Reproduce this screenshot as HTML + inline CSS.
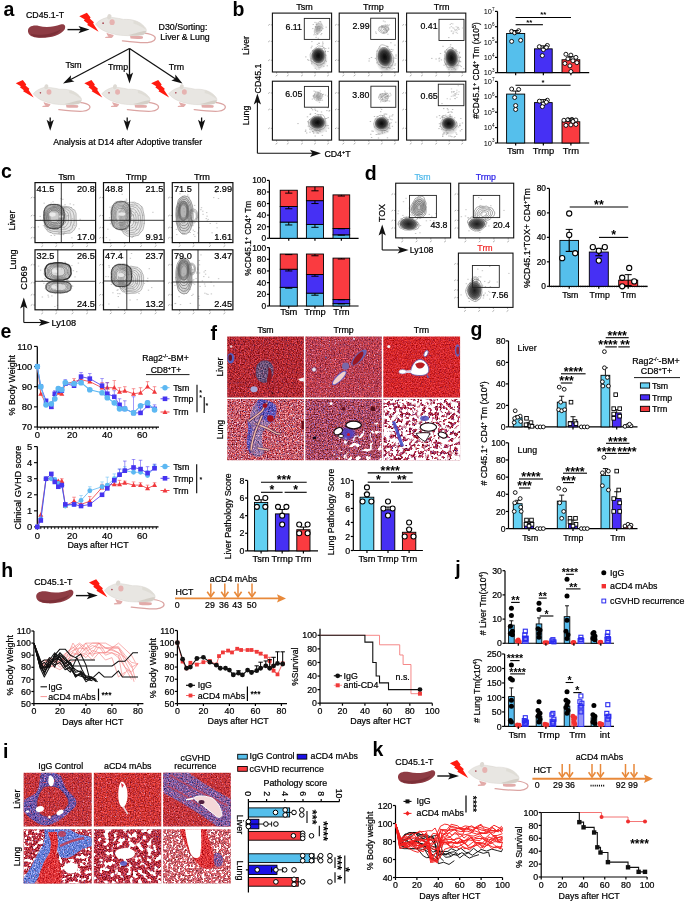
<!DOCTYPE html>
<html><head><meta charset="utf-8"><style>
html,body{margin:0;padding:0;background:#fff;overflow:hidden;}
svg{display:block;will-change:transform;}
text{font-family:"Liberation Sans", sans-serif;}
</style></head><body>
<svg width="685" height="903" viewBox="0 0 685 903" font-family='"Liberation Sans", sans-serif' fill="#000">
<defs>
<g id="mouse">
  <path d="M48.5 9 C53 9.5 57 10 59.2 12.5 C61 15 58 18 52 18.4 C44 18.8 34 17.5 26.9 16.6" fill="none" stroke="#DBA4A2" stroke-width="1.25" stroke-linecap="round"/>
  <path d="M34.5 11.2 C38 11.6 43 11.4 47 12 C48 13 47.5 14.3 46.5 14.6 C42 15 38 14.8 35 14.3 Z" fill="#E2ABA9"/>
  <path d="M11 8.5 C13 9.5 16 10.2 18.2 10.8 C18 12 17 13.2 16 13.8 L10 13.9 C9.2 13.4 9.6 12.6 10.8 12.5 L13 12.3 C12 11.2 11.2 10 11 8.5Z" fill="#E2ABA9"/>
  <path d="M0 0 C2 -2.6 6 -5.2 11 -6.6 C15 -7.6 21 -6.2 28 -4.8 C36 -5.2 43 -3.2 47 0.6 C49.8 3 51.2 5 50.8 6.8 C50.2 9.2 48.4 10.6 46.6 10.7 C40 11.6 33 11.6 28 11.3 C24 11.1 21 10.6 19 10 C15 9.1 12 8.1 10 7.3 C6 5.6 3 3.4 0 0Z" fill="#E8E6E2" stroke="#D6D2CC" stroke-width="0.5"/>
  <path d="M33 10.8 C40 9.5 46 6.5 50.8 6.8 C50.2 9.2 48.4 10.6 46.6 10.7 C41 11.5 36 11.5 33 10.8 Z" fill="#D4CFC7"/>
  <path d="M38 -3.8 C44 -2.6 48 1 50.5 5.5 C47 3 43 0.5 38 -0.8Z" fill="#DCD8D1" opacity="0.7"/>
  <ellipse cx="13.8" cy="-7.4" rx="2.1" ry="2.7" fill="#DEDAD4" transform="rotate(15 13.8 -7.4)"/>
  <ellipse cx="16.6" cy="-2" rx="2.6" ry="2.9" fill="#E6B3B1"/>
  <circle cx="7.6" cy="-1" r="0.85" fill="#A84652"/>
</g>
<g id="bolt">
  <path d="M-19.3 -15.5 L-11.7 -19 L-8 -14.2 L-8.8 -13.1 L-4.7 -9.4 L-5.4 -8.1 L0 0 L-11.4 -6.7 L-10.6 -7.9 L-14.8 -11.1 L-13.8 -12.1 Z" fill="#FF1A0F"/>
</g>
<g id="spleen">
  <path d="M0 6.2 C-0.4 1.5 5 -0.6 11 0.8 C17.5 2.4 26 1.8 32.5 -0.6 C36.5 -2 38.2 0.8 36.6 4.2 C33 10 21 13.2 11 12.5 C4 12 0.4 10 0 6.2 Z" fill="#8E3C44"/>
  <path d="M3 8.5 C10 10.5 22 10.2 33 4 C30 9.5 20 12.6 11 12.2 C6 11.8 3.5 10.6 3 8.5 Z" fill="#7C3038"/>
</g>
<g id="rarrow">
  <path d="M0 0 L-11 -3.6 L-8.6 0 L-11 3.6 Z" fill="#111"/>
</g>

<radialGradient id="gb">
 <stop offset="0" stop-color="#0a0a0a"/>
 <stop offset="0.35" stop-color="#1c1c1c"/>
 <stop offset="0.6" stop-color="#3a3a3a"/>
 <stop offset="0.8" stop-color="#777"/>
 <stop offset="0.93" stop-color="#bbb" stop-opacity="0.7"/>
 <stop offset="1" stop-color="#ddd" stop-opacity="0"/>
</radialGradient>
<radialGradient id="gbl">
 <stop offset="0" stop-color="#777"/>
 <stop offset="0.5" stop-color="#999"/>
 <stop offset="0.85" stop-color="#bbb" stop-opacity="0.6"/>
 <stop offset="1" stop-color="#ddd" stop-opacity="0"/>
</radialGradient>
<radialGradient id="gb2">
 <stop offset="0" stop-color="#1a1a1a"/>
 <stop offset="0.3" stop-color="#333"/>
 <stop offset="0.6" stop-color="#555"/>
 <stop offset="0.85" stop-color="#888"/>
 <stop offset="1" stop-color="#bbb" stop-opacity="0.3"/>
</radialGradient>
<filter id="tLivA" x="0" y="0" width="1" height="1" color-interpolation-filters="sRGB"><feTurbulence type="fractalNoise" baseFrequency="0.79" numOctaves="2" seed="3" result="n"/><feColorMatrix in="n" values="0.9 0 0 0 0.26 0.5 0 0.2 0 -0.18 0.5 0 0.45 0 -0.27 0 0 0 0 1" result="b"/><feColorMatrix in="n" values="0 0 0 0 0.28 0 0 0 0 0.1 0 0 0 0 0.3 0 4 0 0 -2.52" result="l0"/><feMerge><feMergeNode in="b"/><feMergeNode in="l0"/></feMerge><feGaussianBlur stdDeviation="0.3"/></filter>
<filter id="tLivB" x="0" y="0" width="1" height="1" color-interpolation-filters="sRGB"><feTurbulence type="fractalNoise" baseFrequency="0.79" numOctaves="2" seed="5" result="n"/><feColorMatrix in="n" values="0.9 0 0 0 0.28 0.55 0 0.25 0 -0.15 0.5 0 0.6 0 -0.23 0 0 0 0 1" result="b"/><feColorMatrix in="n" values="0 0 0 0 0.3 0 0 0 0 0.12 0 0 0 0 0.35 0 4 0 0 -2.56" result="l0"/><feColorMatrix in="n" values="0 0 0 0 0.95 0 0 0 0 0.85 0 0 0 0 0.9 0 0 4 0 -2.72" result="l1"/><feMerge><feMergeNode in="b"/><feMergeNode in="l0"/><feMergeNode in="l1"/></feMerge><feGaussianBlur stdDeviation="0.3"/></filter>
<filter id="tLivC" x="0" y="0" width="1" height="1" color-interpolation-filters="sRGB"><feTurbulence type="fractalNoise" baseFrequency="0.79" numOctaves="2" seed="7" result="n"/><feColorMatrix in="n" values="0.6 0 0 0 0.53 0.45 0 0.1 0 -0.12 0.4 0 0.35 0 -0.2 0 0 0 0 1" result="b"/><feColorMatrix in="n" values="0 0 0 0 0.45 0 0 0 0 0.1 0 0 0 0 0.25 0 4 0 0 -2.64" result="l0"/><feMerge><feMergeNode in="b"/><feMergeNode in="l0"/></feMerge><feGaussianBlur stdDeviation="0.3"/></filter>
<filter id="tGrey" x="0" y="0" width="1" height="1" color-interpolation-filters="sRGB"><feTurbulence type="fractalNoise" baseFrequency="0.79" numOctaves="2" seed="41" result="n"/><feColorMatrix in="n" values="0.9 0 0 0 -0.03 0.7 0 0.2 0 -0.12 0.7 0 0.4 0 -0.07 0 0 0 0 1" result="b"/><feColorMatrix in="n" values="0 0 0 0 0.3 0 0 0 0 0.15 0 0 0 0 0.3 0 4 0 0 -2.48" result="l0"/><feColorMatrix in="n" values="0 0 0 0 0.75 0 0 0 0 0.3 0 0 0 0 0.4 0 0 4 0 -2.56" result="l1"/><feMerge><feMergeNode in="b"/><feMergeNode in="l0"/><feMergeNode in="l1"/></feMerge><feGaussianBlur stdDeviation="0.3"/></filter>
<filter id="tBlueF" x="0" y="0" width="1" height="1" color-interpolation-filters="sRGB"><feTurbulence type="fractalNoise" baseFrequency="0.79" numOctaves="2" seed="43" result="n"/><feColorMatrix in="n" values="0.9 0 0.3 0 -0.24 0.6 0 0.3 0 -0.11 0.6 0 0.3 0 0.29 0 0 0 0 1" result="b"/><feColorMatrix in="n" values="0 0 0 0 0.7 0 0 0 0 0.2 0 0 0 0 0.35 0 4 0 0 -2.4" result="l0"/><feColorMatrix in="n" values="0 0 0 0 0.75 0 0 0 0 0.75 0 0 0 0 0.95 0 0 4 0 -2.56" result="l1"/><feColorMatrix in="n" values="0 0 0 0 0.12 0 0 0 0 0.1 0 0 0 0 0.4 0 0 0 4 -2.48" result="l2"/><feMerge><feMergeNode in="b"/><feMergeNode in="l0"/><feMergeNode in="l1"/><feMergeNode in="l2"/></feMerge><feGaussianBlur stdDeviation="0.3"/></filter>
<filter id="tGreyL" x="0" y="0" width="1" height="1" color-interpolation-filters="sRGB"><feTurbulence type="fractalNoise" baseFrequency="0.79" numOctaves="2" seed="45" result="n"/><feColorMatrix in="n" values="1.2 0 0 0 0 0.9 0 0.3 0 -0.12 0.8 0 0.5 0 0.01 0 0 0 0 1" result="b"/><feColorMatrix in="n" values="0 0 0 0 0.35 0 0 0 0 0.3 0 0 0 0 0.75 0 4 0 0 -2.4" result="l0"/><feColorMatrix in="n" values="0 0 0 0 0.8 0 0 0 0 0.3 0 0 0 0 0.4 0 0 4 0 -2.48" result="l1"/><feMerge><feMergeNode in="b"/><feMergeNode in="l0"/><feMergeNode in="l1"/></feMerge><feGaussianBlur stdDeviation="0.3"/></filter>
<filter id="tLungA" x="0" y="0" width="1" height="1" color-interpolation-filters="sRGB"><feTurbulence type="fractalNoise" baseFrequency="0.77" numOctaves="2" seed="9" result="n"/><feColorMatrix in="n" values="1.4 0 -0.3 0 0.21 1.2 0 0.3 0 -0.39 1 0 0.7 0 -0.43 0 0 0 0 1" result="b"/><feColorMatrix in="n" values="0 0 0 0 0.97 0 0 0 0 0.93 0 0 0 0 0.96 0 0 5 0 -3" result="l0"/><feColorMatrix in="n" values="0 0 0 0 0.45 0 0 0 0 0.42 0 0 0 0 0.8 0 0 0 5 -3.3" result="l1"/><feColorMatrix in="n" values="0 0 0 0 0.78 0 0 0 0 0.14 0 0 0 0 0.2 0 5 0 0 -2.9" result="l2"/><feMerge><feMergeNode in="b"/><feMergeNode in="l0"/><feMergeNode in="l1"/><feMergeNode in="l2"/></feMerge><feGaussianBlur stdDeviation="0.3"/></filter>
<filter id="tLungB" x="0" y="0" width="1" height="1" color-interpolation-filters="sRGB"><feTurbulence type="fractalNoise" baseFrequency="0.77" numOctaves="2" seed="11" result="n"/><feColorMatrix in="n" values="1.2 0 0 0 0.08 0.8 0 0.4 0 -0.3 0.8 0 1 0 -0.5 0 0 0 0 1" result="b"/><feColorMatrix in="n" values="0 0 0 0 0.45 0 0 0 0 0.4 0 0 0 0 0.8 0 0 4 0 -2.48" result="l0"/><feColorMatrix in="n" values="0 0 0 0 0.3 0 0 0 0 0.05 0 0 0 0 0.15 0 4 0 0 -2.56" result="l1"/><feMerge><feMergeNode in="b"/><feMergeNode in="l0"/><feMergeNode in="l1"/></feMerge><feGaussianBlur stdDeviation="0.3"/></filter>
<filter id="hLungB" x="0" y="0" width="1" height="1" color-interpolation-filters="sRGB"><feTurbulence type="fractalNoise" baseFrequency="0.23" numOctaves="2" seed="12" result="n"/><feColorMatrix in="n" values="0 0 0 0 1 0 0 0 0 1 0 0 0 0 1 9 0 0 0 -5.22"/></filter>
<filter id="tLungC" x="0" y="0" width="1" height="1" color-interpolation-filters="sRGB"><feTurbulence type="fractalNoise" baseFrequency="0.77" numOctaves="2" seed="13" result="n"/><feColorMatrix in="n" values="1.2 0 0 0 0.06 1 0 0.3 0 -0.47 1 0 0.8 0 -0.6 0 0 0 0 1" result="b"/><feColorMatrix in="n" values="0 0 0 0 0.3 0 0 0 0 0.2 0 0 0 0 0.6 0 5 0 0 -3.1" result="l0"/><feMerge><feMergeNode in="b"/><feMergeNode in="l0"/></feMerge></filter>
<filter id="hLungC" x="0" y="0" width="1" height="1" color-interpolation-filters="sRGB"><feTurbulence type="fractalNoise" baseFrequency="0.31" numOctaves="2" seed="14" result="n"/><feColorMatrix in="n" values="0 0 0 0 1 0 0 0 0 1 0 0 0 0 1 10 0 0 0 -4.4"/></filter>
<filter id="hLungC2" x="0" y="0" width="1" height="1" color-interpolation-filters="sRGB"><feTurbulence type="fractalNoise" baseFrequency="0.13" numOctaves="2" seed="15" result="n"/><feColorMatrix in="n" values="0 0 0 0 1 0 0 0 0 1 0 0 0 0 1 8 0 0 0 -4.8"/></filter>
<filter id="blur1" x="-50%" y="-50%" width="200%" height="200%"><feGaussianBlur stdDeviation="1"/></filter>
<filter id="blur05" x="-50%" y="-50%" width="200%" height="200%"><feGaussianBlur stdDeviation="0.5"/></filter>
<clipPath id="lbHoleClip"><path d="M333 460 L336 436 L350 432 L362 428 L384 420 L384 462Z"/></clipPath>
<clipPath id="hc1"><rect x="227.2" y="336.4" width="76.7" height="61"/></clipPath>
<clipPath id="hc2"><path d="M257 366 C258 362 263 360 267.5 361 C272 362.5 274 367.5 273 373 C272 378.5 269 382.5 264 382.5 C259 382 256 378.5 256 373 C256 370 256.3 368 257 366Z"/></clipPath>
<clipPath id="hc3"><rect x="305.4" y="336.4" width="76.4" height="61"/></clipPath>
<clipPath id="hc4"><rect x="383.3" y="336.4" width="76.8" height="61"/></clipPath>
<clipPath id="hc5"><rect x="227.2" y="399.1" width="76.7" height="61.1"/></clipPath>
<clipPath id="hc6"><path d="M258 400 C263 399 269 401 273 404 C276 408 276 414 273 419 C270 424 266 428 263 432 C261 437 262 444 264 450 C265 456 259 458 254 456 C249 452 248 445 250 438 C251 431 249 425 250 418 C251 410 254 403 258 400Z"/></clipPath>
<clipPath id="hc7"><path d="M258 400 C264 398.5 271 401 275.5 405 C278 410 276 417 272 422 C268 424 262 420 260 414 C258 410 256 404 258 400Z M247 420 C249 425 248 432 247 438 C246 444 248 452 252 456 C249 450 250 440 252 432 C252 426 250 422 247 420Z"/></clipPath>
<clipPath id="hc8"><rect x="305.4" y="399.1" width="76.4" height="61.1"/></clipPath>
<clipPath id="hc9"><rect x="383.3" y="399.1" width="76.8" height="61.1"/></clipPath>
<filter id="tIliv" x="0" y="0" width="1" height="1" color-interpolation-filters="sRGB"><feTurbulence type="fractalNoise" baseFrequency="0.79" numOctaves="2" seed="21" result="n"/><feColorMatrix in="n" values="0.8 0 0 0 0.37 0.5 0 0.2 0 -0.14 0.45 0 0.5 0 -0.24 0 0 0 0 1" result="b"/><feColorMatrix in="n" values="0 0 0 0 0.35 0 0 0 0 0.12 0 0 0 0 0.35 0 4 0 0 -2.64" result="l0"/><feColorMatrix in="n" values="0 0 0 0 0.95 0 0 0 0 0.85 0 0 0 0 0.9 0 0 4 0 -2.8" result="l1"/><feMerge><feMergeNode in="b"/><feMergeNode in="l0"/><feMergeNode in="l1"/></feMerge><feGaussianBlur stdDeviation="0.35"/></filter>
<filter id="tIliv2" x="0" y="0" width="1" height="1" color-interpolation-filters="sRGB"><feTurbulence type="fractalNoise" baseFrequency="0.79" numOctaves="2" seed="23" result="n"/><feColorMatrix in="n" values="0.8 0 0 0 0.41 0.5 0 0.2 0 -0.14 0.45 0 0.5 0 -0.26 0 0 0 0 1" result="b"/><feColorMatrix in="n" values="0 0 0 0 0.35 0 0 0 0 0.12 0 0 0 0 0.35 0 4 0 0 -2.64" result="l0"/><feColorMatrix in="n" values="0 0 0 0 0.95 0 0 0 0 0.85 0 0 0 0 0.9 0 0 4 0 -2.8" result="l1"/><feMerge><feMergeNode in="b"/><feMergeNode in="l0"/><feMergeNode in="l1"/></feMerge><feGaussianBlur stdDeviation="0.35"/></filter>
<filter id="tIblue" x="0" y="0" width="1" height="1" color-interpolation-filters="sRGB"><feTurbulence type="fractalNoise" baseFrequency="0.79" numOctaves="2" seed="25" result="n"/><feColorMatrix in="n" values="0.9 0 0.3 0 -0.22 0.6 0 0.3 0 -0.07 0.6 0 0.3 0 0.29 0 0 0 0 1" result="b"/><feColorMatrix in="n" values="0 0 0 0 0.78 0 0 0 0 0.22 0 0 0 0 0.3 0 4 0 0 -2.32" result="l0"/><feColorMatrix in="n" values="0 0 0 0 0.85 0 0 0 0 0.88 0 0 0 0 0.97 0 0 4 0 -2.56" result="l1"/><feColorMatrix in="n" values="0 0 0 0 0.2 0 0 0 0 0.2 0 0 0 0 0.5 0 0 0 4 -2.56" result="l2"/><feMerge><feMergeNode in="b"/><feMergeNode in="l0"/><feMergeNode in="l1"/><feMergeNode in="l2"/></feMerge><feGaussianBlur stdDeviation="0.35"/></filter>
<filter id="tIblueL" x="0" y="0" width="1" height="1" color-interpolation-filters="sRGB"><feTurbulence type="fractalNoise" baseFrequency="0.79" numOctaves="2" seed="26" result="n"/><feColorMatrix in="n" values="0.8 0 0.3 0 -0.15 0.6 0 0.3 0 0.05 0.6 0 0.3 0 0.4 0 0 0 0 1" result="b"/><feColorMatrix in="n" values="0 0 0 0 0.75 0 0 0 0 0.2 0 0 0 0 0.3 0 4 0 0 -2.56" result="l0"/><feColorMatrix in="n" values="0 0 0 0 0.9 0 0 0 0 0.92 0 0 0 0 0.98 0 0 4 0 -2.48" result="l1"/><feMerge><feMergeNode in="b"/><feMergeNode in="l0"/><feMergeNode in="l1"/></feMerge><feGaussianBlur stdDeviation="0.3"/></filter>
<filter id="tIpur" x="0" y="0" width="1" height="1" color-interpolation-filters="sRGB"><feTurbulence type="fractalNoise" baseFrequency="0.79" numOctaves="2" seed="35" result="n"/><feColorMatrix in="n" values="1.2 0 0.3 0 -0.25 0.7 0 0.3 0 -0.14 0.7 0 0.3 0 0.12 0 0 0 0 1" result="b"/><feColorMatrix in="n" values="0 0 0 0 0.8 0 0 0 0 0.25 0 0 0 0 0.3 0 4 0 0 -2.24" result="l0"/><feColorMatrix in="n" values="0 0 0 0 0.35 0 0 0 0 0.4 0 0 0 0 0.8 0 0 4 0 -2.4" result="l1"/><feColorMatrix in="n" values="0 0 0 0 0.9 0 0 0 0 0.85 0 0 0 0 0.92 0 0 0 4 -2.64" result="l2"/><feMerge><feMergeNode in="b"/><feMergeNode in="l0"/><feMergeNode in="l1"/><feMergeNode in="l2"/></feMerge><feGaussianBlur stdDeviation="0.35"/></filter>
<filter id="tIpur2" x="0" y="0" width="1" height="1" color-interpolation-filters="sRGB"><feTurbulence type="fractalNoise" baseFrequency="0.79" numOctaves="2" seed="37" result="n"/><feColorMatrix in="n" values="1.2 0 0.3 0 -0.33 0.7 0 0.3 0 -0.16 0.7 0 0.3 0 0.16 0 0 0 0 1" result="b"/><feColorMatrix in="n" values="0 0 0 0 0.78 0 0 0 0 0.22 0 0 0 0 0.3 0 4 0 0 -2.32" result="l0"/><feColorMatrix in="n" values="0 0 0 0 0.3 0 0 0 0 0.35 0 0 0 0 0.78 0 0 4 0 -2.4" result="l1"/><feColorMatrix in="n" values="0 0 0 0 0.85 0 0 0 0 0.85 0 0 0 0 0.95 0 0 0 4 -2.72" result="l2"/><feMerge><feMergeNode in="b"/><feMergeNode in="l0"/><feMergeNode in="l1"/><feMergeNode in="l2"/></feMerge><feGaussianBlur stdDeviation="0.35"/></filter>
<filter id="tIred" x="0" y="0" width="1" height="1" color-interpolation-filters="sRGB"><feTurbulence type="fractalNoise" baseFrequency="0.79" numOctaves="2" seed="33" result="n"/><feColorMatrix in="n" values="0.7 0 0 0 0.51 0.7 0 0.2 0 -0.25 0.6 0 0.3 0 -0.23 0 0 0 0 1" result="b"/><feColorMatrix in="n" values="0 0 0 0 0.97 0 0 0 0 0.7 0 0 0 0 0.7 0 0 4 0 -2.64" result="l0"/><feMerge><feMergeNode in="b"/><feMergeNode in="l0"/></feMerge><feGaussianBlur stdDeviation="0.3"/></filter>
<filter id="tIlung" x="0" y="0" width="1" height="1" color-interpolation-filters="sRGB"><feTurbulence type="fractalNoise" baseFrequency="0.77" numOctaves="2" seed="27" result="n"/><feColorMatrix in="n" values="1.2 0 0 0 0.12 0.8 0 0.3 0 -0.35 0.8 0 0.6 0 -0.44 0 0 0 0 1" result="b"/><feColorMatrix in="n" values="0 0 0 0 0.4 0 0 0 0 0.08 0 0 0 0 0.18 0 4 0 0 -2.56" result="l0"/><feColorMatrix in="n" values="0 0 0 0 0.35 0 0 0 0 0.3 0 0 0 0 0.7 0 0 4 0 -2.64" result="l1"/><feMerge><feMergeNode in="b"/><feMergeNode in="l0"/><feMergeNode in="l1"/></feMerge><feGaussianBlur stdDeviation="0.3"/></filter>
<filter id="hIlung1" x="0" y="0" width="1" height="1" color-interpolation-filters="sRGB"><feTurbulence type="fractalNoise" baseFrequency="0.27" numOctaves="2" seed="28" result="n"/><feColorMatrix in="n" values="0 0 0 0 1 0 0 0 0 1 0 0 0 0 1 10 0 0 0 -5.3"/></filter>
<filter id="hIlung2" x="0" y="0" width="1" height="1" color-interpolation-filters="sRGB"><feTurbulence type="fractalNoise" baseFrequency="0.21" numOctaves="2" seed="29" result="n"/><feColorMatrix in="n" values="0 0 0 0 1 0 0 0 0 1 0 0 0 0 1 10 0 0 0 -5.3"/></filter>
<filter id="tIlung3" x="0" y="0" width="1" height="1" color-interpolation-filters="sRGB"><feTurbulence type="fractalNoise" baseFrequency="0.77" numOctaves="2" seed="31" result="n"/><feColorMatrix in="n" values="1.2 0 0 0 0.2 0.8 0 0.3 0 -0.17 0.8 0 0.6 0 -0.28 0 0 0 0 1" result="b"/><feColorMatrix in="n" values="0 0 0 0 0.6 0 0 0 0 0.12 0 0 0 0 0.2 0 4 0 0 -2.4" result="l0"/><feMerge><feMergeNode in="b"/><feMergeNode in="l0"/></feMerge><feGaussianBlur stdDeviation="0.2"/></filter>
<filter id="hIlung3" x="0" y="0" width="1" height="1" color-interpolation-filters="sRGB"><feTurbulence type="fractalNoise" baseFrequency="0.42" numOctaves="2" seed="32" result="n"/><feColorMatrix in="n" values="0 0 0 0 1 0 0 0 0 1 0 0 0 0 1 10 0 0 0 -5.4"/></filter>
<clipPath id="iBand"><path d="M163 772 L186 772 C200 782 215 792 231 800 L231 826 L220 826 C205 816 185 802 163 792Z"/></clipPath>
<clipPath id="iHole4"><path d="M23 829 L46 829 C44 840 40 850 34 860 L23 870Z M60 840 L92 838 L92 884 L62 884 C60 870 62 860 60 850Z"/></clipPath>
<clipPath id="hc10"><rect x="23.6" y="772.7" width="68.1" height="53.8"/></clipPath>
<clipPath id="hc11"><path d="M41 773 C47 772 57 772 61 776 C63 783 65 789 71 794 C77 798 78 804 74 808 C69 813 64 817 58 821 C52 825 45 827 39 824 C32 820 27 816 23.5 811 L23.5 801 C27 797 33 796 36 793 C40 788 39 780 41 773Z M44 787 C50 785 58 786 62 791 C67 796 71 801 67 807 C63 812 56 815 49 817 C43 817 38 814 37 807 C36 800 39 792 44 787Z" clip-rule="evenodd"/></clipPath>
<clipPath id="hc12"><rect x="93.8" y="772.7" width="67.5" height="53.8"/></clipPath>
<clipPath id="hc13"><rect x="163.1" y="772.7" width="67.7" height="53.8"/></clipPath>
<clipPath id="hc14"><path d="M163 772 L188 772 C200 781 214 790 231 799 L231 827 L218 827 C203 816 184 803 163 793Z"/></clipPath>
<clipPath id="hc15"><rect x="23.6" y="829.3" width="68.1" height="54.1"/></clipPath>
<clipPath id="hc16"><path d="M44 829 L57 829 L58 836 L56 845 L50 855 L44 866 L38 878 L34 884 L23 884 L23 879 L31 867 L37 855 L43 845 L45 836Z"/></clipPath>
<clipPath id="hc17"><path d="M56 829 L70 829 C74 833 80 835 88 836 L92 838 L92 846 C86 847 80 850 74 855 C70 858 64 859 60 857 L57 850 L58 840Z"/></clipPath>
<clipPath id="hc18"><path d="M48 832 L57 832 L58 845 L56 855 L60 864 L62 876 L60 884 L37 884 L40 872 L44 862 L50 852 L51 843Z"/></clipPath>
<clipPath id="hc19"><rect x="93.8" y="829.3" width="67.5" height="54.1"/></clipPath>
<clipPath id="hc20"><rect x="163.1" y="829.3" width="67.7" height="54.1"/></clipPath>
<clipPath id="hc21"><path d="M180 829 C182 840 188 850 196 862 C200 868 210 872 214 866 C216 858 212 850 210 842 C208 836 206 832 207 829Z"/></clipPath>
<clipPath id="hc22"><path d="M215 853 C219 852 223 855 223 860 C223 865 220 868 216 866 C213 863 213 857 215 853Z"/></clipPath></defs>
<text x="3.4" y="16.2" font-size="19.5" font-weight="bold">a</text>
<text x="45" y="18.4" font-size="8.8" text-anchor="middle" stroke="#000" stroke-width="0.22">CD45.1-T</text>
<use href="#spleen" transform="translate(28 25.2)"/>
<line x1="67.5" y1="29.6" x2="83.5" y2="29.6" stroke="#111" stroke-width="1.4"/>
<use href="#rarrow" transform="translate(89.5 29.6)"/>
<use href="#bolt" transform="translate(98.6 31.7)"/>
<use href="#mouse" transform="translate(95.5 24.2)"/>
<text x="183" y="30.2" font-size="8.8" text-anchor="middle" stroke="#000" stroke-width="0.22">D30/Sorting:</text>
<text x="185" y="40.3" font-size="8.8" text-anchor="middle" stroke="#000" stroke-width="0.22">Liver &amp; Lung</text>
<line x1="129.5" y1="48.5" x2="68.31" y2="80.71" stroke="#111" stroke-width="1.3"/>
<use href="#rarrow" transform="translate(63 83.5) rotate(152.24) scale(1)"/>
<line x1="129.5" y1="48.5" x2="129.5" y2="77.5" stroke="#111" stroke-width="1.3"/>
<use href="#rarrow" transform="translate(129.5 83.5) rotate(90) scale(1)"/>
<line x1="129.5" y1="48.5" x2="177.49" y2="80.19" stroke="#111" stroke-width="1.3"/>
<use href="#rarrow" transform="translate(182.5 83.5) rotate(33.44) scale(1)"/>
<text x="73.6" y="68" font-size="8.8" text-anchor="middle" stroke="#000" stroke-width="0.22">Tsm</text>
<text x="118" y="69.8" font-size="8.8" text-anchor="middle" stroke="#000" stroke-width="0.22">Trmp</text>
<text x="176.4" y="69.8" font-size="8.8" text-anchor="middle" stroke="#000" stroke-width="0.22">Trm</text>
<use href="#bolt" transform="translate(33.7 97.6) scale(0.93)"/>
<use href="#mouse" transform="translate(33.2 93.8) scale(0.95)"/>
<use href="#bolt" transform="translate(102.3 97.6) scale(0.93)"/>
<use href="#mouse" transform="translate(101.8 93.8) scale(0.95)"/>
<use href="#bolt" transform="translate(169.1 97.6) scale(0.93)"/>
<use href="#mouse" transform="translate(168.6 93.8) scale(0.95)"/>
<line x1="50.2" y1="117.5" x2="50.2" y2="124.8" stroke="#111" stroke-width="1.3"/>
<use href="#rarrow" transform="translate(50.2 130.8) rotate(90) scale(1)"/>
<line x1="127.2" y1="117.5" x2="127.2" y2="124.8" stroke="#111" stroke-width="1.3"/>
<use href="#rarrow" transform="translate(127.2 130.8) rotate(90) scale(1)"/>
<line x1="201.6" y1="117.5" x2="201.6" y2="124.8" stroke="#111" stroke-width="1.3"/>
<use href="#rarrow" transform="translate(201.6 130.8) rotate(90) scale(1)"/>
<text x="127.7" y="144.6" font-size="8.75" text-anchor="middle" stroke="#000" stroke-width="0.22">Analysis at D14 after Adoptive transfer</text>
<text x="232.6" y="15.9" font-size="19.5" font-weight="bold">b</text>
<text x="304.5" y="10" font-size="9" text-anchor="middle" stroke="#000" stroke-width="0.22">Tsm</text>
<text x="373.4" y="10" font-size="9" text-anchor="middle" stroke="#000" stroke-width="0.22">Trmp</text>
<text x="441.6" y="10" font-size="9" text-anchor="middle" stroke="#000" stroke-width="0.22">Trm</text>
<line x1="268.2" y1="25.48" x2="269.8" y2="24.28" stroke="#777" stroke-width="0.6"/>
<line x1="270.8" y1="24.88" x2="272.4" y2="24.88" stroke="#777" stroke-width="0.6"/>
<line x1="268.2" y1="41.97" x2="269.8" y2="40.77" stroke="#777" stroke-width="0.6"/>
<line x1="270.8" y1="41.37" x2="272.4" y2="41.37" stroke="#777" stroke-width="0.6"/>
<line x1="268.2" y1="60.82" x2="269.8" y2="59.62" stroke="#777" stroke-width="0.6"/>
<line x1="270.8" y1="60.22" x2="272.4" y2="60.22" stroke="#777" stroke-width="0.6"/>
<line x1="275.64" y1="76.2" x2="277.44" y2="74.8" stroke="#777" stroke-width="0.6"/>
<line x1="276.54" y1="72" x2="276.54" y2="73.6" stroke="#777" stroke-width="0.6"/>
<line x1="286.89" y1="76.2" x2="288.69" y2="74.8" stroke="#777" stroke-width="0.6"/>
<line x1="287.79" y1="72" x2="287.79" y2="73.6" stroke="#777" stroke-width="0.6"/>
<line x1="301.1" y1="76.2" x2="302.9" y2="74.8" stroke="#777" stroke-width="0.6"/>
<line x1="302" y1="72" x2="302" y2="73.6" stroke="#777" stroke-width="0.6"/>
<line x1="314.12" y1="76.2" x2="315.92" y2="74.8" stroke="#777" stroke-width="0.6"/>
<line x1="315.02" y1="72" x2="315.02" y2="73.6" stroke="#777" stroke-width="0.6"/>
<line x1="327.15" y1="76.2" x2="328.95" y2="74.8" stroke="#777" stroke-width="0.6"/>
<line x1="328.05" y1="72" x2="328.05" y2="73.6" stroke="#777" stroke-width="0.6"/>
<path d="M323.5 47.9h.6M314.6 60.3h.6M312.7 57.2h.6M319.3 51.9h.6M311.1 59.1h.6M323.8 53.2h.6M316.5 69.2h.6M315.2 54.1h.6M322.7 43.7h.6M315.0 68.2h.6M325.0 51.4h.6M315.8 58.3h.6M311.4 61.6h.6M307.4 59.7h.6M317.4 57.3h.6M317.3 50.8h.6M322.0 48.4h.6M324.7 57.8h.6M321.1 53.8h.6M320.9 66.1h.6M320.3 50.5h.6M322.5 60.7h.6M305.5 56.9h.6M323.7 63.3h.6M316.4 49.2h.6M321.0 49.7h.6M325.6 55.6h.6M313.2 53.7h.6M313.8 53.8h.6M314.2 55.0h.6M319.6 61.9h.6M312.2 51.0h.6M315.9 58.1h.6M318.8 43.4h.6M327.7 51.5h.6M328.3 48.2h.6M313.0 55.9h.6M317.1 52.3h.6M322.3 45.1h.6M324.1 52.0h.6M325.2 54.8h.6M310.6 60.8h.6M318.9 54.9h.6M313.5 52.4h.6M311.0 47.8h.6M318.7 69.0h.6M321.2 61.0h.6M319.7 51.7h.6M319.3 54.7h.6M323.5 66.3h.6M325.2 60.3h.6M324.0 53.1h.6M317.8 56.2h.6M313.3 50.5h.6M313.4 54.5h.6M319.4 58.0h.6M321.7 56.6h.6M321.0 61.1h.6M322.4 42.1h.6M324.0 58.8h.6M321.7 60.9h.6M319.7 67.6h.6M316.3 61.3h.6M316.7 57.7h.6M319.9 64.0h.6M317.1 44.4h.6M321.2 55.6h.6M311.6 41.6h.6M326.0 61.4h.6M321.1 52.4h.6M318.3 67.1h.6M315.1 59.2h.6M312.7 59.0h.6M312.4 54.2h.6M316.4 63.8h.6M320.5 53.2h.6M317.5 57.3h.6M318.0 51.4h.6M322.6 59.3h.6M315.6 62.3h.6M313.2 50.4h.6M317.1 50.9h.6M311.4 62.9h.6M321.9 57.7h.6M316.2 62.2h.6M314.8 52.5h.6M323.4 51.3h.6M313.5 61.3h.6M316.6 50.7h.6M317.4 55.9h.6M314.3 59.5h.6M322.0 64.9h.6M311.3 58.4h.6M318.7 43.2h.6M313.5 57.9h.6M308.5 60.3h.6M325.4 48.6h.6M316.8 55.5h.6M315.8 37.3h.6M311.5 63.8h.6M316.8 62.1h.6M318.2 57.2h.6M321.3 50.0h.6M320.6 59.7h.6M311.7 46.2h.6M327.0 65.8h.6M316.5 59.4h.6M317.4 65.3h.6" fill="none" stroke="#888" stroke-width="0.7" stroke-linecap="round" opacity="0.8"/>
<ellipse cx="318.8" cy="58.7" rx="9.38" ry="11.05" fill="url(#gbl)" opacity="0.55" transform="rotate(0 318.8 58.7)"/>
<ellipse cx="318.3" cy="55.7" rx="7.5" ry="8.5" fill="url(#gb)" opacity="1" transform="rotate(0 318.3 55.7)"/>
<path d="M325.5 55.7 L325.5 57.2 L325.4 58.7 L325.2 60.3 L324.5 61.8 L323.7 63.2 L322.3 63.7 L321.1 64.7 L319.8 65.3 L318.3 65.0 L316.9 64.9 L315.8 63.9 L314.5 63.5 L313.4 62.6 L312.1 61.7 L311.1 60.5 L310.8 58.9 L310.3 57.4 L310.2 55.7 L310.2 54.0 L311.0 52.6 L312.1 51.5 L312.7 50.2 L313.9 49.6 L314.7 48.4 L315.8 47.8 L317.0 47.1 L318.3 45.8 L319.8 46.1 L321.2 46.3 L322.9 46.5 L324.0 47.8 L324.5 49.6 L325.4 50.9 L325.4 52.7 L325.5 54.2Z" fill="none" stroke="#444" stroke-width="0.45" opacity="0.7" stroke-linejoin="round"/>
<path d="M323.7 55.7 L324.0 56.9 L323.8 58.0 L323.7 59.3 L323.2 60.5 L322.3 61.3 L321.5 62.1 L320.4 62.6 L319.4 62.8 L318.3 62.7 L317.3 62.6 L316.2 62.3 L315.4 61.5 L314.3 61.3 L313.6 60.3 L312.8 59.4 L312.0 58.4 L311.9 57.0 L312.0 55.7 L312.2 54.4 L312.6 53.3 L313.5 52.5 L313.9 51.4 L314.9 51.0 L315.4 49.9 L316.3 49.1 L317.3 48.9 L318.3 48.0 L319.5 48.1 L320.7 48.1 L321.6 49.0 L322.5 49.9 L323.1 51.0 L323.8 52.0 L323.7 53.4 L324.0 54.5Z" fill="none" stroke="#444" stroke-width="0.45" opacity="0.7" stroke-linejoin="round"/>
<path d="M322.5 55.7 L322.4 56.6 L322.2 57.3 L322.0 58.2 L321.7 59.1 L321.3 59.9 L320.6 60.3 L319.9 60.9 L319.1 61.1 L318.3 61.1 L317.6 60.6 L316.8 60.6 L316.2 60.0 L315.5 59.6 L314.8 59.1 L314.1 58.5 L313.9 57.6 L313.5 56.7 L313.6 55.7 L313.9 54.8 L314.3 54.0 L314.8 53.3 L315.3 52.8 L315.8 52.2 L316.2 51.6 L316.8 50.9 L317.6 50.8 L318.3 50.5 L319.2 49.9 L320.0 50.2 L320.8 50.7 L321.4 51.4 L321.9 52.2 L322.3 53.0 L322.3 54.0 L322.3 54.9Z" fill="none" stroke="#444" stroke-width="0.45" opacity="0.7" stroke-linejoin="round"/>
<path d="M320.7 55.7 L320.8 56.2 L320.6 56.7 L320.6 57.3 L320.5 57.8 L320.1 58.2 L319.8 58.6 L319.3 58.9 L318.8 59.0 L318.3 59.0 L317.8 58.7 L317.4 58.6 L317.0 58.3 L316.5 58.2 L316.2 57.8 L315.8 57.4 L315.5 56.9 L315.4 56.3 L315.3 55.7 L315.6 55.1 L315.8 54.6 L316.0 54.2 L316.4 53.8 L316.8 53.5 L317.1 53.2 L317.4 52.9 L317.8 52.6 L318.3 52.2 L318.8 52.1 L319.4 52.3 L319.8 52.6 L320.2 53.1 L320.4 53.6 L320.6 54.1 L320.8 54.6 L320.9 55.2Z" fill="none" stroke="#444" stroke-width="0.45" opacity="0.7" stroke-linejoin="round"/>
<rect x="304.3" y="18.4" width="25.4" height="21" fill="none" stroke="#222" stroke-width="0.9"/>
<path d="M315.1 26.6h.6M316.2 27.1h.6M320.2 21.5h.6M317.0 26.5h.6M315.3 27.9h.6M318.0 38.3h.6M318.9 28.4h.6M320.6 24.2h.6M316.2 30.6h.6M316.5 24.5h.6M316.3 23.0h.6M321.4 33.5h.6M325.9 27.2h.6M317.3 27.6h.6M319.6 28.5h.6M320.4 27.2h.6M313.7 34.8h.6M316.5 33.0h.6M317.0 29.0h.6M313.0 24.5h.6M319.2 30.8h.6M317.3 29.0h.6M312.5 28.6h.6M316.0 24.3h.6M319.0 26.6h.6M315.4 26.8h.6M316.8 27.2h.6M318.2 26.6h.6M320.7 34.7h.6M321.0 27.0h.6M316.1 29.9h.6M317.4 33.9h.6M318.7 30.2h.6M316.3 29.1h.6M314.7 22.4h.6M318.6 23.9h.6M316.2 31.9h.6M322.7 28.6h.6M316.7 31.5h.6M320.9 30.5h.6" fill="none" stroke="#999" stroke-width="0.7" stroke-linecap="round" opacity="0.8"/>
<path d="M322.1 29.7 L321.5 30.7 L320.7 31.4 L320.1 32.1 L319.6 32.9 L318.9 33.4 L318.3 33.9 L317.6 34.3 L316.9 34.8 L316.1 35.0 L315.4 34.8 L315.0 34.2 L314.5 33.6 L314.4 32.6 L314.3 31.5 L314.4 30.4 L314.7 29.3 L315.1 28.3 L315.5 27.3 L315.9 26.4 L316.3 25.4 L316.8 24.5 L317.3 23.4 L318.0 22.8 L318.7 22.2 L319.5 21.7 L320.2 22.0 L320.7 22.2 L321.2 22.8 L321.5 23.4 L322.0 23.9 L322.2 24.6 L322.6 25.4 L322.9 26.3 L322.7 27.4 L322.3 28.6Z" fill="none" stroke="#888" stroke-width="0.5" opacity="0.9" stroke-linejoin="round"/>
<path d="M321.3 29.4 L320.9 30.2 L320.3 30.9 L319.9 31.5 L319.3 31.9 L318.8 32.4 L318.3 32.6 L317.8 33.2 L317.2 33.5 L316.7 33.4 L316.1 33.5 L315.6 33.1 L315.4 32.5 L315.2 31.7 L315.3 30.8 L315.3 30.0 L315.6 29.1 L315.8 28.3 L316.1 27.5 L316.3 26.7 L316.7 25.9 L317.1 25.2 L317.6 24.5 L318.1 23.8 L318.7 23.4 L319.3 23.3 L319.8 23.5 L320.2 23.7 L320.7 23.9 L320.9 24.4 L321.4 24.7 L321.5 25.4 L321.8 25.9 L321.7 26.8 L321.9 27.6 L321.6 28.5Z" fill="none" stroke="#888" stroke-width="0.5" opacity="0.9" stroke-linejoin="round"/>
<path d="M320.5 29.1 L320.2 29.7 L319.8 30.2 L319.5 30.6 L319.1 30.9 L318.7 31.1 L318.4 31.5 L318.0 31.9 L317.6 32.0 L317.2 32.0 L316.7 32.1 L316.4 31.8 L316.2 31.4 L316.2 30.7 L316.1 30.2 L316.3 29.5 L316.4 28.9 L316.6 28.3 L316.8 27.8 L316.9 27.2 L317.2 26.7 L317.5 26.1 L317.8 25.5 L318.2 25.2 L318.6 25.0 L319.1 24.6 L319.4 24.8 L319.8 24.9 L320.0 25.3 L320.3 25.5 L320.5 25.9 L320.7 26.2 L320.7 26.7 L321.0 27.2 L320.8 27.9 L320.7 28.5Z" fill="none" stroke="#888" stroke-width="0.5" opacity="0.9" stroke-linejoin="round"/>
<path d="M319.7 28.8 L319.5 29.2 L319.3 29.5 L319.1 29.7 L318.9 29.9 L318.7 30.1 L318.4 30.3 L318.2 30.4 L317.9 30.7 L317.7 30.6 L317.5 30.5 L317.3 30.4 L317.1 30.2 L317.0 29.9 L317.1 29.4 L317.1 29.1 L317.3 28.7 L317.3 28.4 L317.4 28.0 L317.5 27.7 L317.7 27.3 L317.9 27.0 L318.1 26.6 L318.3 26.4 L318.6 26.2 L318.8 26.2 L319.1 26.1 L319.3 26.3 L319.4 26.5 L319.6 26.6 L319.8 26.8 L319.8 27.1 L319.9 27.3 L319.9 27.7 L319.9 28.1 L319.8 28.5Z" fill="none" stroke="#888" stroke-width="0.5" opacity="0.9" stroke-linejoin="round"/>
<ellipse cx="318.5" cy="28.4" rx="3.2" ry="5" fill="url(#gbl)" opacity="0.6" transform="rotate(20 318.5 28.4)"/>
<rect x="272.4" y="13.1" width="59.2" height="58.9" fill="none" stroke="#111" stroke-width="1.1"/>
<text x="302" y="29.8" font-size="8.8" text-anchor="end" stroke="#000" stroke-width="0.22">6.11</text>
<line x1="335" y1="25.48" x2="336.6" y2="24.28" stroke="#777" stroke-width="0.6"/>
<line x1="337.6" y1="24.88" x2="339.2" y2="24.88" stroke="#777" stroke-width="0.6"/>
<line x1="335" y1="41.97" x2="336.6" y2="40.77" stroke="#777" stroke-width="0.6"/>
<line x1="337.6" y1="41.37" x2="339.2" y2="41.37" stroke="#777" stroke-width="0.6"/>
<line x1="335" y1="60.82" x2="336.6" y2="59.62" stroke="#777" stroke-width="0.6"/>
<line x1="337.6" y1="60.22" x2="339.2" y2="60.22" stroke="#777" stroke-width="0.6"/>
<line x1="342.44" y1="76.2" x2="344.24" y2="74.8" stroke="#777" stroke-width="0.6"/>
<line x1="343.34" y1="72" x2="343.34" y2="73.6" stroke="#777" stroke-width="0.6"/>
<line x1="353.69" y1="76.2" x2="355.49" y2="74.8" stroke="#777" stroke-width="0.6"/>
<line x1="354.59" y1="72" x2="354.59" y2="73.6" stroke="#777" stroke-width="0.6"/>
<line x1="367.9" y1="76.2" x2="369.7" y2="74.8" stroke="#777" stroke-width="0.6"/>
<line x1="368.8" y1="72" x2="368.8" y2="73.6" stroke="#777" stroke-width="0.6"/>
<line x1="380.92" y1="76.2" x2="382.72" y2="74.8" stroke="#777" stroke-width="0.6"/>
<line x1="381.82" y1="72" x2="381.82" y2="73.6" stroke="#777" stroke-width="0.6"/>
<line x1="393.95" y1="76.2" x2="395.75" y2="74.8" stroke="#777" stroke-width="0.6"/>
<line x1="394.85" y1="72" x2="394.85" y2="73.6" stroke="#777" stroke-width="0.6"/>
<path d="M391.8 69.1h.6M385.1 53.6h.6M378.7 59.2h.6M379.1 48.9h.6M385.8 59.9h.6M387.7 52.6h.6M384.7 58.5h.6M376.4 62.8h.6M385.8 58.0h.6M391.5 60.4h.6M389.7 56.4h.6M385.9 66.2h.6M388.5 59.9h.6M378.7 62.1h.6M385.1 64.0h.6M385.9 66.6h.6M384.4 60.4h.6M388.4 51.4h.6M382.5 55.5h.6M395.6 58.3h.6M388.3 63.3h.6M383.2 48.1h.6M390.0 56.1h.6M388.6 49.9h.6M382.3 67.8h.6M392.6 49.9h.6M377.4 58.7h.6M388.7 60.1h.6M386.4 52.1h.6M387.9 66.8h.6M382.3 49.0h.6M380.5 64.3h.6M375.2 58.4h.6M379.2 58.1h.6M383.4 59.1h.6M393.0 61.9h.6M392.0 58.0h.6M382.1 61.7h.6M369.1 58.7h.6M385.6 50.4h.6M387.3 55.1h.6M371.2 57.5h.6M379.3 55.4h.6M383.9 67.8h.6M385.3 58.8h.6M386.8 46.3h.6M391.5 51.5h.6M387.1 51.1h.6M379.3 56.2h.6M395.1 63.9h.6M381.4 57.0h.6M378.4 58.8h.6M381.5 64.1h.6M377.2 56.7h.6M380.1 54.0h.6M388.6 59.9h.6M387.9 67.3h.6M391.0 49.4h.6M387.7 46.7h.6M383.6 56.4h.6M385.6 59.1h.6M384.8 53.7h.6M390.6 65.2h.6M383.5 61.2h.6M388.3 66.2h.6M386.9 63.9h.6M383.3 51.5h.6M382.0 66.1h.6M390.1 60.0h.6M381.6 61.2h.6M393.8 68.5h.6M380.9 58.7h.6M376.7 51.1h.6M385.7 59.2h.6M390.0 67.9h.6M389.3 68.2h.6M381.7 51.1h.6M386.7 50.9h.6M386.0 69.0h.6M379.0 64.6h.6M381.3 67.9h.6M389.0 61.1h.6M395.7 56.1h.6M384.5 51.7h.6M384.7 59.9h.6M385.8 57.7h.6M390.6 42.8h.6M381.6 57.2h.6M394.7 45.1h.6M382.8 51.0h.6M381.0 63.5h.6M387.0 69.1h.6M381.4 60.9h.6M391.2 65.3h.6M382.9 66.9h.6M385.5 58.2h.6M386.2 64.9h.6M394.3 58.0h.6M382.7 63.1h.6M379.9 47.1h.6M389.3 56.3h.6M390.9 51.8h.6M368.8 61.0h.6M387.6 61.2h.6M387.9 56.4h.6M385.1 49.5h.6M387.6 53.4h.6M382.2 63.9h.6M389.7 51.9h.6M395.7 54.9h.6M389.3 65.7h.6M385.9 60.2h.6M394.6 65.2h.6" fill="none" stroke="#888" stroke-width="0.7" stroke-linecap="round" opacity="0.8"/>
<ellipse cx="385.2" cy="60" rx="10" ry="13.65" fill="url(#gbl)" opacity="0.55" transform="rotate(-10 385.2 60)"/>
<ellipse cx="384.7" cy="57" rx="8" ry="10.5" fill="url(#gb)" opacity="1" transform="rotate(-10 384.7 57)"/>
<path d="M392.8 55.6 L393.5 57.5 L393.6 59.6 L393.4 61.6 L392.8 63.4 L392.3 65.5 L390.9 66.5 L389.6 67.5 L388.0 67.5 L386.6 67.9 L385.2 67.4 L383.8 67.6 L382.3 67.1 L381.0 66.3 L379.6 65.4 L378.3 64.1 L377.6 62.2 L376.8 60.4 L376.3 58.5 L376.6 56.5 L376.4 54.6 L376.8 52.8 L377.2 51.0 L378.0 49.5 L378.9 48.1 L379.6 46.1 L380.9 45.0 L382.6 44.8 L384.2 45.2 L385.7 45.8 L387.2 46.5 L388.2 48.2 L389.5 49.2 L390.2 50.9 L390.8 52.5 L391.9 53.9Z" fill="none" stroke="#444" stroke-width="0.45" opacity="0.7" stroke-linejoin="round"/>
<path d="M390.8 55.9 L391.6 57.4 L391.9 59.1 L391.7 60.7 L391.4 62.3 L390.6 63.6 L389.7 64.7 L388.6 65.4 L387.2 65.0 L386.2 65.3 L385.1 65.3 L384.0 65.0 L382.9 64.9 L381.9 64.1 L380.6 63.7 L379.8 62.5 L379.2 61.0 L378.4 59.7 L378.4 58.1 L378.4 56.6 L378.4 55.2 L378.8 53.9 L379.1 52.5 L379.2 50.9 L379.9 49.7 L381.0 49.0 L381.8 47.6 L383.1 47.8 L384.3 47.6 L385.5 47.7 L386.6 48.8 L387.5 50.1 L388.3 51.2 L388.9 52.3 L389.5 53.5 L390.5 54.5Z" fill="none" stroke="#444" stroke-width="0.45" opacity="0.7" stroke-linejoin="round"/>
<path d="M389.0 56.2 L389.5 57.3 L389.8 58.5 L389.7 59.6 L389.6 60.9 L388.8 61.6 L388.4 62.6 L387.5 63.0 L386.6 63.1 L385.8 63.2 L385.0 63.0 L384.2 63.0 L383.4 62.8 L382.6 62.3 L381.8 61.7 L381.1 61.0 L380.6 60.0 L380.4 58.9 L380.0 57.8 L380.1 56.7 L380.1 55.7 L380.2 54.6 L380.7 53.8 L381.0 52.9 L381.4 52.0 L381.9 51.0 L382.6 50.5 L383.5 50.2 L384.4 50.2 L385.3 50.3 L386.0 51.2 L386.7 52.0 L387.4 52.6 L387.8 53.6 L388.2 54.5 L388.7 55.3Z" fill="none" stroke="#444" stroke-width="0.45" opacity="0.7" stroke-linejoin="round"/>
<path d="M387.4 56.5 L387.6 57.2 L387.8 57.9 L387.7 58.6 L387.7 59.4 L387.3 59.9 L386.9 60.4 L386.4 60.7 L385.9 60.8 L385.3 60.7 L384.9 60.7 L384.4 60.5 L383.9 60.4 L383.4 60.2 L382.9 60.0 L382.4 59.5 L382.2 58.8 L382.1 58.1 L381.9 57.5 L381.9 56.8 L382.0 56.2 L381.9 55.5 L382.2 55.0 L382.3 54.3 L382.6 53.8 L382.9 53.2 L383.4 52.8 L384.0 52.9 L384.5 52.9 L385.1 52.9 L385.6 53.4 L385.9 53.9 L386.3 54.3 L386.6 54.8 L386.9 55.4 L387.2 55.9Z" fill="none" stroke="#444" stroke-width="0.45" opacity="0.7" stroke-linejoin="round"/>
<rect x="370.7" y="18.2" width="24.8" height="21.2" fill="none" stroke="#222" stroke-width="0.9"/>
<path d="M387.9 25.7h.6M384.8 21.8h.6M383.8 32.6h.6M389.1 24.9h.6M382.5 27.5h.6M376.0 33.4h.6M386.2 29.9h.6M387.2 27.3h.6M384.8 30.8h.6M386.4 26.8h.6M380.3 30.2h.6M385.3 25.0h.6M387.5 30.2h.6M385.4 28.6h.6M385.8 32.6h.6M383.1 32.8h.6M384.9 29.6h.6M388.7 29.0h.6M385.4 26.7h.6M384.1 28.8h.6M382.5 26.3h.6M386.9 31.6h.6M381.5 26.4h.6M386.6 31.8h.6M381.1 27.2h.6M387.6 34.2h.6M387.1 24.8h.6M388.1 28.2h.6M383.3 29.5h.6M381.3 26.0h.6M375.4 32.0h.6M384.9 27.0h.6M384.2 28.2h.6M382.6 26.2h.6M383.2 21.0h.6M379.1 27.3h.6M388.3 29.8h.6M386.5 30.5h.6M383.5 29.3h.6M384.1 27.0h.6" fill="none" stroke="#999" stroke-width="0.7" stroke-linecap="round" opacity="0.8"/>
<path d="M388.2 27.6 L388.4 28.3 L388.3 29.0 L388.2 29.7 L388.0 30.4 L387.5 31.0 L387.1 31.7 L386.8 32.5 L385.9 32.9 L385.1 33.3 L384.2 33.7 L383.3 33.5 L382.4 33.4 L381.8 33.0 L381.1 32.7 L380.7 32.2 L380.0 31.9 L379.4 31.5 L379.0 31.0 L378.5 30.4 L378.3 29.7 L378.5 28.9 L378.5 28.0 L379.1 27.3 L379.9 26.8 L380.8 26.4 L381.4 25.9 L382.3 25.8 L383.1 25.5 L383.9 25.3 L384.7 25.3 L385.6 25.3 L386.3 25.6 L387.2 25.8 L387.6 26.3 L388.2 26.8Z" fill="none" stroke="#777" stroke-width="0.5" opacity="0.9" stroke-linejoin="round"/>
<path d="M387.1 28.0 L386.9 28.6 L386.9 29.1 L386.8 29.6 L386.9 30.1 L386.5 30.6 L386.3 31.1 L385.8 31.5 L385.3 32.0 L384.7 32.2 L384.0 32.3 L383.4 32.4 L382.8 32.2 L382.2 32.1 L381.8 31.7 L381.4 31.5 L381.0 31.2 L380.5 30.9 L380.2 30.5 L380.1 30.0 L379.7 29.6 L379.7 29.0 L379.9 28.4 L380.4 27.9 L380.9 27.4 L381.5 27.2 L382.0 26.8 L382.7 26.7 L383.2 26.7 L383.8 26.6 L384.4 26.4 L385.1 26.4 L385.5 26.7 L386.2 26.8 L386.5 27.2 L386.7 27.6Z" fill="none" stroke="#777" stroke-width="0.5" opacity="0.9" stroke-linejoin="round"/>
<path d="M385.6 28.6 L385.8 28.8 L385.8 29.2 L385.6 29.5 L385.6 29.8 L385.3 30.1 L385.3 30.4 L385.0 30.7 L384.7 31.0 L384.3 31.2 L383.9 31.2 L383.4 31.3 L383.1 31.1 L382.8 30.9 L382.5 30.8 L382.3 30.6 L382.1 30.4 L381.8 30.3 L381.5 30.0 L381.4 29.8 L381.4 29.4 L381.2 29.1 L381.4 28.8 L381.6 28.4 L381.9 28.1 L382.3 28.0 L382.7 27.8 L383.0 27.7 L383.4 27.6 L383.7 27.6 L384.1 27.5 L384.5 27.5 L384.9 27.6 L385.1 27.8 L385.4 28.0 L385.6 28.2Z" fill="none" stroke="#777" stroke-width="0.5" opacity="0.9" stroke-linejoin="round"/>
<rect x="339.2" y="13.1" width="59.2" height="58.9" fill="none" stroke="#111" stroke-width="1.1"/>
<text x="369.6" y="28.6" font-size="8.8" text-anchor="end" stroke="#000" stroke-width="0.22">2.99</text>
<line x1="402.4" y1="25.48" x2="404" y2="24.28" stroke="#777" stroke-width="0.6"/>
<line x1="405" y1="24.88" x2="406.6" y2="24.88" stroke="#777" stroke-width="0.6"/>
<line x1="402.4" y1="41.97" x2="404" y2="40.77" stroke="#777" stroke-width="0.6"/>
<line x1="405" y1="41.37" x2="406.6" y2="41.37" stroke="#777" stroke-width="0.6"/>
<line x1="402.4" y1="60.82" x2="404" y2="59.62" stroke="#777" stroke-width="0.6"/>
<line x1="405" y1="60.22" x2="406.6" y2="60.22" stroke="#777" stroke-width="0.6"/>
<line x1="409.84" y1="76.2" x2="411.64" y2="74.8" stroke="#777" stroke-width="0.6"/>
<line x1="410.74" y1="72" x2="410.74" y2="73.6" stroke="#777" stroke-width="0.6"/>
<line x1="421.09" y1="76.2" x2="422.89" y2="74.8" stroke="#777" stroke-width="0.6"/>
<line x1="421.99" y1="72" x2="421.99" y2="73.6" stroke="#777" stroke-width="0.6"/>
<line x1="435.3" y1="76.2" x2="437.1" y2="74.8" stroke="#777" stroke-width="0.6"/>
<line x1="436.2" y1="72" x2="436.2" y2="73.6" stroke="#777" stroke-width="0.6"/>
<line x1="448.32" y1="76.2" x2="450.12" y2="74.8" stroke="#777" stroke-width="0.6"/>
<line x1="449.22" y1="72" x2="449.22" y2="73.6" stroke="#777" stroke-width="0.6"/>
<line x1="461.35" y1="76.2" x2="463.15" y2="74.8" stroke="#777" stroke-width="0.6"/>
<line x1="462.25" y1="72" x2="462.25" y2="73.6" stroke="#777" stroke-width="0.6"/>
<path d="M453.7 61.0h.6M456.1 50.2h.6M449.2 54.7h.6M445.6 54.1h.6M448.7 58.0h.6M446.5 63.0h.6M448.5 37.6h.6M458.0 57.3h.6M447.4 61.9h.6M452.8 60.4h.6M446.8 61.3h.6M444.5 58.6h.6M451.6 61.5h.6M450.1 63.4h.6M431.5 58.4h.6M449.9 56.1h.6M459.2 52.3h.6M450.3 44.8h.6M452.3 47.7h.6M454.7 59.0h.6M451.7 48.9h.6M444.9 62.1h.6M439.0 61.0h.6M441.1 59.9h.6M456.4 55.4h.6M440.2 53.5h.6M450.5 52.0h.6M452.4 66.1h.6M450.5 56.0h.6M455.1 57.0h.6M455.5 56.8h.6M459.8 57.1h.6M444.9 59.8h.6M447.2 52.4h.6M450.1 64.4h.6M438.7 58.8h.6M449.9 58.1h.6M455.3 49.8h.6M454.5 57.5h.6M451.4 57.6h.6M449.0 55.4h.6M456.8 65.3h.6M454.0 55.8h.6M443.8 65.2h.6M456.6 61.3h.6M455.4 69.2h.6M463.4 68.7h.6M460.3 61.8h.6M455.7 60.7h.6M452.7 56.2h.6M454.9 69.8h.6M450.3 61.4h.6M454.6 59.7h.6M456.4 61.5h.6M444.7 52.4h.6M455.3 64.1h.6M457.4 61.5h.6M452.4 48.6h.6M459.0 53.2h.6M457.1 51.7h.6M447.6 60.9h.6M449.0 54.8h.6M456.3 64.6h.6M453.5 57.4h.6M446.8 56.4h.6M448.4 59.6h.6M455.6 58.6h.6M447.0 55.5h.6M458.5 61.0h.6M452.7 61.8h.6M454.7 60.9h.6M457.9 65.6h.6M435.8 59.0h.6M452.2 67.5h.6M451.5 69.4h.6M444.5 51.2h.6M450.4 54.8h.6M445.5 64.0h.6M453.0 60.1h.6M449.3 61.8h.6M450.8 54.9h.6M454.3 62.6h.6M451.9 64.9h.6M445.4 59.0h.6M448.6 69.3h.6M460.1 57.4h.6M445.5 63.4h.6M449.9 58.9h.6M445.7 64.2h.6M452.5 62.8h.6M453.2 53.7h.6M439.2 58.1h.6M448.0 56.3h.6M456.8 59.3h.6M459.8 61.3h.6M455.3 63.6h.6M455.9 51.2h.6M457.5 60.8h.6M446.1 64.3h.6M453.4 69.0h.6M455.5 62.6h.6M459.7 65.4h.6M454.0 68.5h.6M446.7 64.9h.6M451.6 53.0h.6M453.5 62.5h.6M460.9 66.6h.6M442.7 46.3h.6M451.1 58.5h.6M446.4 49.8h.6M450.4 51.9h.6" fill="none" stroke="#888" stroke-width="0.7" stroke-linecap="round" opacity="0.8"/>
<ellipse cx="452" cy="61" rx="8.5" ry="13" fill="url(#gbl)" opacity="0.55" transform="rotate(-5 452 61)"/>
<ellipse cx="451.5" cy="58" rx="6.8" ry="10" fill="url(#gb)" opacity="1" transform="rotate(-5 451.5 58)"/>
<path d="M459.2 57.3 L459.3 59.4 L459.4 61.5 L458.4 63.1 L457.8 64.7 L456.7 65.6 L455.4 66.1 L454.5 66.9 L453.3 67.0 L452.3 67.6 L451.2 67.6 L450.0 67.7 L448.7 67.7 L447.3 67.3 L446.5 65.7 L445.5 64.2 L444.7 62.5 L444.2 60.6 L444.3 58.6 L444.5 56.8 L444.4 54.9 L445.3 53.5 L445.3 51.4 L446.2 50.2 L447.1 49.0 L448.2 48.1 L449.3 47.4 L450.5 46.9 L451.8 47.8 L453.0 48.2 L454.1 49.0 L455.0 50.2 L456.0 51.1 L456.8 52.5 L457.7 53.8 L458.6 55.4Z" fill="none" stroke="#444" stroke-width="0.45" opacity="0.7" stroke-linejoin="round"/>
<path d="M457.7 57.5 L457.7 59.1 L457.5 60.7 L457.2 62.1 L456.4 63.2 L455.5 63.9 L454.8 64.7 L453.9 65.1 L453.0 65.1 L452.2 65.6 L451.3 65.8 L450.3 66.1 L449.3 65.8 L448.4 65.0 L447.3 64.4 L446.9 62.8 L446.3 61.5 L445.9 60.0 L446.1 58.5 L446.0 57.0 L446.4 55.7 L446.4 54.3 L446.7 52.9 L447.3 51.8 L447.9 50.5 L448.9 50.1 L449.7 49.4 L450.8 49.5 L451.7 49.8 L452.6 50.4 L453.5 50.9 L454.4 51.6 L455.0 52.6 L455.8 53.5 L456.3 54.8 L457.2 55.9Z" fill="none" stroke="#444" stroke-width="0.45" opacity="0.7" stroke-linejoin="round"/>
<path d="M456.0 57.6 L456.2 58.8 L456.0 60.0 L455.5 60.9 L455.0 61.7 L454.5 62.4 L453.7 62.6 L453.2 63.0 L452.6 63.1 L452.0 63.3 L451.3 63.4 L450.6 63.8 L450.0 63.4 L449.3 63.0 L448.6 62.4 L447.9 61.7 L447.8 60.5 L447.5 59.4 L447.5 58.4 L447.4 57.3 L447.6 56.3 L447.7 55.3 L448.2 54.5 L448.5 53.5 L449.0 52.8 L449.5 52.0 L450.2 51.7 L451.0 52.0 L451.7 52.2 L452.3 52.6 L452.9 53.1 L453.5 53.5 L454.1 54.1 L454.5 54.8 L455.0 55.7 L455.6 56.5Z" fill="none" stroke="#444" stroke-width="0.45" opacity="0.7" stroke-linejoin="round"/>
<path d="M454.2 57.8 L454.3 58.5 L454.3 59.2 L454.0 59.9 L453.7 60.3 L453.3 60.7 L452.9 61.0 L452.5 61.0 L452.2 61.3 L451.8 61.4 L451.4 61.6 L451.0 61.6 L450.5 61.4 L450.1 61.1 L449.8 60.7 L449.4 60.2 L449.2 59.5 L449.1 58.9 L449.1 58.2 L449.1 57.6 L449.2 57.0 L449.3 56.4 L449.5 55.9 L449.7 55.3 L450.0 54.9 L450.3 54.5 L450.8 54.4 L451.2 54.1 L451.6 54.3 L452.0 54.7 L452.4 55.0 L452.7 55.3 L453.1 55.6 L453.3 56.1 L453.8 56.5 L454.1 57.1Z" fill="none" stroke="#444" stroke-width="0.45" opacity="0.7" stroke-linejoin="round"/>
<rect x="439" y="19.3" width="25" height="21.2" fill="none" stroke="#222" stroke-width="0.9"/>
<path d="M452.5 27.8h.6M458.1 29.2h.6M455.0 30.6h.6M451.6 31.0h.6M457.3 28.2h.6M462.3 28.0h.6M454.5 29.6h.6M457.1 33.3h.6M450.0 24.5h.6M458.1 27.6h.6M453.6 28.2h.6M459.0 29.2h.6M452.5 23.9h.6M451.1 26.6h.6M451.1 23.5h.6M456.7 30.7h.6M452.8 33.7h.6M455.9 26.8h.6M456.1 29.5h.6M452.8 33.1h.6M451.0 31.1h.6M453.5 31.9h.6M455.9 32.4h.6M449.5 27.9h.6M457.4 27.2h.6" fill="none" stroke="#aaa" stroke-width="0.7" stroke-linecap="round" opacity="0.8"/>
<rect x="406.6" y="13.1" width="59.2" height="58.9" fill="none" stroke="#111" stroke-width="1.1"/>
<text x="437.6" y="28.9" font-size="8.8" text-anchor="end" stroke="#000" stroke-width="0.22">0.41</text>
<line x1="268.2" y1="93.58" x2="269.8" y2="92.38" stroke="#777" stroke-width="0.6"/>
<line x1="270.8" y1="92.98" x2="272.4" y2="92.98" stroke="#777" stroke-width="0.6"/>
<line x1="268.2" y1="110.07" x2="269.8" y2="108.87" stroke="#777" stroke-width="0.6"/>
<line x1="270.8" y1="109.47" x2="272.4" y2="109.47" stroke="#777" stroke-width="0.6"/>
<line x1="268.2" y1="128.92" x2="269.8" y2="127.72" stroke="#777" stroke-width="0.6"/>
<line x1="270.8" y1="128.32" x2="272.4" y2="128.32" stroke="#777" stroke-width="0.6"/>
<line x1="275.64" y1="144.3" x2="277.44" y2="142.9" stroke="#777" stroke-width="0.6"/>
<line x1="276.54" y1="140.1" x2="276.54" y2="141.7" stroke="#777" stroke-width="0.6"/>
<line x1="286.89" y1="144.3" x2="288.69" y2="142.9" stroke="#777" stroke-width="0.6"/>
<line x1="287.79" y1="140.1" x2="287.79" y2="141.7" stroke="#777" stroke-width="0.6"/>
<line x1="301.1" y1="144.3" x2="302.9" y2="142.9" stroke="#777" stroke-width="0.6"/>
<line x1="302" y1="140.1" x2="302" y2="141.7" stroke="#777" stroke-width="0.6"/>
<line x1="314.12" y1="144.3" x2="315.92" y2="142.9" stroke="#777" stroke-width="0.6"/>
<line x1="315.02" y1="140.1" x2="315.02" y2="141.7" stroke="#777" stroke-width="0.6"/>
<line x1="327.15" y1="144.3" x2="328.95" y2="142.9" stroke="#777" stroke-width="0.6"/>
<line x1="328.05" y1="140.1" x2="328.05" y2="141.7" stroke="#777" stroke-width="0.6"/>
<path d="M318.0 133.3h.6M312.4 131.4h.6M316.1 122.7h.6M327.9 125.6h.6M317.3 129.6h.6M323.7 124.3h.6M320.7 117.7h.6M315.5 121.4h.6M310.2 113.9h.6M308.6 122.8h.6M316.6 122.3h.6M317.9 115.2h.6M317.1 126.2h.6M321.6 118.6h.6M315.3 110.4h.6M314.7 109.1h.6M309.7 132.2h.6M305.4 130.1h.6M319.3 122.3h.6M320.0 128.2h.6M323.2 122.9h.6M314.2 120.3h.6M312.1 124.2h.6M313.2 132.0h.6M307.2 116.8h.6M312.3 109.8h.6M328.0 107.6h.6M315.9 120.8h.6M326.6 110.6h.6M323.4 119.4h.6M316.6 119.8h.6M321.0 116.5h.6M317.1 127.0h.6M327.6 107.7h.6M325.9 131.1h.6M314.8 126.6h.6M314.9 136.0h.6M318.7 123.0h.6M316.2 123.1h.6M316.5 118.3h.6M328.8 111.1h.6M297.7 123.6h.6M316.7 127.1h.6M316.4 123.5h.6M319.3 131.3h.6M315.0 121.9h.6M328.2 128.2h.6M321.8 120.4h.6M311.0 126.6h.6M312.9 117.1h.6M310.4 121.0h.6M323.6 121.5h.6M309.5 129.2h.6M317.9 130.4h.6M324.1 123.3h.6M316.7 124.2h.6M311.3 129.2h.6M325.0 125.7h.6M316.2 122.7h.6M313.2 118.9h.6M315.3 118.6h.6M315.1 113.5h.6M319.4 124.8h.6M311.2 108.4h.6M317.5 132.2h.6M313.5 121.1h.6M314.4 129.1h.6M312.5 131.4h.6M315.8 131.0h.6M317.7 122.9h.6M309.4 119.7h.6M316.1 129.1h.6M318.8 119.6h.6M319.8 131.4h.6M316.7 121.4h.6M315.3 130.2h.6M320.5 118.0h.6M319.6 121.1h.6M313.4 133.2h.6M322.0 119.4h.6M317.9 128.0h.6M314.0 123.7h.6M321.2 112.0h.6M319.3 129.7h.6M320.3 115.1h.6M319.3 118.5h.6M320.6 128.7h.6M318.7 119.1h.6M314.2 130.5h.6M312.6 128.0h.6M320.3 122.5h.6M329.3 110.4h.6M305.2 131.4h.6M321.0 122.3h.6M317.2 111.2h.6M314.0 117.3h.6M316.3 130.7h.6M317.8 127.1h.6M313.7 121.5h.6M318.1 122.5h.6M324.5 118.4h.6M327.9 117.6h.6M323.3 119.1h.6M326.6 125.5h.6M319.7 129.7h.6M314.0 117.2h.6M306.4 133.0h.6M313.7 120.4h.6M308.0 126.2h.6M315.3 128.2h.6M307.6 121.7h.6M322.1 135.4h.6M326.3 118.5h.6M317.8 123.7h.6M309.9 114.4h.6M321.7 126.2h.6M316.7 133.0h.6" fill="none" stroke="#888" stroke-width="0.7" stroke-linecap="round" opacity="0.8"/>
<ellipse cx="318" cy="125.5" rx="10.62" ry="9.1" fill="url(#gbl)" opacity="0.55" transform="rotate(0 318 125.5)"/>
<ellipse cx="317.5" cy="122.5" rx="8.5" ry="7" fill="url(#gb)" opacity="1" transform="rotate(0 317.5 122.5)"/>
<path d="M325.7 122.5 L325.7 123.7 L325.5 125.0 L325.3 126.3 L324.5 127.5 L323.6 128.7 L322.0 129.1 L320.7 129.9 L319.1 130.4 L317.5 130.2 L315.9 130.1 L314.6 129.2 L313.1 128.9 L311.9 128.1 L310.5 127.5 L309.4 126.5 L309.0 125.1 L308.4 123.9 L308.4 122.5 L308.3 121.1 L309.2 119.9 L310.5 119.1 L311.2 118.0 L312.5 117.5 L313.4 116.5 L314.7 116.0 L316.0 115.4 L317.5 114.4 L319.2 114.6 L320.8 114.8 L322.7 114.9 L324.0 116.0 L324.6 117.5 L325.5 118.6 L325.5 120.0 L325.7 121.3Z" fill="none" stroke="#444" stroke-width="0.45" opacity="0.7" stroke-linejoin="round"/>
<path d="M323.7 122.5 L324.0 123.5 L323.7 124.4 L323.6 125.5 L323.1 126.5 L322.1 127.1 L321.1 127.8 L319.9 128.1 L318.7 128.3 L317.5 128.2 L316.3 128.2 L315.1 128.0 L314.2 127.3 L313.0 127.1 L312.1 126.3 L311.3 125.5 L310.4 124.7 L310.2 123.6 L310.3 122.5 L310.6 121.5 L311.0 120.5 L312.1 119.8 L312.5 118.9 L313.6 118.6 L314.3 117.7 L315.2 117.1 L316.3 116.9 L317.5 116.2 L318.8 116.2 L320.2 116.3 L321.2 117.0 L322.2 117.7 L323.0 118.6 L323.8 119.4 L323.6 120.6 L324.0 121.5Z" fill="none" stroke="#444" stroke-width="0.45" opacity="0.7" stroke-linejoin="round"/>
<path d="M322.2 122.5 L322.2 123.2 L321.9 123.9 L321.7 124.6 L321.4 125.3 L320.9 126.0 L320.1 126.3 L319.3 126.8 L318.4 126.9 L317.5 126.9 L316.7 126.5 L315.8 126.6 L315.1 126.0 L314.3 125.7 L313.5 125.3 L312.8 124.8 L312.5 124.0 L312.1 123.3 L312.2 122.5 L312.6 121.8 L313.0 121.1 L313.5 120.6 L314.1 120.1 L314.7 119.7 L315.2 119.1 L315.8 118.6 L316.7 118.4 L317.5 118.2 L318.5 117.7 L319.4 118.0 L320.3 118.4 L321.0 119.0 L321.6 119.6 L322.0 120.3 L322.0 121.1 L322.0 121.8Z" fill="none" stroke="#444" stroke-width="0.45" opacity="0.7" stroke-linejoin="round"/>
<path d="M320.2 122.5 L320.4 122.9 L320.1 123.3 L320.1 123.8 L320.0 124.2 L319.5 124.5 L319.2 124.9 L318.6 125.2 L318.1 125.2 L317.5 125.2 L317.0 125.0 L316.5 124.9 L316.0 124.7 L315.5 124.6 L315.1 124.2 L314.7 123.9 L314.3 123.5 L314.2 123.0 L314.1 122.5 L314.4 122.0 L314.7 121.6 L314.9 121.3 L315.4 121.0 L315.7 120.7 L316.1 120.4 L316.5 120.2 L317.0 120.0 L317.5 119.6 L318.1 119.6 L318.7 119.7 L319.2 120.0 L319.7 120.3 L319.9 120.8 L320.1 121.2 L320.3 121.6 L320.4 122.1Z" fill="none" stroke="#444" stroke-width="0.45" opacity="0.7" stroke-linejoin="round"/>
<rect x="304.4" y="86.4" width="24.1" height="20.8" fill="none" stroke="#222" stroke-width="0.9"/>
<path d="M313.8 97.8h.6M320.4 94.2h.6M313.5 96.0h.6M318.9 100.7h.6M313.8 91.1h.6M319.6 98.2h.6M322.1 100.2h.6M317.1 95.2h.6M325.2 95.1h.6M315.1 91.7h.6M317.7 96.9h.6M316.4 96.1h.6M318.3 99.1h.6M320.7 97.1h.6M312.1 99.1h.6M313.2 95.6h.6M313.0 96.3h.6M315.1 97.2h.6M327.4 96.1h.6M320.0 91.0h.6M316.6 98.9h.6M317.2 97.8h.6M317.8 92.3h.6M319.1 93.1h.6M323.1 94.3h.6M319.5 96.3h.6M320.3 93.9h.6M320.4 95.8h.6M321.2 98.8h.6M317.9 93.2h.6M319.8 98.2h.6M322.4 94.8h.6M319.1 98.3h.6M318.3 97.1h.6M318.0 93.9h.6M314.4 94.7h.6M319.2 102.3h.6M320.4 100.5h.6M319.8 99.1h.6M318.0 99.4h.6" fill="none" stroke="#999" stroke-width="0.7" stroke-linecap="round" opacity="0.8"/>
<path d="M322.8 96.3 L322.5 97.1 L321.9 97.6 L321.4 98.2 L321.2 98.8 L320.6 99.3 L320.1 99.7 L319.4 100.1 L318.8 100.5 L317.9 100.8 L317.1 100.9 L316.3 100.6 L315.5 100.3 L314.9 99.7 L314.3 99.1 L314.0 98.4 L313.9 97.7 L313.9 97.0 L313.9 96.3 L314.0 95.6 L314.1 95.0 L314.3 94.3 L314.4 93.6 L315.0 93.0 L315.6 92.5 L316.3 92.0 L317.1 92.0 L317.9 92.1 L318.7 92.3 L319.4 92.6 L320.1 92.8 L320.7 93.2 L321.5 93.5 L322.2 94.0 L322.5 94.8 L322.5 95.6Z" fill="none" stroke="#888" stroke-width="0.5" opacity="0.9" stroke-linejoin="round"/>
<path d="M321.7 96.3 L321.5 96.9 L321.2 97.4 L320.9 97.9 L320.4 98.3 L320.0 98.6 L319.6 98.9 L319.2 99.4 L318.6 99.7 L317.9 99.7 L317.3 99.9 L316.6 99.8 L316.0 99.5 L315.5 99.0 L315.2 98.5 L314.9 98.0 L314.9 97.3 L314.7 96.8 L314.8 96.3 L314.7 95.8 L314.7 95.2 L315.0 94.7 L315.2 94.1 L315.5 93.6 L316.1 93.2 L316.7 93.1 L317.3 93.0 L317.9 93.0 L318.6 93.1 L319.1 93.4 L319.7 93.4 L320.2 93.8 L320.8 94.1 L321.1 94.6 L321.6 95.1 L321.6 95.7Z" fill="none" stroke="#888" stroke-width="0.5" opacity="0.9" stroke-linejoin="round"/>
<path d="M320.6 96.3 L320.5 96.7 L320.3 97.1 L320.0 97.4 L319.7 97.7 L319.4 97.9 L319.1 98.2 L318.8 98.5 L318.4 98.7 L317.9 98.7 L317.5 98.9 L317.0 98.8 L316.5 98.7 L316.2 98.2 L315.9 97.9 L315.9 97.4 L315.7 97.1 L315.7 96.7 L315.7 96.3 L315.6 95.9 L315.8 95.6 L315.8 95.1 L315.9 94.7 L316.3 94.4 L316.6 94.2 L317.0 93.9 L317.5 93.9 L317.9 93.9 L318.4 94.1 L318.8 94.1 L319.2 94.3 L319.6 94.5 L319.9 94.8 L320.3 95.0 L320.4 95.5 L320.6 95.9Z" fill="none" stroke="#888" stroke-width="0.5" opacity="0.9" stroke-linejoin="round"/>
<path d="M319.5 96.3 L319.5 96.5 L319.4 96.8 L319.2 97.0 L319.0 97.1 L318.9 97.3 L318.7 97.5 L318.4 97.6 L318.2 97.8 L317.9 97.8 L317.7 97.8 L317.4 97.8 L317.1 97.7 L316.8 97.5 L316.8 97.2 L316.6 97.0 L316.6 96.7 L316.6 96.5 L316.5 96.3 L316.5 96.1 L316.5 95.8 L316.6 95.6 L316.7 95.3 L316.9 95.1 L317.1 95.0 L317.4 94.9 L317.7 94.8 L317.9 94.9 L318.2 94.9 L318.5 95.0 L318.7 95.0 L318.9 95.2 L319.2 95.3 L319.3 95.5 L319.5 95.8 L319.5 96.0Z" fill="none" stroke="#888" stroke-width="0.5" opacity="0.9" stroke-linejoin="round"/>
<ellipse cx="317.95" cy="96.3" rx="3.2" ry="3.5" fill="url(#gbl)" opacity="0.6" transform="rotate(0 317.95 96.3)"/>
<rect x="272.4" y="81.2" width="59.2" height="58.9" fill="none" stroke="#111" stroke-width="1.1"/>
<text x="302.3" y="97.2" font-size="8.8" text-anchor="end" stroke="#000" stroke-width="0.22">6.05</text>
<line x1="335" y1="93.58" x2="336.6" y2="92.38" stroke="#777" stroke-width="0.6"/>
<line x1="337.6" y1="92.98" x2="339.2" y2="92.98" stroke="#777" stroke-width="0.6"/>
<line x1="335" y1="110.07" x2="336.6" y2="108.87" stroke="#777" stroke-width="0.6"/>
<line x1="337.6" y1="109.47" x2="339.2" y2="109.47" stroke="#777" stroke-width="0.6"/>
<line x1="335" y1="128.92" x2="336.6" y2="127.72" stroke="#777" stroke-width="0.6"/>
<line x1="337.6" y1="128.32" x2="339.2" y2="128.32" stroke="#777" stroke-width="0.6"/>
<line x1="342.44" y1="144.3" x2="344.24" y2="142.9" stroke="#777" stroke-width="0.6"/>
<line x1="343.34" y1="140.1" x2="343.34" y2="141.7" stroke="#777" stroke-width="0.6"/>
<line x1="353.69" y1="144.3" x2="355.49" y2="142.9" stroke="#777" stroke-width="0.6"/>
<line x1="354.59" y1="140.1" x2="354.59" y2="141.7" stroke="#777" stroke-width="0.6"/>
<line x1="367.9" y1="144.3" x2="369.7" y2="142.9" stroke="#777" stroke-width="0.6"/>
<line x1="368.8" y1="140.1" x2="368.8" y2="141.7" stroke="#777" stroke-width="0.6"/>
<line x1="380.92" y1="144.3" x2="382.72" y2="142.9" stroke="#777" stroke-width="0.6"/>
<line x1="381.82" y1="140.1" x2="381.82" y2="141.7" stroke="#777" stroke-width="0.6"/>
<line x1="393.95" y1="144.3" x2="395.75" y2="142.9" stroke="#777" stroke-width="0.6"/>
<line x1="394.85" y1="140.1" x2="394.85" y2="141.7" stroke="#777" stroke-width="0.6"/>
<path d="M381.8 128.7h.6M379.1 127.9h.6M386.7 128.3h.6M390.2 119.2h.6M382.0 120.5h.6M377.3 124.1h.6M382.8 128.3h.6M386.3 114.2h.6M382.7 121.0h.6M378.8 134.5h.6M380.4 111.7h.6M383.3 123.4h.6M375.1 119.0h.6M378.2 125.2h.6M379.3 125.9h.6M391.7 119.8h.6M377.2 123.7h.6M387.6 120.5h.6M389.5 116.2h.6M375.9 125.0h.6M376.9 121.1h.6M384.1 130.5h.6M382.2 123.5h.6M389.0 128.2h.6M380.3 133.9h.6M376.6 126.6h.6M385.2 125.3h.6M378.4 127.9h.6M378.6 121.2h.6M376.0 134.5h.6M378.6 133.5h.6M383.7 123.6h.6M385.3 127.3h.6M382.3 115.8h.6M382.0 131.7h.6M384.3 132.4h.6M389.8 128.3h.6M392.5 114.8h.6M380.3 107.7h.6M386.1 126.1h.6M390.9 122.8h.6M370.5 134.3h.6M374.2 116.5h.6M380.6 129.8h.6M378.8 126.7h.6M371.3 137.5h.6M381.2 126.2h.6M384.8 126.6h.6M382.7 118.9h.6M381.0 128.5h.6M387.3 124.6h.6M382.1 127.8h.6M384.7 126.8h.6M380.2 121.8h.6M387.8 127.5h.6M386.5 131.4h.6M382.4 118.3h.6M387.9 124.8h.6M381.9 132.6h.6M387.2 127.1h.6M384.8 118.2h.6M385.7 126.5h.6M381.8 130.2h.6M382.7 127.2h.6M388.0 121.5h.6M387.2 125.0h.6M388.1 119.5h.6M383.9 114.2h.6M379.2 125.5h.6M391.7 116.0h.6M377.4 134.2h.6M384.0 115.8h.6M384.3 117.5h.6M376.9 116.6h.6M383.7 124.7h.6M395.4 122.2h.6M380.8 123.6h.6M383.9 123.2h.6M389.6 123.4h.6M384.7 127.0h.6M376.9 118.6h.6M381.3 109.4h.6M381.7 126.0h.6M382.4 124.9h.6M383.5 123.0h.6M385.1 114.0h.6M386.6 119.3h.6M384.3 122.2h.6M379.3 119.9h.6M389.0 117.8h.6M375.0 126.9h.6M383.0 125.7h.6M376.3 120.9h.6M386.6 118.2h.6M385.0 130.5h.6M382.3 116.9h.6M392.1 126.3h.6M382.7 122.8h.6M376.4 123.6h.6M382.7 119.5h.6M382.2 133.4h.6M384.0 124.7h.6M387.4 131.8h.6M386.6 119.9h.6M371.7 131.0h.6M381.9 122.8h.6M384.3 122.3h.6M378.2 138.0h.6M372.9 131.3h.6M387.2 137.8h.6M383.0 129.0h.6M376.6 125.6h.6M370.1 121.5h.6M381.5 124.7h.6" fill="none" stroke="#888" stroke-width="0.7" stroke-linecap="round" opacity="0.8"/>
<ellipse cx="382.1" cy="126.4" rx="9.38" ry="8.84" fill="url(#gbl)" opacity="0.55" transform="rotate(0 382.1 126.4)"/>
<ellipse cx="381.6" cy="123.4" rx="7.5" ry="6.8" fill="url(#gb)" opacity="1" transform="rotate(0 381.6 123.4)"/>
<path d="M389.3 123.4 L389.6 124.7 L389.4 126.0 L388.9 127.3 L388.0 128.4 L387.2 129.6 L385.8 130.2 L384.4 130.6 L382.9 130.5 L381.6 130.6 L380.3 130.1 L379.0 130.1 L377.8 129.6 L376.7 128.9 L375.5 128.2 L374.5 127.2 L374.2 125.9 L373.7 124.7 L373.6 123.4 L374.2 122.2 L374.4 120.9 L375.0 119.8 L375.6 118.7 L376.6 117.9 L377.7 117.1 L378.7 115.9 L380.1 115.3 L381.6 115.4 L383.0 115.8 L384.3 116.4 L385.6 117.0 L386.3 118.2 L387.3 119.0 L387.7 120.1 L388.0 121.2 L388.7 122.2Z" fill="none" stroke="#444" stroke-width="0.45" opacity="0.7" stroke-linejoin="round"/>
<path d="M387.4 123.4 L387.9 124.4 L387.9 125.5 L387.4 126.5 L386.9 127.5 L386.0 128.3 L385.0 128.8 L383.9 129.2 L382.6 128.8 L381.6 128.8 L380.6 128.8 L379.6 128.4 L378.6 128.2 L377.8 127.6 L376.7 127.2 L376.1 126.3 L375.9 125.4 L375.4 124.4 L375.6 123.4 L375.8 122.5 L376.1 121.5 L376.7 120.7 L377.1 119.9 L377.6 118.9 L378.4 118.2 L379.4 117.9 L380.4 117.1 L381.6 117.4 L382.7 117.4 L383.9 117.6 L384.7 118.4 L385.3 119.3 L385.8 120.1 L386.3 120.9 L386.6 121.7 L387.3 122.5Z" fill="none" stroke="#444" stroke-width="0.45" opacity="0.7" stroke-linejoin="round"/>
<path d="M385.7 123.4 L386.0 124.1 L386.1 124.9 L385.8 125.6 L385.5 126.5 L384.7 126.8 L384.1 127.4 L383.2 127.5 L382.4 127.5 L381.6 127.5 L380.9 127.2 L380.1 127.2 L379.4 126.9 L378.8 126.5 L378.2 126.1 L377.6 125.6 L377.3 124.8 L377.3 124.1 L377.1 123.4 L377.4 122.7 L377.6 122.0 L377.8 121.4 L378.4 120.9 L378.9 120.4 L379.4 119.8 L380.0 119.2 L380.8 119.0 L381.6 118.9 L382.4 119.0 L383.2 119.2 L383.8 119.9 L384.3 120.4 L384.8 120.9 L385.0 121.6 L385.2 122.2 L385.6 122.7Z" fill="none" stroke="#444" stroke-width="0.45" opacity="0.7" stroke-linejoin="round"/>
<path d="M384.2 123.4 L384.2 123.8 L384.3 124.3 L384.1 124.8 L384.0 125.3 L383.5 125.5 L383.1 125.8 L382.6 126.0 L382.1 126.0 L381.6 125.8 L381.1 125.8 L380.7 125.6 L380.3 125.5 L379.9 125.3 L379.4 125.1 L379.1 124.7 L379.0 124.3 L379.0 123.8 L378.9 123.4 L379.1 123.0 L379.2 122.6 L379.3 122.2 L379.6 121.9 L379.8 121.4 L380.2 121.2 L380.6 120.8 L381.1 120.6 L381.6 120.7 L382.1 120.7 L382.6 120.8 L383.0 121.2 L383.3 121.6 L383.5 121.9 L383.7 122.2 L383.9 122.6 L384.0 123.0Z" fill="none" stroke="#444" stroke-width="0.45" opacity="0.7" stroke-linejoin="round"/>
<rect x="370.9" y="86.2" width="24.9" height="21.1" fill="none" stroke="#222" stroke-width="0.9"/>
<path d="M386.7 100.2h.6M382.1 93.7h.6M385.5 101.5h.6M385.6 92.9h.6M382.1 96.2h.6M387.2 96.3h.6M383.4 95.7h.6M384.9 94.2h.6M384.4 97.1h.6M389.3 96.2h.6M387.3 93.3h.6M387.0 96.8h.6M382.9 96.3h.6M387.1 95.4h.6M387.5 100.8h.6M389.2 101.1h.6M380.7 97.4h.6M382.4 99.1h.6M384.7 97.0h.6M385.8 94.6h.6M384.7 94.2h.6M390.6 95.0h.6M384.5 91.2h.6M380.1 93.9h.6M386.8 98.6h.6M385.3 94.5h.6M389.9 93.3h.6M381.9 97.8h.6M381.5 97.1h.6M387.3 96.2h.6M385.7 96.5h.6M380.9 96.3h.6M379.6 94.7h.6M385.1 100.3h.6M380.4 94.8h.6M385.1 97.9h.6M380.4 101.8h.6M382.0 99.6h.6M383.9 97.6h.6" fill="none" stroke="#999" stroke-width="0.7" stroke-linecap="round" opacity="0.8"/>
<path d="M388.4 95.6 L388.6 96.2 L388.5 96.9 L388.5 97.6 L388.3 98.3 L387.8 99.0 L387.4 99.6 L387.0 100.5 L386.2 100.9 L385.3 101.2 L384.4 101.7 L383.5 101.5 L382.7 101.4 L382.0 100.9 L381.4 100.6 L380.9 100.1 L380.3 99.9 L379.7 99.5 L379.3 98.9 L378.7 98.3 L378.5 97.6 L378.8 96.8 L378.8 96.0 L379.4 95.3 L380.2 94.8 L381.0 94.4 L381.7 93.8 L382.6 93.7 L383.3 93.5 L384.2 93.3 L385.0 93.3 L385.9 93.2 L386.6 93.5 L387.4 93.7 L387.9 94.3 L388.5 94.8Z" fill="none" stroke="#777" stroke-width="0.5" opacity="0.9" stroke-linejoin="round"/>
<path d="M387.3 96.0 L387.2 96.5 L387.1 97.0 L387.1 97.5 L387.1 98.1 L386.8 98.5 L386.5 99.1 L386.0 99.5 L385.5 99.9 L384.9 100.2 L384.3 100.3 L383.6 100.3 L383.0 100.2 L382.5 100.0 L382.1 99.7 L381.6 99.5 L381.2 99.2 L380.8 98.9 L380.5 98.5 L380.3 98.0 L379.9 97.5 L379.9 96.9 L380.1 96.3 L380.6 95.8 L381.1 95.4 L381.8 95.1 L382.3 94.8 L382.9 94.7 L383.5 94.6 L384.1 94.6 L384.7 94.3 L385.3 94.3 L385.8 94.6 L386.4 94.7 L386.8 95.1 L387.0 95.6Z" fill="none" stroke="#777" stroke-width="0.5" opacity="0.9" stroke-linejoin="round"/>
<path d="M385.9 96.5 L386.0 96.8 L386.0 97.1 L385.8 97.4 L385.8 97.7 L385.6 98.0 L385.5 98.4 L385.2 98.6 L384.9 98.9 L384.5 99.1 L384.1 99.1 L383.7 99.2 L383.4 99.0 L383.1 98.8 L382.8 98.7 L382.6 98.5 L382.3 98.4 L382.1 98.2 L381.8 98.0 L381.7 97.7 L381.6 97.4 L381.4 97.0 L381.7 96.7 L381.8 96.4 L382.1 96.1 L382.6 95.9 L382.9 95.8 L383.3 95.7 L383.6 95.6 L384.0 95.5 L384.3 95.5 L384.7 95.5 L385.1 95.5 L385.4 95.7 L385.6 95.9 L385.9 96.2Z" fill="none" stroke="#777" stroke-width="0.5" opacity="0.9" stroke-linejoin="round"/>
<rect x="339.2" y="81.2" width="59.2" height="58.9" fill="none" stroke="#111" stroke-width="1.1"/>
<text x="369.4" y="97.5" font-size="8.8" text-anchor="end" stroke="#000" stroke-width="0.22">3.80</text>
<line x1="402.4" y1="93.58" x2="404" y2="92.38" stroke="#777" stroke-width="0.6"/>
<line x1="405" y1="92.98" x2="406.6" y2="92.98" stroke="#777" stroke-width="0.6"/>
<line x1="402.4" y1="110.07" x2="404" y2="108.87" stroke="#777" stroke-width="0.6"/>
<line x1="405" y1="109.47" x2="406.6" y2="109.47" stroke="#777" stroke-width="0.6"/>
<line x1="402.4" y1="128.92" x2="404" y2="127.72" stroke="#777" stroke-width="0.6"/>
<line x1="405" y1="128.32" x2="406.6" y2="128.32" stroke="#777" stroke-width="0.6"/>
<line x1="409.84" y1="144.3" x2="411.64" y2="142.9" stroke="#777" stroke-width="0.6"/>
<line x1="410.74" y1="140.1" x2="410.74" y2="141.7" stroke="#777" stroke-width="0.6"/>
<line x1="421.09" y1="144.3" x2="422.89" y2="142.9" stroke="#777" stroke-width="0.6"/>
<line x1="421.99" y1="140.1" x2="421.99" y2="141.7" stroke="#777" stroke-width="0.6"/>
<line x1="435.3" y1="144.3" x2="437.1" y2="142.9" stroke="#777" stroke-width="0.6"/>
<line x1="436.2" y1="140.1" x2="436.2" y2="141.7" stroke="#777" stroke-width="0.6"/>
<line x1="448.32" y1="144.3" x2="450.12" y2="142.9" stroke="#777" stroke-width="0.6"/>
<line x1="449.22" y1="140.1" x2="449.22" y2="141.7" stroke="#777" stroke-width="0.6"/>
<line x1="461.35" y1="144.3" x2="463.15" y2="142.9" stroke="#777" stroke-width="0.6"/>
<line x1="462.25" y1="140.1" x2="462.25" y2="141.7" stroke="#777" stroke-width="0.6"/>
<path d="M442.1 117.6h.6M452.3 109.5h.6M447.8 109.8h.6M454.7 127.0h.6M456.1 122.1h.6M450.8 123.6h.6M444.5 126.6h.6M441.7 123.1h.6M452.4 126.0h.6M448.9 121.5h.6M449.5 121.9h.6M446.5 123.1h.6M459.7 125.8h.6M449.6 130.3h.6M459.7 124.0h.6M440.6 123.0h.6M443.4 108.6h.6M452.2 121.9h.6M446.5 128.8h.6M449.8 127.6h.6M446.2 134.6h.6M456.9 125.8h.6M446.1 130.7h.6M451.2 118.3h.6M446.1 132.9h.6M448.1 123.3h.6M449.8 125.4h.6M448.6 112.1h.6M458.2 127.0h.6M443.8 132.5h.6M450.3 125.7h.6M451.6 136.7h.6M460.5 118.5h.6M445.7 131.0h.6M439.2 123.7h.6M455.7 132.9h.6M451.8 112.3h.6M461.5 129.5h.6M452.8 129.1h.6M439.2 115.6h.6M444.0 123.9h.6M447.2 129.6h.6M451.4 127.5h.6M441.7 103.6h.6M449.5 127.5h.6M455.4 124.9h.6M445.2 128.5h.6M440.1 118.3h.6M443.1 127.6h.6M460.1 130.9h.6M454.9 127.3h.6M450.1 122.5h.6M447.1 108.6h.6M442.0 116.6h.6M453.2 130.2h.6M454.9 136.5h.6M446.9 133.0h.6M459.4 125.5h.6M454.6 124.4h.6M439.7 126.4h.6M444.1 126.4h.6M446.1 127.8h.6M456.1 123.1h.6M443.6 125.6h.6M452.3 128.6h.6M450.8 111.8h.6M442.4 135.0h.6M449.9 115.0h.6M443.8 115.5h.6M443.0 133.9h.6M447.4 133.5h.6M449.6 115.0h.6M444.3 118.1h.6M455.5 126.2h.6M448.6 136.0h.6M438.7 128.6h.6M442.7 115.6h.6M444.0 133.8h.6M447.8 112.5h.6M442.4 136.5h.6M454.3 117.8h.6M462.2 123.0h.6M441.9 124.6h.6M453.9 137.1h.6M454.4 122.5h.6M445.4 115.2h.6M448.2 121.3h.6M450.0 116.5h.6M445.7 119.3h.6M441.8 117.1h.6M442.9 117.1h.6M451.8 126.3h.6M441.2 129.3h.6M450.2 136.1h.6M447.5 124.1h.6M444.7 126.5h.6M451.4 126.9h.6M447.2 129.6h.6M449.1 127.4h.6M443.3 127.1h.6M443.0 119.6h.6M454.2 125.6h.6M447.6 132.7h.6M456.4 134.3h.6M447.6 127.0h.6M446.7 123.6h.6M443.8 123.8h.6M436.5 117.0h.6M451.0 119.0h.6M451.6 116.3h.6M446.5 128.4h.6M442.8 120.5h.6" fill="none" stroke="#888" stroke-width="0.7" stroke-linecap="round" opacity="0.8"/>
<ellipse cx="449.1" cy="126.6" rx="9.38" ry="8.84" fill="url(#gbl)" opacity="0.55" transform="rotate(0 449.1 126.6)"/>
<ellipse cx="448.6" cy="123.6" rx="7.5" ry="6.8" fill="url(#gb)" opacity="1" transform="rotate(0 448.6 123.6)"/>
<path d="M457.1 123.6 L457.0 125.0 L456.9 126.4 L455.7 127.4 L454.9 128.5 L453.5 129.1 L452.1 129.3 L451.0 129.8 L449.8 129.8 L448.6 130.2 L447.4 130.1 L446.1 130.1 L444.6 130.0 L443.1 129.7 L442.3 128.5 L441.4 127.5 L440.7 126.3 L440.3 125.0 L440.7 123.6 L441.1 122.4 L441.1 121.1 L442.2 120.1 L442.4 118.8 L443.6 118.0 L444.7 117.2 L445.9 116.7 L447.2 116.3 L448.6 116.0 L449.9 116.7 L451.2 117.0 L452.3 117.7 L453.2 118.5 L454.2 119.2 L454.9 120.2 L455.8 121.2 L456.6 122.3Z" fill="none" stroke="#444" stroke-width="0.45" opacity="0.7" stroke-linejoin="round"/>
<path d="M455.4 123.6 L455.3 124.7 L454.9 125.8 L454.4 126.7 L453.5 127.4 L452.4 127.9 L451.5 128.4 L450.5 128.5 L449.5 128.5 L448.6 128.8 L447.6 128.9 L446.5 129.0 L445.4 128.8 L444.5 128.2 L443.3 127.7 L443.1 126.6 L442.5 125.7 L442.2 124.6 L442.6 123.6 L442.7 122.6 L443.2 121.8 L443.3 120.8 L443.8 119.9 L444.6 119.1 L445.3 118.3 L446.4 118.1 L447.5 117.7 L448.6 117.8 L449.7 118.0 L450.6 118.5 L451.5 118.9 L452.4 119.4 L453.0 120.2 L453.8 120.8 L454.2 121.7 L455.1 122.5Z" fill="none" stroke="#444" stroke-width="0.45" opacity="0.7" stroke-linejoin="round"/>
<path d="M453.5 123.6 L453.7 124.4 L453.4 125.2 L452.7 125.8 L452.1 126.3 L451.5 126.8 L450.6 126.8 L450.0 127.1 L449.3 127.1 L448.6 127.2 L447.9 127.3 L447.1 127.5 L446.4 127.2 L445.6 126.9 L445.0 126.4 L444.3 125.9 L444.3 125.0 L444.1 124.3 L444.1 123.6 L444.2 122.9 L444.4 122.2 L444.7 121.5 L445.3 121.0 L445.7 120.4 L446.3 119.9 L447.0 119.4 L447.8 119.2 L448.6 119.5 L449.3 119.7 L450.0 120.0 L450.6 120.4 L451.2 120.7 L451.8 121.1 L452.2 121.6 L452.7 122.2 L453.2 122.8Z" fill="none" stroke="#444" stroke-width="0.45" opacity="0.7" stroke-linejoin="round"/>
<path d="M451.6 123.6 L451.6 124.1 L451.6 124.6 L451.2 125.0 L450.8 125.3 L450.3 125.5 L449.9 125.7 L449.4 125.7 L449.0 125.9 L448.6 125.9 L448.1 126.0 L447.7 126.0 L447.2 125.8 L446.8 125.6 L446.4 125.3 L446.0 125.0 L446.0 124.5 L445.9 124.0 L445.9 123.6 L446.0 123.2 L446.1 122.8 L446.4 122.4 L446.6 122.0 L446.9 121.7 L447.2 121.4 L447.6 121.1 L448.1 121.1 L448.6 121.0 L449.1 121.1 L449.5 121.4 L449.8 121.6 L450.2 121.8 L450.5 122.1 L450.8 122.4 L451.3 122.7 L451.6 123.1Z" fill="none" stroke="#444" stroke-width="0.45" opacity="0.7" stroke-linejoin="round"/>
<rect x="438.3" y="84.2" width="25.6" height="21.5" fill="none" stroke="#222" stroke-width="0.9"/>
<path d="M455.3 93.6h.6M451.1 96.3h.6M454.9 94.6h.6M454.6 98.5h.6M456.6 97.4h.6M453.4 92.1h.6M451.4 92.7h.6M447.0 98.7h.6M454.5 93.8h.6M456.5 92.3h.6M454.8 96.0h.6M450.0 99.1h.6M454.5 95.5h.6M451.4 91.5h.6M458.7 91.8h.6M453.1 95.0h.6M458.0 85.7h.6M458.1 94.4h.6M456.6 90.2h.6M455.0 98.7h.6M453.9 91.5h.6M453.0 91.8h.6M456.3 94.1h.6M452.8 96.1h.6M451.2 88.9h.6" fill="none" stroke="#aaa" stroke-width="0.7" stroke-linecap="round" opacity="0.8"/>
<rect x="406.6" y="81.2" width="59.2" height="58.9" fill="none" stroke="#111" stroke-width="1.1"/>
<text x="437.7" y="99.1" font-size="8.8" text-anchor="end" stroke="#000" stroke-width="0.22">0.65</text>
<line x1="257.4" y1="153.3" x2="257.4" y2="100" stroke="#111" stroke-width="1.1"/>
<use href="#rarrow" transform="translate(257.4 93.5) rotate(-90)"/>
<line x1="257.4" y1="153.3" x2="314" y2="153.3" stroke="#111" stroke-width="1.1"/>
<use href="#rarrow" transform="translate(321 153.3)"/>
<text x="337.5" y="156.6" font-size="8.8" text-anchor="middle" stroke="#000" stroke-width="0.22">CD4<tspan font-size="5.5" dy="-3">+</tspan><tspan dy="3">T</tspan></text>
<text x="260.5" y="78.5" font-size="8.8" text-anchor="middle" transform="rotate(-90 260.5 78.5)" stroke="#000" stroke-width="0.22">CD45.1</text>
<text x="248.5" y="45.5" font-size="8.8" text-anchor="middle" transform="rotate(-90 248.5 45.5)" stroke="#000" stroke-width="0.22">Liver</text>
<text x="248.5" y="115.5" font-size="8.8" text-anchor="middle" transform="rotate(-90 248.5 115.5)" stroke="#000" stroke-width="0.22">Lung</text>
<line x1="497.5" y1="11.4" x2="497.5" y2="72.7" stroke="#000" stroke-width="1.2"/>
<line x1="495" y1="11.4" x2="497.5" y2="11.4" stroke="#000" stroke-width="1.2"/>
<text x="494.5" y="14" font-size="7.4" text-anchor="end">10<tspan font-size="4.6" dy="-3.2">7</tspan></text>
<line x1="495" y1="26.73" x2="497.5" y2="26.73" stroke="#000" stroke-width="1.2"/>
<text x="494.5" y="29.33" font-size="7.4" text-anchor="end">10<tspan font-size="4.6" dy="-3.2">6</tspan></text>
<line x1="495" y1="42.05" x2="497.5" y2="42.05" stroke="#000" stroke-width="1.2"/>
<text x="494.5" y="44.65" font-size="7.4" text-anchor="end">10<tspan font-size="4.6" dy="-3.2">5</tspan></text>
<line x1="495" y1="57.38" x2="497.5" y2="57.38" stroke="#000" stroke-width="1.2"/>
<text x="494.5" y="59.98" font-size="7.4" text-anchor="end">10<tspan font-size="4.6" dy="-3.2">4</tspan></text>
<line x1="495" y1="72.7" x2="497.5" y2="72.7" stroke="#000" stroke-width="1.2"/>
<text x="494.5" y="75.3" font-size="7.4" text-anchor="end">10<tspan font-size="4.6" dy="-3.2">3</tspan></text>
<line x1="497.5" y1="72.7" x2="589.2" y2="72.7" stroke="#000" stroke-width="1.2"/>
<rect x="506.6" y="33.52" width="18.1" height="39.18" fill="#55BFEC" stroke="#000" stroke-width="0.9"/>
<line x1="515.65" y1="72.7" x2="515.65" y2="75.2" stroke="#000" stroke-width="1.2"/>
<circle cx="511.65" cy="31.34" r="2" fill="#fff" stroke="#000" stroke-width="0.9"/>
<circle cx="518.65" cy="30.7" r="2" fill="#fff" stroke="#000" stroke-width="0.9"/>
<circle cx="514.65" cy="32.82" r="2" fill="#fff" stroke="#000" stroke-width="0.9"/>
<circle cx="511.65" cy="41.42" r="2" fill="#fff" stroke="#000" stroke-width="0.9"/>
<circle cx="520.65" cy="40.3" r="2" fill="#fff" stroke="#000" stroke-width="0.9"/>
<line x1="515.65" y1="33.52" x2="515.65" y2="30.52" stroke="#000" stroke-width="0.9"/>
<line x1="512.45" y1="30.52" x2="518.85" y2="30.52" stroke="#000" stroke-width="0.9"/>
<rect x="534.5" y="48.85" width="17.7" height="23.85" fill="#4630F4" stroke="#000" stroke-width="0.9"/>
<line x1="543.35" y1="72.7" x2="543.35" y2="75.2" stroke="#000" stroke-width="1.2"/>
<circle cx="539.35" cy="46.66" r="2" fill="#fff" stroke="#000" stroke-width="0.9"/>
<circle cx="547.35" cy="45.45" r="2" fill="#fff" stroke="#000" stroke-width="0.9"/>
<circle cx="543.35" cy="49.63" r="2" fill="#fff" stroke="#000" stroke-width="0.9"/>
<circle cx="542.35" cy="55.63" r="2" fill="#fff" stroke="#000" stroke-width="0.9"/>
<circle cx="546.35" cy="47.36" r="2" fill="#fff" stroke="#000" stroke-width="0.9"/>
<line x1="543.35" y1="48.85" x2="543.35" y2="45.85" stroke="#000" stroke-width="0.9"/>
<line x1="540.15" y1="45.85" x2="546.55" y2="45.85" stroke="#000" stroke-width="0.9"/>
<rect x="562" y="59.75" width="17.8" height="12.95" fill="#FA3B40" stroke="#000" stroke-width="0.9"/>
<line x1="570.9" y1="72.7" x2="570.9" y2="75.2" stroke="#000" stroke-width="1.2"/>
<circle cx="565.9" cy="54.25" r="2" fill="#fff" stroke="#000" stroke-width="0.9"/>
<circle cx="570.9" cy="55.14" r="2" fill="#fff" stroke="#000" stroke-width="0.9"/>
<circle cx="575.9" cy="57.38" r="2" fill="#fff" stroke="#000" stroke-width="0.9"/>
<circle cx="567.9" cy="58.86" r="2" fill="#fff" stroke="#000" stroke-width="0.9"/>
<circle cx="572.9" cy="60.77" r="2" fill="#fff" stroke="#000" stroke-width="0.9"/>
<circle cx="569.9" cy="65.85" r="2" fill="#fff" stroke="#000" stroke-width="0.9"/>
<circle cx="576.9" cy="62.69" r="2" fill="#fff" stroke="#000" stroke-width="0.9"/>
<circle cx="564.9" cy="63.47" r="2" fill="#fff" stroke="#000" stroke-width="0.9"/>
<circle cx="570.9" cy="71.49" r="2" fill="#fff" stroke="#000" stroke-width="0.9"/>
<line x1="570.9" y1="59.75" x2="570.9" y2="56.75" stroke="#000" stroke-width="0.9"/>
<line x1="567.7" y1="56.75" x2="574.1" y2="56.75" stroke="#000" stroke-width="0.9"/>
<line x1="515.6" y1="17.5" x2="571" y2="17.5" stroke="#000" stroke-width="1.1"/>
<text x="543.3" y="17.44" font-size="7.8" text-anchor="middle" font-weight="bold">**</text>
<line x1="515.6" y1="24.7" x2="542.9" y2="24.7" stroke="#000" stroke-width="1.1"/>
<text x="529.25" y="24.63" font-size="7.8" text-anchor="middle" font-weight="bold">**</text>
<line x1="497.5" y1="81.4" x2="497.5" y2="143" stroke="#000" stroke-width="1.2"/>
<line x1="495" y1="81.4" x2="497.5" y2="81.4" stroke="#000" stroke-width="1.2"/>
<text x="494.5" y="84" font-size="7.4" text-anchor="end">10<tspan font-size="4.6" dy="-3.2">7</tspan></text>
<line x1="495" y1="96.8" x2="497.5" y2="96.8" stroke="#000" stroke-width="1.2"/>
<text x="494.5" y="99.4" font-size="7.4" text-anchor="end">10<tspan font-size="4.6" dy="-3.2">6</tspan></text>
<line x1="495" y1="112.2" x2="497.5" y2="112.2" stroke="#000" stroke-width="1.2"/>
<text x="494.5" y="114.8" font-size="7.4" text-anchor="end">10<tspan font-size="4.6" dy="-3.2">5</tspan></text>
<line x1="495" y1="127.6" x2="497.5" y2="127.6" stroke="#000" stroke-width="1.2"/>
<text x="494.5" y="130.2" font-size="7.4" text-anchor="end">10<tspan font-size="4.6" dy="-3.2">4</tspan></text>
<line x1="495" y1="143" x2="497.5" y2="143" stroke="#000" stroke-width="1.2"/>
<text x="494.5" y="145.6" font-size="7.4" text-anchor="end">10<tspan font-size="4.6" dy="-3.2">3</tspan></text>
<line x1="497.5" y1="143" x2="589.2" y2="143" stroke="#000" stroke-width="1.2"/>
<rect x="506.6" y="94.09" width="18.1" height="48.91" fill="#55BFEC" stroke="#000" stroke-width="0.9"/>
<line x1="515.65" y1="143" x2="515.65" y2="145.5" stroke="#000" stroke-width="1.2"/>
<circle cx="511.65" cy="89.02" r="2" fill="#fff" stroke="#000" stroke-width="0.9"/>
<circle cx="518.65" cy="89.45" r="2" fill="#fff" stroke="#000" stroke-width="0.9"/>
<circle cx="514.65" cy="97.5" r="2" fill="#fff" stroke="#000" stroke-width="0.9"/>
<circle cx="515.65" cy="105.56" r="2" fill="#fff" stroke="#000" stroke-width="0.9"/>
<circle cx="515.65" cy="109.49" r="2" fill="#fff" stroke="#000" stroke-width="0.9"/>
<line x1="515.65" y1="94.09" x2="515.65" y2="91.09" stroke="#000" stroke-width="0.9"/>
<line x1="512.45" y1="91.09" x2="518.85" y2="91.09" stroke="#000" stroke-width="0.9"/>
<rect x="534.5" y="102.6" width="17.7" height="40.4" fill="#4630F4" stroke="#000" stroke-width="0.9"/>
<line x1="543.35" y1="143" x2="543.35" y2="145.5" stroke="#000" stroke-width="1.2"/>
<circle cx="539.35" cy="101.17" r="2" fill="#fff" stroke="#000" stroke-width="0.9"/>
<circle cx="547.35" cy="100.22" r="2" fill="#fff" stroke="#000" stroke-width="0.9"/>
<circle cx="543.35" cy="103.82" r="2" fill="#fff" stroke="#000" stroke-width="0.9"/>
<circle cx="542.35" cy="106.63" r="2" fill="#fff" stroke="#000" stroke-width="0.9"/>
<circle cx="546.35" cy="102.14" r="2" fill="#fff" stroke="#000" stroke-width="0.9"/>
<line x1="543.35" y1="102.6" x2="543.35" y2="99.6" stroke="#000" stroke-width="0.9"/>
<line x1="540.15" y1="99.6" x2="546.55" y2="99.6" stroke="#000" stroke-width="0.9"/>
<rect x="562" y="121.74" width="17.8" height="21.26" fill="#FA3B40" stroke="#000" stroke-width="0.9"/>
<line x1="570.9" y1="143" x2="570.9" y2="145.5" stroke="#000" stroke-width="1.2"/>
<circle cx="563.9" cy="120.25" r="2" fill="#fff" stroke="#000" stroke-width="0.9"/>
<circle cx="567.9" cy="119.61" r="2" fill="#fff" stroke="#000" stroke-width="0.9"/>
<circle cx="571.9" cy="119.42" r="2" fill="#fff" stroke="#000" stroke-width="0.9"/>
<circle cx="575.9" cy="120.03" r="2" fill="#fff" stroke="#000" stroke-width="0.9"/>
<circle cx="565.9" cy="125.35" r="2" fill="#fff" stroke="#000" stroke-width="0.9"/>
<circle cx="570.9" cy="124.89" r="2" fill="#fff" stroke="#000" stroke-width="0.9"/>
<circle cx="575.9" cy="124.46" r="2" fill="#fff" stroke="#000" stroke-width="0.9"/>
<circle cx="572.9" cy="121.47" r="2" fill="#fff" stroke="#000" stroke-width="0.9"/>
<line x1="570.9" y1="121.74" x2="570.9" y2="118.74" stroke="#000" stroke-width="0.9"/>
<line x1="567.7" y1="118.74" x2="574.1" y2="118.74" stroke="#000" stroke-width="0.9"/>
<line x1="515.5" y1="85.3" x2="570.6" y2="85.3" stroke="#000" stroke-width="1.1"/>
<text x="543.05" y="85.23" font-size="7.8" text-anchor="middle" font-weight="bold">*</text>
<text x="515.6" y="154" font-size="9.4" text-anchor="middle" stroke="#000" stroke-width="0.22">Tsm</text>
<text x="543.4" y="154" font-size="9.4" text-anchor="middle" stroke="#000" stroke-width="0.22">Trmp</text>
<text x="570.9" y="154" font-size="9.4" text-anchor="middle" stroke="#000" stroke-width="0.22">Trm</text>
<text x="479.3" y="70.5" font-size="8.3" text-anchor="middle" transform="rotate(-90 479.3 70.5)" stroke="#000" stroke-width="0.22">#CD45.1<tspan font-size="5.5" dy="-3">+</tspan><tspan dy="3"> CD4</tspan><tspan font-size="5.5" dy="-3">+</tspan><tspan dy="3"> Tm (x10</tspan><tspan font-size="5.5" dy="-3">5</tspan><tspan dy="3">)</tspan></text>
<text x="1" y="177.6" font-size="19.5" font-weight="bold">c</text>
<text x="66.6" y="179.6" font-size="9.2" text-anchor="middle" stroke="#000" stroke-width="0.22">Tsm</text>
<text x="136.3" y="179.6" font-size="9.2" text-anchor="middle" stroke="#000" stroke-width="0.22">Trmp</text>
<text x="201.9" y="179.6" font-size="9.2" text-anchor="middle" stroke="#000" stroke-width="0.22">Trm</text>
<line x1="30.8" y1="198.2" x2="32.4" y2="197" stroke="#777" stroke-width="0.6"/>
<line x1="33.4" y1="197.6" x2="35" y2="197.6" stroke="#777" stroke-width="0.6"/>
<line x1="30.8" y1="216.2" x2="32.4" y2="215" stroke="#777" stroke-width="0.6"/>
<line x1="33.4" y1="215.6" x2="35" y2="215.6" stroke="#777" stroke-width="0.6"/>
<line x1="30.8" y1="228.2" x2="32.4" y2="227" stroke="#777" stroke-width="0.6"/>
<line x1="33.4" y1="227.6" x2="35" y2="227.6" stroke="#777" stroke-width="0.6"/>
<line x1="30.8" y1="238.4" x2="32.4" y2="237.2" stroke="#777" stroke-width="0.6"/>
<line x1="33.4" y1="237.8" x2="35" y2="237.8" stroke="#777" stroke-width="0.6"/>
<line x1="41.37" y1="246.8" x2="43.17" y2="245.4" stroke="#777" stroke-width="0.6"/>
<line x1="42.27" y1="242.6" x2="42.27" y2="244.2" stroke="#777" stroke-width="0.6"/>
<line x1="55.31" y1="246.8" x2="57.11" y2="245.4" stroke="#777" stroke-width="0.6"/>
<line x1="56.21" y1="242.6" x2="56.21" y2="244.2" stroke="#777" stroke-width="0.6"/>
<line x1="71.67" y1="246.8" x2="73.47" y2="245.4" stroke="#777" stroke-width="0.6"/>
<line x1="72.57" y1="242.6" x2="72.57" y2="244.2" stroke="#777" stroke-width="0.6"/>
<line x1="86.22" y1="246.8" x2="88.02" y2="245.4" stroke="#777" stroke-width="0.6"/>
<line x1="87.12" y1="242.6" x2="87.12" y2="244.2" stroke="#777" stroke-width="0.6"/>
<path d="M71.6 237.8h.6M56.9 211.2h.6M43.0 220.8h.6M43.9 203.2h.6M58.5 222.0h.6M62.7 209.4h.6M56.2 219.6h.6M38.1 226.9h.6M58.6 218.7h.6M70.9 222.8h.6M67.1 216.0h.6M58.8 232.7h.6M64.5 221.9h.6M43.2 225.7h.6M57.1 229.0h.6M58.7 233.5h.6M55.5 222.8h.6M64.2 207.4h.6M51.3 214.4h.6M79.9 219.3h.6M64.0 227.8h.6M52.8 201.8h.6M67.7 215.5h.6M64.8 204.7h.6M50.9 235.5h.6M73.3 204.8h.6M40.2 219.9h.6M64.9 222.3h.6M59.8 208.5h.6M63.2 233.8h.6M50.9 203.2h.6M47.0 229.5h.6M44.3 218.8h.6M53.2 220.6h.6M74.2 225.4h.6M72.2 218.7h.6M50.4 224.9h.6M58.1 205.6h.6M61.7 213.7h.6M44.4 214.2h.6M54.3 235.4h.6M57.4 220.1h.6M60.8 198.7h.6M71.0 207.5h.6M61.4 206.9h.6M44.4 215.6h.6M78.9 228.8h.6M48.9 217.0h.6M42.3 220.0h.6M49.3 229.1h.6M39.9 216.4h.6M46.0 211.8h.6M64.7 221.9h.6M63.2 234.7h.6M69.9 203.9h.6M62.6 199.3h.6M53.8 216.0h.6M58.2 220.6h.6M56.5 211.3h.6M69.1 231.1h.6M53.6 224.2h.6M64.1 232.8h.6M60.9 228.7h.6M53.0 207.6h.6M50.2 232.6h.6" fill="none" stroke="#999" stroke-width="0.7" stroke-linecap="round" opacity="0.8"/>
<path d="M76.5 220.0 L76.4 224.1 L76.0 226.4 L75.3 228.3 L74.4 229.8 L73.2 231.1 L71.7 232.2 L70.0 233.0 L67.8 233.5 L65.1 233.9 L60.5 234.0 L55.9 233.9 L53.2 233.5 L51.0 233.0 L49.3 232.2 L47.8 231.1 L46.6 229.8 L45.7 228.3 L45.0 226.4 L44.6 224.1 L44.5 220.0 L44.6 215.9 L45.0 213.6 L45.7 211.7 L46.6 210.2 L47.8 208.9 L49.3 207.8 L51.0 207.0 L53.2 206.5 L55.9 206.1 L60.5 206.0 L65.1 206.1 L67.8 206.5 L70.0 207.0 L71.7 207.8 L73.2 208.9 L74.4 210.2 L75.3 211.7 L76.0 213.6 L76.4 215.9Z" fill="#bbb" opacity="0.35"/>
<path d="M76.1 220.0 L76.7 224.1 L76.2 226.5 L75.1 228.1 L74.4 229.8 L73.2 231.1 L71.8 232.3 L70.1 233.2 L67.6 233.2 L65.0 233.5 L60.5 234.3 L55.9 233.8 L53.1 233.8 L51.3 232.6 L49.3 232.1 L47.6 231.3 L46.8 229.7 L45.3 228.5 L44.7 226.6 L45.1 224.0 L45.0 220.0 L44.6 215.9 L44.6 213.4 L45.8 211.8 L46.8 210.3 L47.9 208.9 L49.6 208.2 L51.2 207.3 L53.2 206.5 L55.9 206.1 L60.5 206.2 L65.1 206.3 L67.7 206.7 L69.9 207.1 L71.6 208.0 L72.8 209.2 L74.7 210.0 L75.4 211.7 L76.1 213.5 L76.1 216.0Z" fill="none" stroke="#777" stroke-width="0.5" stroke-linejoin="round"/>
<path d="M74.2 219.5 L74.1 223.2 L73.0 225.0 L72.5 226.6 L72.3 228.3 L71.1 229.4 L69.8 230.3 L68.0 230.8 L66.3 231.5 L63.9 231.8 L59.8 231.9 L55.8 231.5 L53.4 231.4 L51.5 230.9 L49.8 230.4 L48.3 229.6 L47.2 228.4 L46.7 226.8 L46.2 225.1 L46.0 223.0 L46.1 219.5 L46.2 216.0 L46.2 213.9 L46.9 212.3 L47.6 210.9 L48.3 209.5 L49.9 208.8 L51.4 208.1 L53.4 207.8 L55.8 207.7 L59.8 207.3 L63.8 207.6 L66.2 207.6 L68.3 207.8 L69.8 208.7 L70.7 209.9 L72.3 210.7 L73.0 212.1 L73.6 213.8 L74.1 215.9Z" fill="none" stroke="#777" stroke-width="0.5" stroke-linejoin="round"/>
<path d="M71.0 219.0 L71.2 222.1 L70.7 223.9 L70.4 225.4 L69.7 226.6 L68.5 227.3 L67.3 228.0 L66.4 229.1 L64.5 229.2 L62.5 229.4 L59.1 230.0 L55.5 229.6 L53.4 229.5 L51.9 228.9 L50.5 228.4 L49.6 227.3 L48.4 226.6 L47.6 225.5 L47.3 223.9 L46.8 222.2 L46.8 219.0 L47.3 216.0 L47.1 214.1 L47.7 212.7 L48.6 211.7 L49.7 210.8 L50.3 209.6 L51.9 209.2 L53.4 208.6 L55.4 208.2 L59.1 208.3 L62.7 208.2 L64.6 208.8 L66.4 209.0 L67.6 209.8 L69.0 210.4 L69.9 211.4 L70.0 212.9 L70.6 214.3 L70.9 216.0Z" fill="none" stroke="#777" stroke-width="0.5" stroke-linejoin="round"/>
<path d="M68.4 218.6 L68.3 221.1 L68.2 222.6 L67.6 223.7 L67.0 224.7 L66.4 225.6 L65.7 226.5 L64.5 227.0 L63.1 227.4 L61.3 227.3 L58.3 227.5 L55.4 227.3 L53.8 227.1 L52.4 226.7 L51.3 226.2 L50.0 225.9 L49.3 225.0 L48.7 224.0 L48.3 222.7 L48.4 221.1 L48.2 218.6 L48.1 215.9 L48.3 214.4 L48.7 213.2 L49.2 212.1 L50.4 211.6 L51.1 210.7 L52.2 210.2 L53.7 209.9 L55.4 209.8 L58.3 209.6 L61.2 209.9 L63.1 209.7 L64.5 210.1 L65.5 210.8 L66.4 211.5 L67.4 212.1 L67.9 213.2 L68.5 214.4 L68.7 215.9Z" fill="none" stroke="#777" stroke-width="0.5" stroke-linejoin="round"/>
<path d="M66.0 218.1 L66.0 220.2 L65.8 221.5 L65.5 222.5 L64.9 223.3 L64.4 224.0 L63.3 224.2 L62.5 224.8 L61.5 225.3 L60.1 225.4 L57.6 225.5 L55.3 225.1 L53.8 225.1 L52.8 224.7 L51.8 224.4 L51.0 223.9 L50.6 223.0 L50.0 222.3 L49.7 221.4 L49.2 220.2 L49.2 218.1 L49.5 216.0 L49.4 214.7 L50.1 213.9 L50.3 212.9 L51.2 212.4 L52.0 211.9 L52.6 211.2 L53.9 211.2 L55.2 211.0 L57.6 210.6 L60.1 210.7 L61.4 211.1 L62.7 211.2 L63.5 211.7 L64.3 212.2 L64.7 213.1 L65.5 213.7 L65.8 214.7 L66.1 215.9Z" fill="none" stroke="#777" stroke-width="0.5" stroke-linejoin="round"/>
<path d="M63.4 217.6 L63.4 219.3 L63.1 220.2 L62.7 220.9 L62.3 221.4 L62.0 222.1 L61.4 222.5 L60.7 222.9 L59.8 223.0 L58.8 223.2 L56.9 223.1 L55.0 223.3 L53.9 223.1 L53.1 222.8 L52.4 222.5 L51.8 222.1 L51.4 221.5 L51.0 220.9 L50.6 220.2 L50.6 219.2 L50.4 217.6 L50.5 216.0 L50.6 215.0 L51.0 214.3 L51.5 213.8 L51.7 213.1 L52.3 212.6 L53.1 212.4 L54.0 212.3 L55.1 212.1 L56.9 212.0 L58.7 212.1 L59.9 212.0 L60.7 212.4 L61.3 212.8 L62.0 213.1 L62.4 213.7 L63.0 214.2 L63.2 215.0 L63.3 216.0Z" fill="none" stroke="#777" stroke-width="0.5" stroke-linejoin="round"/>
<path d="M64.5 216.5 L64.4 219.7 L64.1 221.7 L63.6 223.5 L63.0 224.9 L62.1 226.2 L61.1 227.2 L59.8 228.0 L58.4 228.5 L56.7 228.9 L54.0 229.0 L51.3 228.9 L49.6 228.5 L48.2 228.0 L46.9 227.2 L45.9 226.2 L45.0 224.9 L44.4 223.5 L43.9 221.7 L43.6 219.7 L43.5 216.5 L43.6 213.3 L43.9 211.3 L44.4 209.5 L45.0 208.1 L45.9 206.8 L46.9 205.8 L48.2 205.0 L49.6 204.5 L51.3 204.1 L54.0 204.0 L56.7 204.1 L58.4 204.5 L59.8 205.0 L61.1 205.8 L62.1 206.8 L63.0 208.1 L63.6 209.5 L64.1 211.3 L64.4 213.3Z" fill="#aaa" opacity="0.45"/>
<path d="M64.3 216.5 L63.8 219.5 L63.8 221.6 L63.2 223.2 L62.8 224.7 L61.8 225.7 L60.9 226.9 L59.5 227.4 L58.3 228.3 L56.5 228.3 L54.0 228.3 L51.5 228.3 L49.8 228.1 L48.5 227.3 L47.2 226.7 L46.4 225.6 L45.5 224.5 L44.9 223.1 L44.4 221.5 L44.1 219.5 L43.8 216.5 L44.0 213.5 L44.1 211.4 L44.6 209.7 L45.2 208.3 L46.1 207.1 L47.2 206.2 L48.3 205.4 L49.7 204.8 L51.4 204.6 L54.0 204.7 L56.6 204.6 L58.2 204.9 L59.5 205.6 L60.7 206.4 L61.7 207.3 L62.7 208.3 L63.4 209.7 L63.8 211.4 L64.0 213.5Z" fill="none" stroke="#333" stroke-width="1" stroke-linejoin="round"/>
<path d="M64.8 216.5 L64.7 219.7 L63.8 221.6 L63.4 223.3 L63.2 225.1 L62.2 226.3 L61.2 227.3 L59.8 227.8 L58.4 228.6 L56.7 229.0 L54.0 229.1 L51.4 228.6 L49.6 228.5 L48.2 227.9 L46.8 227.3 L45.6 226.5 L44.8 225.2 L44.3 223.5 L43.9 221.7 L43.7 219.6 L43.8 216.5 L43.9 213.4 L43.9 211.3 L44.5 209.6 L45.1 208.1 L45.7 206.6 L46.9 205.8 L48.1 205.0 L49.7 204.6 L51.4 204.5 L54.0 204.1 L56.6 204.4 L58.4 204.4 L60.0 204.7 L61.2 205.7 L62.0 207.0 L63.2 207.9 L63.8 209.4 L64.3 211.2 L64.7 213.3Z" fill="none" stroke="#4a4a4a" stroke-width="0.45" stroke-linejoin="round"/>
<path d="M63.3 216.5 L63.4 219.4 L63.0 221.2 L62.7 222.8 L62.1 224.1 L61.1 225.0 L60.2 225.8 L59.4 227.0 L57.9 227.2 L56.4 227.5 L54.0 228.1 L51.6 227.6 L50.0 227.6 L48.7 226.8 L47.6 226.2 L46.8 225.0 L45.9 224.2 L45.1 222.9 L44.9 221.2 L44.5 219.4 L44.5 216.5 L44.9 213.7 L44.8 211.7 L45.3 210.2 L46.0 209.0 L46.9 208.0 L47.5 206.7 L48.7 206.2 L50.0 205.5 L51.6 205.1 L54.0 205.1 L56.5 205.1 L57.9 205.7 L59.4 206.0 L60.4 206.9 L61.5 207.6 L62.3 208.7 L62.5 210.4 L62.9 211.9 L63.2 213.7Z" fill="none" stroke="#4a4a4a" stroke-width="0.45" stroke-linejoin="round"/>
<path d="M62.3 216.5 L62.1 219.0 L62.0 220.7 L61.6 222.0 L61.0 223.1 L60.5 224.2 L59.8 225.3 L58.8 225.8 L57.6 226.3 L56.1 226.2 L54.0 226.5 L51.9 226.3 L50.5 225.9 L49.4 225.5 L48.4 224.9 L47.3 224.4 L46.7 223.4 L46.1 222.2 L45.8 220.8 L45.8 219.0 L45.7 216.5 L45.6 214.0 L45.8 212.3 L46.1 210.8 L46.7 209.6 L47.7 209.0 L48.3 207.9 L49.3 207.2 L50.5 206.9 L51.9 206.8 L54.0 206.5 L56.1 206.8 L57.6 206.6 L58.8 207.1 L59.7 207.9 L60.4 208.9 L61.4 209.6 L61.7 210.9 L62.3 212.2 L62.5 213.9Z" fill="none" stroke="#4a4a4a" stroke-width="0.45" stroke-linejoin="round"/>
<path d="M61.4 216.5 L61.4 218.7 L61.2 220.2 L60.9 221.5 L60.4 222.5 L59.8 223.4 L58.8 223.8 L58.1 224.5 L57.2 225.2 L55.9 225.2 L54.0 225.5 L52.2 225.0 L50.9 224.9 L50.0 224.4 L49.0 224.0 L48.3 223.3 L47.9 222.2 L47.4 221.3 L47.0 220.1 L46.5 218.8 L46.5 216.5 L46.9 214.3 L46.8 212.8 L47.4 211.7 L47.7 210.6 L48.4 209.9 L49.2 209.2 L49.8 208.3 L51.0 208.2 L52.2 208.0 L54.0 207.5 L55.9 207.6 L57.0 208.2 L58.2 208.2 L59.0 209.0 L59.7 209.7 L60.2 210.7 L60.9 211.5 L61.2 212.8 L61.5 214.2Z" fill="none" stroke="#4a4a4a" stroke-width="0.45" stroke-linejoin="round"/>
<path d="M60.4 216.5 L60.4 218.4 L60.1 219.6 L59.7 220.6 L59.2 221.4 L58.9 222.4 L58.2 222.9 L57.6 223.5 L56.6 223.7 L55.6 224.1 L54.0 223.9 L52.4 224.1 L51.3 223.8 L50.5 223.3 L49.7 222.9 L49.1 222.4 L48.7 221.5 L48.2 220.7 L47.8 219.7 L47.8 218.4 L47.6 216.5 L47.7 214.6 L47.8 213.3 L48.3 212.4 L48.7 211.6 L49.0 210.6 L49.7 210.0 L50.5 209.6 L51.4 209.4 L52.4 209.2 L54.0 208.9 L55.6 209.2 L56.7 209.1 L57.5 209.6 L58.2 210.2 L58.9 210.6 L59.3 211.5 L59.9 212.2 L60.2 213.3 L60.2 214.6Z" fill="none" stroke="#4a4a4a" stroke-width="0.45" stroke-linejoin="round"/>
<path d="M59.2 216.5 L59.1 218.0 L59.1 219.1 L58.7 219.9 L58.5 220.7 L58.0 221.3 L57.4 221.7 L56.9 222.2 L56.1 222.4 L55.3 222.7 L54.0 222.6 L52.7 222.5 L51.8 222.5 L51.0 222.4 L50.5 221.7 L50.0 221.3 L49.5 220.7 L49.1 220.1 L48.9 219.1 L48.8 218.1 L48.6 216.5 L48.9 215.0 L48.8 213.8 L49.2 213.1 L49.6 212.4 L50.0 211.8 L50.5 211.2 L51.0 210.7 L51.8 210.6 L52.7 210.3 L54.0 210.2 L55.3 210.4 L56.2 210.5 L56.8 210.9 L57.4 211.3 L58.0 211.8 L58.5 212.2 L58.8 213.0 L59.0 213.9 L59.2 214.9Z" fill="none" stroke="#4a4a4a" stroke-width="0.45" stroke-linejoin="round"/>
<ellipse cx="52.5" cy="214.5" rx="3.2" ry="2.2" fill="#eee" opacity="0.9"/><ellipse cx="61" cy="216.5" rx="2" ry="1.3" fill="#eee" opacity="0.8"/>
<line x1="61.3" y1="182.6" x2="61.3" y2="242.6" stroke="#222" stroke-width="0.9"/>
<line x1="35" y1="220.4" x2="95.6" y2="220.4" stroke="#222" stroke-width="0.9"/>
<rect x="35" y="182.6" width="60.6" height="60" fill="none" stroke="#111" stroke-width="1.2"/>
<text x="36.6" y="191.5" font-size="9.2" stroke="#000" stroke-width="0.22">41.5</text>
<text x="94.8" y="191.5" font-size="9.2" text-anchor="end" stroke="#000" stroke-width="0.22">20.8</text>
<text x="94.8" y="239.6" font-size="9.2" text-anchor="end" stroke="#000" stroke-width="0.22">17.0</text>
<line x1="99.3" y1="198.2" x2="100.9" y2="197" stroke="#777" stroke-width="0.6"/>
<line x1="101.9" y1="197.6" x2="103.5" y2="197.6" stroke="#777" stroke-width="0.6"/>
<line x1="99.3" y1="216.2" x2="100.9" y2="215" stroke="#777" stroke-width="0.6"/>
<line x1="101.9" y1="215.6" x2="103.5" y2="215.6" stroke="#777" stroke-width="0.6"/>
<line x1="99.3" y1="228.2" x2="100.9" y2="227" stroke="#777" stroke-width="0.6"/>
<line x1="101.9" y1="227.6" x2="103.5" y2="227.6" stroke="#777" stroke-width="0.6"/>
<line x1="99.3" y1="238.4" x2="100.9" y2="237.2" stroke="#777" stroke-width="0.6"/>
<line x1="101.9" y1="237.8" x2="103.5" y2="237.8" stroke="#777" stroke-width="0.6"/>
<line x1="109.87" y1="246.8" x2="111.67" y2="245.4" stroke="#777" stroke-width="0.6"/>
<line x1="110.77" y1="242.6" x2="110.77" y2="244.2" stroke="#777" stroke-width="0.6"/>
<line x1="123.81" y1="246.8" x2="125.61" y2="245.4" stroke="#777" stroke-width="0.6"/>
<line x1="124.71" y1="242.6" x2="124.71" y2="244.2" stroke="#777" stroke-width="0.6"/>
<line x1="140.17" y1="246.8" x2="141.97" y2="245.4" stroke="#777" stroke-width="0.6"/>
<line x1="141.07" y1="242.6" x2="141.07" y2="244.2" stroke="#777" stroke-width="0.6"/>
<line x1="154.72" y1="246.8" x2="156.52" y2="245.4" stroke="#777" stroke-width="0.6"/>
<line x1="155.62" y1="242.6" x2="155.62" y2="244.2" stroke="#777" stroke-width="0.6"/>
<path d="M152.6 212.3h.6M129.2 222.1h.6M134.5 203.5h.6M119.5 211.3h.6M111.6 210.2h.6M118.4 216.9h.6M113.6 225.4h.6M138.8 215.6h.6M115.6 223.5h.6M127.3 220.9h.6M114.2 222.6h.6M106.1 237.6h.6M109.3 217.8h.6M124.7 222.9h.6M121.5 226.1h.6M121.0 213.5h.6M141.3 207.0h.6M121.9 194.3h.6M126.2 199.2h.6M131.4 218.6h.6M125.0 201.3h.6M110.2 223.8h.6M109.4 240.0h.6M135.3 212.4h.6M122.2 206.6h.6M126.4 230.8h.6M122.2 213.4h.6M132.4 215.1h.6M133.3 214.8h.6M142.6 215.3h.6M110.0 219.9h.6M115.2 207.3h.6M121.4 227.9h.6M121.1 217.0h.6M132.8 202.9h.6M131.0 216.0h.6M124.4 216.1h.6M119.0 212.4h.6M136.0 229.3h.6M130.0 213.2h.6M107.6 229.2h.6M135.7 222.6h.6M133.0 236.1h.6M150.4 235.1h.6M143.7 223.4h.6M133.6 221.5h.6M127.2 213.8h.6M131.9 237.1h.6M121.8 222.6h.6M131.4 219.9h.6M135.2 222.8h.6M109.7 207.2h.6M132.7 227.4h.6M137.4 222.8h.6M126.5 200.7h.6M140.9 208.7h.6M136.7 206.0h.6M116.0 221.8h.6M118.9 211.4h.6M135.0 228.1h.6M128.9 215.9h.6" fill="none" stroke="#999" stroke-width="0.7" stroke-linecap="round" opacity="0.8"/>
<path d="M144.5 219.5 L144.4 223.1 L144.0 225.9 L143.4 228.3 L142.5 230.4 L141.4 232.2 L140.0 233.7 L138.5 234.9 L136.7 235.8 L134.7 236.3 L132.0 236.5 L129.3 236.3 L127.3 235.8 L125.5 234.9 L124.0 233.7 L122.6 232.2 L121.5 230.4 L120.6 228.3 L120.0 225.9 L119.6 223.1 L119.5 219.5 L119.6 215.9 L120.0 213.1 L120.6 210.7 L121.5 208.6 L122.6 206.8 L124.0 205.3 L125.5 204.1 L127.3 203.2 L129.3 202.7 L132.0 202.5 L134.7 202.7 L136.7 203.2 L138.5 204.1 L140.0 205.3 L141.4 206.8 L142.5 208.6 L143.4 210.7 L144.0 213.1 L144.4 215.9Z" fill="#bbb" opacity="0.3"/>
<path d="M144.3 219.5 L144.4 223.1 L143.9 225.8 L143.4 228.4 L142.6 230.5 L141.1 231.9 L139.8 233.3 L138.6 235.3 L136.6 235.6 L134.6 236.1 L132.0 237.0 L129.3 236.3 L127.2 236.1 L125.5 234.9 L123.9 233.9 L122.8 232.0 L121.4 230.5 L120.4 228.5 L120.0 225.9 L119.4 223.2 L119.4 219.5 L120.0 216.0 L119.8 213.0 L120.6 210.6 L121.6 208.7 L122.9 207.1 L123.8 204.9 L125.5 204.1 L127.2 203.0 L129.3 202.3 L132.0 202.3 L134.7 202.2 L136.7 203.3 L138.6 203.8 L140.0 205.3 L141.6 206.4 L142.7 208.3 L143.1 210.9 L143.7 213.3 L144.2 215.9Z" fill="none" stroke="#777" stroke-width="0.5" stroke-linejoin="round"/>
<path d="M142.2 219.5 L142.0 222.6 L141.9 225.1 L141.2 227.1 L140.4 228.9 L139.6 230.6 L138.6 232.4 L137.2 233.3 L135.6 234.1 L133.7 234.1 L131.4 234.5 L129.1 234.1 L127.3 233.6 L125.8 232.8 L124.5 231.8 L122.9 231.0 L122.0 229.3 L121.2 227.4 L120.7 225.2 L120.7 222.6 L120.5 219.5 L120.4 216.3 L120.7 213.8 L121.2 211.6 L122.0 209.7 L123.4 208.6 L124.3 206.9 L125.6 205.8 L127.3 205.1 L129.1 205.0 L131.4 204.6 L133.7 205.1 L135.6 204.8 L137.2 205.6 L138.5 206.9 L139.5 208.4 L140.8 209.7 L141.4 211.7 L142.2 213.7 L142.5 216.2Z" fill="none" stroke="#777" stroke-width="0.5" stroke-linejoin="round"/>
<path d="M140.4 219.5 L140.3 222.3 L140.1 224.4 L139.7 226.4 L138.9 227.9 L138.1 229.4 L136.7 230.0 L135.7 231.2 L134.5 232.2 L132.8 232.4 L130.8 232.7 L128.8 232.0 L127.2 231.9 L126.0 231.1 L124.7 230.4 L123.7 229.2 L123.1 227.6 L122.3 226.1 L121.8 224.3 L121.2 222.3 L121.1 219.5 L121.6 216.8 L121.5 214.6 L122.4 213.0 L122.8 211.1 L123.8 210.0 L124.9 209.0 L125.8 207.5 L127.3 207.3 L128.8 206.9 L130.8 206.2 L132.9 206.4 L134.3 207.3 L135.9 207.4 L136.9 208.6 L138.0 209.7 L138.6 211.3 L139.7 212.6 L140.0 214.6 L140.5 216.7Z" fill="none" stroke="#777" stroke-width="0.5" stroke-linejoin="round"/>
<path d="M138.3 219.5 L138.3 221.9 L137.9 223.6 L137.4 225.1 L136.7 226.3 L136.3 227.7 L135.3 228.6 L134.4 229.5 L133.2 229.9 L131.9 230.4 L130.2 230.2 L128.5 230.5 L127.2 230.1 L126.1 229.3 L125.1 228.6 L124.1 227.7 L123.6 226.4 L122.9 225.2 L122.4 223.7 L122.4 221.8 L122.1 219.5 L122.2 217.2 L122.4 215.3 L123.0 213.9 L123.7 212.7 L124.1 211.2 L125.0 210.2 L126.1 209.7 L127.3 209.3 L128.5 208.9 L130.2 208.5 L131.9 208.9 L133.3 208.8 L134.4 209.6 L135.2 210.5 L136.2 211.3 L136.8 212.6 L137.7 213.7 L138.1 215.3 L138.1 217.2Z" fill="none" stroke="#777" stroke-width="0.5" stroke-linejoin="round"/>
<path d="M136.0 219.5 L135.9 221.3 L135.9 222.9 L135.4 224.0 L135.1 225.2 L134.4 226.1 L133.7 226.7 L133.0 227.5 L132.0 227.7 L131.0 228.2 L129.6 228.1 L128.2 228.0 L127.2 227.9 L126.2 227.7 L125.5 226.7 L124.8 226.0 L124.1 225.2 L123.5 224.2 L123.3 222.8 L123.2 221.4 L122.9 219.5 L123.3 217.7 L123.2 216.1 L123.8 215.0 L124.3 213.9 L124.8 213.0 L125.5 212.2 L126.2 211.3 L127.2 211.2 L128.2 210.7 L129.6 210.6 L131.0 210.8 L132.0 211.0 L132.9 211.7 L133.7 212.3 L134.4 213.0 L135.1 213.8 L135.5 214.9 L135.8 216.2 L136.1 217.6Z" fill="none" stroke="#777" stroke-width="0.5" stroke-linejoin="round"/>
<path d="M133.9 219.5 L134.1 221.0 L133.7 222.0 L133.6 223.1 L133.1 223.8 L132.7 224.5 L132.3 225.4 L131.5 225.6 L130.9 226.1 L130.1 226.2 L129.0 226.3 L127.9 226.2 L127.2 225.9 L126.4 225.8 L125.9 225.1 L125.3 224.5 L124.9 223.7 L124.5 223.0 L124.2 222.0 L123.9 221.0 L124.0 219.5 L124.2 218.1 L124.3 217.0 L124.3 215.9 L124.9 215.2 L125.2 214.4 L125.8 213.8 L126.4 213.3 L127.1 213.0 L127.9 212.7 L129.0 212.7 L130.1 212.7 L130.9 212.8 L131.6 213.3 L132.1 213.9 L132.6 214.5 L133.3 215.0 L133.5 216.0 L133.7 217.0 L134.1 218.0Z" fill="none" stroke="#777" stroke-width="0.5" stroke-linejoin="round"/>
<path d="M131.0 215.5 L130.9 219.0 L130.6 221.4 L130.2 223.4 L129.5 225.1 L128.7 226.6 L127.6 227.8 L126.4 228.8 L125.1 229.5 L123.4 229.9 L121.0 230.0 L118.6 229.9 L116.9 229.5 L115.6 228.8 L114.4 227.8 L113.3 226.6 L112.5 225.1 L111.8 223.4 L111.4 221.4 L111.1 219.0 L111.0 215.5 L111.1 212.0 L111.4 209.6 L111.8 207.6 L112.5 205.9 L113.3 204.4 L114.4 203.2 L115.6 202.2 L116.9 201.5 L118.6 201.1 L121.0 201.0 L123.4 201.1 L125.1 201.5 L126.4 202.2 L127.6 203.2 L128.7 204.4 L129.5 205.9 L130.2 207.6 L130.6 209.6 L130.9 212.0Z" fill="#aaa" opacity="0.5"/>
<path d="M130.8 215.5 L130.4 218.8 L130.3 221.2 L129.8 223.1 L129.3 224.9 L128.3 226.1 L127.4 227.3 L126.2 228.3 L124.9 228.8 L123.3 229.5 L121.0 229.6 L118.7 229.4 L117.2 228.7 L115.7 228.5 L114.6 227.3 L113.6 226.2 L112.8 224.8 L112.2 223.1 L111.6 221.2 L111.6 218.8 L111.5 215.5 L111.3 212.1 L111.9 209.9 L112.3 208.0 L112.9 206.3 L113.5 204.7 L114.7 203.7 L115.9 203.0 L117.1 202.2 L118.7 201.9 L121.0 201.8 L123.3 201.5 L124.9 202.0 L126.2 202.9 L127.3 203.8 L128.5 204.6 L129.2 206.2 L129.8 207.9 L130.3 209.8 L130.7 212.1Z" fill="none" stroke="#555" stroke-width="0.9" stroke-linejoin="round"/>
<path d="M130.8 215.5 L130.7 218.9 L130.6 221.3 L130.0 223.2 L129.3 224.9 L128.6 226.5 L127.8 228.1 L126.5 229.0 L125.1 229.7 L123.4 229.6 L121.0 230.0 L118.6 229.7 L117.0 229.2 L115.7 228.5 L114.5 227.6 L113.1 226.9 L112.3 225.3 L111.7 223.5 L111.2 221.5 L111.3 218.9 L111.1 215.5 L111.0 212.0 L111.2 209.5 L111.7 207.4 L112.3 205.6 L113.5 204.7 L114.3 203.1 L115.5 202.1 L116.9 201.5 L118.6 201.4 L121.0 201.0 L123.3 201.5 L125.2 201.2 L126.6 201.9 L127.7 203.1 L128.6 204.5 L129.7 205.6 L130.2 207.6 L130.8 209.5 L131.1 211.9Z" fill="none" stroke="#555" stroke-width="0.45" stroke-linejoin="round"/>
<path d="M130.1 215.5 L130.0 218.7 L129.8 220.9 L129.5 222.8 L128.8 224.3 L128.1 225.7 L126.8 226.3 L125.9 227.4 L124.7 228.4 L123.2 228.5 L121.0 228.9 L118.9 228.1 L117.4 228.0 L116.2 227.3 L115.0 226.6 L114.1 225.5 L113.6 223.9 L112.9 222.5 L112.5 220.7 L111.9 218.7 L111.9 215.5 L112.3 212.4 L112.2 210.1 L112.9 208.5 L113.3 206.8 L114.3 205.7 L115.2 204.7 L116.0 203.3 L117.4 203.2 L118.9 202.8 L121.0 202.1 L123.2 202.3 L124.6 203.1 L126.0 203.2 L127.0 204.4 L128.0 205.4 L128.5 207.0 L129.5 208.2 L129.8 210.2 L130.2 212.3Z" fill="none" stroke="#555" stroke-width="0.45" stroke-linejoin="round"/>
<path d="M129.1 215.5 L129.1 218.3 L128.7 220.2 L128.2 221.7 L127.6 223.0 L127.2 224.5 L126.3 225.3 L125.4 226.3 L124.2 226.6 L123.0 227.2 L121.0 226.9 L119.0 227.2 L117.7 226.8 L116.7 226.1 L115.7 225.4 L114.8 224.5 L114.3 223.1 L113.7 221.8 L113.2 220.3 L113.2 218.2 L112.9 215.5 L113.0 212.7 L113.1 210.7 L113.8 209.2 L114.4 208.0 L114.8 206.5 L115.6 205.5 L116.7 204.9 L117.8 204.6 L119.1 204.2 L121.0 203.8 L122.9 204.2 L124.3 204.0 L125.4 204.8 L126.2 205.8 L127.2 206.5 L127.7 207.9 L128.5 209.0 L128.9 210.7 L128.9 212.7Z" fill="none" stroke="#555" stroke-width="0.45" stroke-linejoin="round"/>
<path d="M127.9 215.5 L127.8 217.9 L127.8 219.7 L127.2 220.9 L127.0 222.3 L126.3 223.2 L125.5 223.9 L124.8 224.8 L123.8 225.0 L122.7 225.5 L121.0 225.4 L119.4 225.3 L118.2 225.2 L117.1 225.0 L116.5 223.9 L115.7 223.1 L115.0 222.3 L114.4 221.2 L114.2 219.6 L114.1 217.9 L113.8 215.5 L114.3 213.1 L114.1 211.3 L114.7 210.0 L115.2 208.9 L115.8 207.9 L116.4 207.0 L117.1 206.0 L118.2 205.9 L119.3 205.4 L121.0 205.3 L122.7 205.5 L123.8 205.7 L124.7 206.5 L125.5 207.1 L126.3 207.9 L127.0 208.7 L127.4 210.0 L127.7 211.4 L128.0 213.1Z" fill="none" stroke="#555" stroke-width="0.45" stroke-linejoin="round"/>
<path d="M126.9 215.5 L127.1 217.6 L126.6 218.9 L126.6 220.3 L126.0 221.1 L125.5 222.1 L125.1 223.1 L124.2 223.3 L123.5 223.9 L122.4 224.1 L121.0 224.2 L119.6 224.1 L118.6 223.7 L117.7 223.6 L117.1 222.7 L116.5 222.1 L116.0 221.1 L115.6 220.2 L115.3 219.0 L114.9 217.6 L115.0 215.5 L115.2 213.5 L115.3 212.0 L115.3 210.6 L116.0 209.9 L116.4 208.8 L117.0 208.2 L117.7 207.5 L118.6 207.2 L119.5 206.8 L121.0 206.8 L122.5 206.8 L123.5 206.9 L124.3 207.5 L124.9 208.3 L125.5 209.0 L126.2 209.6 L126.5 210.8 L126.7 212.0 L127.1 213.4Z" fill="none" stroke="#555" stroke-width="0.45" stroke-linejoin="round"/>
<path d="M126.0 215.5 L125.9 217.2 L125.7 218.4 L125.7 219.5 L125.1 220.2 L124.8 221.1 L124.4 221.8 L123.7 222.0 L123.0 222.5 L122.2 222.7 L121.0 222.6 L119.8 222.6 L118.9 222.6 L118.3 222.1 L117.6 221.7 L117.2 220.9 L116.8 220.2 L116.5 219.4 L116.2 218.4 L115.9 217.3 L116.0 215.5 L116.0 213.7 L116.2 212.6 L116.4 211.5 L116.9 210.8 L117.2 210.0 L117.6 209.3 L118.2 208.8 L119.0 208.6 L119.8 208.5 L121.0 208.4 L122.2 208.4 L123.0 208.6 L123.8 208.7 L124.3 209.5 L124.9 209.8 L125.3 210.6 L125.5 211.7 L125.8 212.6 L126.0 213.8Z" fill="none" stroke="#555" stroke-width="0.45" stroke-linejoin="round"/>
<ellipse cx="122" cy="214" rx="3.5" ry="1.8" fill="#eee" opacity="0.9"/>
<line x1="129.5" y1="182.6" x2="129.5" y2="242.6" stroke="#222" stroke-width="0.9"/>
<line x1="103.5" y1="220.3" x2="164.1" y2="220.3" stroke="#222" stroke-width="0.9"/>
<rect x="103.5" y="182.6" width="60.6" height="60" fill="none" stroke="#111" stroke-width="1.2"/>
<text x="105.1" y="191.5" font-size="9.2" stroke="#000" stroke-width="0.22">48.8</text>
<text x="163.3" y="191.5" font-size="9.2" text-anchor="end" stroke="#000" stroke-width="0.22">21.5</text>
<text x="163.3" y="239.6" font-size="9.2" text-anchor="end" stroke="#000" stroke-width="0.22">9.91</text>
<line x1="168.1" y1="198.2" x2="169.7" y2="197" stroke="#777" stroke-width="0.6"/>
<line x1="170.7" y1="197.6" x2="172.3" y2="197.6" stroke="#777" stroke-width="0.6"/>
<line x1="168.1" y1="216.2" x2="169.7" y2="215" stroke="#777" stroke-width="0.6"/>
<line x1="170.7" y1="215.6" x2="172.3" y2="215.6" stroke="#777" stroke-width="0.6"/>
<line x1="168.1" y1="228.2" x2="169.7" y2="227" stroke="#777" stroke-width="0.6"/>
<line x1="170.7" y1="227.6" x2="172.3" y2="227.6" stroke="#777" stroke-width="0.6"/>
<line x1="168.1" y1="238.4" x2="169.7" y2="237.2" stroke="#777" stroke-width="0.6"/>
<line x1="170.7" y1="237.8" x2="172.3" y2="237.8" stroke="#777" stroke-width="0.6"/>
<line x1="178.67" y1="246.8" x2="180.47" y2="245.4" stroke="#777" stroke-width="0.6"/>
<line x1="179.57" y1="242.6" x2="179.57" y2="244.2" stroke="#777" stroke-width="0.6"/>
<line x1="192.61" y1="246.8" x2="194.41" y2="245.4" stroke="#777" stroke-width="0.6"/>
<line x1="193.51" y1="242.6" x2="193.51" y2="244.2" stroke="#777" stroke-width="0.6"/>
<line x1="208.97" y1="246.8" x2="210.77" y2="245.4" stroke="#777" stroke-width="0.6"/>
<line x1="209.87" y1="242.6" x2="209.87" y2="244.2" stroke="#777" stroke-width="0.6"/>
<line x1="223.52" y1="246.8" x2="225.32" y2="245.4" stroke="#777" stroke-width="0.6"/>
<line x1="224.42" y1="242.6" x2="224.42" y2="244.2" stroke="#777" stroke-width="0.6"/>
<path d="M194.6 236.4h.6M182.3 233.3h.6M190.4 218.3h.6M216.3 223.3h.6M193.0 230.2h.6M207.0 221.0h.6M200.6 209.7h.6M189.1 216.1h.6M177.5 203.3h.6M191.4 217.6h.6M194.3 205.4h.6M192.5 224.3h.6M202.5 211.2h.6M188.7 197.2h.6M187.5 195.0h.6M176.5 234.6h.6M197.4 217.7h.6M199.0 227.7h.6M206.0 218.6h.6M186.4 214.1h.6M181.7 220.9h.6M184.1 234.2h.6M182.1 196.3h.6M216.3 192.5h.6M190.1 215.1h.6M213.4 197.6h.6M206.4 212.6h.6M191.6 213.3h.6M201.2 207.7h.6M192.6 225.6h.6M215.6 192.5h.6M211.8 232.8h.6M187.7 225.1h.6M196.0 218.8h.6M190.8 219.0h.6M191.4 210.9h.6M218.2 198.5h.6M191.7 225.9h.6M191.0 219.6h.6M197.5 233.0h.6M188.1 216.9h.6M216.8 227.8h.6M202.8 214.3h.6M179.4 225.0h.6M183.5 208.7h.6M177.9 215.3h.6M206.8 216.2h.6M176.1 229.4h.6M194.3 231.5h.6M207.9 219.4h.6M191.8 220.9h.6M179.9 229.4h.6M210.0 223.5h.6M190.7 218.3h.6M184.1 211.8h.6M188.7 211.3h.6M188.3 202.5h.6M197.7 222.0h.6M179.7 193.8h.6M193.4 234.6h.6M184.7 215.6h.6M186.7 229.2h.6M182.5 233.2h.6M189.9 232.5h.6" fill="none" stroke="#999" stroke-width="0.7" stroke-linecap="round" opacity="0.8"/>
<path d="M198.0 216.0 L198.0 217.3 L197.9 218.4 L197.6 219.5 L197.2 220.4 L196.7 221.2 L196.0 221.6 L195.4 222.3 L194.8 222.9 L193.9 223.0 L193.0 223.2 L192.1 222.8 L191.3 222.7 L190.6 222.2 L189.9 221.8 L189.3 221.1 L189.0 220.2 L188.6 219.4 L188.3 218.4 L187.9 217.3 L187.9 216.0 L188.2 214.7 L188.1 213.6 L188.6 212.7 L188.8 211.7 L189.4 211.0 L190.0 210.4 L190.5 209.6 L191.3 209.4 L192.1 209.2 L193.0 208.8 L193.9 208.9 L194.7 209.4 L195.5 209.5 L196.1 210.2 L196.7 210.8 L197.1 211.8 L197.6 212.5 L197.8 213.6 L198.1 214.7Z" fill="none" stroke="#888" stroke-width="0.5" stroke-linejoin="round"/>
<path d="M197.5 216.0 L197.4 217.2 L197.2 218.1 L196.9 219.0 L196.5 219.7 L196.2 220.5 L195.7 221.1 L195.2 221.6 L194.5 221.8 L193.8 222.2 L193.0 222.1 L192.2 222.2 L191.5 222.0 L190.9 221.5 L190.3 221.1 L189.8 220.5 L189.4 219.7 L189.0 219.0 L188.7 218.2 L188.7 217.1 L188.5 216.0 L188.6 214.8 L188.7 213.8 L189.1 213.0 L189.5 212.3 L189.7 211.4 L190.2 210.8 L190.9 210.5 L191.5 210.3 L192.2 210.0 L193.0 209.8 L193.8 210.0 L194.6 210.0 L195.2 210.4 L195.7 211.0 L196.2 211.5 L196.6 212.2 L197.1 212.9 L197.3 213.8 L197.4 214.9Z" fill="none" stroke="#888" stroke-width="0.5" stroke-linejoin="round"/>
<path d="M196.8 216.0 L196.7 217.0 L196.7 217.8 L196.3 218.5 L196.1 219.3 L195.8 219.9 L195.3 220.3 L194.9 220.8 L194.3 220.9 L193.7 221.2 L193.0 221.2 L192.3 221.1 L191.7 221.1 L191.1 220.9 L190.7 220.3 L190.3 219.8 L189.8 219.3 L189.5 218.7 L189.4 217.8 L189.3 217.0 L189.1 216.0 L189.3 215.0 L189.3 214.1 L189.6 213.4 L189.9 212.8 L190.3 212.2 L190.7 211.7 L191.1 211.1 L191.7 211.0 L192.3 210.7 L193.0 210.6 L193.7 210.8 L194.3 210.9 L194.8 211.3 L195.3 211.7 L195.7 212.2 L196.2 212.7 L196.4 213.4 L196.6 214.2 L196.8 215.0Z" fill="none" stroke="#888" stroke-width="0.5" stroke-linejoin="round"/>
<path d="M196.1 216.0 L196.3 216.9 L196.0 217.5 L195.9 218.2 L195.6 218.7 L195.3 219.2 L195.0 219.8 L194.5 220.0 L194.1 220.3 L193.6 220.4 L193.0 220.5 L192.4 220.4 L191.9 220.2 L191.4 220.1 L191.1 219.6 L190.7 219.2 L190.4 218.7 L190.2 218.2 L190.0 217.5 L189.8 216.8 L189.8 216.0 L189.9 215.2 L190.0 214.5 L190.0 213.8 L190.4 213.3 L190.6 212.7 L191.0 212.3 L191.4 211.9 L191.9 211.8 L192.4 211.5 L193.0 211.5 L193.6 211.5 L194.1 211.6 L194.6 211.9 L194.9 212.4 L195.3 212.8 L195.7 213.2 L195.9 213.8 L196.0 214.5 L196.2 215.1Z" fill="none" stroke="#888" stroke-width="0.5" stroke-linejoin="round"/>
<path d="M193.0 215.0 L192.9 218.8 L192.6 221.8 L192.2 224.6 L191.6 227.0 L190.8 229.1 L189.9 230.8 L188.8 232.2 L187.6 233.2 L186.2 233.8 L184.5 234.0 L182.8 233.8 L181.4 233.2 L180.2 232.2 L179.1 230.8 L178.2 229.1 L177.4 227.0 L176.8 224.6 L176.4 221.8 L176.1 218.8 L176.0 215.0 L176.1 211.2 L176.4 208.2 L176.8 205.4 L177.4 203.0 L178.2 200.9 L179.1 199.2 L180.2 197.8 L181.4 196.8 L182.8 196.2 L184.5 196.0 L186.2 196.2 L187.6 196.8 L188.8 197.8 L189.9 199.2 L190.8 200.9 L191.6 203.0 L192.2 205.4 L192.6 208.2 L192.9 211.2Z" fill="#aaa" opacity="0.45"/>
<path d="M193.1 215.0 L193.1 218.9 L192.6 221.8 L192.1 224.4 L191.4 226.6 L190.8 229.2 L189.8 230.8 L188.8 232.5 L187.5 233.1 L186.2 234.1 L184.5 233.7 L182.8 234.1 L181.4 233.4 L180.2 232.1 L179.1 230.8 L178.1 229.2 L177.6 226.7 L176.8 224.6 L176.2 222.0 L176.2 218.7 L175.8 215.0 L176.0 211.2 L176.2 208.0 L176.9 205.5 L177.6 203.3 L178.1 200.7 L179.0 198.9 L180.2 197.9 L181.5 197.3 L182.8 196.5 L184.5 195.8 L186.2 196.4 L187.6 196.3 L188.8 197.7 L189.8 199.5 L190.8 200.8 L191.5 203.1 L192.4 205.2 L192.8 208.0 L192.9 211.2Z" fill="none" stroke="#555" stroke-width="0.55" stroke-linejoin="round"/>
<path d="M191.7 214.5 L191.5 217.8 L191.5 220.6 L190.9 222.7 L190.5 225.1 L189.7 226.8 L188.8 228.1 L188.0 229.7 L186.9 230.1 L185.7 231.0 L184.3 230.8 L182.8 230.7 L181.6 230.5 L180.4 229.9 L179.7 228.1 L178.8 226.7 L178.0 225.1 L177.3 223.2 L177.1 220.6 L176.9 217.8 L176.6 214.5 L177.1 211.3 L176.9 208.4 L177.6 206.2 L178.2 204.2 L178.9 202.4 L179.6 200.8 L180.4 199.1 L181.6 198.8 L182.8 197.9 L184.3 197.7 L185.7 198.1 L187.0 198.5 L187.9 199.8 L188.8 201.0 L189.7 202.4 L190.5 203.9 L191.0 206.1 L191.3 208.6 L191.7 211.2Z" fill="none" stroke="#555" stroke-width="0.55" stroke-linejoin="round"/>
<path d="M190.4 214.0 L190.6 217.0 L190.1 219.1 L189.9 221.4 L189.3 222.9 L188.7 224.6 L188.2 226.4 L187.2 226.9 L186.4 228.0 L185.3 228.3 L184.0 228.4 L182.7 228.3 L181.7 227.6 L180.7 227.4 L180.1 225.8 L179.3 224.6 L178.8 222.9 L178.3 221.2 L177.9 219.2 L177.5 217.0 L177.6 214.0 L177.8 211.2 L177.9 208.9 L178.0 206.6 L178.8 205.2 L179.2 203.3 L180.0 202.1 L180.7 200.9 L181.7 200.4 L182.7 199.6 L184.0 199.6 L185.3 199.6 L186.4 199.9 L187.3 200.9 L188.0 202.3 L188.7 203.6 L189.5 204.7 L189.9 206.8 L190.1 208.9 L190.6 211.1Z" fill="none" stroke="#555" stroke-width="0.55" stroke-linejoin="round"/>
<path d="M189.2 213.6 L189.1 216.0 L188.9 217.8 L188.8 219.8 L188.2 221.0 L187.8 222.6 L187.3 223.9 L186.4 224.3 L185.7 225.2 L184.9 225.7 L183.8 225.4 L182.7 225.5 L181.8 225.3 L181.1 224.5 L180.3 223.8 L179.8 222.4 L179.3 221.1 L179.0 219.5 L178.6 217.9 L178.3 216.0 L178.3 213.6 L178.3 211.1 L178.6 209.2 L178.8 207.4 L179.4 206.1 L179.8 204.7 L180.3 203.3 L181.0 202.4 L181.8 202.0 L182.7 201.8 L183.8 201.6 L184.8 201.7 L185.7 202.1 L186.6 202.4 L187.1 203.6 L187.9 204.4 L188.4 205.7 L188.6 207.6 L188.9 209.2 L189.2 211.1Z" fill="none" stroke="#555" stroke-width="0.55" stroke-linejoin="round"/>
<path d="M188.0 213.1 L187.9 215.0 L187.8 216.7 L187.5 218.0 L187.3 219.4 L186.9 220.5 L186.4 221.4 L185.7 221.8 L185.1 222.5 L184.4 222.8 L183.5 222.8 L182.6 223.1 L181.9 222.8 L181.4 221.8 L180.7 221.5 L180.2 220.4 L179.9 219.3 L179.6 218.0 L179.3 216.7 L179.2 215.0 L179.1 213.1 L179.1 211.1 L179.4 209.6 L179.5 208.0 L179.8 206.7 L180.2 205.6 L180.7 204.8 L181.4 204.4 L182.0 203.9 L182.7 203.5 L183.5 202.9 L184.4 203.4 L185.1 203.7 L185.8 203.9 L186.3 205.0 L186.8 205.7 L187.2 206.9 L187.4 208.2 L187.8 209.5 L188.0 211.1Z" fill="none" stroke="#555" stroke-width="0.55" stroke-linejoin="round"/>
<path d="M186.7 212.6 L186.7 214.1 L186.6 215.4 L186.4 216.4 L186.1 217.4 L185.8 218.3 L185.4 218.8 L185.0 219.5 L184.5 219.9 L184.0 220.3 L183.3 220.0 L182.6 220.0 L182.1 219.7 L181.6 219.6 L181.1 219.0 L180.9 218.1 L180.4 217.5 L180.1 216.5 L180.0 215.4 L179.9 214.1 L180.0 212.6 L180.0 211.1 L180.0 209.9 L180.3 208.9 L180.5 207.9 L180.8 207.1 L181.2 206.5 L181.6 205.7 L182.1 205.4 L182.6 204.9 L183.3 205.0 L184.0 205.0 L184.5 205.3 L185.0 205.7 L185.4 206.3 L185.8 207.1 L186.2 207.7 L186.5 208.7 L186.6 209.8 L186.7 211.1Z" fill="none" stroke="#555" stroke-width="0.55" stroke-linejoin="round"/>
<path d="M188.5 211.0 L188.4 212.9 L188.3 214.4 L188.0 215.9 L187.6 217.2 L187.1 218.3 L186.6 219.2 L185.9 220.0 L185.2 220.6 L184.4 220.9 L183.5 221.0 L182.6 220.9 L181.8 220.6 L181.1 220.0 L180.4 219.2 L179.9 218.3 L179.4 217.2 L179.0 215.9 L178.7 214.4 L178.6 212.9 L178.5 211.0 L178.6 209.1 L178.7 207.6 L179.0 206.1 L179.4 204.8 L179.9 203.7 L180.4 202.8 L181.1 202.0 L181.8 201.4 L182.6 201.1 L183.5 201.0 L184.4 201.1 L185.2 201.4 L185.9 202.0 L186.6 202.8 L187.1 203.7 L187.6 204.8 L188.0 206.1 L188.3 207.6 L188.4 209.1Z" fill="#888" opacity="0.45"/>
<path d="M188.4 211.0 L188.3 212.8 L188.3 214.5 L187.9 215.8 L187.6 217.2 L187.1 218.2 L186.5 219.0 L185.9 220.0 L185.2 220.3 L184.4 220.8 L183.5 220.7 L182.6 220.6 L181.8 220.5 L181.0 220.2 L180.5 219.1 L179.9 218.2 L179.3 217.2 L178.9 216.0 L178.7 214.5 L178.6 212.8 L178.4 211.0 L178.7 209.2 L178.6 207.5 L179.1 206.2 L179.5 205.0 L179.9 203.9 L180.5 202.8 L181.0 201.8 L181.8 201.6 L182.6 201.1 L183.5 200.9 L184.4 201.2 L185.2 201.4 L185.9 202.2 L186.5 203.0 L187.1 203.8 L187.7 204.8 L188.0 206.1 L188.2 207.6 L188.5 209.1Z" fill="none" stroke="#555" stroke-width="0.45" stroke-linejoin="round"/>
<path d="M187.9 211.0 L188.1 212.7 L187.7 214.0 L187.6 215.4 L187.1 216.4 L186.7 217.5 L186.4 218.6 L185.7 219.0 L185.1 219.7 L184.3 219.9 L183.5 220.0 L182.7 219.9 L182.0 219.4 L181.3 219.3 L180.8 218.2 L180.3 217.5 L179.9 216.4 L179.5 215.3 L179.2 214.1 L178.9 212.7 L179.0 211.0 L179.2 209.4 L179.3 208.0 L179.3 206.5 L179.9 205.6 L180.2 204.4 L180.7 203.6 L181.3 202.8 L182.0 202.5 L182.7 202.0 L183.5 202.0 L184.3 202.0 L185.1 202.2 L185.7 202.9 L186.2 203.7 L186.7 204.6 L187.3 205.3 L187.5 206.6 L187.7 208.0 L188.1 209.3Z" fill="none" stroke="#555" stroke-width="0.45" stroke-linejoin="round"/>
<path d="M187.5 211.0 L187.4 212.5 L187.2 213.7 L187.2 215.0 L186.7 215.8 L186.4 216.8 L186.0 217.8 L185.4 218.0 L184.9 218.7 L184.2 219.0 L183.5 218.8 L182.8 218.9 L182.1 218.7 L181.6 218.2 L181.0 217.7 L180.6 216.7 L180.3 215.9 L180.0 214.8 L179.7 213.8 L179.4 212.5 L179.5 211.0 L179.5 209.5 L179.7 208.3 L179.8 207.0 L180.3 206.2 L180.6 205.2 L181.0 204.3 L181.5 203.7 L182.1 203.4 L182.8 203.3 L183.5 203.1 L184.2 203.2 L184.9 203.5 L185.5 203.7 L185.9 204.5 L186.5 205.0 L186.9 206.0 L187.0 207.2 L187.3 208.3 L187.5 209.5Z" fill="none" stroke="#555" stroke-width="0.45" stroke-linejoin="round"/>
<path d="M187.0 211.0 L186.9 212.3 L186.9 213.4 L186.6 214.4 L186.4 215.4 L186.1 216.2 L185.7 216.8 L185.2 217.2 L184.7 217.7 L184.1 217.9 L183.5 217.9 L182.8 218.1 L182.3 217.9 L181.8 217.1 L181.3 216.9 L180.9 216.1 L180.6 215.3 L180.4 214.4 L180.1 213.4 L180.0 212.3 L180.0 211.0 L180.0 209.7 L180.2 208.6 L180.3 207.5 L180.5 206.6 L180.9 205.7 L181.3 205.2 L181.8 204.9 L182.3 204.5 L182.9 204.2 L183.5 203.8 L184.1 204.2 L184.7 204.4 L185.2 204.5 L185.6 205.3 L186.1 205.9 L186.4 206.7 L186.6 207.7 L186.9 208.6 L187.0 209.7Z" fill="none" stroke="#555" stroke-width="0.45" stroke-linejoin="round"/>
<line x1="198.7" y1="182.6" x2="198.7" y2="242.6" stroke="#222" stroke-width="0.9"/>
<line x1="172.3" y1="221.4" x2="232.9" y2="221.4" stroke="#222" stroke-width="0.9"/>
<rect x="172.3" y="182.6" width="60.6" height="60" fill="none" stroke="#111" stroke-width="1.2"/>
<text x="173.9" y="191.5" font-size="9.2" stroke="#000" stroke-width="0.22">71.5</text>
<text x="232.1" y="191.5" font-size="9.2" text-anchor="end" stroke="#000" stroke-width="0.22">2.99</text>
<text x="232.1" y="239.6" font-size="9.2" text-anchor="end" stroke="#000" stroke-width="0.22">1.61</text>
<line x1="30.8" y1="265.4" x2="32.4" y2="264.2" stroke="#777" stroke-width="0.6"/>
<line x1="33.4" y1="264.8" x2="35" y2="264.8" stroke="#777" stroke-width="0.6"/>
<line x1="30.8" y1="283.4" x2="32.4" y2="282.2" stroke="#777" stroke-width="0.6"/>
<line x1="33.4" y1="282.8" x2="35" y2="282.8" stroke="#777" stroke-width="0.6"/>
<line x1="30.8" y1="295.4" x2="32.4" y2="294.2" stroke="#777" stroke-width="0.6"/>
<line x1="33.4" y1="294.8" x2="35" y2="294.8" stroke="#777" stroke-width="0.6"/>
<line x1="30.8" y1="305.6" x2="32.4" y2="304.4" stroke="#777" stroke-width="0.6"/>
<line x1="33.4" y1="305" x2="35" y2="305" stroke="#777" stroke-width="0.6"/>
<line x1="41.37" y1="314" x2="43.17" y2="312.6" stroke="#777" stroke-width="0.6"/>
<line x1="42.27" y1="309.8" x2="42.27" y2="311.4" stroke="#777" stroke-width="0.6"/>
<line x1="55.31" y1="314" x2="57.11" y2="312.6" stroke="#777" stroke-width="0.6"/>
<line x1="56.21" y1="309.8" x2="56.21" y2="311.4" stroke="#777" stroke-width="0.6"/>
<line x1="71.67" y1="314" x2="73.47" y2="312.6" stroke="#777" stroke-width="0.6"/>
<line x1="72.57" y1="309.8" x2="72.57" y2="311.4" stroke="#777" stroke-width="0.6"/>
<line x1="86.22" y1="314" x2="88.02" y2="312.6" stroke="#777" stroke-width="0.6"/>
<line x1="87.12" y1="309.8" x2="87.12" y2="311.4" stroke="#777" stroke-width="0.6"/>
<path d="M54.9 286.9h.6M48.9 285.5h.6M65.5 286.2h.6M73.1 270.7h.6M55.2 272.8h.6M45.0 279.1h.6M57.1 286.3h.6M64.8 262.2h.6M56.9 273.8h.6M48.2 297.0h.6M51.7 257.9h.6M58.1 277.8h.6M40.3 270.2h.6M46.9 281.0h.6M49.3 282.2h.6M76.4 271.7h.6M44.7 278.3h.6M67.5 272.8h.6M71.6 265.6h.6M42.0 280.6h.6M44.0 273.9h.6M59.8 290.0h.6M55.8 278.0h.6M70.5 286.1h.6M51.6 295.9h.6M43.6 283.3h.6M62.3 281.2h.6M47.5 285.5h.6M47.9 274.2h.6M42.1 297.0h.6M47.8 295.2h.6M59.0 278.2h.6M62.4 284.6h.6M56.0 264.8h.6M55.2 292.0h.6M60.2 293.2h.6M72.3 286.2h.6M78.1 263.1h.6M64.2 282.4h.6M74.7 276.9h.6M38.3 266.1h.6M52.3 288.8h.6M48.3 283.5h.6M53.6 282.7h.6M61.4 283.3h.6M56.8 270.2h.6M53.0 286.6h.6M66.9 279.9h.6M55.5 285.4h.6M61.3 283.8h.6M51.4 275.2h.6M67.9 284.8h.6M65.0 291.5h.6M56.2 269.1h.6M68.0 280.2h.6M55.0 293.6h.6M66.6 284.2h.6M54.6 306.5h.6M61.3 269.0h.6M63.4 283.1h.6M54.8 289.5h.6M57.2 305.4h.6M56.8 284.3h.6M68.3 274.5h.6M66.6 280.6h.6" fill="none" stroke="#999" stroke-width="0.7" stroke-linecap="round" opacity="0.8"/>
<path d="M71.5 287.0 L71.4 288.5 L71.0 289.5 L70.4 290.3 L69.6 291.0 L68.6 291.6 L67.3 292.1 L65.7 292.5 L63.9 292.8 L61.8 292.9 L58.5 293.0 L55.2 292.9 L53.1 292.8 L51.3 292.5 L49.7 292.1 L48.4 291.6 L47.4 291.0 L46.6 290.3 L46.0 289.5 L45.6 288.5 L45.5 287.0 L45.6 285.5 L46.0 284.5 L46.6 283.7 L47.4 283.0 L48.4 282.4 L49.7 281.9 L51.3 281.5 L53.1 281.2 L55.2 281.1 L58.5 281.0 L61.8 281.1 L63.9 281.2 L65.7 281.5 L67.3 281.9 L68.6 282.4 L69.6 283.0 L70.4 283.7 L71.0 284.5 L71.4 285.5Z" fill="#aaa" opacity="0.45"/>
<path d="M71.0 287.0 L70.7 288.4 L70.6 289.4 L70.2 290.3 L69.0 290.8 L68.1 291.4 L66.9 291.9 L65.4 292.2 L63.8 292.6 L61.7 292.8 L58.5 292.8 L55.4 292.7 L53.2 292.6 L51.7 292.2 L50.1 291.9 L48.9 291.5 L48.0 290.8 L47.0 290.2 L46.5 289.4 L46.2 288.4 L46.2 287.0 L46.1 285.5 L46.7 284.6 L47.3 283.9 L47.7 283.1 L48.9 282.6 L50.0 282.1 L51.5 281.7 L53.2 281.4 L55.3 281.2 L58.5 281.3 L61.7 281.3 L63.7 281.5 L65.5 281.7 L66.8 282.1 L68.1 282.6 L69.1 283.2 L70.1 283.8 L70.5 284.6 L71.0 285.5Z" fill="none" stroke="#444" stroke-width="1" stroke-linejoin="round"/>
<path d="M71.3 287.0 L71.7 288.6 L70.7 289.5 L70.6 290.4 L69.3 290.9 L68.4 291.6 L67.5 292.3 L65.6 292.4 L64.0 292.8 L61.8 292.9 L58.5 293.0 L55.2 292.9 L53.2 292.7 L51.1 292.6 L49.9 292.0 L48.6 291.6 L47.7 290.9 L46.7 290.3 L46.0 289.5 L45.3 288.6 L45.6 287.0 L45.9 285.5 L46.2 284.5 L46.2 283.6 L47.7 283.1 L48.4 282.3 L49.8 281.9 L51.2 281.4 L53.1 281.3 L55.2 281.0 L58.5 281.0 L61.8 281.0 L64.1 281.1 L65.8 281.5 L67.1 282.0 L68.3 282.5 L69.9 282.8 L70.4 283.7 L70.8 284.5 L71.7 285.4Z" fill="none" stroke="#555" stroke-width="0.45" stroke-linejoin="round"/>
<path d="M70.2 287.0 L70.0 288.4 L69.5 289.2 L69.5 290.1 L68.2 290.5 L67.6 291.2 L66.6 291.7 L64.9 291.8 L63.4 292.2 L61.5 292.4 L58.5 292.3 L55.6 292.3 L53.5 292.3 L52.0 291.9 L50.5 291.7 L49.6 291.1 L48.7 290.6 L48.0 289.9 L47.2 289.3 L46.6 288.4 L46.7 287.0 L46.7 285.6 L47.3 284.8 L47.6 283.9 L48.7 283.4 L49.6 282.9 L50.5 282.3 L51.9 282.0 L53.6 281.8 L55.6 281.8 L58.5 281.7 L61.4 281.7 L63.3 281.9 L65.1 282.0 L66.3 282.5 L67.8 282.7 L68.7 283.3 L69.0 284.1 L69.7 284.8 L70.1 285.6Z" fill="none" stroke="#555" stroke-width="0.45" stroke-linejoin="round"/>
<path d="M68.9 287.0 L68.8 288.2 L68.6 289.0 L67.9 289.6 L67.6 290.3 L66.7 290.8 L65.6 291.1 L64.2 291.3 L62.9 291.6 L61.1 291.7 L58.5 291.7 L55.8 291.9 L54.0 291.8 L52.9 291.3 L51.3 291.2 L50.4 290.7 L49.7 290.2 L49.1 289.6 L48.4 289.0 L48.2 288.2 L48.0 287.0 L48.1 285.8 L48.7 285.0 L48.8 284.3 L49.4 283.7 L50.2 283.2 L51.4 282.9 L52.9 282.7 L54.3 282.5 L55.9 282.3 L58.5 282.1 L61.1 282.3 L62.8 282.4 L64.4 282.5 L65.4 282.9 L66.6 283.3 L67.4 283.8 L67.8 284.4 L68.6 285.0 L69.0 285.8Z" fill="none" stroke="#555" stroke-width="0.45" stroke-linejoin="round"/>
<path d="M67.6 287.0 L67.5 288.1 L67.5 288.8 L66.8 289.3 L66.3 289.8 L65.6 290.3 L64.5 290.5 L63.6 290.9 L62.3 291.1 L60.8 291.2 L58.5 291.1 L56.2 291.1 L54.8 290.9 L53.3 290.9 L52.3 290.6 L51.7 290.2 L50.5 289.9 L49.9 289.4 L49.7 288.8 L49.4 288.1 L49.6 287.0 L49.7 286.0 L49.7 285.2 L50.4 284.7 L50.9 284.2 L51.6 283.8 L52.5 283.5 L53.4 283.2 L54.7 283.0 L56.1 282.8 L58.5 282.8 L60.8 282.8 L62.3 283.0 L63.6 283.1 L64.6 283.4 L65.4 283.8 L66.5 284.1 L67.1 284.6 L67.4 285.2 L67.6 285.9Z" fill="none" stroke="#555" stroke-width="0.45" stroke-linejoin="round"/>
<path d="M66.3 287.0 L66.3 287.9 L66.1 288.5 L65.5 289.0 L65.0 289.4 L64.5 289.8 L63.7 290.0 L62.9 290.4 L61.8 290.5 L60.5 290.6 L58.5 290.6 L56.5 290.6 L55.3 290.4 L54.2 290.3 L53.3 290.0 L52.3 289.9 L52.0 289.4 L51.2 289.0 L51.2 288.5 L50.7 287.9 L50.8 287.0 L50.8 286.1 L50.8 285.5 L51.5 285.1 L52.0 284.6 L52.3 284.1 L53.2 283.9 L54.3 283.8 L55.1 283.4 L56.5 283.3 L58.5 283.5 L60.5 283.4 L61.7 283.6 L62.8 283.7 L63.8 283.9 L64.4 284.3 L65.2 284.5 L65.5 285.0 L65.9 285.5 L66.4 286.1Z" fill="none" stroke="#555" stroke-width="0.45" stroke-linejoin="round"/>
<path d="M71.5 271.5 L71.4 273.8 L71.0 275.3 L70.4 276.5 L69.5 277.6 L68.4 278.5 L67.1 279.2 L65.5 279.8 L63.7 280.2 L61.4 280.4 L58.0 280.5 L54.6 280.4 L52.3 280.2 L50.5 279.8 L48.9 279.2 L47.6 278.5 L46.5 277.6 L45.6 276.5 L45.0 275.3 L44.6 273.8 L44.5 271.5 L44.6 269.2 L45.0 267.7 L45.6 266.5 L46.5 265.4 L47.6 264.5 L48.9 263.8 L50.5 263.2 L52.3 262.8 L54.6 262.6 L58.0 262.5 L61.4 262.6 L63.7 262.8 L65.5 263.2 L67.1 263.8 L68.4 264.5 L69.5 265.4 L70.4 266.5 L71.0 267.7 L71.4 269.2Z" fill="#aaa" opacity="0.45"/>
<path d="M70.8 271.5 L71.1 273.7 L70.7 275.2 L69.7 276.2 L69.2 277.4 L68.1 278.2 L66.8 278.9 L65.1 279.3 L63.5 279.9 L61.3 280.0 L58.0 280.2 L54.7 280.1 L52.5 279.9 L50.7 279.5 L49.3 278.8 L47.9 278.2 L46.7 277.4 L45.9 276.4 L45.3 275.2 L45.4 273.7 L45.0 271.5 L45.0 269.3 L45.6 267.9 L46.3 266.8 L46.8 265.6 L47.9 264.8 L49.1 264.0 L50.9 263.6 L52.7 263.3 L54.7 262.9 L58.0 262.7 L61.3 262.9 L63.3 263.3 L65.2 263.6 L66.6 264.2 L68.0 264.8 L69.2 265.6 L69.9 266.7 L70.5 267.9 L70.7 269.3Z" fill="none" stroke="#222" stroke-width="1.2" stroke-linejoin="round"/>
<path d="M71.5 271.5 L71.3 273.8 L70.7 275.2 L70.7 276.6 L69.2 277.4 L68.4 278.5 L67.3 279.4 L65.3 279.6 L63.7 280.2 L61.4 280.5 L58.0 280.3 L54.6 280.4 L52.3 280.3 L50.5 279.7 L48.8 279.3 L47.8 278.3 L46.6 277.5 L45.9 276.4 L45.0 275.3 L44.3 273.8 L44.4 271.5 L44.4 269.2 L45.1 267.8 L45.4 266.4 L46.7 265.6 L47.7 264.6 L48.8 263.7 L50.4 263.1 L52.4 262.9 L54.7 262.8 L58.0 262.6 L61.4 262.7 L63.6 262.9 L65.7 263.1 L66.9 263.9 L68.7 264.4 L69.8 265.3 L70.1 266.6 L70.9 267.8 L71.4 269.2Z" fill="none" stroke="#444" stroke-width="0.45" stroke-linejoin="round"/>
<path d="M70.2 271.5 L70.0 273.5 L69.8 274.9 L69.0 275.9 L68.6 277.1 L67.6 277.9 L66.3 278.5 L64.6 278.8 L63.1 279.3 L61.0 279.4 L58.0 279.5 L54.8 279.7 L52.8 279.5 L51.4 278.7 L49.6 278.6 L48.5 277.8 L47.7 276.9 L47.0 276.0 L46.2 274.9 L46.0 273.5 L45.7 271.5 L45.8 269.4 L46.6 268.2 L46.7 266.9 L47.3 265.9 L48.3 265.1 L49.7 264.5 L51.4 264.3 L53.1 263.9 L55.0 263.7 L58.0 263.2 L61.0 263.6 L63.0 263.8 L64.9 263.9 L66.1 264.7 L67.4 265.2 L68.3 266.1 L68.9 267.1 L69.8 268.1 L70.3 269.4Z" fill="none" stroke="#444" stroke-width="0.45" stroke-linejoin="round"/>
<path d="M68.8 271.5 L68.7 273.3 L68.7 274.6 L67.9 275.5 L67.2 276.4 L66.4 277.1 L65.1 277.5 L64.0 278.1 L62.6 278.5 L60.8 278.8 L58.0 278.5 L55.3 278.6 L53.6 278.3 L51.9 278.2 L50.6 277.7 L49.9 276.9 L48.5 276.5 L47.8 275.6 L47.5 274.5 L47.2 273.3 L47.4 271.5 L47.6 269.7 L47.6 268.5 L48.3 267.6 L48.9 266.7 L49.8 266.0 L50.9 265.5 L52.0 264.9 L53.5 264.6 L55.2 264.2 L58.0 264.3 L60.8 264.3 L62.5 264.6 L64.1 264.8 L65.3 265.4 L66.2 266.0 L67.5 266.5 L68.2 267.4 L68.6 268.4 L68.8 269.7Z" fill="none" stroke="#444" stroke-width="0.45" stroke-linejoin="round"/>
<path d="M67.4 271.5 L67.5 273.1 L67.2 274.2 L66.5 274.9 L65.8 275.6 L65.3 276.3 L64.3 276.8 L63.4 277.4 L62.0 277.6 L60.4 277.8 L58.0 277.8 L55.6 277.8 L54.1 277.4 L52.8 277.3 L51.8 276.8 L50.5 276.5 L50.1 275.6 L49.2 275.1 L49.1 274.1 L48.5 273.1 L48.6 271.5 L48.7 269.9 L48.7 268.8 L49.6 268.1 L50.1 267.4 L50.5 266.5 L51.6 266.1 L52.9 265.9 L53.9 265.3 L55.5 265.1 L58.0 265.3 L60.4 265.3 L61.9 265.6 L63.2 265.8 L64.4 266.1 L65.2 266.7 L66.2 267.2 L66.4 268.1 L66.9 268.9 L67.5 269.9Z" fill="none" stroke="#444" stroke-width="0.45" stroke-linejoin="round"/>
<path d="M66.0 271.5 L66.1 272.9 L65.9 273.8 L65.6 274.6 L64.8 275.1 L64.2 275.6 L63.3 276.0 L62.4 276.4 L61.4 276.8 L60.0 276.7 L58.0 276.9 L56.0 276.8 L54.6 276.6 L53.5 276.4 L52.4 276.2 L51.7 275.7 L51.3 275.0 L50.7 274.5 L50.4 273.7 L49.8 272.9 L49.7 271.5 L49.8 270.1 L50.0 269.2 L50.5 268.4 L50.9 267.8 L51.6 267.2 L52.6 267.0 L53.4 266.4 L54.6 266.3 L55.9 266.1 L58.0 266.1 L60.0 266.2 L61.4 266.3 L62.5 266.6 L63.4 266.9 L64.1 267.4 L65.1 267.8 L65.6 268.4 L66.0 269.2 L66.1 270.1Z" fill="none" stroke="#444" stroke-width="0.45" stroke-linejoin="round"/>
<path d="M64.6 271.5 L64.8 272.7 L64.6 273.4 L64.4 274.1 L63.7 274.5 L63.1 274.9 L62.6 275.4 L61.8 275.7 L60.8 275.8 L59.7 276.0 L58.0 276.0 L56.3 276.0 L55.2 275.7 L54.3 275.6 L53.3 275.4 L52.8 275.0 L52.3 274.5 L51.7 274.1 L51.4 273.4 L51.5 272.6 L51.2 271.5 L51.2 270.4 L51.6 269.7 L51.7 269.0 L52.4 268.5 L52.8 268.1 L53.6 267.7 L54.3 267.4 L55.1 267.0 L56.3 267.1 L58.0 266.9 L59.7 267.1 L60.8 267.1 L61.8 267.3 L62.6 267.6 L63.1 268.1 L63.8 268.4 L64.2 269.0 L64.4 269.7 L64.5 270.4Z" fill="none" stroke="#444" stroke-width="0.45" stroke-linejoin="round"/>
<ellipse cx="55" cy="271" rx="3" ry="1.8" fill="#eee" opacity="0.9"/><ellipse cx="54" cy="287" rx="2.5" ry="1.4" fill="#eee" opacity="0.8"/>
<line x1="57.8" y1="249.8" x2="57.8" y2="309.8" stroke="#222" stroke-width="0.9"/>
<line x1="35" y1="281.3" x2="95.6" y2="281.3" stroke="#222" stroke-width="0.9"/>
<rect x="35" y="249.8" width="60.6" height="60" fill="none" stroke="#111" stroke-width="1.2"/>
<text x="36.6" y="258.7" font-size="9.2" stroke="#000" stroke-width="0.22">32.5</text>
<text x="94.8" y="258.7" font-size="9.2" text-anchor="end" stroke="#000" stroke-width="0.22">26.5</text>
<text x="94.8" y="306.8" font-size="9.2" text-anchor="end" stroke="#000" stroke-width="0.22">24.5</text>
<line x1="99.3" y1="265.4" x2="100.9" y2="264.2" stroke="#777" stroke-width="0.6"/>
<line x1="101.9" y1="264.8" x2="103.5" y2="264.8" stroke="#777" stroke-width="0.6"/>
<line x1="99.3" y1="283.4" x2="100.9" y2="282.2" stroke="#777" stroke-width="0.6"/>
<line x1="101.9" y1="282.8" x2="103.5" y2="282.8" stroke="#777" stroke-width="0.6"/>
<line x1="99.3" y1="295.4" x2="100.9" y2="294.2" stroke="#777" stroke-width="0.6"/>
<line x1="101.9" y1="294.8" x2="103.5" y2="294.8" stroke="#777" stroke-width="0.6"/>
<line x1="99.3" y1="305.6" x2="100.9" y2="304.4" stroke="#777" stroke-width="0.6"/>
<line x1="101.9" y1="305" x2="103.5" y2="305" stroke="#777" stroke-width="0.6"/>
<line x1="109.87" y1="314" x2="111.67" y2="312.6" stroke="#777" stroke-width="0.6"/>
<line x1="110.77" y1="309.8" x2="110.77" y2="311.4" stroke="#777" stroke-width="0.6"/>
<line x1="123.81" y1="314" x2="125.61" y2="312.6" stroke="#777" stroke-width="0.6"/>
<line x1="124.71" y1="309.8" x2="124.71" y2="311.4" stroke="#777" stroke-width="0.6"/>
<line x1="140.17" y1="314" x2="141.97" y2="312.6" stroke="#777" stroke-width="0.6"/>
<line x1="141.07" y1="309.8" x2="141.07" y2="311.4" stroke="#777" stroke-width="0.6"/>
<line x1="154.72" y1="314" x2="156.52" y2="312.6" stroke="#777" stroke-width="0.6"/>
<line x1="155.62" y1="309.8" x2="155.62" y2="311.4" stroke="#777" stroke-width="0.6"/>
<path d="M109.0 267.2h.6M131.2 253.5h.6M121.4 253.9h.6M136.4 283.4h.6M139.4 274.9h.6M127.9 277.6h.6M114.3 282.7h.6M108.1 276.7h.6M131.5 281.7h.6M118.2 307.3h.6M123.8 274.0h.6M125.1 274.7h.6M118.5 276.8h.6M147.5 281.3h.6M125.3 289.1h.6M147.4 278.3h.6M105.6 276.6h.6M111.8 251.9h.6M131.1 274.7h.6M118.5 286.5h.6M125.8 284.5h.6M118.0 296.5h.6M141.2 281.4h.6M117.7 289.8h.6M128.9 268.5h.6M117.6 293.6h.6M122.0 277.1h.6M125.7 280.6h.6M123.1 257.8h.6M144.1 283.4h.6M112.6 292.8h.6M126.9 281.2h.6M129.8 300.0h.6M149.0 268.7h.6M116.9 290.3h.6M138.7 293.5h.6M130.1 258.3h.6M151.4 287.6h.6M132.4 286.9h.6M108.6 304.0h.6M113.2 278.1h.6M120.1 287.9h.6M129.2 284.2h.6M125.1 284.2h.6M137.9 279.8h.6M115.8 285.9h.6M111.1 284.5h.6M148.2 290.2h.6M136.9 283.9h.6M126.5 275.6h.6M119.8 251.8h.6M108.7 265.6h.6M133.2 289.0h.6M136.9 299.7h.6M119.5 293.7h.6M146.6 280.9h.6M136.2 279.0h.6M113.3 282.3h.6M117.6 284.8h.6M139.5 276.8h.6M112.2 281.0h.6" fill="none" stroke="#999" stroke-width="0.7" stroke-linecap="round" opacity="0.8"/>
<path d="M143.5 280.0 L143.4 283.2 L143.0 285.5 L142.4 287.4 L141.6 289.0 L140.6 290.3 L139.3 291.5 L137.8 292.4 L136.1 293.0 L134.0 293.4 L131.0 293.5 L128.0 293.4 L125.9 293.0 L124.2 292.4 L122.7 291.5 L121.4 290.3 L120.4 289.0 L119.6 287.4 L119.0 285.5 L118.6 283.2 L118.5 280.0 L118.6 276.8 L119.0 274.5 L119.6 272.6 L120.4 271.0 L121.4 269.7 L122.7 268.5 L124.2 267.6 L125.9 267.0 L128.0 266.6 L131.0 266.5 L134.0 266.6 L136.1 267.0 L137.8 267.6 L139.3 268.5 L140.6 269.7 L141.6 271.0 L142.4 272.6 L143.0 274.5 L143.4 276.8Z" fill="#bbb" opacity="0.3"/>
<path d="M143.6 280.0 L143.3 283.2 L143.1 285.5 L142.2 287.2 L141.8 289.1 L140.8 290.5 L139.4 291.6 L137.7 292.1 L136.1 293.0 L134.0 293.2 L131.0 293.3 L127.9 293.7 L125.8 293.4 L124.4 292.0 L122.5 291.7 L121.4 290.4 L120.5 288.9 L119.7 287.3 L118.8 285.5 L118.7 283.2 L118.4 280.0 L118.5 276.7 L119.2 274.7 L119.4 272.5 L120.1 270.8 L121.2 269.4 L122.6 268.5 L124.4 268.0 L126.1 267.4 L128.1 266.9 L131.0 266.1 L134.0 266.8 L136.0 267.1 L138.0 267.4 L139.2 268.7 L140.6 269.6 L141.6 271.1 L142.1 272.8 L143.1 274.5 L143.6 276.7Z" fill="none" stroke="#777" stroke-width="0.5" stroke-linejoin="round"/>
<path d="M141.5 280.0 L141.5 282.9 L141.4 284.9 L140.6 286.5 L139.9 287.9 L139.0 289.1 L137.7 289.9 L136.5 290.9 L135.0 291.5 L133.2 292.0 L130.5 291.6 L127.9 291.6 L126.2 291.1 L124.4 291.1 L123.1 290.2 L122.3 288.8 L120.9 288.1 L120.2 286.7 L119.8 284.9 L119.5 282.9 L119.7 280.0 L119.9 277.2 L119.9 275.2 L120.7 273.7 L121.3 272.3 L122.2 271.0 L123.4 270.2 L124.5 269.2 L126.1 268.6 L127.8 268.0 L130.5 268.1 L133.2 268.1 L135.0 268.6 L136.6 269.0 L137.8 269.9 L138.8 271.0 L140.1 271.9 L140.9 273.3 L141.3 275.1 L141.6 277.1Z" fill="none" stroke="#777" stroke-width="0.5" stroke-linejoin="round"/>
<path d="M139.5 280.0 L139.5 282.5 L139.3 284.2 L138.5 285.5 L137.9 286.6 L137.3 287.8 L136.3 288.6 L135.3 289.6 L133.9 290.0 L132.3 290.2 L130.0 290.3 L127.7 290.3 L126.3 289.7 L124.9 289.4 L123.9 288.5 L122.6 288.1 L122.2 286.6 L121.2 285.7 L121.1 284.1 L120.5 282.5 L120.6 280.0 L120.7 277.6 L120.7 275.8 L121.6 274.6 L122.2 273.4 L122.6 271.9 L123.7 271.3 L125.0 270.8 L126.1 269.8 L127.7 269.6 L130.0 270.0 L132.3 269.9 L133.8 270.3 L135.2 270.7 L136.4 271.2 L137.2 272.3 L138.2 273.1 L138.5 274.6 L139.0 275.9 L139.6 277.5Z" fill="none" stroke="#777" stroke-width="0.5" stroke-linejoin="round"/>
<path d="M137.4 280.0 L137.6 282.1 L137.3 283.5 L137.0 284.8 L136.2 285.6 L135.6 286.5 L134.8 287.2 L133.8 287.8 L132.8 288.4 L131.4 288.4 L129.6 288.7 L127.7 288.4 L126.4 288.2 L125.2 287.9 L124.1 287.5 L123.4 286.7 L123.0 285.6 L122.3 284.6 L122.0 283.4 L121.5 282.1 L121.4 280.0 L121.5 277.9 L121.7 276.4 L122.1 275.2 L122.6 274.1 L123.3 273.3 L124.3 272.8 L125.1 271.9 L126.3 271.7 L127.6 271.3 L129.6 271.3 L131.5 271.5 L132.8 271.8 L133.9 272.1 L134.8 272.7 L135.5 273.5 L136.5 274.1 L137.0 275.2 L137.5 276.4 L137.6 277.9Z" fill="none" stroke="#777" stroke-width="0.5" stroke-linejoin="round"/>
<path d="M135.4 280.0 L135.6 281.7 L135.4 282.9 L135.2 283.9 L134.5 284.6 L134.0 285.3 L133.5 286.0 L132.7 286.5 L131.7 286.7 L130.7 287.0 L129.1 287.0 L127.5 287.1 L126.5 286.6 L125.6 286.3 L124.7 286.1 L124.1 285.3 L123.6 284.6 L123.0 283.9 L122.8 282.9 L122.8 281.6 L122.6 280.0 L122.6 278.3 L123.0 277.2 L123.1 276.1 L123.7 275.4 L124.1 274.7 L124.9 274.2 L125.6 273.7 L126.4 273.1 L127.5 273.1 L129.1 272.8 L130.6 273.1 L131.7 273.2 L132.7 273.4 L133.4 274.0 L133.9 274.7 L134.6 275.3 L135.1 276.1 L135.2 277.2 L135.4 278.4Z" fill="none" stroke="#777" stroke-width="0.5" stroke-linejoin="round"/>
<path d="M133.7 280.0 L133.4 281.3 L133.5 282.2 L133.1 282.9 L133.0 283.7 L132.3 284.0 L132.0 284.7 L131.4 285.0 L130.7 285.3 L129.8 285.5 L128.6 285.3 L127.4 285.3 L126.5 285.3 L125.9 284.9 L125.3 284.5 L124.8 284.1 L124.3 283.7 L123.9 283.0 L123.7 282.2 L123.7 281.3 L123.5 280.0 L123.6 278.7 L123.9 277.8 L124.0 277.1 L124.4 276.4 L124.9 276.0 L125.3 275.4 L125.9 275.1 L126.6 274.8 L127.4 274.5 L128.6 274.6 L129.8 274.7 L130.7 274.7 L131.4 274.9 L131.9 275.4 L132.5 275.8 L132.7 276.5 L133.1 277.1 L133.3 277.9 L133.7 278.7Z" fill="none" stroke="#777" stroke-width="0.5" stroke-linejoin="round"/>
<path d="M132.0 275.5 L131.9 278.4 L131.6 280.3 L131.1 281.9 L130.5 283.3 L129.6 284.4 L128.6 285.3 L127.3 286.1 L125.9 286.6 L124.2 286.9 L121.5 287.0 L118.8 286.9 L117.1 286.6 L115.7 286.1 L114.4 285.3 L113.4 284.4 L112.5 283.3 L111.9 281.9 L111.4 280.3 L111.1 278.4 L111.0 275.5 L111.1 272.6 L111.4 270.7 L111.9 269.1 L112.5 267.7 L113.4 266.6 L114.4 265.7 L115.7 264.9 L117.1 264.4 L118.8 264.1 L121.5 264.0 L124.2 264.1 L125.9 264.4 L127.3 264.9 L128.6 265.7 L129.6 266.6 L130.5 267.7 L131.1 269.1 L131.6 270.7 L131.9 272.6Z" fill="#aaa" opacity="0.45"/>
<path d="M131.6 275.5 L131.5 278.3 L131.3 280.2 L130.7 281.6 L130.1 282.9 L129.4 284.1 L128.3 284.9 L127.1 285.6 L125.7 286.1 L124.0 286.4 L121.5 286.4 L118.9 286.5 L117.2 286.3 L115.8 285.7 L114.7 285.0 L113.8 284.0 L112.9 282.9 L112.4 281.6 L111.7 280.2 L111.6 278.3 L111.5 275.5 L111.3 272.7 L111.8 270.9 L112.1 269.2 L112.8 268.0 L113.6 266.9 L114.7 266.0 L116.0 265.5 L117.2 264.8 L119.0 264.7 L121.5 264.5 L124.0 264.7 L125.6 265.1 L127.1 265.4 L128.2 266.2 L129.3 267.0 L130.2 267.9 L130.9 269.2 L131.2 270.9 L131.3 272.8Z" fill="none" stroke="#333" stroke-width="1" stroke-linejoin="round"/>
<path d="M132.0 275.5 L131.9 278.4 L131.9 280.4 L131.1 281.9 L130.5 283.3 L129.7 284.4 L128.4 285.1 L127.4 286.1 L125.9 286.7 L124.2 287.1 L121.5 286.7 L118.9 286.8 L117.2 286.3 L115.5 286.3 L114.3 285.4 L113.6 284.2 L112.3 283.5 L111.6 282.1 L111.3 280.4 L111.0 278.4 L111.2 275.5 L111.4 272.7 L111.4 270.7 L112.1 269.3 L112.7 267.9 L113.5 266.7 L114.6 265.9 L115.7 265.0 L117.1 264.5 L118.8 263.9 L121.5 264.0 L124.2 264.0 L125.9 264.4 L127.4 264.8 L128.6 265.7 L129.5 266.7 L130.7 267.5 L131.4 268.9 L131.8 270.6 L132.0 272.6Z" fill="none" stroke="#4a4a4a" stroke-width="0.45" stroke-linejoin="round"/>
<path d="M130.9 275.5 L131.0 278.1 L130.7 279.9 L130.0 281.1 L129.3 282.3 L128.8 283.4 L127.8 284.2 L126.9 285.2 L125.5 285.6 L123.9 285.8 L121.5 285.9 L119.1 285.9 L117.6 285.3 L116.3 285.0 L115.3 284.2 L114.0 283.7 L113.6 282.3 L112.7 281.4 L112.6 279.7 L112.0 278.1 L112.1 275.5 L112.2 272.9 L112.2 271.1 L113.1 269.9 L113.6 268.7 L114.0 267.3 L115.1 266.6 L116.4 266.2 L117.4 265.2 L119.0 265.0 L121.5 265.4 L123.9 265.3 L125.4 265.7 L126.7 266.1 L127.9 266.6 L128.7 267.7 L129.7 268.4 L129.9 269.9 L130.4 271.2 L131.0 272.8Z" fill="none" stroke="#4a4a4a" stroke-width="0.45" stroke-linejoin="round"/>
<path d="M129.8 275.5 L129.9 277.9 L129.7 279.4 L129.4 280.7 L128.5 281.6 L127.9 282.5 L127.0 283.2 L126.1 283.8 L125.1 284.5 L123.6 284.4 L121.5 284.7 L119.4 284.5 L118.0 284.3 L116.8 283.9 L115.7 283.5 L115.0 282.7 L114.5 281.5 L113.9 280.6 L113.6 279.3 L113.0 277.9 L112.9 275.5 L113.0 273.1 L113.2 271.6 L113.7 270.3 L114.1 269.1 L114.9 268.3 L115.9 267.8 L116.7 266.9 L118.0 266.6 L119.3 266.2 L121.5 266.3 L123.6 266.4 L125.0 266.7 L126.2 267.1 L127.1 267.7 L127.8 268.5 L128.8 269.2 L129.3 270.3 L129.8 271.5 L129.9 273.1Z" fill="none" stroke="#4a4a4a" stroke-width="0.45" stroke-linejoin="round"/>
<path d="M128.7 275.5 L128.9 277.6 L128.6 278.9 L128.4 280.1 L127.7 280.9 L127.1 281.6 L126.5 282.5 L125.6 283.0 L124.5 283.2 L123.4 283.6 L121.5 283.5 L119.6 283.6 L118.5 283.1 L117.5 282.8 L116.4 282.5 L115.9 281.7 L115.3 280.9 L114.6 280.1 L114.4 278.9 L114.4 277.5 L114.1 275.5 L114.1 273.4 L114.6 272.2 L114.7 271.0 L115.4 270.2 L115.9 269.3 L116.7 268.8 L117.5 268.2 L118.3 267.5 L119.7 267.6 L121.5 267.2 L123.4 267.6 L124.6 267.7 L125.7 267.9 L126.5 268.5 L127.1 269.4 L127.8 270.0 L128.3 271.0 L128.4 272.2 L128.6 273.5Z" fill="none" stroke="#4a4a4a" stroke-width="0.45" stroke-linejoin="round"/>
<path d="M128.0 275.5 L127.6 277.2 L127.7 278.4 L127.2 279.3 L127.0 280.3 L126.2 280.7 L125.8 281.5 L125.0 281.9 L124.2 282.3 L123.1 282.5 L121.5 282.3 L119.9 282.3 L118.8 282.2 L118.0 281.8 L117.3 281.3 L116.7 280.8 L116.0 280.3 L115.6 279.4 L115.3 278.4 L115.4 277.2 L115.0 275.5 L115.3 273.8 L115.5 272.7 L115.7 271.7 L116.1 270.9 L116.7 270.3 L117.2 269.6 L118.0 269.2 L118.8 268.8 L119.9 268.5 L121.5 268.5 L123.1 268.7 L124.2 268.7 L125.1 269.0 L125.7 269.6 L126.5 270.0 L126.7 271.0 L127.2 271.7 L127.5 272.7 L127.9 273.7Z" fill="none" stroke="#4a4a4a" stroke-width="0.45" stroke-linejoin="round"/>
<path d="M126.7 275.5 L126.7 277.0 L126.5 277.9 L126.3 278.7 L126.0 279.4 L125.6 280.0 L125.0 280.3 L124.4 280.8 L123.6 280.9 L122.8 281.1 L121.5 281.2 L120.2 281.1 L119.3 281.1 L118.6 280.7 L117.9 280.5 L117.3 280.1 L117.1 279.3 L116.6 278.8 L116.3 278.0 L116.2 277.0 L116.4 275.5 L116.3 274.0 L116.4 273.1 L116.7 272.3 L117.1 271.7 L117.5 271.1 L118.0 270.7 L118.5 270.1 L119.3 270.0 L120.2 269.8 L121.5 269.7 L122.9 269.6 L123.7 270.0 L124.3 270.4 L125.1 270.4 L125.6 271.0 L126.1 271.6 L126.3 272.3 L126.5 273.1 L126.6 274.1Z" fill="none" stroke="#4a4a4a" stroke-width="0.45" stroke-linejoin="round"/>
<ellipse cx="121" cy="275" rx="3" ry="2" fill="#eee" opacity="0.9"/>
<line x1="126.8" y1="249.8" x2="126.8" y2="309.8" stroke="#222" stroke-width="0.9"/>
<line x1="103.5" y1="281" x2="164.1" y2="281" stroke="#222" stroke-width="0.9"/>
<rect x="103.5" y="249.8" width="60.6" height="60" fill="none" stroke="#111" stroke-width="1.2"/>
<text x="105.1" y="258.7" font-size="9.2" stroke="#000" stroke-width="0.22">47.4</text>
<text x="163.3" y="258.7" font-size="9.2" text-anchor="end" stroke="#000" stroke-width="0.22">23.7</text>
<text x="163.3" y="306.8" font-size="9.2" text-anchor="end" stroke="#000" stroke-width="0.22">13.2</text>
<line x1="168.1" y1="265.4" x2="169.7" y2="264.2" stroke="#777" stroke-width="0.6"/>
<line x1="170.7" y1="264.8" x2="172.3" y2="264.8" stroke="#777" stroke-width="0.6"/>
<line x1="168.1" y1="283.4" x2="169.7" y2="282.2" stroke="#777" stroke-width="0.6"/>
<line x1="170.7" y1="282.8" x2="172.3" y2="282.8" stroke="#777" stroke-width="0.6"/>
<line x1="168.1" y1="295.4" x2="169.7" y2="294.2" stroke="#777" stroke-width="0.6"/>
<line x1="170.7" y1="294.8" x2="172.3" y2="294.8" stroke="#777" stroke-width="0.6"/>
<line x1="168.1" y1="305.6" x2="169.7" y2="304.4" stroke="#777" stroke-width="0.6"/>
<line x1="170.7" y1="305" x2="172.3" y2="305" stroke="#777" stroke-width="0.6"/>
<line x1="178.67" y1="314" x2="180.47" y2="312.6" stroke="#777" stroke-width="0.6"/>
<line x1="179.57" y1="309.8" x2="179.57" y2="311.4" stroke="#777" stroke-width="0.6"/>
<line x1="192.61" y1="314" x2="194.41" y2="312.6" stroke="#777" stroke-width="0.6"/>
<line x1="193.51" y1="309.8" x2="193.51" y2="311.4" stroke="#777" stroke-width="0.6"/>
<line x1="208.97" y1="314" x2="210.77" y2="312.6" stroke="#777" stroke-width="0.6"/>
<line x1="209.87" y1="309.8" x2="209.87" y2="311.4" stroke="#777" stroke-width="0.6"/>
<line x1="223.52" y1="314" x2="225.32" y2="312.6" stroke="#777" stroke-width="0.6"/>
<line x1="224.42" y1="309.8" x2="224.42" y2="311.4" stroke="#777" stroke-width="0.6"/>
<path d="M199.1 260.5h.6M183.8 282.9h.6M210.8 282.1h.6M178.8 296.7h.6M190.1 303.4h.6M191.6 269.7h.6M175.5 277.7h.6M198.5 296.3h.6M196.4 273.1h.6M199.2 264.8h.6M199.2 273.0h.6M211.1 293.9h.6M197.5 269.7h.6M199.8 286.4h.6M186.6 274.5h.6M208.4 277.2h.6M198.5 298.7h.6M175.3 303.4h.6M205.3 274.2h.6M181.7 267.4h.6M204.3 284.0h.6M184.9 275.9h.6M188.7 279.2h.6M203.8 272.0h.6M206.3 293.9h.6M190.1 289.3h.6M186.6 282.7h.6M199.1 305.3h.6M192.5 280.2h.6M193.5 279.8h.6M180.2 304.6h.6M185.7 275.0h.6M184.6 290.3h.6M205.0 286.2h.6M192.9 269.9h.6M202.1 280.9h.6M218.3 278.7h.6M181.0 259.9h.6M197.3 268.1h.6M174.7 285.4h.6M188.9 284.8h.6M192.9 272.6h.6M194.3 284.2h.6M204.6 293.2h.6M187.2 289.1h.6M192.8 294.3h.6M205.1 270.6h.6M191.6 295.5h.6M186.6 282.9h.6M185.8 289.1h.6M196.7 272.0h.6M175.9 255.2h.6M203.5 276.6h.6M184.7 275.6h.6M182.0 290.3h.6M200.7 254.9h.6M192.8 283.3h.6M189.2 283.3h.6M213.5 285.9h.6M207.7 294.4h.6M174.8 303.6h.6M195.8 278.6h.6M183.6 273.8h.6" fill="none" stroke="#999" stroke-width="0.7" stroke-linecap="round" opacity="0.8"/>
<path d="M195.5 269.0 L195.5 270.1 L195.4 271.1 L195.0 271.9 L194.7 272.6 L194.4 273.3 L193.9 273.9 L193.5 274.5 L192.9 274.8 L192.2 275.0 L191.5 275.0 L190.8 275.0 L190.2 274.6 L189.6 274.4 L189.1 273.8 L188.5 273.5 L188.3 272.6 L187.8 272.0 L187.8 271.0 L187.5 270.1 L187.5 269.0 L187.6 267.9 L187.6 266.9 L188.0 266.2 L188.3 265.4 L188.5 264.5 L189.0 264.0 L189.6 263.7 L190.1 263.1 L190.7 262.9 L191.5 263.1 L192.2 263.1 L192.8 263.4 L193.4 263.7 L194.0 264.0 L194.4 264.7 L194.8 265.3 L195.0 266.2 L195.2 267.0 L195.5 267.9Z" fill="none" stroke="#888" stroke-width="0.5" stroke-linejoin="round"/>
<path d="M195.0 269.0 L195.0 270.0 L194.9 270.8 L194.7 271.6 L194.3 272.2 L194.0 272.8 L193.6 273.3 L193.2 273.7 L192.7 274.1 L192.1 274.1 L191.5 274.3 L190.9 274.1 L190.3 274.0 L189.8 273.7 L189.3 273.4 L188.9 272.9 L188.7 272.2 L188.4 271.5 L188.2 270.8 L187.9 270.0 L187.9 269.0 L188.0 268.0 L188.1 267.1 L188.3 266.4 L188.5 265.7 L188.9 265.1 L189.4 264.7 L189.7 264.1 L190.3 264.0 L190.8 263.7 L191.5 263.7 L192.1 263.8 L192.7 264.0 L193.2 264.3 L193.6 264.7 L194.0 265.2 L194.5 265.7 L194.7 266.4 L195.0 267.1 L195.0 268.0Z" fill="none" stroke="#888" stroke-width="0.5" stroke-linejoin="round"/>
<path d="M194.5 269.0 L194.5 269.9 L194.4 270.6 L194.3 271.3 L194.0 271.8 L193.7 272.3 L193.4 272.8 L193.0 273.1 L192.5 273.3 L192.1 273.6 L191.5 273.5 L190.9 273.6 L190.5 273.3 L190.0 273.0 L189.6 272.9 L189.3 272.3 L189.0 271.8 L188.7 271.3 L188.6 270.6 L188.6 269.8 L188.5 269.0 L188.5 268.1 L188.7 267.5 L188.7 266.8 L189.0 266.3 L189.3 265.7 L189.7 265.3 L190.0 265.0 L190.4 264.5 L190.9 264.5 L191.5 264.3 L192.1 264.5 L192.6 264.6 L193.0 264.8 L193.4 265.2 L193.7 265.7 L194.0 266.2 L194.3 266.8 L194.3 267.5 L194.4 268.2Z" fill="none" stroke="#888" stroke-width="0.5" stroke-linejoin="round"/>
<path d="M194.1 269.0 L194.0 269.7 L194.0 270.3 L193.8 270.8 L193.7 271.4 L193.3 271.7 L193.1 272.2 L192.8 272.5 L192.4 272.7 L192.0 272.9 L191.5 272.8 L191.0 272.8 L190.6 272.7 L190.3 272.4 L189.9 272.1 L189.7 271.8 L189.3 271.4 L189.1 270.9 L189.0 270.3 L189.0 269.7 L188.9 269.0 L189.0 268.3 L189.1 267.7 L189.2 267.1 L189.4 266.6 L189.7 266.3 L189.9 265.8 L190.3 265.6 L190.6 265.3 L191.0 265.1 L191.5 265.1 L192.0 265.2 L192.4 265.3 L192.8 265.4 L193.1 265.8 L193.4 266.1 L193.6 266.7 L193.8 267.2 L193.9 267.7 L194.1 268.3Z" fill="none" stroke="#888" stroke-width="0.5" stroke-linejoin="round"/>
<path d="M192.0 276.0 L191.9 279.6 L191.7 282.5 L191.2 285.1 L190.7 287.3 L189.9 289.3 L189.0 291.0 L188.0 292.3 L186.9 293.2 L185.6 293.8 L184.0 294.0 L182.4 293.8 L181.1 293.2 L180.0 292.3 L179.0 291.0 L178.1 289.3 L177.3 287.3 L176.8 285.1 L176.3 282.5 L176.1 279.6 L176.0 276.0 L176.1 272.4 L176.3 269.5 L176.8 266.9 L177.3 264.7 L178.1 262.7 L179.0 261.0 L180.0 259.7 L181.1 258.8 L182.4 258.2 L184.0 258.0 L185.6 258.2 L186.9 258.8 L188.0 259.7 L189.0 261.0 L189.9 262.7 L190.7 264.7 L191.2 266.9 L191.7 269.5 L191.9 272.4Z" fill="#aaa" opacity="0.45"/>
<path d="M191.9 276.0 L192.0 279.6 L191.7 282.6 L191.4 285.2 L190.5 287.1 L189.8 289.1 L188.9 290.7 L188.0 292.0 L186.9 293.5 L185.6 293.4 L184.0 294.0 L182.4 293.5 L181.2 293.0 L180.0 292.2 L178.9 291.3 L178.0 289.4 L177.5 287.0 L176.9 284.9 L176.5 282.3 L175.9 279.7 L175.9 276.0 L175.9 272.3 L176.2 269.4 L176.7 266.8 L177.2 264.4 L178.0 262.4 L179.0 261.2 L179.9 259.4 L181.1 258.8 L182.4 257.9 L184.0 257.9 L185.6 258.3 L186.9 258.9 L188.0 259.8 L189.0 261.2 L189.8 263.0 L190.8 264.4 L191.4 266.8 L191.9 269.3 L192.0 272.4Z" fill="none" stroke="#555" stroke-width="0.55" stroke-linejoin="round"/>
<path d="M190.9 275.4 L191.0 278.6 L190.8 281.2 L190.5 283.6 L189.8 285.2 L189.1 286.9 L188.5 288.8 L187.6 289.9 L186.5 290.4 L185.4 291.2 L184.0 291.1 L182.6 291.3 L181.5 290.2 L180.5 289.5 L179.5 288.9 L178.8 287.0 L178.2 285.2 L177.5 283.5 L177.2 281.2 L177.2 278.5 L176.9 275.4 L177.0 272.2 L177.4 269.8 L177.6 267.4 L178.3 265.6 L178.8 263.8 L179.7 262.6 L180.5 261.3 L181.4 259.8 L182.6 259.8 L184.0 259.1 L185.4 259.8 L186.6 260.1 L187.6 260.8 L188.5 262.1 L189.1 264.0 L189.9 265.4 L190.4 267.4 L190.6 269.8 L190.8 272.3Z" fill="none" stroke="#555" stroke-width="0.55" stroke-linejoin="round"/>
<path d="M190.2 274.8 L189.8 277.4 L189.9 279.8 L189.4 281.5 L189.2 283.7 L188.4 284.6 L187.9 286.4 L187.1 287.3 L186.2 288.2 L185.2 288.7 L184.0 288.3 L182.8 288.2 L181.8 288.1 L181.0 287.0 L180.2 286.0 L179.6 284.8 L178.8 283.6 L178.4 281.8 L178.1 279.8 L178.1 277.5 L177.8 274.8 L178.0 272.1 L178.3 270.0 L178.5 267.9 L179.0 266.2 L179.6 264.9 L180.2 263.4 L181.0 262.5 L181.8 261.6 L182.8 260.9 L184.0 261.0 L185.2 261.3 L186.2 261.4 L187.2 262.1 L187.8 263.4 L188.6 264.4 L188.9 266.4 L189.4 268.1 L189.7 270.0 L190.2 272.0Z" fill="none" stroke="#555" stroke-width="0.55" stroke-linejoin="round"/>
<path d="M189.1 274.2 L189.1 276.5 L188.9 278.3 L188.6 280.0 L188.2 281.4 L187.8 282.8 L187.2 283.6 L186.6 284.7 L185.8 284.9 L185.0 285.5 L184.0 285.6 L183.0 285.4 L182.1 285.4 L181.5 284.5 L180.7 283.9 L180.1 283.0 L179.8 281.3 L179.3 280.1 L179.0 278.4 L178.9 276.5 L179.0 274.2 L178.9 271.9 L179.1 270.0 L179.4 268.5 L179.8 267.1 L180.3 265.8 L180.8 264.8 L181.4 263.6 L182.2 263.3 L183.0 262.9 L184.0 262.6 L185.0 262.5 L185.8 263.3 L186.5 264.1 L187.3 264.3 L187.9 265.5 L188.3 266.8 L188.6 268.4 L188.8 270.1 L189.0 272.0Z" fill="none" stroke="#555" stroke-width="0.55" stroke-linejoin="round"/>
<path d="M188.2 273.6 L188.2 275.5 L188.1 277.1 L187.7 278.3 L187.5 279.6 L187.1 280.6 L186.6 281.5 L186.0 281.9 L185.5 282.3 L184.8 282.8 L184.0 283.1 L183.2 282.7 L182.5 282.6 L181.9 282.0 L181.3 281.5 L180.8 280.7 L180.6 279.5 L180.1 278.5 L180.1 276.9 L179.8 275.5 L179.7 273.6 L180.0 271.8 L180.0 270.2 L180.2 268.9 L180.4 267.5 L181.0 266.8 L181.4 265.8 L181.9 264.9 L182.5 264.6 L183.2 264.4 L184.0 264.5 L184.9 264.1 L185.5 264.7 L186.2 264.9 L186.6 266.0 L187.1 266.5 L187.5 267.6 L187.9 268.8 L187.9 270.3 L188.1 271.7Z" fill="none" stroke="#555" stroke-width="0.55" stroke-linejoin="round"/>
<path d="M187.1 273.0 L187.2 274.4 L187.0 275.6 L186.8 276.6 L186.7 277.5 L186.4 278.3 L186.0 279.0 L185.6 279.5 L185.1 279.8 L184.6 280.0 L184.0 280.3 L183.4 280.0 L182.8 280.0 L182.4 279.6 L181.9 279.1 L181.6 278.5 L181.4 277.5 L181.2 276.6 L180.9 275.6 L180.8 274.4 L180.9 273.0 L180.8 271.6 L180.9 270.3 L181.0 269.3 L181.4 268.5 L181.7 267.7 L182.0 267.2 L182.3 266.3 L182.9 266.2 L183.4 265.8 L184.0 265.8 L184.6 265.8 L185.2 266.1 L185.6 266.4 L186.0 267.0 L186.3 267.7 L186.6 268.6 L186.9 269.4 L187.1 270.3 L187.1 271.6Z" fill="none" stroke="#555" stroke-width="0.55" stroke-linejoin="round"/>
<path d="M189.0 270.0 L188.9 272.1 L188.8 273.8 L188.5 275.2 L188.1 276.4 L187.6 277.5 L187.0 278.4 L186.3 279.1 L185.6 279.6 L184.7 279.9 L183.5 280.0 L182.3 279.9 L181.4 279.6 L180.7 279.1 L180.0 278.4 L179.4 277.5 L178.9 276.4 L178.5 275.2 L178.2 273.8 L178.1 272.1 L178.0 270.0 L178.1 267.9 L178.2 266.2 L178.5 264.8 L178.9 263.6 L179.4 262.5 L180.0 261.6 L180.7 260.9 L181.4 260.4 L182.3 260.1 L183.5 260.0 L184.7 260.1 L185.6 260.4 L186.3 260.9 L187.0 261.6 L187.6 262.5 L188.1 263.6 L188.5 264.8 L188.8 266.2 L188.9 267.9Z" fill="#888" opacity="0.45"/>
<path d="M188.9 270.0 L189.0 272.2 L188.8 273.8 L188.6 275.3 L188.0 276.3 L187.6 277.4 L187.1 278.5 L186.4 279.2 L185.5 279.5 L184.7 280.0 L183.5 279.9 L182.3 280.1 L181.5 279.4 L180.7 278.9 L179.9 278.6 L179.4 277.4 L179.0 276.3 L178.4 275.3 L178.2 273.8 L178.2 272.1 L178.0 270.0 L178.0 267.8 L178.3 266.3 L178.5 264.8 L179.0 263.7 L179.4 262.6 L180.1 261.8 L180.7 261.1 L181.4 260.1 L182.3 260.2 L183.5 259.7 L184.7 260.1 L185.6 260.3 L186.4 260.7 L187.1 261.5 L187.5 262.7 L188.1 263.5 L188.5 264.8 L188.7 266.3 L188.8 267.9Z" fill="none" stroke="#555" stroke-width="0.45" stroke-linejoin="round"/>
<path d="M188.6 270.0 L188.3 271.9 L188.3 273.4 L187.9 274.6 L187.8 275.9 L187.1 276.5 L186.8 277.7 L186.1 278.3 L185.4 278.8 L184.6 279.2 L183.5 278.9 L182.5 278.8 L181.6 278.7 L181.0 278.1 L180.4 277.4 L179.9 276.6 L179.3 275.9 L178.9 274.8 L178.7 273.4 L178.7 271.9 L178.4 270.0 L178.6 268.1 L178.8 266.7 L179.0 265.4 L179.4 264.2 L179.9 263.4 L180.3 262.4 L181.0 261.9 L181.6 261.3 L182.4 260.9 L183.5 260.9 L184.5 261.1 L185.4 261.2 L186.1 261.6 L186.7 262.5 L187.3 263.1 L187.5 264.4 L187.9 265.4 L188.2 266.7 L188.5 268.0Z" fill="none" stroke="#555" stroke-width="0.45" stroke-linejoin="round"/>
<path d="M187.9 270.0 L187.8 271.7 L187.7 273.0 L187.5 274.1 L187.2 275.1 L186.8 276.0 L186.3 276.6 L185.8 277.3 L185.1 277.4 L184.4 277.8 L183.5 277.9 L182.6 277.7 L181.8 277.8 L181.2 277.2 L180.6 276.8 L180.1 276.2 L179.9 275.1 L179.4 274.2 L179.2 273.1 L179.1 271.7 L179.2 270.0 L179.2 268.3 L179.2 267.0 L179.6 265.9 L179.9 264.9 L180.2 264.1 L180.7 263.4 L181.2 262.6 L181.9 262.4 L182.6 262.1 L183.5 261.9 L184.5 261.9 L185.1 262.4 L185.7 262.9 L186.4 263.1 L186.9 263.9 L187.3 264.8 L187.5 265.9 L187.7 267.0 L187.8 268.3Z" fill="none" stroke="#555" stroke-width="0.45" stroke-linejoin="round"/>
<path d="M187.4 270.0 L187.4 271.5 L187.3 272.7 L187.0 273.6 L186.8 274.6 L186.4 275.3 L186.0 275.9 L185.4 276.2 L184.9 276.5 L184.3 276.9 L183.5 277.1 L182.7 276.8 L182.1 276.7 L181.5 276.3 L181.0 276.0 L180.5 275.4 L180.3 274.5 L179.9 273.7 L179.9 272.6 L179.6 271.5 L179.6 270.0 L179.8 268.5 L179.8 267.3 L180.0 266.4 L180.2 265.4 L180.7 264.8 L181.0 264.1 L181.5 263.5 L182.0 263.2 L182.7 263.2 L183.5 263.2 L184.3 262.9 L184.9 263.3 L185.6 263.5 L185.9 264.3 L186.4 264.7 L186.8 265.4 L187.1 266.3 L187.1 267.4 L187.3 268.5Z" fill="none" stroke="#555" stroke-width="0.45" stroke-linejoin="round"/>
<line x1="198" y1="249.8" x2="198" y2="309.8" stroke="#222" stroke-width="0.9"/>
<line x1="172.3" y1="282" x2="232.9" y2="282" stroke="#222" stroke-width="0.9"/>
<rect x="172.3" y="249.8" width="60.6" height="60" fill="none" stroke="#111" stroke-width="1.2"/>
<text x="173.9" y="258.7" font-size="9.2" stroke="#000" stroke-width="0.22">79.0</text>
<text x="232.1" y="258.7" font-size="9.2" text-anchor="end" stroke="#000" stroke-width="0.22">3.47</text>
<text x="232.1" y="306.8" font-size="9.2" text-anchor="end" stroke="#000" stroke-width="0.22">2.45</text>
<line x1="23.8" y1="322.5" x2="23.8" y2="304" stroke="#111" stroke-width="1.1"/>
<use href="#rarrow" transform="translate(23.8 297.6) rotate(-90)"/>
<line x1="23.8" y1="322.5" x2="43" y2="322.5" stroke="#111" stroke-width="1.1"/>
<use href="#rarrow" transform="translate(50 322.5)"/>
<text x="51.5" y="325.8" font-size="9.2" stroke="#000" stroke-width="0.22">Ly108</text>
<text x="27" y="278" font-size="9.2" text-anchor="middle" transform="rotate(-90 27 278)" stroke="#000" stroke-width="0.22">CD69</text>
<text x="16.3" y="259.5" font-size="9.2" text-anchor="middle" transform="rotate(-90 16.3 259.5)" stroke="#000" stroke-width="0.22">Lung</text>
<text x="14.6" y="220.4" font-size="9.2" text-anchor="middle" transform="rotate(-90 14.6 220.4)" stroke="#000" stroke-width="0.22">Liver</text>
<line x1="269.4" y1="180.4" x2="269.4" y2="238.3" stroke="#000" stroke-width="1.2"/>
<line x1="266.9" y1="238.3" x2="269.4" y2="238.3" stroke="#000" stroke-width="1.2"/>
<text x="266.2" y="241.3" font-size="8.4" text-anchor="end" stroke="#000" stroke-width="0.22">0</text>
<line x1="266.9" y1="226.72" x2="269.4" y2="226.72" stroke="#000" stroke-width="1.2"/>
<text x="266.2" y="229.72" font-size="8.4" text-anchor="end" stroke="#000" stroke-width="0.22">20</text>
<line x1="266.9" y1="215.14" x2="269.4" y2="215.14" stroke="#000" stroke-width="1.2"/>
<text x="266.2" y="218.14" font-size="8.4" text-anchor="end" stroke="#000" stroke-width="0.22">40</text>
<line x1="266.9" y1="203.56" x2="269.4" y2="203.56" stroke="#000" stroke-width="1.2"/>
<text x="266.2" y="206.56" font-size="8.4" text-anchor="end" stroke="#000" stroke-width="0.22">60</text>
<line x1="266.9" y1="191.98" x2="269.4" y2="191.98" stroke="#000" stroke-width="1.2"/>
<text x="266.2" y="194.98" font-size="8.4" text-anchor="end" stroke="#000" stroke-width="0.22">80</text>
<line x1="266.9" y1="180.4" x2="269.4" y2="180.4" stroke="#000" stroke-width="1.2"/>
<text x="266.2" y="183.4" font-size="8.4" text-anchor="end" stroke="#000" stroke-width="0.22">100</text>
<line x1="269.4" y1="238.3" x2="358.6" y2="238.3" stroke="#000" stroke-width="1.2"/>
<rect x="280.2" y="222.09" width="17.1" height="16.21" fill="#55BFEC" stroke="#000" stroke-width="0.9"/>
<rect x="280.2" y="206.46" width="17.1" height="15.63" fill="#4630F4" stroke="#000" stroke-width="0.9"/>
<rect x="280.2" y="190.24" width="17.1" height="16.21" fill="#FA3B40" stroke="#000" stroke-width="0.9"/>
<line x1="288.75" y1="222.09" x2="288.75" y2="224.98" stroke="#000" stroke-width="1"/>
<line x1="285.15" y1="224.98" x2="292.35" y2="224.98" stroke="#000" stroke-width="1"/>
<line x1="288.75" y1="206.46" x2="288.75" y2="208.77" stroke="#000" stroke-width="1"/>
<line x1="285.15" y1="208.77" x2="292.35" y2="208.77" stroke="#000" stroke-width="1"/>
<line x1="288.75" y1="190.24" x2="288.75" y2="193.14" stroke="#000" stroke-width="1"/>
<line x1="285.15" y1="193.14" x2="292.35" y2="193.14" stroke="#000" stroke-width="1"/>
<line x1="288.75" y1="238.3" x2="288.75" y2="240.8" stroke="#000" stroke-width="1.2"/>
<rect x="306.4" y="224.4" width="17.1" height="13.9" fill="#55BFEC" stroke="#000" stroke-width="0.9"/>
<rect x="306.4" y="200.67" width="17.1" height="23.74" fill="#4630F4" stroke="#000" stroke-width="0.9"/>
<rect x="306.4" y="186.77" width="17.1" height="13.9" fill="#FA3B40" stroke="#000" stroke-width="0.9"/>
<line x1="314.95" y1="224.4" x2="314.95" y2="227.3" stroke="#000" stroke-width="1"/>
<line x1="311.35" y1="227.3" x2="318.55" y2="227.3" stroke="#000" stroke-width="1"/>
<line x1="314.95" y1="200.67" x2="314.95" y2="203.56" stroke="#000" stroke-width="1"/>
<line x1="311.35" y1="203.56" x2="318.55" y2="203.56" stroke="#000" stroke-width="1"/>
<line x1="314.95" y1="186.77" x2="314.95" y2="190.82" stroke="#000" stroke-width="1"/>
<line x1="311.35" y1="190.82" x2="318.55" y2="190.82" stroke="#000" stroke-width="1"/>
<line x1="314.95" y1="238.3" x2="314.95" y2="240.8" stroke="#000" stroke-width="1.2"/>
<rect x="333" y="234.83" width="16.7" height="3.47" fill="#55BFEC" stroke="#000" stroke-width="0.9"/>
<rect x="333" y="228.46" width="16.7" height="6.37" fill="#4630F4" stroke="#000" stroke-width="0.9"/>
<rect x="333" y="194.88" width="16.7" height="33.58" fill="#FA3B40" stroke="#000" stroke-width="0.9"/>
<line x1="341.35" y1="234.83" x2="341.35" y2="235.12" stroke="#000" stroke-width="1"/>
<line x1="337.75" y1="235.12" x2="344.95" y2="235.12" stroke="#000" stroke-width="1"/>
<line x1="341.35" y1="228.46" x2="341.35" y2="228.75" stroke="#000" stroke-width="1"/>
<line x1="337.75" y1="228.75" x2="344.95" y2="228.75" stroke="#000" stroke-width="1"/>
<line x1="341.35" y1="194.88" x2="341.35" y2="196.03" stroke="#000" stroke-width="1"/>
<line x1="337.75" y1="196.03" x2="344.95" y2="196.03" stroke="#000" stroke-width="1"/>
<line x1="341.35" y1="238.3" x2="341.35" y2="240.8" stroke="#000" stroke-width="1.2"/>
<line x1="269.4" y1="247.6" x2="269.4" y2="306" stroke="#000" stroke-width="1.2"/>
<line x1="266.9" y1="306" x2="269.4" y2="306" stroke="#000" stroke-width="1.2"/>
<text x="266.2" y="309" font-size="8.4" text-anchor="end" stroke="#000" stroke-width="0.22">0</text>
<line x1="266.9" y1="294.32" x2="269.4" y2="294.32" stroke="#000" stroke-width="1.2"/>
<text x="266.2" y="297.32" font-size="8.4" text-anchor="end" stroke="#000" stroke-width="0.22">20</text>
<line x1="266.9" y1="282.64" x2="269.4" y2="282.64" stroke="#000" stroke-width="1.2"/>
<text x="266.2" y="285.64" font-size="8.4" text-anchor="end" stroke="#000" stroke-width="0.22">40</text>
<line x1="266.9" y1="270.96" x2="269.4" y2="270.96" stroke="#000" stroke-width="1.2"/>
<text x="266.2" y="273.96" font-size="8.4" text-anchor="end" stroke="#000" stroke-width="0.22">60</text>
<line x1="266.9" y1="259.28" x2="269.4" y2="259.28" stroke="#000" stroke-width="1.2"/>
<text x="266.2" y="262.28" font-size="8.4" text-anchor="end" stroke="#000" stroke-width="0.22">80</text>
<line x1="266.9" y1="247.6" x2="269.4" y2="247.6" stroke="#000" stroke-width="1.2"/>
<text x="266.2" y="250.6" font-size="8.4" text-anchor="end" stroke="#000" stroke-width="0.22">100</text>
<line x1="269.4" y1="306" x2="358.6" y2="306" stroke="#000" stroke-width="1.2"/>
<rect x="280.2" y="287.31" width="17.1" height="18.69" fill="#55BFEC" stroke="#000" stroke-width="0.9"/>
<rect x="280.2" y="269.21" width="17.1" height="18.1" fill="#4630F4" stroke="#000" stroke-width="0.9"/>
<rect x="280.2" y="254.02" width="17.1" height="15.18" fill="#FA3B40" stroke="#000" stroke-width="0.9"/>
<line x1="288.75" y1="287.31" x2="288.75" y2="288.19" stroke="#000" stroke-width="1"/>
<line x1="285.15" y1="288.19" x2="292.35" y2="288.19" stroke="#000" stroke-width="1"/>
<line x1="288.75" y1="269.21" x2="288.75" y2="270.96" stroke="#000" stroke-width="1"/>
<line x1="285.15" y1="270.96" x2="292.35" y2="270.96" stroke="#000" stroke-width="1"/>
<line x1="288.75" y1="254.02" x2="288.75" y2="254.61" stroke="#000" stroke-width="1"/>
<line x1="285.15" y1="254.61" x2="292.35" y2="254.61" stroke="#000" stroke-width="1"/>
<line x1="288.75" y1="306" x2="288.75" y2="308.5" stroke="#000" stroke-width="1.2"/>
<rect x="306.4" y="293.15" width="17.1" height="12.85" fill="#55BFEC" stroke="#000" stroke-width="0.9"/>
<rect x="306.4" y="274.46" width="17.1" height="18.69" fill="#4630F4" stroke="#000" stroke-width="0.9"/>
<rect x="306.4" y="254.02" width="17.1" height="20.44" fill="#FA3B40" stroke="#000" stroke-width="0.9"/>
<line x1="314.95" y1="293.15" x2="314.95" y2="295.2" stroke="#000" stroke-width="1"/>
<line x1="311.35" y1="295.2" x2="318.55" y2="295.2" stroke="#000" stroke-width="1"/>
<line x1="314.95" y1="274.46" x2="314.95" y2="276.22" stroke="#000" stroke-width="1"/>
<line x1="311.35" y1="276.22" x2="318.55" y2="276.22" stroke="#000" stroke-width="1"/>
<line x1="314.95" y1="254.02" x2="314.95" y2="255.78" stroke="#000" stroke-width="1"/>
<line x1="311.35" y1="255.78" x2="318.55" y2="255.78" stroke="#000" stroke-width="1"/>
<line x1="314.95" y1="306" x2="314.95" y2="308.5" stroke="#000" stroke-width="1.2"/>
<rect x="333" y="303.66" width="16.7" height="2.34" fill="#55BFEC" stroke="#000" stroke-width="0.9"/>
<rect x="333" y="299.58" width="16.7" height="4.09" fill="#4630F4" stroke="#000" stroke-width="0.9"/>
<rect x="333" y="258.11" width="16.7" height="41.46" fill="#FA3B40" stroke="#000" stroke-width="0.9"/>
<line x1="341.35" y1="303.66" x2="341.35" y2="303.84" stroke="#000" stroke-width="1"/>
<line x1="337.75" y1="303.84" x2="344.95" y2="303.84" stroke="#000" stroke-width="1"/>
<line x1="341.35" y1="299.58" x2="341.35" y2="299.75" stroke="#000" stroke-width="1"/>
<line x1="337.75" y1="299.75" x2="344.95" y2="299.75" stroke="#000" stroke-width="1"/>
<line x1="341.35" y1="258.11" x2="341.35" y2="258.99" stroke="#000" stroke-width="1"/>
<line x1="337.75" y1="258.99" x2="344.95" y2="258.99" stroke="#000" stroke-width="1"/>
<line x1="341.35" y1="306" x2="341.35" y2="308.5" stroke="#000" stroke-width="1.2"/>
<text x="288.8" y="314.6" font-size="9.4" text-anchor="middle" stroke="#000" stroke-width="0.22">Tsm</text>
<text x="315" y="314.6" font-size="9.4" text-anchor="middle" stroke="#000" stroke-width="0.22">Trmp</text>
<text x="341.5" y="314.6" font-size="9.4" text-anchor="middle" stroke="#000" stroke-width="0.22">Trm</text>
<text x="251.2" y="238.2" font-size="8.3" text-anchor="middle" transform="rotate(-90 251.2 238.2)" stroke="#000" stroke-width="0.22">%CD45.1<tspan font-size="5.5" dy="-3">+</tspan><tspan dy="3"> CD4</tspan><tspan font-size="5.5" dy="-3">+</tspan><tspan dy="3"> Tm</tspan></text>
<text x="364.8" y="180.3" font-size="19.5" font-weight="bold">d</text>
<text x="422.5" y="179.6" font-size="8.8" text-anchor="middle" fill="#4FB8EA" stroke="#4FB8EA" stroke-width="0.22">Tsm</text>
<text x="485.8" y="179.6" font-size="8.8" text-anchor="middle" fill="#2A20E8" stroke="#2A20E8" stroke-width="0.22">Trmp</text>
<text x="485" y="251.2" font-size="8.8" text-anchor="middle" fill="#F02828" stroke="#F02828" stroke-width="0.22">Trm</text>
<line x1="391.5" y1="194.74" x2="393.1" y2="193.54" stroke="#777" stroke-width="0.6"/>
<line x1="394.1" y1="194.14" x2="395.7" y2="194.14" stroke="#777" stroke-width="0.6"/>
<line x1="391.5" y1="211.15" x2="393.1" y2="209.95" stroke="#777" stroke-width="0.6"/>
<line x1="394.1" y1="210.55" x2="395.7" y2="210.55" stroke="#777" stroke-width="0.6"/>
<line x1="391.5" y1="221" x2="393.1" y2="219.8" stroke="#777" stroke-width="0.6"/>
<line x1="394.1" y1="220.4" x2="395.7" y2="220.4" stroke="#777" stroke-width="0.6"/>
<line x1="391.5" y1="228.65" x2="393.1" y2="227.45" stroke="#777" stroke-width="0.6"/>
<line x1="394.1" y1="228.05" x2="395.7" y2="228.05" stroke="#777" stroke-width="0.6"/>
<line x1="401.39" y1="242.1" x2="403.19" y2="240.7" stroke="#777" stroke-width="0.6"/>
<line x1="402.29" y1="237.9" x2="402.29" y2="239.5" stroke="#777" stroke-width="0.6"/>
<line x1="415.66" y1="242.1" x2="417.46" y2="240.7" stroke="#777" stroke-width="0.6"/>
<line x1="416.56" y1="237.9" x2="416.56" y2="239.5" stroke="#777" stroke-width="0.6"/>
<line x1="429.94" y1="242.1" x2="431.74" y2="240.7" stroke="#777" stroke-width="0.6"/>
<line x1="430.84" y1="237.9" x2="430.84" y2="239.5" stroke="#777" stroke-width="0.6"/>
<line x1="444.21" y1="242.1" x2="446.01" y2="240.7" stroke="#777" stroke-width="0.6"/>
<line x1="445.11" y1="237.9" x2="445.11" y2="239.5" stroke="#777" stroke-width="0.6"/>
<ellipse cx="419" cy="207.5" rx="6.8" ry="8.92" fill="#888" opacity="0.5" transform="rotate(10 419 207.5)"/>
<path d="M426.1 208.7 L426.1 210.5 L426.0 212.5 L425.5 214.5 L424.2 215.7 L422.9 216.9 L421.5 217.6 L420.0 218.3 L418.6 217.6 L417.2 217.7 L416.0 217.1 L414.9 216.0 L413.7 215.5 L412.7 214.4 L411.8 213.1 L410.8 211.7 L411.1 209.7 L411.1 207.9 L410.9 206.1 L411.8 204.5 L412.7 203.0 L413.5 201.6 L414.4 200.2 L415.3 198.5 L416.7 197.9 L418.0 197.0 L419.5 196.1 L421.0 196.1 L422.6 196.2 L423.8 197.4 L424.6 199.2 L425.1 200.9 L425.8 202.2 L426.1 203.8 L425.8 205.6 L426.4 207.1Z" fill="none" stroke="#333" stroke-width="0.55" opacity="0.85" stroke-linejoin="round"/>
<path d="M425.4 208.6 L425.3 210.2 L424.8 211.7 L424.5 213.5 L423.6 214.8 L422.3 215.5 L421.2 216.4 L419.8 216.3 L418.6 216.0 L417.5 215.9 L416.5 215.4 L415.5 214.9 L414.4 214.3 L413.5 213.5 L412.6 212.4 L412.1 211.1 L411.8 209.5 L411.9 207.9 L412.5 206.3 L413.0 205.0 L413.5 203.6 L414.2 202.4 L415.0 201.2 L416.1 200.4 L417.0 199.4 L418.1 198.1 L419.4 197.8 L420.7 197.7 L421.8 198.6 L422.9 199.2 L423.9 200.1 L424.4 201.7 L424.8 203.0 L424.7 204.6 L425.0 205.8 L425.3 207.2Z" fill="none" stroke="#333" stroke-width="0.55" opacity="0.85" stroke-linejoin="round"/>
<path d="M424.1 208.4 L424.2 209.7 L423.9 211.0 L423.3 212.1 L422.6 213.2 L421.9 214.5 L420.7 214.5 L419.7 214.7 L418.7 214.7 L417.7 214.6 L416.8 214.3 L416.1 213.6 L415.3 213.0 L414.5 212.4 L414.0 211.3 L413.6 210.3 L413.2 209.1 L413.2 207.8 L413.7 206.6 L414.1 205.4 L414.6 204.4 L415.0 203.2 L415.7 202.3 L416.4 201.3 L417.3 200.5 L418.3 200.1 L419.3 199.4 L420.5 199.3 L421.4 200.0 L422.1 200.9 L422.9 201.7 L423.3 202.8 L423.5 204.0 L423.6 205.1 L423.8 206.2 L424.2 207.2Z" fill="none" stroke="#333" stroke-width="0.55" opacity="0.85" stroke-linejoin="round"/>
<path d="M422.9 208.2 L423.0 209.2 L422.7 210.2 L422.4 211.1 L422.0 212.2 L421.2 212.7 L420.3 213.0 L419.6 213.3 L418.8 213.3 L418.0 213.0 L417.3 212.8 L416.7 212.2 L416.1 211.8 L415.5 211.3 L415.1 210.5 L414.6 209.7 L414.5 208.7 L414.7 207.7 L414.9 206.8 L415.0 205.8 L415.4 204.9 L415.8 204.1 L416.4 203.4 L417.0 202.8 L417.7 202.3 L418.4 201.5 L419.2 201.5 L420.1 201.3 L420.8 201.7 L421.5 202.2 L422.0 203.0 L422.4 203.8 L422.7 204.7 L422.8 205.6 L422.8 206.5 L423.0 207.3Z" fill="none" stroke="#333" stroke-width="0.55" opacity="0.85" stroke-linejoin="round"/>
<path d="M422.0 208.0 L422.0 208.8 L421.7 209.4 L421.5 210.2 L421.2 210.9 L420.6 211.2 L420.0 211.5 L419.4 211.8 L418.8 211.6 L418.3 211.4 L417.8 211.3 L417.4 210.9 L417.0 210.6 L416.6 210.2 L416.2 209.7 L415.8 209.1 L415.8 208.4 L415.7 207.7 L416.0 207.0 L416.2 206.3 L416.4 205.7 L416.8 205.1 L417.2 204.6 L417.5 204.0 L418.1 203.7 L418.6 203.4 L419.2 203.2 L419.8 203.0 L420.3 203.3 L420.8 203.6 L421.1 204.3 L421.4 204.9 L421.6 205.5 L421.8 206.1 L421.7 206.7 L421.9 207.3Z" fill="none" stroke="#333" stroke-width="0.55" opacity="0.85" stroke-linejoin="round"/>
<path d="M420.8 207.8 L420.8 208.2 L420.7 208.7 L420.5 209.1 L420.3 209.6 L420.0 209.9 L419.6 210.0 L419.2 210.0 L418.9 210.0 L418.6 209.9 L418.3 209.7 L418.0 209.6 L417.7 209.4 L417.4 209.2 L417.2 208.9 L417.1 208.5 L417.0 208.1 L417.0 207.6 L417.1 207.2 L417.2 206.7 L417.4 206.4 L417.7 206.1 L417.9 205.7 L418.1 205.4 L418.4 205.2 L418.7 204.8 L419.1 204.9 L419.5 204.6 L419.9 204.8 L420.1 205.1 L420.4 205.4 L420.5 205.8 L420.6 206.3 L420.6 206.7 L420.7 207.0 L420.8 207.4Z" fill="none" stroke="#333" stroke-width="0.55" opacity="0.85" stroke-linejoin="round"/>
<path d="M417.0 222.6h.6M420.2 225.6h.6M417.5 211.9h.6M429.0 214.4h.6M411.3 220.2h.6M411.7 215.8h.6M426.1 220.8h.6M420.9 207.3h.6M417.3 218.5h.6M415.5 222.0h.6M415.8 219.5h.6M412.5 221.4h.6M413.9 220.7h.6M408.3 223.8h.6M419.7 232.8h.6M410.6 209.7h.6M397.8 213.7h.6M406.0 217.0h.6M408.3 225.3h.6M408.4 221.4h.6M398.3 224.2h.6M414.2 221.6h.6M410.0 217.9h.6M408.7 227.5h.6M412.4 222.0h.6M433.6 220.8h.6M403.2 201.7h.6M419.6 211.6h.6M400.9 218.5h.6M412.8 227.7h.6M410.5 214.8h.6M417.8 212.3h.6M398.2 211.0h.6M408.5 216.5h.6M411.5 220.4h.6M433.3 223.4h.6M413.0 213.2h.6M431.4 216.3h.6M407.9 220.9h.6M409.2 224.4h.6M409.0 222.5h.6M405.8 198.3h.6M415.3 233.5h.6M402.6 215.4h.6M418.8 215.7h.6M412.5 218.1h.6M417.1 218.9h.6M430.1 220.4h.6M409.1 208.2h.6M412.4 212.3h.6M417.4 224.6h.6M435.8 213.5h.6M412.7 228.6h.6" fill="none" stroke="#999" stroke-width="0.7" stroke-linecap="round" opacity="0.8"/>
<ellipse cx="408.5" cy="224" rx="9.5" ry="6.2" fill="url(#gb2)" opacity="1" transform="rotate(5 408.5 224)"/>
<path d="M418.9 224.9 L419.0 226.2 L418.6 227.4 L417.9 228.6 L416.2 229.2 L414.6 229.8 L412.6 229.7 L411.1 230.0 L409.6 230.2 L408.0 230.0 L406.3 230.1 L404.6 229.9 L403.1 229.3 L401.7 228.5 L399.9 227.9 L399.3 226.7 L398.8 225.5 L398.1 224.3 L398.2 223.1 L398.7 222.0 L399.3 220.9 L400.6 220.1 L401.5 219.2 L402.7 218.4 L403.7 217.3 L405.6 217.4 L407.3 217.2 L409.1 217.5 L410.7 217.9 L412.1 218.5 L413.5 219.1 L414.5 220.0 L415.7 220.7 L417.2 221.5 L417.7 222.6 L419.0 223.7Z" fill="none" stroke="#333" stroke-width="0.5" opacity="0.8" stroke-linejoin="round"/>
<path d="M417.5 224.8 L417.4 225.9 L416.9 226.9 L416.2 227.8 L414.8 228.3 L413.3 228.6 L412.0 228.8 L410.6 228.8 L409.3 228.9 L408.1 229.1 L406.8 228.8 L405.5 228.5 L404.0 228.4 L402.5 228.0 L401.6 227.1 L400.6 226.3 L400.5 225.2 L400.4 224.2 L400.2 223.3 L401.0 222.4 L401.3 221.6 L401.9 220.7 L402.7 220.1 L403.7 219.4 L404.9 218.9 L406.0 218.2 L407.5 218.2 L409.0 218.2 L410.4 218.8 L411.7 219.2 L412.8 219.8 L413.7 220.6 L414.5 221.3 L415.4 222.0 L416.1 222.8 L416.9 223.7Z" fill="none" stroke="#333" stroke-width="0.5" opacity="0.8" stroke-linejoin="round"/>
<path d="M415.5 224.6 L415.3 225.4 L415.3 226.3 L414.4 226.9 L413.5 227.4 L412.4 227.8 L411.3 227.9 L410.1 227.7 L409.1 227.8 L408.2 227.7 L407.2 227.7 L406.0 227.8 L405.0 227.5 L403.8 227.2 L402.9 226.5 L402.5 225.7 L401.8 225.0 L401.7 224.2 L402.1 223.4 L402.6 222.8 L402.9 222.1 L403.4 221.5 L403.9 220.9 L404.8 220.4 L405.5 219.8 L406.5 219.4 L407.8 219.6 L408.9 219.5 L410.0 219.9 L410.9 220.4 L411.8 220.7 L412.5 221.4 L413.3 221.8 L413.7 222.5 L414.8 223.0 L414.9 223.8Z" fill="none" stroke="#333" stroke-width="0.5" opacity="0.8" stroke-linejoin="round"/>
<path d="M413.3 224.4 L413.7 225.1 L413.3 225.6 L412.8 226.1 L412.1 226.5 L411.2 226.6 L410.4 226.7 L409.7 226.7 L409.0 226.9 L408.2 226.9 L407.5 226.7 L406.8 226.6 L406.0 226.5 L405.1 226.3 L404.7 225.7 L404.0 225.3 L403.9 224.7 L403.7 224.1 L404.0 223.6 L404.2 223.1 L404.2 222.6 L404.7 222.1 L405.0 221.6 L405.6 221.3 L406.3 221.0 L407.2 220.9 L407.9 220.7 L408.8 220.7 L409.6 221.1 L410.2 221.5 L410.8 221.8 L411.5 222.0 L412.0 222.4 L412.3 222.9 L412.8 223.3 L413.4 223.9Z" fill="none" stroke="#333" stroke-width="0.5" opacity="0.8" stroke-linejoin="round"/>
<path d="M411.6 224.3 L411.5 224.6 L411.5 225.0 L411.1 225.3 L410.7 225.5 L410.1 225.6 L409.7 225.7 L409.3 225.7 L408.8 225.7 L408.4 225.7 L407.9 225.7 L407.4 225.7 L406.9 225.5 L406.5 225.3 L406.1 225.1 L405.8 224.8 L405.7 224.4 L405.6 224.1 L405.7 223.8 L405.8 223.4 L406.0 223.2 L406.2 222.9 L406.5 222.6 L406.7 222.3 L407.2 222.2 L407.6 222.0 L408.2 222.0 L408.7 222.1 L409.1 222.2 L409.6 222.4 L409.9 222.6 L410.3 222.8 L410.5 223.1 L410.9 223.3 L411.3 223.6 L411.4 223.9Z" fill="none" stroke="#333" stroke-width="0.5" opacity="0.8" stroke-linejoin="round"/>
<rect x="409.5" y="195.4" width="26.9" height="22.2" fill="none" stroke="#222" stroke-width="0.9"/>
<rect x="395.7" y="183.2" width="54.9" height="54.7" fill="none" stroke="#111" stroke-width="1.1"/>
<text x="447.5" y="228.3" font-size="8.8" text-anchor="end" stroke="#000" stroke-width="0.22">43.8</text>
<line x1="454.6" y1="194.74" x2="456.2" y2="193.54" stroke="#777" stroke-width="0.6"/>
<line x1="457.2" y1="194.14" x2="458.8" y2="194.14" stroke="#777" stroke-width="0.6"/>
<line x1="454.6" y1="211.15" x2="456.2" y2="209.95" stroke="#777" stroke-width="0.6"/>
<line x1="457.2" y1="210.55" x2="458.8" y2="210.55" stroke="#777" stroke-width="0.6"/>
<line x1="454.6" y1="221" x2="456.2" y2="219.8" stroke="#777" stroke-width="0.6"/>
<line x1="457.2" y1="220.4" x2="458.8" y2="220.4" stroke="#777" stroke-width="0.6"/>
<line x1="454.6" y1="228.65" x2="456.2" y2="227.45" stroke="#777" stroke-width="0.6"/>
<line x1="457.2" y1="228.05" x2="458.8" y2="228.05" stroke="#777" stroke-width="0.6"/>
<line x1="464.49" y1="242.1" x2="466.29" y2="240.7" stroke="#777" stroke-width="0.6"/>
<line x1="465.39" y1="237.9" x2="465.39" y2="239.5" stroke="#777" stroke-width="0.6"/>
<line x1="478.76" y1="242.1" x2="480.56" y2="240.7" stroke="#777" stroke-width="0.6"/>
<line x1="479.66" y1="237.9" x2="479.66" y2="239.5" stroke="#777" stroke-width="0.6"/>
<line x1="493.04" y1="242.1" x2="494.84" y2="240.7" stroke="#777" stroke-width="0.6"/>
<line x1="493.94" y1="237.9" x2="493.94" y2="239.5" stroke="#777" stroke-width="0.6"/>
<line x1="507.31" y1="242.1" x2="509.11" y2="240.7" stroke="#777" stroke-width="0.6"/>
<line x1="508.21" y1="237.9" x2="508.21" y2="239.5" stroke="#777" stroke-width="0.6"/>
<path d="M494.8 213.0 L494.5 214.5 L493.9 215.9 L492.3 217.0 L491.3 218.1 L490.2 219.1 L488.8 219.9 L487.2 220.4 L485.9 221.4 L484.2 222.1 L482.3 222.4 L480.2 222.9 L478.3 222.2 L476.7 221.4 L475.0 220.5 L474.3 219.0 L474.1 217.5 L474.0 216.1 L473.8 214.8 L474.2 213.6 L474.0 212.2 L474.3 210.9 L475.2 209.7 L475.9 208.2 L477.3 207.1 L479.1 206.6 L480.9 206.0 L482.8 206.3 L484.6 206.4 L486.4 206.1 L487.9 207.0 L489.5 207.6 L491.4 207.9 L492.8 208.9 L493.4 210.3 L494.3 211.6Z" fill="none" stroke="#444" stroke-width="0.55" opacity="0.85" stroke-linejoin="round"/>
<path d="M492.5 213.2 L492.3 214.4 L491.5 215.5 L490.9 216.5 L489.8 217.3 L488.8 218.0 L487.6 218.6 L486.6 219.2 L485.4 219.8 L484.1 220.8 L482.5 221.1 L480.9 221.0 L479.4 220.5 L478.0 219.9 L477.0 219.0 L476.2 218.0 L476.0 216.8 L475.7 215.8 L475.7 214.7 L475.8 213.6 L475.7 212.6 L476.1 211.5 L476.6 210.4 L477.5 209.4 L478.5 208.5 L479.8 207.8 L481.4 207.7 L482.9 207.7 L484.4 207.6 L485.8 207.9 L487.3 208.0 L488.4 208.7 L490.0 209.0 L490.7 210.1 L491.9 210.8 L492.5 212.0Z" fill="none" stroke="#444" stroke-width="0.55" opacity="0.85" stroke-linejoin="round"/>
<path d="M490.6 213.4 L490.7 214.3 L490.1 215.2 L489.1 215.9 L488.5 216.6 L487.7 217.2 L486.7 217.5 L485.9 218.1 L485.0 218.7 L484.0 219.2 L482.7 219.4 L481.5 219.5 L480.2 219.3 L479.2 218.7 L478.1 218.2 L477.5 217.3 L477.4 216.3 L477.5 215.3 L477.3 214.5 L477.2 213.7 L477.5 212.9 L477.9 212.1 L478.3 211.3 L478.7 210.3 L479.6 209.7 L480.7 209.3 L481.8 208.9 L483.0 208.8 L484.2 208.8 L485.4 209.0 L486.4 209.4 L487.5 209.7 L488.6 210.1 L489.5 210.7 L490.2 211.5 L490.6 212.4Z" fill="none" stroke="#444" stroke-width="0.55" opacity="0.85" stroke-linejoin="round"/>
<path d="M488.7 213.5 L488.7 214.2 L488.2 214.9 L487.8 215.4 L487.0 215.8 L486.4 216.2 L485.9 216.6 L485.3 217.0 L484.6 217.4 L483.8 217.6 L483.0 217.8 L482.0 218.1 L481.2 217.7 L480.2 217.6 L479.6 217.0 L479.3 216.3 L478.9 215.7 L478.9 215.0 L479.2 214.4 L478.9 213.8 L479.2 213.2 L479.2 212.5 L479.5 211.9 L480.2 211.5 L480.8 211.0 L481.5 210.7 L482.3 210.3 L483.2 210.2 L484.0 210.4 L484.8 210.6 L485.6 210.7 L486.4 210.9 L487.1 211.2 L487.8 211.6 L488.4 212.2 L488.7 212.8Z" fill="none" stroke="#444" stroke-width="0.55" opacity="0.85" stroke-linejoin="round"/>
<path d="M486.8 213.7 L486.5 214.1 L486.3 214.5 L486.1 214.9 L485.7 215.2 L485.3 215.4 L484.9 215.6 L484.6 215.8 L484.2 216.1 L483.7 216.3 L483.2 216.4 L482.6 216.4 L482.1 216.3 L481.6 216.1 L481.2 215.7 L481.0 215.4 L480.8 215.0 L480.8 214.6 L480.7 214.2 L480.7 213.9 L480.8 213.5 L480.9 213.1 L481.2 212.8 L481.5 212.5 L481.8 212.2 L482.3 211.9 L482.8 211.8 L483.3 211.8 L483.8 211.8 L484.3 211.8 L484.7 212.0 L485.2 212.1 L485.7 212.3 L486.0 212.6 L486.5 212.9 L486.6 213.3Z" fill="none" stroke="#444" stroke-width="0.55" opacity="0.85" stroke-linejoin="round"/>
<path d="M468.0 218.1h.6M490.5 205.7h.6M486.1 214.9h.6M488.8 217.3h.6M478.4 223.3h.6M474.6 219.7h.6M477.9 230.9h.6M482.3 206.8h.6M482.5 221.5h.6M479.4 230.1h.6M488.4 207.8h.6M490.8 215.7h.6M474.9 215.0h.6M477.4 225.0h.6M467.8 217.6h.6M471.8 216.5h.6M473.8 222.8h.6M484.5 210.3h.6M479.7 205.4h.6M478.9 223.9h.6M482.2 212.1h.6M481.2 212.8h.6M482.4 217.4h.6M478.4 197.6h.6M471.0 224.3h.6M484.7 224.7h.6M480.6 226.7h.6M486.7 222.8h.6M488.5 225.9h.6M474.4 223.2h.6M487.1 217.6h.6M461.1 216.7h.6M481.0 199.3h.6M465.7 209.7h.6M493.2 225.2h.6M475.7 226.0h.6M481.6 206.9h.6M475.1 226.4h.6M474.6 215.9h.6M476.8 219.4h.6M478.5 229.4h.6M497.3 217.3h.6M465.2 216.0h.6M479.6 232.3h.6M485.0 219.9h.6M503.7 210.4h.6M468.7 230.8h.6M484.9 219.7h.6M468.0 222.4h.6M481.7 213.9h.6M480.0 207.5h.6M489.0 209.8h.6M487.7 211.7h.6M470.2 217.6h.6M471.4 224.9h.6M470.8 220.3h.6M485.4 226.4h.6M487.0 217.7h.6" fill="none" stroke="#999" stroke-width="0.7" stroke-linecap="round" opacity="0.8"/>
<ellipse cx="476.8" cy="224" rx="9" ry="6" fill="url(#gb2)" opacity="1" transform="rotate(0 476.8 224)"/>
<path d="M486.2 224.0 L485.9 225.1 L485.4 226.2 L484.7 227.1 L483.8 228.0 L482.6 228.7 L481.7 229.8 L480.2 230.3 L478.5 230.8 L476.8 230.9 L475.0 231.1 L473.4 230.4 L472.0 229.7 L470.7 229.0 L469.9 228.0 L469.3 227.0 L469.2 225.9 L468.8 225.0 L468.3 224.0 L467.8 222.9 L467.5 221.7 L467.9 220.5 L468.7 219.3 L470.1 218.5 L471.7 217.9 L473.5 217.7 L475.2 217.6 L476.8 217.8 L478.4 217.8 L479.9 218.1 L481.4 218.6 L482.7 219.2 L484.0 219.8 L485.0 220.8 L486.1 221.7 L486.3 222.8Z" fill="none" stroke="#333" stroke-width="0.5" opacity="0.8" stroke-linejoin="round"/>
<path d="M484.7 224.0 L484.4 224.9 L483.6 225.7 L482.9 226.4 L482.3 227.2 L481.8 228.1 L480.8 228.7 L479.6 229.2 L478.3 229.8 L476.8 229.8 L475.3 230.0 L474.0 229.2 L472.7 228.9 L471.7 228.2 L471.3 227.2 L470.8 226.4 L470.6 225.6 L470.1 224.8 L469.8 224.0 L469.5 223.1 L469.7 222.2 L469.8 221.2 L470.6 220.4 L471.3 219.5 L472.6 219.1 L474.1 218.9 L475.4 218.5 L476.8 218.9 L478.1 218.9 L479.4 219.1 L480.6 219.5 L481.9 219.8 L482.8 220.5 L483.9 221.2 L484.0 222.2 L484.7 223.0Z" fill="none" stroke="#333" stroke-width="0.5" opacity="0.8" stroke-linejoin="round"/>
<path d="M482.8 224.0 L482.5 224.7 L482.3 225.4 L481.8 226.0 L481.1 226.5 L480.5 227.0 L479.8 227.5 L479.0 228.2 L478.0 228.5 L476.8 228.5 L475.6 228.5 L474.6 228.1 L473.7 227.7 L472.9 227.2 L472.3 226.6 L471.9 225.9 L471.7 225.3 L471.4 224.7 L471.3 224.0 L470.9 223.3 L470.8 222.5 L471.4 221.9 L471.6 221.0 L472.4 220.4 L473.6 220.2 L474.6 219.8 L475.7 219.7 L476.8 220.0 L477.8 220.1 L478.8 220.2 L479.8 220.4 L480.6 220.9 L481.6 221.3 L482.3 221.8 L482.8 222.5 L483.0 223.3Z" fill="none" stroke="#333" stroke-width="0.5" opacity="0.8" stroke-linejoin="round"/>
<path d="M481.3 224.0 L481.0 224.5 L480.7 225.0 L480.3 225.4 L479.9 225.8 L479.5 226.2 L479.0 226.6 L478.4 226.9 L477.6 227.1 L476.8 227.3 L475.9 227.4 L475.2 227.0 L474.4 226.8 L473.9 226.3 L473.7 225.8 L473.5 225.3 L473.1 224.9 L472.8 224.5 L472.8 224.0 L472.6 223.5 L472.5 222.9 L472.7 222.4 L473.3 222.0 L473.8 221.5 L474.4 221.1 L475.2 221.0 L476.0 221.0 L476.8 221.1 L477.6 221.1 L478.3 221.2 L478.9 221.5 L479.7 221.7 L480.1 222.1 L480.7 222.5 L481.0 222.9 L481.4 223.4Z" fill="none" stroke="#333" stroke-width="0.5" opacity="0.8" stroke-linejoin="round"/>
<path d="M479.6 224.0 L479.3 224.3 L479.3 224.6 L479.0 224.9 L478.8 225.2 L478.5 225.4 L478.2 225.6 L477.7 225.7 L477.3 225.9 L476.8 226.0 L476.3 226.0 L475.8 225.8 L475.4 225.6 L475.1 225.4 L474.8 225.1 L474.7 224.8 L474.5 224.6 L474.4 224.3 L474.3 224.0 L474.2 223.7 L474.2 223.4 L474.3 223.0 L474.6 222.7 L474.9 222.5 L475.4 222.3 L475.8 222.2 L476.3 222.1 L476.8 222.1 L477.3 222.2 L477.7 222.4 L478.2 222.4 L478.5 222.6 L478.9 222.8 L479.2 223.1 L479.5 223.3 L479.5 223.7Z" fill="none" stroke="#333" stroke-width="0.5" opacity="0.8" stroke-linejoin="round"/>
<rect x="473.3" y="195.4" width="26.4" height="22.2" fill="none" stroke="#222" stroke-width="0.9"/>
<rect x="458.8" y="183.2" width="54.9" height="54.7" fill="none" stroke="#111" stroke-width="1.1"/>
<text x="510" y="228.3" font-size="8.8" text-anchor="end" stroke="#000" stroke-width="0.22">20.4</text>
<line x1="454.2" y1="264.56" x2="455.8" y2="263.36" stroke="#777" stroke-width="0.6"/>
<line x1="456.8" y1="263.96" x2="458.4" y2="263.96" stroke="#777" stroke-width="0.6"/>
<line x1="454.2" y1="280.85" x2="455.8" y2="279.65" stroke="#777" stroke-width="0.6"/>
<line x1="456.8" y1="280.25" x2="458.4" y2="280.25" stroke="#777" stroke-width="0.6"/>
<line x1="454.2" y1="290.62" x2="455.8" y2="289.42" stroke="#777" stroke-width="0.6"/>
<line x1="456.8" y1="290.02" x2="458.4" y2="290.02" stroke="#777" stroke-width="0.6"/>
<line x1="454.2" y1="298.23" x2="455.8" y2="297.03" stroke="#777" stroke-width="0.6"/>
<line x1="456.8" y1="297.63" x2="458.4" y2="297.63" stroke="#777" stroke-width="0.6"/>
<line x1="464.05" y1="311.6" x2="465.85" y2="310.2" stroke="#777" stroke-width="0.6"/>
<line x1="464.95" y1="307.4" x2="464.95" y2="309" stroke="#777" stroke-width="0.6"/>
<line x1="478.25" y1="311.6" x2="480.05" y2="310.2" stroke="#777" stroke-width="0.6"/>
<line x1="479.15" y1="307.4" x2="479.15" y2="309" stroke="#777" stroke-width="0.6"/>
<line x1="492.44" y1="311.6" x2="494.24" y2="310.2" stroke="#777" stroke-width="0.6"/>
<line x1="493.34" y1="307.4" x2="493.34" y2="309" stroke="#777" stroke-width="0.6"/>
<line x1="506.64" y1="311.6" x2="508.44" y2="310.2" stroke="#777" stroke-width="0.6"/>
<line x1="507.54" y1="307.4" x2="507.54" y2="309" stroke="#777" stroke-width="0.6"/>
<path d="M478.0 280.0 L478.0 280.6 L477.8 281.2 L477.6 281.8 L477.2 282.2 L477.0 282.8 L476.6 283.2 L476.1 283.5 L475.6 283.7 L475.0 283.7 L474.5 283.4 L474.0 283.1 L473.6 282.9 L473.2 282.4 L472.9 282.1 L472.6 281.6 L472.2 281.2 L472.1 280.6 L471.7 280.0 L471.8 279.3 L472.0 278.7 L472.1 278.0 L472.6 277.7 L473.1 277.3 L473.6 277.1 L474.1 277.0 L474.5 277.0 L475.0 277.0 L475.5 276.8 L475.9 277.0 L476.4 277.1 L476.9 277.4 L477.5 277.6 L477.8 278.1 L478.0 278.7 L478.2 279.4Z" fill="none" stroke="#555" stroke-width="0.55" opacity="0.85" stroke-linejoin="round"/>
<path d="M476.9 280.0 L476.8 280.4 L476.7 280.7 L476.5 281.0 L476.4 281.4 L476.3 281.7 L476.0 281.9 L475.7 282.2 L475.3 282.3 L475.0 282.3 L474.7 282.1 L474.4 281.9 L474.2 281.7 L473.9 281.5 L473.7 281.3 L473.5 281.0 L473.3 280.7 L473.2 280.4 L473.0 280.0 L473.0 279.6 L473.0 279.2 L473.2 278.8 L473.5 278.6 L473.8 278.3 L474.1 278.2 L474.4 278.0 L474.7 278.1 L475.0 278.1 L475.3 278.0 L475.6 278.1 L475.9 278.2 L476.2 278.3 L476.5 278.5 L476.6 278.9 L476.9 279.2 L476.8 279.6Z" fill="none" stroke="#555" stroke-width="0.55" opacity="0.85" stroke-linejoin="round"/>
<path d="M497.0 282.0h.6M482.1 270.7h.6M490.1 286.5h.6M477.7 299.5h.6M467.0 290.7h.6M466.1 283.7h.6M489.4 266.5h.6M468.3 298.5h.6M484.4 281.4h.6M485.0 293.1h.6M478.5 276.8h.6M483.1 298.0h.6M469.0 301.4h.6M483.4 295.9h.6M489.4 299.1h.6M470.0 290.3h.6M480.2 295.5h.6M508.6 273.4h.6M489.0 282.4h.6M478.4 296.0h.6M473.1 281.1h.6M481.3 286.2h.6M478.1 291.9h.6M479.1 289.0h.6M478.1 294.2h.6M488.0 282.8h.6M471.6 281.3h.6M483.1 295.5h.6M477.0 283.2h.6M473.8 282.1h.6M474.4 279.5h.6M480.5 290.0h.6M480.4 276.9h.6M494.3 295.4h.6M476.3 292.9h.6M485.1 286.6h.6M474.3 295.4h.6M489.5 292.4h.6M474.8 293.9h.6M475.3 301.1h.6M482.4 286.0h.6M473.4 287.6h.6M477.5 269.1h.6M487.1 295.1h.6M474.2 294.8h.6M469.5 283.0h.6M472.8 280.7h.6M469.0 286.7h.6M473.1 288.5h.6M474.8 289.5h.6M470.7 280.8h.6M460.8 294.9h.6M483.6 294.7h.6M467.7 279.3h.6M478.1 279.0h.6M489.4 281.1h.6M488.4 291.4h.6" fill="none" stroke="#999" stroke-width="0.7" stroke-linecap="round" opacity="0.8"/>
<ellipse cx="474.5" cy="290.5" rx="7.5" ry="10" fill="url(#gb2)" opacity="1" transform="rotate(0 474.5 290.5)"/>
<path d="M481.8 290.5 L482.0 292.3 L481.7 294.1 L481.2 295.8 L480.6 297.5 L479.8 299.1 L478.4 299.7 L477.3 301.0 L475.9 301.1 L474.5 301.5 L473.2 300.8 L471.9 300.3 L470.7 299.5 L469.5 298.6 L468.3 297.7 L467.2 296.3 L466.7 294.4 L465.9 292.6 L465.7 290.5 L466.3 288.5 L467.2 286.8 L467.9 285.2 L468.8 283.9 L470.0 283.1 L471.1 282.5 L472.1 281.3 L473.2 280.8 L474.5 279.6 L475.9 279.8 L477.4 279.5 L478.8 280.3 L480.3 281.0 L480.9 283.1 L481.9 284.6 L481.9 286.8 L481.9 288.7Z" fill="none" stroke="#333" stroke-width="0.5" opacity="0.8" stroke-linejoin="round"/>
<path d="M480.4 290.5 L480.4 291.9 L480.4 293.4 L480.1 294.9 L479.5 296.3 L478.7 297.4 L477.7 298.2 L476.8 299.1 L475.7 299.5 L474.5 299.2 L473.4 299.4 L472.4 298.3 L471.5 297.7 L470.5 297.0 L469.7 296.1 L468.9 294.9 L468.1 293.7 L467.7 292.2 L467.2 290.5 L467.7 288.9 L468.2 287.4 L469.1 286.2 L470.0 285.3 L470.8 284.4 L471.6 283.6 L472.6 283.3 L473.4 282.3 L474.5 282.0 L475.7 281.3 L476.9 281.6 L478.0 282.2 L479.0 283.2 L480.0 284.1 L480.4 285.8 L480.4 287.5 L480.9 289.0Z" fill="none" stroke="#333" stroke-width="0.5" opacity="0.8" stroke-linejoin="round"/>
<path d="M479.2 290.5 L479.1 291.6 L478.8 292.6 L478.6 293.8 L478.3 294.9 L477.9 296.0 L477.1 296.6 L476.3 297.2 L475.4 297.2 L474.5 297.5 L473.7 297.1 L472.8 296.7 L472.1 296.2 L471.2 295.8 L470.5 295.2 L470.1 294.0 L469.4 293.0 L469.3 291.8 L468.9 290.5 L469.0 289.2 L469.8 288.1 L470.2 287.1 L471.0 286.4 L471.6 285.8 L472.3 285.2 L473.0 284.7 L473.7 284.1 L474.5 283.8 L475.4 283.4 L476.3 283.5 L477.3 283.9 L478.0 284.8 L478.7 285.7 L479.0 286.9 L479.4 288.1 L479.3 289.3Z" fill="none" stroke="#333" stroke-width="0.5" opacity="0.8" stroke-linejoin="round"/>
<path d="M477.9 290.5 L478.0 291.3 L477.6 292.1 L477.5 292.9 L477.3 293.7 L476.9 294.4 L476.4 295.0 L475.8 295.3 L475.2 295.7 L474.5 295.6 L473.9 295.2 L473.3 295.1 L472.7 294.7 L472.1 294.4 L471.6 293.8 L471.2 293.1 L470.8 292.4 L470.5 291.5 L470.6 290.5 L470.7 289.6 L471.0 288.7 L471.5 288.1 L471.9 287.5 L472.4 287.1 L472.9 286.7 L473.4 286.3 L473.9 285.9 L474.5 285.6 L475.2 285.4 L475.8 285.5 L476.6 285.5 L477.1 286.2 L477.6 286.9 L477.9 287.8 L477.8 288.8 L477.9 289.7Z" fill="none" stroke="#333" stroke-width="0.5" opacity="0.8" stroke-linejoin="round"/>
<path d="M476.6 290.5 L476.5 291.0 L476.5 291.5 L476.4 292.0 L476.2 292.5 L476.0 292.9 L475.7 293.3 L475.3 293.5 L474.9 293.7 L474.5 293.7 L474.1 293.6 L473.8 293.2 L473.4 293.1 L473.1 292.7 L472.7 292.5 L472.4 292.2 L472.2 291.6 L472.1 291.1 L472.0 290.5 L472.1 289.9 L472.3 289.4 L472.6 289.0 L472.9 288.7 L473.2 288.3 L473.5 288.1 L473.8 287.9 L474.1 287.8 L474.5 287.5 L474.9 287.3 L475.3 287.4 L475.8 287.5 L476.1 287.9 L476.4 288.3 L476.5 288.9 L476.7 289.4 L476.7 290.0Z" fill="none" stroke="#333" stroke-width="0.5" opacity="0.8" stroke-linejoin="round"/>
<rect x="472.4" y="265.5" width="26.9" height="21.9" fill="none" stroke="#222" stroke-width="0.9"/>
<rect x="458.4" y="253.1" width="54.6" height="54.3" fill="none" stroke="#111" stroke-width="1.1"/>
<text x="508.5" y="297.8" font-size="8.8" text-anchor="end" stroke="#000" stroke-width="0.22">7.56</text>
<line x1="382.2" y1="250" x2="382.2" y2="231" stroke="#111" stroke-width="1.1"/>
<use href="#rarrow" transform="translate(382.2 224.6) rotate(-90)"/>
<line x1="382.2" y1="250" x2="402" y2="250" stroke="#111" stroke-width="1.1"/>
<use href="#rarrow" transform="translate(408.6 250)"/>
<text x="409.8" y="253.4" font-size="8.8" stroke="#000" stroke-width="0.22">Ly108</text>
<text x="385.3" y="213" font-size="8.8" text-anchor="middle" transform="rotate(-90 385.3 213)" stroke="#000" stroke-width="0.22">TOX</text>
<line x1="549.4" y1="188.4" x2="549.4" y2="286.3" stroke="#000" stroke-width="1.2"/>
<line x1="546.9" y1="286.3" x2="549.4" y2="286.3" stroke="#000" stroke-width="1.2"/>
<text x="546" y="289.3" font-size="8.4" text-anchor="end" stroke="#000" stroke-width="0.22">0</text>
<line x1="546.9" y1="261.82" x2="549.4" y2="261.82" stroke="#000" stroke-width="1.2"/>
<text x="546" y="264.82" font-size="8.4" text-anchor="end" stroke="#000" stroke-width="0.22">20</text>
<line x1="546.9" y1="237.35" x2="549.4" y2="237.35" stroke="#000" stroke-width="1.2"/>
<text x="546" y="240.35" font-size="8.4" text-anchor="end" stroke="#000" stroke-width="0.22">40</text>
<line x1="546.9" y1="212.88" x2="549.4" y2="212.88" stroke="#000" stroke-width="1.2"/>
<text x="546" y="215.88" font-size="8.4" text-anchor="end" stroke="#000" stroke-width="0.22">60</text>
<line x1="546.9" y1="188.4" x2="549.4" y2="188.4" stroke="#000" stroke-width="1.2"/>
<text x="546" y="191.4" font-size="8.4" text-anchor="end" stroke="#000" stroke-width="0.22">80</text>
<line x1="549.4" y1="286.3" x2="647.5" y2="286.3" stroke="#000" stroke-width="1.2"/>
<line x1="549.4" y1="286.5" x2="647.5" y2="286.5" stroke="#111" stroke-width="1.6" stroke-dasharray="0.7 1.1"/>
<rect x="559.9" y="240.41" width="18.6" height="45.89" fill="#55BFEC" stroke="#000" stroke-width="0.9"/>
<line x1="569.2" y1="240.41" x2="569.2" y2="229.4" stroke="#000" stroke-width="1"/>
<line x1="565.7" y1="229.4" x2="572.7" y2="229.4" stroke="#000" stroke-width="1"/>
<line x1="569.2" y1="240.41" x2="569.2" y2="251.42" stroke="#000" stroke-width="1.2"/>
<line x1="565.7" y1="251.42" x2="572.7" y2="251.42" stroke="#000" stroke-width="1.2"/>
<circle cx="562.2" cy="258.15" r="2.6" fill="#fff" stroke="#000" stroke-width="1.1"/>
<circle cx="569.2" cy="234.9" r="2.6" fill="#fff" stroke="#000" stroke-width="1.1"/>
<circle cx="575.2" cy="253.26" r="2.6" fill="#fff" stroke="#000" stroke-width="1.1"/>
<circle cx="569.2" cy="213.49" r="2.6" fill="#fff" stroke="#000" stroke-width="1.1"/>
<line x1="569.2" y1="286.3" x2="569.2" y2="288.8" stroke="#000" stroke-width="1.2"/>
<rect x="589.3" y="252.04" width="19" height="34.26" fill="#4630F4" stroke="#000" stroke-width="0.9"/>
<line x1="598.8" y1="252.04" x2="598.8" y2="248.36" stroke="#000" stroke-width="1"/>
<line x1="595.3" y1="248.36" x2="602.3" y2="248.36" stroke="#000" stroke-width="1"/>
<line x1="598.8" y1="252.04" x2="598.8" y2="255.71" stroke="#000" stroke-width="1.2"/>
<line x1="595.3" y1="255.71" x2="602.3" y2="255.71" stroke="#000" stroke-width="1.2"/>
<circle cx="592.8" cy="247.14" r="2.6" fill="#fff" stroke="#000" stroke-width="1.1"/>
<circle cx="598.8" cy="250.81" r="2.6" fill="#fff" stroke="#000" stroke-width="1.1"/>
<circle cx="604.8" cy="247.14" r="2.6" fill="#fff" stroke="#000" stroke-width="1.1"/>
<circle cx="598.8" cy="260.6" r="2.6" fill="#fff" stroke="#000" stroke-width="1.1"/>
<line x1="598.8" y1="286.3" x2="598.8" y2="288.8" stroke="#000" stroke-width="1.2"/>
<rect x="618.7" y="280.18" width="19" height="6.12" fill="#FA3B40" stroke="#000" stroke-width="0.9"/>
<line x1="628.2" y1="280.18" x2="628.2" y2="274.67" stroke="#000" stroke-width="1"/>
<line x1="624.7" y1="274.67" x2="631.7" y2="274.67" stroke="#000" stroke-width="1"/>
<line x1="628.2" y1="280.18" x2="628.2" y2="285.69" stroke="#000" stroke-width="1.2"/>
<line x1="624.7" y1="285.69" x2="631.7" y2="285.69" stroke="#000" stroke-width="1.2"/>
<circle cx="622.2" cy="277.73" r="2.6" fill="#fff" stroke="#000" stroke-width="1.1"/>
<circle cx="629.2" cy="267.94" r="2.6" fill="#fff" stroke="#000" stroke-width="1.1"/>
<circle cx="634.2" cy="281.41" r="2.6" fill="#fff" stroke="#000" stroke-width="1.1"/>
<circle cx="622.2" cy="286.3" r="2.6" fill="#fff" stroke="#000" stroke-width="1.1"/>
<line x1="628.2" y1="286.3" x2="628.2" y2="288.8" stroke="#000" stroke-width="1.2"/>
<line x1="569.7" y1="207" x2="628.2" y2="207" stroke="#000" stroke-width="1.1"/>
<text x="598.95" y="209.03" font-size="12.4" text-anchor="middle" font-weight="bold">**</text>
<line x1="599" y1="237.4" x2="628.2" y2="237.4" stroke="#000" stroke-width="1.1"/>
<text x="613.6" y="239.43" font-size="12.4" text-anchor="middle" font-weight="bold">*</text>
<text x="570.3" y="298.2" font-size="8.8" text-anchor="middle" stroke="#000" stroke-width="0.22">Tsm</text>
<text x="599.7" y="298.2" font-size="8.8" text-anchor="middle" stroke="#000" stroke-width="0.22">Trmp</text>
<text x="628.5" y="298.2" font-size="8.8" text-anchor="middle" stroke="#000" stroke-width="0.22">Trm</text>
<text x="529.8" y="238.1" font-size="8.8" text-anchor="middle" transform="rotate(-90 529.8 238.1)" stroke="#000" stroke-width="0.22">%CD45.1<tspan font-size="5.5" dy="-3">+</tspan><tspan dy="3">TOX+ CD4</tspan><tspan font-size="5.5" dy="-3">+</tspan><tspan dy="3">Tm</tspan></text>
<text x="0.6" y="337.9" font-size="19.5" font-weight="bold">e</text>
<line x1="37.3" y1="346.4" x2="37.3" y2="427" stroke="#000" stroke-width="1.25"/>
<line x1="34" y1="427" x2="37.3" y2="427" stroke="#000" stroke-width="1.1"/>
<text x="32.3" y="430.3" font-size="9.4" text-anchor="end" stroke="#000" stroke-width="0.22">70</text>
<line x1="34" y1="406.85" x2="37.3" y2="406.85" stroke="#000" stroke-width="1.1"/>
<text x="32.3" y="410.15" font-size="9.4" text-anchor="end" stroke="#000" stroke-width="0.22">80</text>
<line x1="34" y1="386.7" x2="37.3" y2="386.7" stroke="#000" stroke-width="1.1"/>
<text x="32.3" y="390" font-size="9.4" text-anchor="end" stroke="#000" stroke-width="0.22">90</text>
<line x1="34" y1="366.55" x2="37.3" y2="366.55" stroke="#000" stroke-width="1.1"/>
<text x="32.3" y="369.85" font-size="9.4" text-anchor="end" stroke="#000" stroke-width="0.22">100</text>
<line x1="34" y1="346.4" x2="37.3" y2="346.4" stroke="#000" stroke-width="1.1"/>
<text x="32.3" y="349.7" font-size="9.4" text-anchor="end" stroke="#000" stroke-width="0.22">110</text>
<line x1="37.3" y1="427" x2="159" y2="427" stroke="#000" stroke-width="1.25"/>
<line x1="37.3" y1="427" x2="37.3" y2="430" stroke="#000" stroke-width="0.9"/>
<line x1="40.8" y1="427" x2="40.8" y2="429.2" stroke="#000" stroke-width="0.9"/>
<line x1="44.3" y1="427" x2="44.3" y2="429.2" stroke="#000" stroke-width="0.9"/>
<line x1="47.8" y1="427" x2="47.8" y2="429.2" stroke="#000" stroke-width="0.9"/>
<line x1="51.3" y1="427" x2="51.3" y2="429.2" stroke="#000" stroke-width="0.9"/>
<line x1="54.8" y1="427" x2="54.8" y2="429.2" stroke="#000" stroke-width="0.9"/>
<line x1="58.3" y1="427" x2="58.3" y2="429.2" stroke="#000" stroke-width="0.9"/>
<line x1="61.8" y1="427" x2="61.8" y2="429.2" stroke="#000" stroke-width="0.9"/>
<line x1="65.3" y1="427" x2="65.3" y2="429.2" stroke="#000" stroke-width="0.9"/>
<line x1="68.8" y1="427" x2="68.8" y2="429.2" stroke="#000" stroke-width="0.9"/>
<line x1="72.3" y1="427" x2="72.3" y2="430" stroke="#000" stroke-width="0.9"/>
<line x1="75.8" y1="427" x2="75.8" y2="429.2" stroke="#000" stroke-width="0.9"/>
<line x1="79.3" y1="427" x2="79.3" y2="429.2" stroke="#000" stroke-width="0.9"/>
<line x1="82.8" y1="427" x2="82.8" y2="429.2" stroke="#000" stroke-width="0.9"/>
<line x1="86.3" y1="427" x2="86.3" y2="429.2" stroke="#000" stroke-width="0.9"/>
<line x1="89.8" y1="427" x2="89.8" y2="429.2" stroke="#000" stroke-width="0.9"/>
<line x1="93.3" y1="427" x2="93.3" y2="429.2" stroke="#000" stroke-width="0.9"/>
<line x1="96.8" y1="427" x2="96.8" y2="429.2" stroke="#000" stroke-width="0.9"/>
<line x1="100.3" y1="427" x2="100.3" y2="429.2" stroke="#000" stroke-width="0.9"/>
<line x1="103.8" y1="427" x2="103.8" y2="429.2" stroke="#000" stroke-width="0.9"/>
<line x1="107.3" y1="427" x2="107.3" y2="430" stroke="#000" stroke-width="0.9"/>
<line x1="110.8" y1="427" x2="110.8" y2="429.2" stroke="#000" stroke-width="0.9"/>
<line x1="114.3" y1="427" x2="114.3" y2="429.2" stroke="#000" stroke-width="0.9"/>
<line x1="117.8" y1="427" x2="117.8" y2="429.2" stroke="#000" stroke-width="0.9"/>
<line x1="121.3" y1="427" x2="121.3" y2="429.2" stroke="#000" stroke-width="0.9"/>
<line x1="124.8" y1="427" x2="124.8" y2="429.2" stroke="#000" stroke-width="0.9"/>
<line x1="128.3" y1="427" x2="128.3" y2="429.2" stroke="#000" stroke-width="0.9"/>
<line x1="131.8" y1="427" x2="131.8" y2="429.2" stroke="#000" stroke-width="0.9"/>
<line x1="135.3" y1="427" x2="135.3" y2="429.2" stroke="#000" stroke-width="0.9"/>
<line x1="138.8" y1="427" x2="138.8" y2="429.2" stroke="#000" stroke-width="0.9"/>
<line x1="142.3" y1="427" x2="142.3" y2="430" stroke="#000" stroke-width="0.9"/>
<line x1="145.8" y1="427" x2="145.8" y2="429.2" stroke="#000" stroke-width="0.9"/>
<line x1="149.3" y1="427" x2="149.3" y2="429.2" stroke="#000" stroke-width="0.9"/>
<line x1="152.8" y1="427" x2="152.8" y2="429.2" stroke="#000" stroke-width="0.9"/>
<line x1="156.3" y1="427" x2="156.3" y2="429.2" stroke="#000" stroke-width="0.9"/>
<text x="37.3" y="437.8" font-size="9.4" text-anchor="middle" stroke="#000" stroke-width="0.22">0</text>
<text x="72.3" y="437.8" font-size="9.4" text-anchor="middle" stroke="#000" stroke-width="0.22">20</text>
<text x="107.3" y="437.8" font-size="9.4" text-anchor="middle" stroke="#000" stroke-width="0.22">40</text>
<text x="142.3" y="437.8" font-size="9.4" text-anchor="middle" stroke="#000" stroke-width="0.22">60</text>
<path d="M37.3 366.55 L40.8 393.75 L46.05 403.83 L51.3 406.85 L54.8 393.75 L58.3 392.75 L61.8 393.75 L65.3 383.68 L74.05 381.66 L81.05 379.65 L89.8 381.66 L102.05 387.71 L107.3 387.71 L114.3 387.71 L119.55 391.74 L124.8 390.73 L133.55 393.75 L140.55 392.75 L147.55 386.7 L154.55 391.74" fill="none" stroke="#F0383C" stroke-width="0.8"/>
<line x1="74.05" y1="381.66" x2="74.05" y2="378.64" stroke="#F0383C" stroke-width="0.7" opacity="0.75"/>
<line x1="72.25" y1="378.64" x2="75.85" y2="378.64" stroke="#F0383C" stroke-width="0.7" opacity="0.75"/>
<line x1="81.05" y1="379.65" x2="81.05" y2="376.62" stroke="#F0383C" stroke-width="0.7" opacity="0.75"/>
<line x1="79.25" y1="376.62" x2="82.85" y2="376.62" stroke="#F0383C" stroke-width="0.7" opacity="0.75"/>
<line x1="89.8" y1="381.66" x2="89.8" y2="378.64" stroke="#F0383C" stroke-width="0.7" opacity="0.75"/>
<line x1="88" y1="378.64" x2="91.6" y2="378.64" stroke="#F0383C" stroke-width="0.7" opacity="0.75"/>
<line x1="102.05" y1="387.71" x2="102.05" y2="382.67" stroke="#F0383C" stroke-width="0.7" opacity="0.75"/>
<line x1="100.25" y1="382.67" x2="103.85" y2="382.67" stroke="#F0383C" stroke-width="0.7" opacity="0.75"/>
<line x1="107.3" y1="387.71" x2="107.3" y2="382.67" stroke="#F0383C" stroke-width="0.7" opacity="0.75"/>
<line x1="105.5" y1="382.67" x2="109.1" y2="382.67" stroke="#F0383C" stroke-width="0.7" opacity="0.75"/>
<line x1="114.3" y1="387.71" x2="114.3" y2="380.65" stroke="#F0383C" stroke-width="0.7" opacity="0.75"/>
<line x1="112.5" y1="380.65" x2="116.1" y2="380.65" stroke="#F0383C" stroke-width="0.7" opacity="0.75"/>
<line x1="119.55" y1="391.74" x2="119.55" y2="387.71" stroke="#F0383C" stroke-width="0.7" opacity="0.75"/>
<line x1="117.75" y1="387.71" x2="121.35" y2="387.71" stroke="#F0383C" stroke-width="0.7" opacity="0.75"/>
<line x1="124.8" y1="390.73" x2="124.8" y2="386.7" stroke="#F0383C" stroke-width="0.7" opacity="0.75"/>
<line x1="123" y1="386.7" x2="126.6" y2="386.7" stroke="#F0383C" stroke-width="0.7" opacity="0.75"/>
<line x1="133.55" y1="393.75" x2="133.55" y2="388.71" stroke="#F0383C" stroke-width="0.7" opacity="0.75"/>
<line x1="131.75" y1="388.71" x2="135.35" y2="388.71" stroke="#F0383C" stroke-width="0.7" opacity="0.75"/>
<line x1="140.55" y1="392.75" x2="140.55" y2="387.71" stroke="#F0383C" stroke-width="0.7" opacity="0.75"/>
<line x1="138.75" y1="387.71" x2="142.35" y2="387.71" stroke="#F0383C" stroke-width="0.7" opacity="0.75"/>
<line x1="147.55" y1="386.7" x2="147.55" y2="381.66" stroke="#F0383C" stroke-width="0.7" opacity="0.75"/>
<line x1="145.75" y1="381.66" x2="149.35" y2="381.66" stroke="#F0383C" stroke-width="0.7" opacity="0.75"/>
<line x1="154.55" y1="391.74" x2="154.55" y2="386.7" stroke="#F0383C" stroke-width="0.7" opacity="0.75"/>
<line x1="152.75" y1="386.7" x2="156.35" y2="386.7" stroke="#F0383C" stroke-width="0.7" opacity="0.75"/>
<path d="M37.3 363.95L39.8 368.45L34.8 368.45Z" fill="#F0383C"/>
<path d="M40.8 391.15L43.3 395.65L38.3 395.65Z" fill="#F0383C"/>
<path d="M46.05 401.23L48.55 405.73L43.55 405.73Z" fill="#F0383C"/>
<path d="M51.3 404.25L53.8 408.75L48.8 408.75Z" fill="#F0383C"/>
<path d="M54.8 391.15L57.3 395.65L52.3 395.65Z" fill="#F0383C"/>
<path d="M58.3 390.14L60.8 394.64L55.8 394.64Z" fill="#F0383C"/>
<path d="M61.8 391.15L64.3 395.65L59.3 395.65Z" fill="#F0383C"/>
<path d="M65.3 381.08L67.8 385.58L62.8 385.58Z" fill="#F0383C"/>
<path d="M74.05 379.06L76.55 383.56L71.55 383.56Z" fill="#F0383C"/>
<path d="M81.05 377.05L83.55 381.55L78.55 381.55Z" fill="#F0383C"/>
<path d="M89.8 379.06L92.3 383.56L87.3 383.56Z" fill="#F0383C"/>
<path d="M102.05 385.11L104.55 389.61L99.55 389.61Z" fill="#F0383C"/>
<path d="M107.3 385.11L109.8 389.61L104.8 389.61Z" fill="#F0383C"/>
<path d="M114.3 385.11L116.8 389.61L111.8 389.61Z" fill="#F0383C"/>
<path d="M119.55 389.14L122.05 393.64L117.05 393.64Z" fill="#F0383C"/>
<path d="M124.8 388.13L127.3 392.63L122.3 392.63Z" fill="#F0383C"/>
<path d="M133.55 391.15L136.05 395.65L131.05 395.65Z" fill="#F0383C"/>
<path d="M140.55 390.14L143.05 394.64L138.05 394.64Z" fill="#F0383C"/>
<path d="M147.55 384.1L150.05 388.6L145.05 388.6Z" fill="#F0383C"/>
<path d="M154.55 389.14L157.05 393.64L152.05 393.64Z" fill="#F0383C"/>
<path d="M37.3 366.55 L40.8 386.7 L46.05 400.81 L51.3 406.85 L54.8 393.75 L58.3 390.73 L61.8 390.73 L65.3 383.68 L74.05 385.69 L81.05 376.62 L89.8 378.64 L102.05 385.69 L107.3 393.75 L114.3 396.77 L119.55 404.83 L124.8 408.87 L133.55 412.89 L140.55 412.89 L147.55 405.84 L154.55 408.87" fill="none" stroke="#4634F0" stroke-width="0.8"/>
<line x1="54.8" y1="393.75" x2="54.8" y2="390.73" stroke="#4634F0" stroke-width="0.7" opacity="0.75"/>
<line x1="53" y1="390.73" x2="56.6" y2="390.73" stroke="#4634F0" stroke-width="0.7" opacity="0.75"/>
<line x1="58.3" y1="390.73" x2="58.3" y2="386.7" stroke="#4634F0" stroke-width="0.7" opacity="0.75"/>
<line x1="56.5" y1="386.7" x2="60.1" y2="386.7" stroke="#4634F0" stroke-width="0.7" opacity="0.75"/>
<line x1="61.8" y1="390.73" x2="61.8" y2="387.71" stroke="#4634F0" stroke-width="0.7" opacity="0.75"/>
<line x1="60" y1="387.71" x2="63.6" y2="387.71" stroke="#4634F0" stroke-width="0.7" opacity="0.75"/>
<line x1="65.3" y1="383.68" x2="65.3" y2="379.65" stroke="#4634F0" stroke-width="0.7" opacity="0.75"/>
<line x1="63.5" y1="379.65" x2="67.1" y2="379.65" stroke="#4634F0" stroke-width="0.7" opacity="0.75"/>
<line x1="74.05" y1="385.69" x2="74.05" y2="382.67" stroke="#4634F0" stroke-width="0.7" opacity="0.75"/>
<line x1="72.25" y1="382.67" x2="75.85" y2="382.67" stroke="#4634F0" stroke-width="0.7" opacity="0.75"/>
<line x1="81.05" y1="376.62" x2="81.05" y2="372.59" stroke="#4634F0" stroke-width="0.7" opacity="0.75"/>
<line x1="79.25" y1="372.59" x2="82.85" y2="372.59" stroke="#4634F0" stroke-width="0.7" opacity="0.75"/>
<line x1="89.8" y1="378.64" x2="89.8" y2="373.6" stroke="#4634F0" stroke-width="0.7" opacity="0.75"/>
<line x1="88" y1="373.6" x2="91.6" y2="373.6" stroke="#4634F0" stroke-width="0.7" opacity="0.75"/>
<line x1="102.05" y1="385.69" x2="102.05" y2="378.64" stroke="#4634F0" stroke-width="0.7" opacity="0.75"/>
<line x1="100.25" y1="378.64" x2="103.85" y2="378.64" stroke="#4634F0" stroke-width="0.7" opacity="0.75"/>
<line x1="107.3" y1="393.75" x2="107.3" y2="382.67" stroke="#4634F0" stroke-width="0.7" opacity="0.75"/>
<line x1="105.5" y1="382.67" x2="109.1" y2="382.67" stroke="#4634F0" stroke-width="0.7" opacity="0.75"/>
<line x1="114.3" y1="396.77" x2="114.3" y2="390.73" stroke="#4634F0" stroke-width="0.7" opacity="0.75"/>
<line x1="112.5" y1="390.73" x2="116.1" y2="390.73" stroke="#4634F0" stroke-width="0.7" opacity="0.75"/>
<line x1="119.55" y1="404.83" x2="119.55" y2="398.79" stroke="#4634F0" stroke-width="0.7" opacity="0.75"/>
<line x1="117.75" y1="398.79" x2="121.35" y2="398.79" stroke="#4634F0" stroke-width="0.7" opacity="0.75"/>
<line x1="124.8" y1="408.87" x2="124.8" y2="400.81" stroke="#4634F0" stroke-width="0.7" opacity="0.75"/>
<line x1="123" y1="400.81" x2="126.6" y2="400.81" stroke="#4634F0" stroke-width="0.7" opacity="0.75"/>
<line x1="133.55" y1="412.89" x2="133.55" y2="396.77" stroke="#4634F0" stroke-width="0.7" opacity="0.75"/>
<line x1="131.75" y1="396.77" x2="135.35" y2="396.77" stroke="#4634F0" stroke-width="0.7" opacity="0.75"/>
<line x1="140.55" y1="412.89" x2="140.55" y2="404.83" stroke="#4634F0" stroke-width="0.7" opacity="0.75"/>
<line x1="138.75" y1="404.83" x2="142.35" y2="404.83" stroke="#4634F0" stroke-width="0.7" opacity="0.75"/>
<line x1="147.55" y1="405.84" x2="147.55" y2="400.81" stroke="#4634F0" stroke-width="0.7" opacity="0.75"/>
<line x1="145.75" y1="400.81" x2="149.35" y2="400.81" stroke="#4634F0" stroke-width="0.7" opacity="0.75"/>
<line x1="154.55" y1="408.87" x2="154.55" y2="404.83" stroke="#4634F0" stroke-width="0.7" opacity="0.75"/>
<line x1="152.75" y1="404.83" x2="156.35" y2="404.83" stroke="#4634F0" stroke-width="0.7" opacity="0.75"/>
<rect x="35" y="364.25" width="4.6" height="4.6" fill="#4634F0"/>
<rect x="38.5" y="384.4" width="4.6" height="4.6" fill="#4634F0"/>
<rect x="43.75" y="398.5" width="4.6" height="4.6" fill="#4634F0"/>
<rect x="49" y="404.55" width="4.6" height="4.6" fill="#4634F0"/>
<rect x="52.5" y="391.45" width="4.6" height="4.6" fill="#4634F0"/>
<rect x="56" y="388.43" width="4.6" height="4.6" fill="#4634F0"/>
<rect x="59.5" y="388.43" width="4.6" height="4.6" fill="#4634F0"/>
<rect x="63" y="381.38" width="4.6" height="4.6" fill="#4634F0"/>
<rect x="71.75" y="383.39" width="4.6" height="4.6" fill="#4634F0"/>
<rect x="78.75" y="374.32" width="4.6" height="4.6" fill="#4634F0"/>
<rect x="87.5" y="376.34" width="4.6" height="4.6" fill="#4634F0"/>
<rect x="99.75" y="383.39" width="4.6" height="4.6" fill="#4634F0"/>
<rect x="105" y="391.45" width="4.6" height="4.6" fill="#4634F0"/>
<rect x="112" y="394.47" width="4.6" height="4.6" fill="#4634F0"/>
<rect x="117.25" y="402.53" width="4.6" height="4.6" fill="#4634F0"/>
<rect x="122.5" y="406.56" width="4.6" height="4.6" fill="#4634F0"/>
<rect x="131.25" y="410.59" width="4.6" height="4.6" fill="#4634F0"/>
<rect x="138.25" y="410.59" width="4.6" height="4.6" fill="#4634F0"/>
<rect x="145.25" y="403.54" width="4.6" height="4.6" fill="#4634F0"/>
<rect x="152.25" y="406.56" width="4.6" height="4.6" fill="#4634F0"/>
<path d="M37.3 366.55 L40.8 386.7 L46.05 404.83 L51.3 403.83 L54.8 398.79 L58.3 388.71 L61.8 389.72 L65.3 382.67 L74.05 383.68 L81.05 382.67 L89.8 389.72 L102.05 392.75 L107.3 397.78 L114.3 402.82 L119.55 408.87 L124.8 408.87 L133.55 412.89 L140.55 405.84 L147.55 402.82 L154.55 409.87" fill="none" stroke="#5DB8F2" stroke-width="1.1"/>
<circle cx="37.3" cy="366.55" r="2.84" fill="#5DB8F2"/>
<circle cx="40.8" cy="386.7" r="2.84" fill="#5DB8F2"/>
<circle cx="46.05" cy="404.83" r="2.84" fill="#5DB8F2"/>
<circle cx="51.3" cy="403.83" r="2.84" fill="#5DB8F2"/>
<circle cx="54.8" cy="398.79" r="2.84" fill="#5DB8F2"/>
<circle cx="58.3" cy="388.71" r="2.84" fill="#5DB8F2"/>
<circle cx="61.8" cy="389.72" r="2.84" fill="#5DB8F2"/>
<circle cx="65.3" cy="382.67" r="2.84" fill="#5DB8F2"/>
<circle cx="74.05" cy="383.68" r="2.84" fill="#5DB8F2"/>
<circle cx="81.05" cy="382.67" r="2.84" fill="#5DB8F2"/>
<circle cx="89.8" cy="389.72" r="2.84" fill="#5DB8F2"/>
<circle cx="102.05" cy="392.75" r="2.84" fill="#5DB8F2"/>
<circle cx="107.3" cy="397.78" r="2.84" fill="#5DB8F2"/>
<circle cx="114.3" cy="402.82" r="2.84" fill="#5DB8F2"/>
<circle cx="119.55" cy="408.87" r="2.84" fill="#5DB8F2"/>
<circle cx="124.8" cy="408.87" r="2.84" fill="#5DB8F2"/>
<circle cx="133.55" cy="412.89" r="2.84" fill="#5DB8F2"/>
<circle cx="140.55" cy="405.84" r="2.84" fill="#5DB8F2"/>
<circle cx="147.55" cy="402.82" r="2.84" fill="#5DB8F2"/>
<circle cx="154.55" cy="409.87" r="2.84" fill="#5DB8F2"/>
<text x="14.6" y="385.2" font-size="8.9" text-anchor="middle" transform="rotate(-90 14.6 385.2)" stroke="#000" stroke-width="0.22">% Body Weight</text>
<text x="165.5" y="361" font-size="8.6" text-anchor="middle" stroke="#000" stroke-width="0.22">Rag2<tspan font-size="5.5" dy="-3">-/-</tspan><tspan dy="3">-BM+</tspan></text>
<text x="166" y="372.5" font-size="8.6" text-anchor="middle" stroke="#000" stroke-width="0.22">CD8<tspan font-size="5.5" dy="-3">+</tspan><tspan dy="3">T+</tspan></text>
<line x1="146" y1="374.6" x2="189.5" y2="374.6" stroke="#000" stroke-width="0.9"/>
<line x1="160.5" y1="387.7" x2="169.5" y2="387.7" stroke="#5DB8F2" stroke-width="0.9"/>
<circle cx="165" cy="387.7" r="2.7" fill="#5DB8F2"/>
<text x="173.2" y="390.9" font-size="8.8" stroke="#000" stroke-width="0.22">Tsm</text>
<line x1="160.5" y1="398.8" x2="169.5" y2="398.8" stroke="#4634F0" stroke-width="0.9"/>
<rect x="162.7" y="396.5" width="4.6" height="4.6" fill="#4634F0"/>
<text x="173.2" y="402" font-size="8.8" stroke="#000" stroke-width="0.22">Trmp</text>
<line x1="160.5" y1="412" x2="169.5" y2="412" stroke="#F0383C" stroke-width="0.9"/>
<path d="M165 409.4L167.5 413.9L162.5 413.9Z" fill="#F0383C"/>
<text x="173.2" y="415.2" font-size="8.8" stroke="#000" stroke-width="0.22">Trm</text>
<line x1="197" y1="384.7" x2="197" y2="412.3" stroke="#000" stroke-width="1.1"/>
<text x="200.6" y="395.4" font-size="7" text-anchor="middle" font-weight="bold">*</text>
<text x="200.6" y="399.6" font-size="7" text-anchor="middle" font-weight="bold">*</text>
<line x1="204.2" y1="397" x2="204.2" y2="413" stroke="#000" stroke-width="1.1"/>
<text x="206.8" y="408.2" font-size="7" text-anchor="middle" font-weight="bold">*</text>
<line x1="37.3" y1="446.6" x2="37.3" y2="526.9" stroke="#000" stroke-width="1.25"/>
<line x1="34" y1="526.9" x2="37.3" y2="526.9" stroke="#000" stroke-width="1.1"/>
<text x="32.3" y="530.2" font-size="9.4" text-anchor="end" stroke="#000" stroke-width="0.22">0</text>
<line x1="34" y1="510.84" x2="37.3" y2="510.84" stroke="#000" stroke-width="1.1"/>
<text x="32.3" y="514.14" font-size="9.4" text-anchor="end" stroke="#000" stroke-width="0.22">1</text>
<line x1="34" y1="494.78" x2="37.3" y2="494.78" stroke="#000" stroke-width="1.1"/>
<text x="32.3" y="498.08" font-size="9.4" text-anchor="end" stroke="#000" stroke-width="0.22">2</text>
<line x1="34" y1="478.72" x2="37.3" y2="478.72" stroke="#000" stroke-width="1.1"/>
<text x="32.3" y="482.02" font-size="9.4" text-anchor="end" stroke="#000" stroke-width="0.22">3</text>
<line x1="34" y1="462.66" x2="37.3" y2="462.66" stroke="#000" stroke-width="1.1"/>
<text x="32.3" y="465.96" font-size="9.4" text-anchor="end" stroke="#000" stroke-width="0.22">4</text>
<line x1="34" y1="446.6" x2="37.3" y2="446.6" stroke="#000" stroke-width="1.1"/>
<text x="32.3" y="449.9" font-size="9.4" text-anchor="end" stroke="#000" stroke-width="0.22">5</text>
<line x1="37.3" y1="526.9" x2="158.5" y2="526.9" stroke="#000" stroke-width="1.25"/>
<line x1="37.3" y1="526.9" x2="37.3" y2="529.9" stroke="#000" stroke-width="0.9"/>
<line x1="40.8" y1="526.9" x2="40.8" y2="529.1" stroke="#000" stroke-width="0.9"/>
<line x1="44.3" y1="526.9" x2="44.3" y2="529.1" stroke="#000" stroke-width="0.9"/>
<line x1="47.8" y1="526.9" x2="47.8" y2="529.1" stroke="#000" stroke-width="0.9"/>
<line x1="51.3" y1="526.9" x2="51.3" y2="529.1" stroke="#000" stroke-width="0.9"/>
<line x1="54.8" y1="526.9" x2="54.8" y2="529.1" stroke="#000" stroke-width="0.9"/>
<line x1="58.3" y1="526.9" x2="58.3" y2="529.1" stroke="#000" stroke-width="0.9"/>
<line x1="61.8" y1="526.9" x2="61.8" y2="529.1" stroke="#000" stroke-width="0.9"/>
<line x1="65.3" y1="526.9" x2="65.3" y2="529.1" stroke="#000" stroke-width="0.9"/>
<line x1="68.8" y1="526.9" x2="68.8" y2="529.1" stroke="#000" stroke-width="0.9"/>
<line x1="72.3" y1="526.9" x2="72.3" y2="529.9" stroke="#000" stroke-width="0.9"/>
<line x1="75.8" y1="526.9" x2="75.8" y2="529.1" stroke="#000" stroke-width="0.9"/>
<line x1="79.3" y1="526.9" x2="79.3" y2="529.1" stroke="#000" stroke-width="0.9"/>
<line x1="82.8" y1="526.9" x2="82.8" y2="529.1" stroke="#000" stroke-width="0.9"/>
<line x1="86.3" y1="526.9" x2="86.3" y2="529.1" stroke="#000" stroke-width="0.9"/>
<line x1="89.8" y1="526.9" x2="89.8" y2="529.1" stroke="#000" stroke-width="0.9"/>
<line x1="93.3" y1="526.9" x2="93.3" y2="529.1" stroke="#000" stroke-width="0.9"/>
<line x1="96.8" y1="526.9" x2="96.8" y2="529.1" stroke="#000" stroke-width="0.9"/>
<line x1="100.3" y1="526.9" x2="100.3" y2="529.1" stroke="#000" stroke-width="0.9"/>
<line x1="103.8" y1="526.9" x2="103.8" y2="529.1" stroke="#000" stroke-width="0.9"/>
<line x1="107.3" y1="526.9" x2="107.3" y2="529.9" stroke="#000" stroke-width="0.9"/>
<line x1="110.8" y1="526.9" x2="110.8" y2="529.1" stroke="#000" stroke-width="0.9"/>
<line x1="114.3" y1="526.9" x2="114.3" y2="529.1" stroke="#000" stroke-width="0.9"/>
<line x1="117.8" y1="526.9" x2="117.8" y2="529.1" stroke="#000" stroke-width="0.9"/>
<line x1="121.3" y1="526.9" x2="121.3" y2="529.1" stroke="#000" stroke-width="0.9"/>
<line x1="124.8" y1="526.9" x2="124.8" y2="529.1" stroke="#000" stroke-width="0.9"/>
<line x1="128.3" y1="526.9" x2="128.3" y2="529.1" stroke="#000" stroke-width="0.9"/>
<line x1="131.8" y1="526.9" x2="131.8" y2="529.1" stroke="#000" stroke-width="0.9"/>
<line x1="135.3" y1="526.9" x2="135.3" y2="529.1" stroke="#000" stroke-width="0.9"/>
<line x1="138.8" y1="526.9" x2="138.8" y2="529.1" stroke="#000" stroke-width="0.9"/>
<line x1="142.3" y1="526.9" x2="142.3" y2="529.9" stroke="#000" stroke-width="0.9"/>
<line x1="145.8" y1="526.9" x2="145.8" y2="529.1" stroke="#000" stroke-width="0.9"/>
<line x1="149.3" y1="526.9" x2="149.3" y2="529.1" stroke="#000" stroke-width="0.9"/>
<line x1="152.8" y1="526.9" x2="152.8" y2="529.1" stroke="#000" stroke-width="0.9"/>
<line x1="156.3" y1="526.9" x2="156.3" y2="529.1" stroke="#000" stroke-width="0.9"/>
<text x="37.3" y="538.8" font-size="9.4" text-anchor="middle" stroke="#000" stroke-width="0.22">0</text>
<text x="72.3" y="538.8" font-size="9.4" text-anchor="middle" stroke="#000" stroke-width="0.22">20</text>
<text x="107.3" y="538.8" font-size="9.4" text-anchor="middle" stroke="#000" stroke-width="0.22">40</text>
<text x="142.3" y="538.8" font-size="9.4" text-anchor="middle" stroke="#000" stroke-width="0.22">60</text>
<path d="M37.3 526.9 L40.8 514.86 L46.05 478.72 L51.3 477.92 L54.8 480.33 L58.3 481.13 L61.8 481.13 L65.3 506.02 L74.05 501.2 L81.05 504.42 L89.8 501.2 L102.05 487.55 L107.3 485.14 L114.3 484.34 L119.55 484.34 L124.8 482.74 L133.55 485.14 L140.55 485.14 L147.55 488.36 L154.55 485.14" fill="none" stroke="#F0383C" stroke-width="0.8"/>
<line x1="61.8" y1="481.13" x2="61.8" y2="478.72" stroke="#F0383C" stroke-width="0.7" opacity="0.75"/>
<line x1="60" y1="478.72" x2="63.6" y2="478.72" stroke="#F0383C" stroke-width="0.7" opacity="0.75"/>
<line x1="74.05" y1="501.2" x2="74.05" y2="497.19" stroke="#F0383C" stroke-width="0.7" opacity="0.75"/>
<line x1="72.25" y1="497.19" x2="75.85" y2="497.19" stroke="#F0383C" stroke-width="0.7" opacity="0.75"/>
<line x1="89.8" y1="501.2" x2="89.8" y2="496.39" stroke="#F0383C" stroke-width="0.7" opacity="0.75"/>
<line x1="88" y1="496.39" x2="91.6" y2="496.39" stroke="#F0383C" stroke-width="0.7" opacity="0.75"/>
<line x1="102.05" y1="487.55" x2="102.05" y2="484.34" stroke="#F0383C" stroke-width="0.7" opacity="0.75"/>
<line x1="100.25" y1="484.34" x2="103.85" y2="484.34" stroke="#F0383C" stroke-width="0.7" opacity="0.75"/>
<line x1="114.3" y1="484.34" x2="114.3" y2="481.13" stroke="#F0383C" stroke-width="0.7" opacity="0.75"/>
<line x1="112.5" y1="481.13" x2="116.1" y2="481.13" stroke="#F0383C" stroke-width="0.7" opacity="0.75"/>
<line x1="119.55" y1="484.34" x2="119.55" y2="480.33" stroke="#F0383C" stroke-width="0.7" opacity="0.75"/>
<line x1="117.75" y1="480.33" x2="121.35" y2="480.33" stroke="#F0383C" stroke-width="0.7" opacity="0.75"/>
<line x1="124.8" y1="482.74" x2="124.8" y2="481.13" stroke="#F0383C" stroke-width="0.7" opacity="0.75"/>
<line x1="123" y1="481.13" x2="126.6" y2="481.13" stroke="#F0383C" stroke-width="0.7" opacity="0.75"/>
<line x1="133.55" y1="485.14" x2="133.55" y2="481.93" stroke="#F0383C" stroke-width="0.7" opacity="0.75"/>
<line x1="131.75" y1="481.93" x2="135.35" y2="481.93" stroke="#F0383C" stroke-width="0.7" opacity="0.75"/>
<line x1="140.55" y1="485.14" x2="140.55" y2="482.74" stroke="#F0383C" stroke-width="0.7" opacity="0.75"/>
<line x1="138.75" y1="482.74" x2="142.35" y2="482.74" stroke="#F0383C" stroke-width="0.7" opacity="0.75"/>
<line x1="147.55" y1="488.36" x2="147.55" y2="485.14" stroke="#F0383C" stroke-width="0.7" opacity="0.75"/>
<line x1="145.75" y1="485.14" x2="149.35" y2="485.14" stroke="#F0383C" stroke-width="0.7" opacity="0.75"/>
<line x1="154.55" y1="485.14" x2="154.55" y2="482.74" stroke="#F0383C" stroke-width="0.7" opacity="0.75"/>
<line x1="152.75" y1="482.74" x2="156.35" y2="482.74" stroke="#F0383C" stroke-width="0.7" opacity="0.75"/>
<path d="M37.3 524.3L39.8 528.8L34.8 528.8Z" fill="#F0383C"/>
<path d="M40.8 512.25L43.3 516.75L38.3 516.75Z" fill="#F0383C"/>
<path d="M46.05 476.12L48.55 480.62L43.55 480.62Z" fill="#F0383C"/>
<path d="M51.3 475.32L53.8 479.82L48.8 479.82Z" fill="#F0383C"/>
<path d="M54.8 477.73L57.3 482.23L52.3 482.23Z" fill="#F0383C"/>
<path d="M58.3 478.53L60.8 483.03L55.8 483.03Z" fill="#F0383C"/>
<path d="M61.8 478.53L64.3 483.03L59.3 483.03Z" fill="#F0383C"/>
<path d="M65.3 503.42L67.8 507.92L62.8 507.92Z" fill="#F0383C"/>
<path d="M74.05 498.6L76.55 503.1L71.55 503.1Z" fill="#F0383C"/>
<path d="M81.05 501.82L83.55 506.32L78.55 506.32Z" fill="#F0383C"/>
<path d="M89.8 498.6L92.3 503.1L87.3 503.1Z" fill="#F0383C"/>
<path d="M102.05 484.95L104.55 489.45L99.55 489.45Z" fill="#F0383C"/>
<path d="M107.3 482.54L109.8 487.04L104.8 487.04Z" fill="#F0383C"/>
<path d="M114.3 481.74L116.8 486.24L111.8 486.24Z" fill="#F0383C"/>
<path d="M119.55 481.74L122.05 486.24L117.05 486.24Z" fill="#F0383C"/>
<path d="M124.8 480.13L127.3 484.63L122.3 484.63Z" fill="#F0383C"/>
<path d="M133.55 482.54L136.05 487.04L131.05 487.04Z" fill="#F0383C"/>
<path d="M140.55 482.54L143.05 487.04L138.05 487.04Z" fill="#F0383C"/>
<path d="M147.55 485.76L150.05 490.26L145.05 490.26Z" fill="#F0383C"/>
<path d="M154.55 482.54L157.05 487.04L152.05 487.04Z" fill="#F0383C"/>
<path d="M37.3 526.9 L40.8 518.87 L46.05 478.72 L51.3 478.72 L54.8 479.52 L58.3 483.54 L61.8 485.14 L65.3 506.02 L74.05 504.42 L81.05 500.4 L89.8 490.76 L102.05 486.75 L107.3 485.14 L114.3 478.72 L119.55 474.7 L124.8 470.69 L133.55 472.3 L140.55 472.3 L147.55 475.51 L154.55 467.48" fill="none" stroke="#5DB8F2" stroke-width="0.8"/>
<line x1="81.05" y1="500.4" x2="81.05" y2="495.58" stroke="#5DB8F2" stroke-width="0.7" opacity="0.75"/>
<line x1="79.25" y1="495.58" x2="82.85" y2="495.58" stroke="#5DB8F2" stroke-width="0.7" opacity="0.75"/>
<line x1="89.8" y1="490.76" x2="89.8" y2="486.75" stroke="#5DB8F2" stroke-width="0.7" opacity="0.75"/>
<line x1="88" y1="486.75" x2="91.6" y2="486.75" stroke="#5DB8F2" stroke-width="0.7" opacity="0.75"/>
<line x1="102.05" y1="486.75" x2="102.05" y2="481.93" stroke="#5DB8F2" stroke-width="0.7" opacity="0.75"/>
<line x1="100.25" y1="481.93" x2="103.85" y2="481.93" stroke="#5DB8F2" stroke-width="0.7" opacity="0.75"/>
<line x1="107.3" y1="485.14" x2="107.3" y2="477.11" stroke="#5DB8F2" stroke-width="0.7" opacity="0.75"/>
<line x1="105.5" y1="477.11" x2="109.1" y2="477.11" stroke="#5DB8F2" stroke-width="0.7" opacity="0.75"/>
<line x1="114.3" y1="478.72" x2="114.3" y2="473.9" stroke="#5DB8F2" stroke-width="0.7" opacity="0.75"/>
<line x1="112.5" y1="473.9" x2="116.1" y2="473.9" stroke="#5DB8F2" stroke-width="0.7" opacity="0.75"/>
<line x1="119.55" y1="474.7" x2="119.55" y2="469.08" stroke="#5DB8F2" stroke-width="0.7" opacity="0.75"/>
<line x1="117.75" y1="469.08" x2="121.35" y2="469.08" stroke="#5DB8F2" stroke-width="0.7" opacity="0.75"/>
<line x1="124.8" y1="470.69" x2="124.8" y2="466.68" stroke="#5DB8F2" stroke-width="0.7" opacity="0.75"/>
<line x1="123" y1="466.68" x2="126.6" y2="466.68" stroke="#5DB8F2" stroke-width="0.7" opacity="0.75"/>
<line x1="133.55" y1="472.3" x2="133.55" y2="469.08" stroke="#5DB8F2" stroke-width="0.7" opacity="0.75"/>
<line x1="131.75" y1="469.08" x2="135.35" y2="469.08" stroke="#5DB8F2" stroke-width="0.7" opacity="0.75"/>
<line x1="140.55" y1="472.3" x2="140.55" y2="469.08" stroke="#5DB8F2" stroke-width="0.7" opacity="0.75"/>
<line x1="138.75" y1="469.08" x2="142.35" y2="469.08" stroke="#5DB8F2" stroke-width="0.7" opacity="0.75"/>
<line x1="147.55" y1="475.51" x2="147.55" y2="470.69" stroke="#5DB8F2" stroke-width="0.7" opacity="0.75"/>
<line x1="145.75" y1="470.69" x2="149.35" y2="470.69" stroke="#5DB8F2" stroke-width="0.7" opacity="0.75"/>
<line x1="154.55" y1="467.48" x2="154.55" y2="464.27" stroke="#5DB8F2" stroke-width="0.7" opacity="0.75"/>
<line x1="152.75" y1="464.27" x2="156.35" y2="464.27" stroke="#5DB8F2" stroke-width="0.7" opacity="0.75"/>
<circle cx="37.3" cy="526.9" r="2.43" fill="#5DB8F2"/>
<circle cx="40.8" cy="518.87" r="2.43" fill="#5DB8F2"/>
<circle cx="46.05" cy="478.72" r="2.43" fill="#5DB8F2"/>
<circle cx="51.3" cy="478.72" r="2.43" fill="#5DB8F2"/>
<circle cx="54.8" cy="479.52" r="2.43" fill="#5DB8F2"/>
<circle cx="58.3" cy="483.54" r="2.43" fill="#5DB8F2"/>
<circle cx="61.8" cy="485.14" r="2.43" fill="#5DB8F2"/>
<circle cx="65.3" cy="506.02" r="2.43" fill="#5DB8F2"/>
<circle cx="74.05" cy="504.42" r="2.43" fill="#5DB8F2"/>
<circle cx="81.05" cy="500.4" r="2.43" fill="#5DB8F2"/>
<circle cx="89.8" cy="490.76" r="2.43" fill="#5DB8F2"/>
<circle cx="102.05" cy="486.75" r="2.43" fill="#5DB8F2"/>
<circle cx="107.3" cy="485.14" r="2.43" fill="#5DB8F2"/>
<circle cx="114.3" cy="478.72" r="2.43" fill="#5DB8F2"/>
<circle cx="119.55" cy="474.7" r="2.43" fill="#5DB8F2"/>
<circle cx="124.8" cy="470.69" r="2.43" fill="#5DB8F2"/>
<circle cx="133.55" cy="472.3" r="2.43" fill="#5DB8F2"/>
<circle cx="140.55" cy="472.3" r="2.43" fill="#5DB8F2"/>
<circle cx="147.55" cy="475.51" r="2.43" fill="#5DB8F2"/>
<circle cx="154.55" cy="467.48" r="2.43" fill="#5DB8F2"/>
<path d="M37.3 526.9 L40.8 520.48 L46.05 478.72 L51.3 473.9 L54.8 481.93 L58.3 486.75 L61.8 485.14 L65.3 504.42 L74.05 504.42 L81.05 506.02 L89.8 504.42 L102.05 494.78 L107.3 488.36 L114.3 480.33 L119.55 474.7 L124.8 470.69 L133.55 467.48 L140.55 469.08 L147.55 473.1 L154.55 468.28" fill="none" stroke="#4634F0" stroke-width="0.8"/>
<line x1="119.55" y1="474.7" x2="119.55" y2="469.08" stroke="#4634F0" stroke-width="0.7" opacity="0.75"/>
<line x1="117.75" y1="469.08" x2="121.35" y2="469.08" stroke="#4634F0" stroke-width="0.7" opacity="0.75"/>
<line x1="124.8" y1="470.69" x2="124.8" y2="461.05" stroke="#4634F0" stroke-width="0.7" opacity="0.75"/>
<line x1="123" y1="461.05" x2="126.6" y2="461.05" stroke="#4634F0" stroke-width="0.7" opacity="0.75"/>
<line x1="133.55" y1="467.48" x2="133.55" y2="459.45" stroke="#4634F0" stroke-width="0.7" opacity="0.75"/>
<line x1="131.75" y1="459.45" x2="135.35" y2="459.45" stroke="#4634F0" stroke-width="0.7" opacity="0.75"/>
<line x1="140.55" y1="469.08" x2="140.55" y2="460.25" stroke="#4634F0" stroke-width="0.7" opacity="0.75"/>
<line x1="138.75" y1="460.25" x2="142.35" y2="460.25" stroke="#4634F0" stroke-width="0.7" opacity="0.75"/>
<line x1="147.55" y1="473.1" x2="147.55" y2="466.68" stroke="#4634F0" stroke-width="0.7" opacity="0.75"/>
<line x1="145.75" y1="466.68" x2="149.35" y2="466.68" stroke="#4634F0" stroke-width="0.7" opacity="0.75"/>
<line x1="154.55" y1="468.28" x2="154.55" y2="464.27" stroke="#4634F0" stroke-width="0.7" opacity="0.75"/>
<line x1="152.75" y1="464.27" x2="156.35" y2="464.27" stroke="#4634F0" stroke-width="0.7" opacity="0.75"/>
<rect x="35" y="524.6" width="4.6" height="4.6" fill="#4634F0"/>
<rect x="38.5" y="518.18" width="4.6" height="4.6" fill="#4634F0"/>
<rect x="43.75" y="476.42" width="4.6" height="4.6" fill="#4634F0"/>
<rect x="49" y="471.6" width="4.6" height="4.6" fill="#4634F0"/>
<rect x="52.5" y="479.63" width="4.6" height="4.6" fill="#4634F0"/>
<rect x="56" y="484.45" width="4.6" height="4.6" fill="#4634F0"/>
<rect x="59.5" y="482.84" width="4.6" height="4.6" fill="#4634F0"/>
<rect x="63" y="502.12" width="4.6" height="4.6" fill="#4634F0"/>
<rect x="71.75" y="502.12" width="4.6" height="4.6" fill="#4634F0"/>
<rect x="78.75" y="503.72" width="4.6" height="4.6" fill="#4634F0"/>
<rect x="87.5" y="502.12" width="4.6" height="4.6" fill="#4634F0"/>
<rect x="99.75" y="492.48" width="4.6" height="4.6" fill="#4634F0"/>
<rect x="105" y="486.06" width="4.6" height="4.6" fill="#4634F0"/>
<rect x="112" y="478.03" width="4.6" height="4.6" fill="#4634F0"/>
<rect x="117.25" y="472.4" width="4.6" height="4.6" fill="#4634F0"/>
<rect x="122.5" y="468.39" width="4.6" height="4.6" fill="#4634F0"/>
<rect x="131.25" y="465.18" width="4.6" height="4.6" fill="#4634F0"/>
<rect x="138.25" y="466.78" width="4.6" height="4.6" fill="#4634F0"/>
<rect x="145.25" y="470.8" width="4.6" height="4.6" fill="#4634F0"/>
<rect x="152.25" y="465.98" width="4.6" height="4.6" fill="#4634F0"/>
<text x="20.7" y="487.6" font-size="9.2" text-anchor="middle" transform="rotate(-90 20.7 487.6)" stroke="#000" stroke-width="0.22">Clinical GVHD score</text>
<line x1="160.5" y1="466.5" x2="169.5" y2="466.5" stroke="#5DB8F2" stroke-width="0.9"/>
<circle cx="165" cy="466.5" r="2.7" fill="#5DB8F2"/>
<text x="173.2" y="469.7" font-size="8.8" stroke="#000" stroke-width="0.22">Tsm</text>
<line x1="160.5" y1="478.3" x2="169.5" y2="478.3" stroke="#4634F0" stroke-width="0.9"/>
<rect x="162.7" y="476" width="4.6" height="4.6" fill="#4634F0"/>
<text x="173.2" y="481.5" font-size="8.8" stroke="#000" stroke-width="0.22">Trmp</text>
<line x1="160.5" y1="490.5" x2="169.5" y2="490.5" stroke="#F0383C" stroke-width="0.9"/>
<path d="M165 487.9L167.5 492.4L162.5 492.4Z" fill="#F0383C"/>
<text x="173.2" y="493.7" font-size="8.8" stroke="#000" stroke-width="0.22">Trm</text>
<line x1="196.7" y1="464.2" x2="196.7" y2="493.3" stroke="#000" stroke-width="1.1"/>
<text x="200.9" y="481.5" font-size="7" text-anchor="middle" font-weight="bold">*</text>
<text x="98" y="548.3" font-size="8.9" text-anchor="middle" stroke="#000" stroke-width="0.22">Days after HCT</text>
<text x="210.4" y="339.6" font-size="19.5" font-weight="bold">f</text>
<text x="265.6" y="333" font-size="8.8" text-anchor="middle" stroke="#000" stroke-width="0.22">Tsm</text>
<text x="343.6" y="333" font-size="8.8" text-anchor="middle" stroke="#000" stroke-width="0.22">Trmp</text>
<text x="421.5" y="333" font-size="8.8" text-anchor="middle" stroke="#000" stroke-width="0.22">Trm</text>
<text x="222.6" y="367" font-size="8.8" text-anchor="middle" transform="rotate(-90 222.6 367)" stroke="#000" stroke-width="0.22">Liver</text>
<text x="222.6" y="429.5" font-size="8.8" text-anchor="middle" transform="rotate(-90 222.6 429.5)" stroke="#000" stroke-width="0.22">Lung</text>
<g clip-path="url(#hc1)">
<rect x="227.2" y="336.4" width="76.7" height="61" filter="url(#tLivA)"/>
<g clip-path="url(#hc2)"><rect x="254" y="358" width="22" height="27" filter="url(#tGrey)"/></g>
<path d="M257 366 C258 362 263 360 267.5 361 C272 362.5 274 367.5 273 373 C272 378.5 269 382.5 264 382.5 C259 382 256 378.5 256 373 C256 370 256.3 368 257 366Z" fill="none" stroke="#4A3A6A" stroke-width="0.8" opacity="0.7"/>
<path d="M268.5 367 C272 369 273 376 270 382.5 C268 383.5 266.5 382 267 379 C268.5 375 268.5 371 268.5 367Z" fill="#8E1420"/>
<ellipse cx="230.7" cy="358.2" rx="3.6" ry="5.2" fill="#5560C0" filter="url(#blur05)"/>
<ellipse cx="230.2" cy="357.8" rx="1.8" ry="3.2" fill="#6A1020"/>
<ellipse cx="254" cy="389.3" rx="3.6" ry="3" fill="#A8A8D8" filter="url(#blur05)"/>
<path d="M298 379 L304 377.5 L304 381.5 L300 381 Z" fill="#F4F0F4"/>
<circle cx="272.5" cy="393.2" r="1" fill="#301018"/>
<circle cx="231.2" cy="346.5" r="1.2" fill="#E8C8D0"/>
</g>
<g clip-path="url(#hc3)">
<rect x="305.4" y="336.4" width="76.4" height="61" filter="url(#tLivB)"/>
<ellipse cx="339.3" cy="377.9" rx="9.8" ry="3.3" fill="#5A58C8" transform="rotate(-45 339.3 377.9)"/>
<ellipse cx="339.3" cy="377.9" rx="8.8" ry="2.5" fill="#F2D0C8" transform="rotate(-45 339.3 377.9)"/>
<ellipse cx="345.6" cy="366.2" rx="3.6" ry="3.6" fill="#7A68A8" filter="url(#blur05)"/>
<ellipse cx="358.9" cy="357.5" rx="10.5" ry="3.9" fill="#6A62B0" transform="rotate(-46 358.9 357.5)"/>
<ellipse cx="358" cy="358.3" rx="8.2" ry="2.8" fill="#9A1620" transform="rotate(-52 358 358.3)"/>
<circle cx="314" cy="369.6" r="2" fill="#F2E8EE" stroke="#8080C0" stroke-width="0.5"/>
<circle cx="326" cy="357.5" r="0.9" fill="#5050A0"/>
<circle cx="354" cy="338.8" r="1" fill="#E0E0F0"/>
</g>
<g clip-path="url(#hc4)">
<rect x="383.3" y="336.4" width="76.8" height="61" filter="url(#tLivC)"/>
<path d="M410.5 371.5 C412 364 416 359.5 420 359.5 C425 359.5 428.8 365 428.8 370 C428.8 374.5 424 375.8 419 375.5 C414.5 375.3 410 374.5 410.5 371.5Z" fill="#FFFFFF" stroke="#6A5AA8" stroke-width="0.9"/>
<path d="M415.2 364 C418 362 423 361.5 425 364.5 C424 367 421.5 369 419 368.5 C417 368.2 415.8 366 415.2 364Z" fill="#B81E22"/>
<ellipse cx="426" cy="353.6" rx="1.8" ry="3.3" fill="#FFFFFF" stroke="#6A5AA8" stroke-width="0.8" transform="rotate(25 426 353.6)"/>
<ellipse cx="402.6" cy="371.7" rx="3.8" ry="2.2" fill="#FFFFFF" stroke="#8070B0" stroke-width="0.5"/>
<path d="M406 370.5 L411 370 L411 373 L406 373Z" fill="#D8D0E8"/>
<path d="M426.5 374 L429.5 377.5 L427 378 Z" fill="#6A5AA8"/>
<circle cx="388.8" cy="346.5" r="1.6" fill="#F4F0F4"/>
<ellipse cx="457.5" cy="350.5" rx="2.6" ry="6.2" fill="#6A60B8"/>
<ellipse cx="457.8" cy="350.5" rx="1.5" ry="4" fill="#A81C24"/>
</g>
<g clip-path="url(#hc5)">
<rect x="227.2" y="399.1" width="76.7" height="61.1" filter="url(#tLungA)"/>
<g clip-path="url(#hc6)"><rect x="243" y="398" width="38" height="64" filter="url(#tGreyL)"/></g>
<g clip-path="url(#hc7)"><rect x="243" y="398" width="38" height="64" filter="url(#tBlueF)"/></g>
<path d="M249 421 C254 417 259 414 262 411 C264 408 265 405 267 403" fill="none" stroke="#4A2050" stroke-width="2.8" stroke-linecap="round" opacity="0.75"/>
<path d="M249 421 C254 417 259 414 262 411 C264 408 265 405 267 403" fill="none" stroke="#F0BCA8" stroke-width="1.4" stroke-linecap="round"/>
<path d="M256 424 C262 426 268 428 272 431 C275 433 278 434 280 434" fill="none" stroke="#4A2050" stroke-width="2.8" stroke-linecap="round" opacity="0.75"/>
<path d="M256 424 C262 426 268 428 272 431 C275 433 278 434 280 434" fill="none" stroke="#F0BCA8" stroke-width="1.4" stroke-linecap="round"/>
<path d="M258 425 C255 432 252 440 251 450" fill="none" stroke="#4A2050" stroke-width="2.8" stroke-linecap="round" opacity="0.75"/>
<path d="M258 425 C255 432 252 440 251 450" fill="none" stroke="#F0BCA8" stroke-width="1.4" stroke-linecap="round"/>
<path d="M258 448 C261 449 265 449 268 450" fill="none" stroke="#4A2050" stroke-width="2.8" stroke-linecap="round" opacity="0.75"/>
<path d="M258 448 C261 449 265 449 268 450" fill="none" stroke="#F0BCA8" stroke-width="1.4" stroke-linecap="round"/>
<path d="M262 416 C260 420 259 423 258 425" fill="none" stroke="#4A2050" stroke-width="2.8" stroke-linecap="round" opacity="0.75"/>
<path d="M262 416 C260 420 259 423 258 425" fill="none" stroke="#F0BCA8" stroke-width="1.4" stroke-linecap="round"/>
<circle cx="270.4" cy="418.6" r="3.3" fill="#A8101C"/>
<circle cx="265" cy="405.6" r="2.4" fill="#A01020"/>
<ellipse cx="303" cy="425" rx="1.6" ry="4.5" fill="#6A0A18"/>
</g>
<g clip-path="url(#hc8)">
<rect x="305.4" y="399.1" width="76.4" height="61.1" filter="url(#tLungB)"/>
<g clip-path="url(#lbHoleClip)">
<rect x="305.4" y="399.1" width="76.4" height="61.1" filter="url(#hLungB)"/>
</g>
<ellipse cx="347.5" cy="433.5" rx="7.5" ry="6" fill="#4A40C8" opacity="0.85" filter="url(#blur1)"/>
<ellipse cx="353.6" cy="425" rx="7.8" ry="3.8" fill="#FFFFFF" stroke="#1A0A10" stroke-width="1.3"/>
<ellipse cx="338.2" cy="431.2" rx="4.6" ry="3.2" fill="#FFFFFF" stroke="#1A0A10" stroke-width="1.3" transform="rotate(-30 338.2 431.2)"/>
<ellipse cx="341" cy="436" rx="2.6" ry="1.6" fill="#FFFFFF" stroke="#1A0A10" stroke-width="0.8"/>
<circle cx="348.5" cy="434.5" r="1.5" fill="#D01020"/>
<ellipse cx="314.5" cy="437.9" rx="1.8" ry="1.4" fill="#10081A"/>
<circle cx="372.9" cy="408.8" r="2.3" fill="#50101A"/>
<circle cx="343.7" cy="408.7" r="1.8" fill="#60101C"/>
<circle cx="331" cy="403.5" r="1.5" fill="#FFFFFF"/>
</g>
<g clip-path="url(#hc9)">
<rect x="383.3" y="399.1" width="76.8" height="61.1" filter="url(#tLungC)"/>
<rect x="383.3" y="399.1" width="76.8" height="61.1" filter="url(#hLungC)"/>
<rect x="383.3" y="399.1" width="76.8" height="61.1" filter="url(#hLungC2)"/>
<path d="M392 422 C395 430 398 438 401 447 L404 446 C401 437 398 429 395 421Z" fill="#4650C8" opacity="0.9"/>
<ellipse cx="424.6" cy="418.3" rx="4.5" ry="2.6" fill="#4A50C0" opacity="0.85"/>
<ellipse cx="428.4" cy="427.1" rx="8.2" ry="4.1" fill="#FFFFFF" stroke="#1A0A10" stroke-width="1.1"/>
<path d="M416 433.5 C420 432.5 426 432.5 430 433 C429 436 427 439 425 441.5 C422 440 418 437 416 433.5Z" fill="#FFFFFF" stroke="#1A0A10" stroke-width="0.9"/>
<ellipse cx="442.6" cy="435" rx="4.4" ry="2.6" fill="#FFFFFF" stroke="#1A0A10" stroke-width="1.1" transform="rotate(20 442.6 435)"/>
</g>
<line x1="247.6" y1="480.4" x2="247.6" y2="550.9" stroke="#000" stroke-width="1.2"/>
<line x1="245.1" y1="550.9" x2="247.6" y2="550.9" stroke="#000" stroke-width="1.2"/>
<text x="244.4" y="554" font-size="8.8" text-anchor="end" stroke="#000" stroke-width="0.22">0</text>
<line x1="245.1" y1="533.27" x2="247.6" y2="533.27" stroke="#000" stroke-width="1.2"/>
<text x="244.4" y="536.38" font-size="8.8" text-anchor="end" stroke="#000" stroke-width="0.22">2</text>
<line x1="245.1" y1="515.65" x2="247.6" y2="515.65" stroke="#000" stroke-width="1.2"/>
<text x="244.4" y="518.75" font-size="8.8" text-anchor="end" stroke="#000" stroke-width="0.22">4</text>
<line x1="245.1" y1="498.02" x2="247.6" y2="498.02" stroke="#000" stroke-width="1.2"/>
<text x="244.4" y="501.12" font-size="8.8" text-anchor="end" stroke="#000" stroke-width="0.22">6</text>
<line x1="245.1" y1="480.4" x2="247.6" y2="480.4" stroke="#000" stroke-width="1.2"/>
<text x="244.4" y="483.5" font-size="8.8" text-anchor="end" stroke="#000" stroke-width="0.22">8</text>
<line x1="247.6" y1="550.9" x2="318" y2="550.9" stroke="#000" stroke-width="1.2"/>
<rect x="254.5" y="502.43" width="13.2" height="48.47" fill="#62D0F2" stroke="#000" stroke-width="0.9"/>
<line x1="261.1" y1="502.43" x2="261.1" y2="499.79" stroke="#000" stroke-width="1"/>
<line x1="257.9" y1="499.79" x2="264.3" y2="499.79" stroke="#000" stroke-width="1"/>
<line x1="261.1" y1="550.9" x2="261.1" y2="553.4" stroke="#000" stroke-width="1.2"/>
<circle cx="256.9" cy="498.02" r="2.5" fill="#fff" stroke="#000" stroke-width="1.1"/>
<circle cx="265.3" cy="498.02" r="2.5" fill="#fff" stroke="#000" stroke-width="1.1"/>
<circle cx="256.9" cy="506.84" r="2.5" fill="#fff" stroke="#000" stroke-width="1.1"/>
<circle cx="265.3" cy="506.84" r="2.5" fill="#fff" stroke="#000" stroke-width="1.1"/>
<rect x="275.4" y="513.89" width="13.6" height="37.01" fill="#4630F4" stroke="#000" stroke-width="0.9"/>
<line x1="282.2" y1="513.89" x2="282.2" y2="509.48" stroke="#000" stroke-width="1"/>
<line x1="279" y1="509.48" x2="285.4" y2="509.48" stroke="#000" stroke-width="1"/>
<line x1="282.2" y1="550.9" x2="282.2" y2="553.4" stroke="#000" stroke-width="1.2"/>
<circle cx="278" cy="506.84" r="2.5" fill="#fff" stroke="#000" stroke-width="1.1"/>
<circle cx="286.4" cy="506.84" r="2.5" fill="#fff" stroke="#000" stroke-width="1.1"/>
<circle cx="282.2" cy="515.65" r="2.5" fill="#fff" stroke="#000" stroke-width="1.1"/>
<circle cx="282.2" cy="524.46" r="2.5" fill="#fff" stroke="#000" stroke-width="1.1"/>
<rect x="296.8" y="529.75" width="13.2" height="21.15" fill="#FA3B40" stroke="#000" stroke-width="0.9"/>
<line x1="303.4" y1="529.75" x2="303.4" y2="527.11" stroke="#000" stroke-width="1"/>
<line x1="300.2" y1="527.11" x2="306.6" y2="527.11" stroke="#000" stroke-width="1"/>
<line x1="303.4" y1="550.9" x2="303.4" y2="553.4" stroke="#000" stroke-width="1.2"/>
<circle cx="299.2" cy="524.46" r="2.5" fill="#fff" stroke="#000" stroke-width="1.1"/>
<circle cx="307.6" cy="524.46" r="2.5" fill="#fff" stroke="#000" stroke-width="1.1"/>
<circle cx="299.2" cy="533.27" r="2.5" fill="#fff" stroke="#000" stroke-width="1.1"/>
<circle cx="307.6" cy="533.27" r="2.5" fill="#fff" stroke="#000" stroke-width="1.1"/>
<line x1="261" y1="482.3" x2="306.7" y2="482.3" stroke="#000" stroke-width="1.1"/>
<text x="283.85" y="484.4" font-size="12.3" text-anchor="middle" font-weight="bold">***</text>
<line x1="261" y1="492.3" x2="282.6" y2="492.3" stroke="#000" stroke-width="1.1"/>
<text x="271.8" y="494.4" font-size="12.3" text-anchor="middle" font-weight="bold">*</text>
<line x1="284.6" y1="492.3" x2="306.7" y2="492.3" stroke="#000" stroke-width="1.1"/>
<text x="295.65" y="494.4" font-size="12.3" text-anchor="middle" font-weight="bold">*</text>
<text x="261.1" y="561.5" font-size="9.3" text-anchor="middle" stroke="#000" stroke-width="0.22">Tsm</text>
<text x="282.2" y="561.5" font-size="9.3" text-anchor="middle" stroke="#000" stroke-width="0.22">Trmp</text>
<text x="303.4" y="561.5" font-size="9.3" text-anchor="middle" stroke="#000" stroke-width="0.22">Trm</text>
<text x="231.3" y="516.3" font-size="8.8" text-anchor="middle" transform="rotate(-90 231.3 516.3)" stroke="#000" stroke-width="0.22">Liver Pathology Score</text>
<line x1="353.3" y1="480.4" x2="353.3" y2="550.5" stroke="#000" stroke-width="1.2"/>
<line x1="350.8" y1="550.5" x2="353.3" y2="550.5" stroke="#000" stroke-width="1.2"/>
<text x="350.1" y="553.6" font-size="8.8" text-anchor="end" stroke="#000" stroke-width="0.22">0</text>
<line x1="350.8" y1="536.48" x2="353.3" y2="536.48" stroke="#000" stroke-width="1.2"/>
<text x="350.1" y="539.58" font-size="8.8" text-anchor="end" stroke="#000" stroke-width="0.22">2</text>
<line x1="350.8" y1="522.46" x2="353.3" y2="522.46" stroke="#000" stroke-width="1.2"/>
<text x="350.1" y="525.56" font-size="8.8" text-anchor="end" stroke="#000" stroke-width="0.22">4</text>
<line x1="350.8" y1="508.44" x2="353.3" y2="508.44" stroke="#000" stroke-width="1.2"/>
<text x="350.1" y="511.54" font-size="8.8" text-anchor="end" stroke="#000" stroke-width="0.22">6</text>
<line x1="350.8" y1="494.42" x2="353.3" y2="494.42" stroke="#000" stroke-width="1.2"/>
<text x="350.1" y="497.52" font-size="8.8" text-anchor="end" stroke="#000" stroke-width="0.22">8</text>
<line x1="350.8" y1="480.4" x2="353.3" y2="480.4" stroke="#000" stroke-width="1.2"/>
<text x="350.1" y="483.5" font-size="8.8" text-anchor="end" stroke="#000" stroke-width="0.22">10</text>
<line x1="353.3" y1="550.5" x2="422.9" y2="550.5" stroke="#000" stroke-width="1.2"/>
<rect x="360.1" y="497.22" width="13.7" height="53.28" fill="#62D0F2" stroke="#000" stroke-width="0.9"/>
<line x1="366.95" y1="497.22" x2="366.95" y2="493.72" stroke="#000" stroke-width="1"/>
<line x1="363.75" y1="493.72" x2="370.15" y2="493.72" stroke="#000" stroke-width="1"/>
<line x1="366.95" y1="550.5" x2="366.95" y2="553" stroke="#000" stroke-width="1.2"/>
<circle cx="366.95" cy="487.41" r="2.5" fill="#fff" stroke="#000" stroke-width="1.1"/>
<circle cx="366.95" cy="494.42" r="2.5" fill="#fff" stroke="#000" stroke-width="1.1"/>
<circle cx="362.55" cy="501.43" r="2.5" fill="#fff" stroke="#000" stroke-width="1.1"/>
<circle cx="371.35" cy="501.43" r="2.5" fill="#fff" stroke="#000" stroke-width="1.1"/>
<rect x="381.2" y="509.84" width="13.6" height="40.66" fill="#4630F4" stroke="#000" stroke-width="0.9"/>
<line x1="388" y1="509.84" x2="388" y2="507.04" stroke="#000" stroke-width="1"/>
<line x1="384.8" y1="507.04" x2="391.2" y2="507.04" stroke="#000" stroke-width="1"/>
<line x1="388" y1="550.5" x2="388" y2="553" stroke="#000" stroke-width="1.2"/>
<circle cx="388" cy="501.43" r="2.5" fill="#fff" stroke="#000" stroke-width="1.1"/>
<circle cx="383.4" cy="508.44" r="2.5" fill="#fff" stroke="#000" stroke-width="1.1"/>
<circle cx="392.6" cy="508.44" r="2.5" fill="#fff" stroke="#000" stroke-width="1.1"/>
<circle cx="388" cy="515.45" r="2.5" fill="#fff" stroke="#000" stroke-width="1.1"/>
<rect x="402.4" y="532.27" width="13.4" height="18.23" fill="#FA3B40" stroke="#000" stroke-width="0.9"/>
<line x1="409.1" y1="532.27" x2="409.1" y2="528.77" stroke="#000" stroke-width="1"/>
<line x1="405.9" y1="528.77" x2="412.3" y2="528.77" stroke="#000" stroke-width="1"/>
<line x1="409.1" y1="550.5" x2="409.1" y2="553" stroke="#000" stroke-width="1.2"/>
<circle cx="409.1" cy="522.46" r="2.5" fill="#fff" stroke="#000" stroke-width="1.1"/>
<circle cx="409.1" cy="529.47" r="2.5" fill="#fff" stroke="#000" stroke-width="1.1"/>
<circle cx="404.7" cy="536.48" r="2.5" fill="#fff" stroke="#000" stroke-width="1.1"/>
<circle cx="413.5" cy="536.48" r="2.5" fill="#fff" stroke="#000" stroke-width="1.1"/>
<line x1="367.7" y1="472.9" x2="412.7" y2="472.9" stroke="#000" stroke-width="1.1"/>
<text x="390.2" y="475" font-size="12.3" text-anchor="middle" font-weight="bold">****</text>
<line x1="367.7" y1="482.2" x2="389.2" y2="482.2" stroke="#000" stroke-width="1.1"/>
<text x="378.45" y="484.3" font-size="12.3" text-anchor="middle" font-weight="bold">*</text>
<line x1="391" y1="482.2" x2="412.7" y2="482.2" stroke="#000" stroke-width="1.1"/>
<text x="401.85" y="484.3" font-size="12.3" text-anchor="middle" font-weight="bold">**</text>
<text x="366.95" y="561.5" font-size="9.3" text-anchor="middle" stroke="#000" stroke-width="0.22">Tsm</text>
<text x="388" y="561.5" font-size="9.3" text-anchor="middle" stroke="#000" stroke-width="0.22">Trmp</text>
<text x="409.1" y="561.5" font-size="9.3" text-anchor="middle" stroke="#000" stroke-width="0.22">Trm</text>
<text x="334.2" y="512" font-size="8.8" text-anchor="middle" transform="rotate(-90 334.2 512)" stroke="#000" stroke-width="0.22">Lung Pathology Score</text>
<text x="470.4" y="336.1" font-size="19.5" font-weight="bold">g</text>
<line x1="508.5" y1="340.9" x2="508.5" y2="426.9" stroke="#000" stroke-width="1.2"/>
<line x1="506" y1="426.9" x2="508.5" y2="426.9" stroke="#000" stroke-width="1.2"/>
<text x="505.5" y="430" font-size="8.6" text-anchor="end" stroke="#000" stroke-width="0.22">0</text>
<line x1="506" y1="405.4" x2="508.5" y2="405.4" stroke="#000" stroke-width="1.2"/>
<text x="505.5" y="408.5" font-size="8.6" text-anchor="end" stroke="#000" stroke-width="0.22">20</text>
<line x1="506" y1="383.9" x2="508.5" y2="383.9" stroke="#000" stroke-width="1.2"/>
<text x="505.5" y="387" font-size="8.6" text-anchor="end" stroke="#000" stroke-width="0.22">40</text>
<line x1="506" y1="362.4" x2="508.5" y2="362.4" stroke="#000" stroke-width="1.2"/>
<text x="505.5" y="365.5" font-size="8.6" text-anchor="end" stroke="#000" stroke-width="0.22">60</text>
<line x1="506" y1="340.9" x2="508.5" y2="340.9" stroke="#000" stroke-width="1.2"/>
<text x="505.5" y="344" font-size="8.6" text-anchor="end" stroke="#000" stroke-width="0.22">80</text>
<line x1="508.5" y1="426.9" x2="637.5" y2="426.9" stroke="#000" stroke-width="1.2"/>
<rect x="513.3" y="417.76" width="8.8" height="9.14" fill="#66D2F4" stroke="#000" stroke-width="0.9"/>
<line x1="517.7" y1="417.76" x2="517.7" y2="415.61" stroke="#000" stroke-width="0.9"/>
<line x1="515.2" y1="415.61" x2="520.2" y2="415.61" stroke="#000" stroke-width="0.9"/>
<circle cx="515.2" cy="410.77" r="1.9" fill="#fff" stroke="#000" stroke-width="0.9"/>
<circle cx="520.2" cy="416.15" r="1.9" fill="#fff" stroke="#000" stroke-width="0.9"/>
<circle cx="514.7" cy="418.3" r="1.9" fill="#fff" stroke="#000" stroke-width="0.9"/>
<circle cx="520.7" cy="421.52" r="1.9" fill="#fff" stroke="#000" stroke-width="0.9"/>
<circle cx="517.7" cy="417.22" r="1.9" fill="#fff" stroke="#000" stroke-width="0.9"/>
<circle cx="514.2" cy="422.6" r="1.9" fill="#fff" stroke="#000" stroke-width="0.9"/>
<rect x="524.6" y="424.75" width="8.8" height="2.15" fill="#4A2CF8" stroke="#000" stroke-width="0.9"/>
<line x1="529" y1="424.75" x2="529" y2="422.6" stroke="#000" stroke-width="0.9"/>
<line x1="526.5" y1="422.6" x2="531.5" y2="422.6" stroke="#000" stroke-width="0.9"/>
<rect x="524.7" y="416.5" width="3.6" height="3.6" fill="#fff" stroke="#000" stroke-width="0.9"/>
<rect x="529.2" y="420.8" width="3.6" height="3.6" fill="#fff" stroke="#000" stroke-width="0.9"/>
<rect x="524.2" y="422.95" width="3.6" height="3.6" fill="#fff" stroke="#000" stroke-width="0.9"/>
<rect x="528.2" y="424.02" width="3.6" height="3.6" fill="#fff" stroke="#000" stroke-width="0.9"/>
<rect x="530.2" y="424.56" width="3.6" height="3.6" fill="#fff" stroke="#000" stroke-width="0.9"/>
<circle cx="537.3" cy="426.9" r="1.9" fill="#fff" stroke="#000" stroke-width="0.9"/>
<circle cx="540.3" cy="426.9" r="1.9" fill="#fff" stroke="#000" stroke-width="0.9"/>
<circle cx="543.3" cy="426.9" r="1.9" fill="#fff" stroke="#000" stroke-width="0.9"/>
<line x1="529" y1="426.9" x2="529" y2="429.4" stroke="#000" stroke-width="1.2"/>
<rect x="557.3" y="402.17" width="8.8" height="24.72" fill="#66D2F4" stroke="#000" stroke-width="0.9"/>
<line x1="561.7" y1="402.17" x2="561.7" y2="396.26" stroke="#000" stroke-width="0.9"/>
<line x1="559.2" y1="396.26" x2="564.2" y2="396.26" stroke="#000" stroke-width="0.9"/>
<circle cx="559.2" cy="387.12" r="1.9" fill="#fff" stroke="#000" stroke-width="0.9"/>
<circle cx="564.2" cy="389.27" r="1.9" fill="#fff" stroke="#000" stroke-width="0.9"/>
<circle cx="558.7" cy="409.7" r="1.9" fill="#fff" stroke="#000" stroke-width="0.9"/>
<circle cx="561.7" cy="410.77" r="1.9" fill="#fff" stroke="#000" stroke-width="0.9"/>
<circle cx="564.7" cy="409.7" r="1.9" fill="#fff" stroke="#000" stroke-width="0.9"/>
<circle cx="560.7" cy="402.17" r="1.9" fill="#fff" stroke="#000" stroke-width="0.9"/>
<rect x="568.6" y="421.52" width="8.8" height="5.38" fill="#4A2CF8" stroke="#000" stroke-width="0.9"/>
<line x1="573" y1="421.52" x2="573" y2="416.69" stroke="#000" stroke-width="0.9"/>
<line x1="570.5" y1="416.69" x2="575.5" y2="416.69" stroke="#000" stroke-width="0.9"/>
<rect x="569.2" y="400.37" width="3.6" height="3.6" fill="#fff" stroke="#000" stroke-width="0.9"/>
<rect x="573.2" y="419.72" width="3.6" height="3.6" fill="#fff" stroke="#000" stroke-width="0.9"/>
<rect x="568.2" y="421.87" width="3.6" height="3.6" fill="#fff" stroke="#000" stroke-width="0.9"/>
<rect x="574.2" y="421.87" width="3.6" height="3.6" fill="#fff" stroke="#000" stroke-width="0.9"/>
<rect x="579.9" y="426.58" width="8.8" height="0.32" fill="#F0383C" stroke="#000" stroke-width="0.9"/>
<circle cx="581.3" cy="426.9" r="1.9" fill="#fff" stroke="#000" stroke-width="0.9"/>
<circle cx="584.3" cy="426.9" r="1.9" fill="#fff" stroke="#000" stroke-width="0.9"/>
<circle cx="587.3" cy="426.9" r="1.9" fill="#fff" stroke="#000" stroke-width="0.9"/>
<line x1="573" y1="426.9" x2="573" y2="429.4" stroke="#000" stroke-width="1.2"/>
<rect x="601" y="375.3" width="8.8" height="51.6" fill="#66D2F4" stroke="#000" stroke-width="0.9"/>
<line x1="605.4" y1="375.3" x2="605.4" y2="367.77" stroke="#000" stroke-width="0.9"/>
<line x1="602.9" y1="367.77" x2="607.9" y2="367.77" stroke="#000" stroke-width="0.9"/>
<circle cx="604.4" cy="351.65" r="1.9" fill="#fff" stroke="#000" stroke-width="0.9"/>
<circle cx="604.4" cy="367.77" r="1.9" fill="#fff" stroke="#000" stroke-width="0.9"/>
<circle cx="602.4" cy="381.75" r="1.9" fill="#fff" stroke="#000" stroke-width="0.9"/>
<circle cx="608.4" cy="386.05" r="1.9" fill="#fff" stroke="#000" stroke-width="0.9"/>
<circle cx="602.9" cy="386.05" r="1.9" fill="#fff" stroke="#000" stroke-width="0.9"/>
<circle cx="607.4" cy="377.45" r="1.9" fill="#fff" stroke="#000" stroke-width="0.9"/>
<rect x="612.3" y="412.92" width="8.8" height="13.97" fill="#4A2CF8" stroke="#000" stroke-width="0.9"/>
<line x1="616.7" y1="412.92" x2="616.7" y2="409.7" stroke="#000" stroke-width="0.9"/>
<line x1="614.2" y1="409.7" x2="619.2" y2="409.7" stroke="#000" stroke-width="0.9"/>
<rect x="613.9" y="392.85" width="3.6" height="3.6" fill="#fff" stroke="#000" stroke-width="0.9"/>
<rect x="611.9" y="406.82" width="3.6" height="3.6" fill="#fff" stroke="#000" stroke-width="0.9"/>
<rect x="617.9" y="406.82" width="3.6" height="3.6" fill="#fff" stroke="#000" stroke-width="0.9"/>
<rect x="611.9" y="412.2" width="3.6" height="3.6" fill="#fff" stroke="#000" stroke-width="0.9"/>
<rect x="611.9" y="416.5" width="3.6" height="3.6" fill="#fff" stroke="#000" stroke-width="0.9"/>
<rect x="617.9" y="414.35" width="3.6" height="3.6" fill="#fff" stroke="#000" stroke-width="0.9"/>
<rect x="623.6" y="425.29" width="8.8" height="1.61" fill="#F0383C" stroke="#000" stroke-width="0.9"/>
<circle cx="625" cy="426.36" r="1.9" fill="#fff" stroke="#000" stroke-width="0.9"/>
<circle cx="628" cy="425.29" r="1.9" fill="#fff" stroke="#000" stroke-width="0.9"/>
<circle cx="631" cy="425.82" r="1.9" fill="#fff" stroke="#000" stroke-width="0.9"/>
<circle cx="629.5" cy="424.21" r="1.9" fill="#fff" stroke="#000" stroke-width="0.9"/>
<line x1="616.7" y1="426.9" x2="616.7" y2="429.4" stroke="#000" stroke-width="1.2"/>
<line x1="561" y1="373.8" x2="585.6" y2="373.8" stroke="#000" stroke-width="1.1"/>
<text x="573.3" y="376.23" font-size="12.4" text-anchor="middle" font-weight="bold">****</text>
<line x1="560.8" y1="383" x2="572.3" y2="383" stroke="#000" stroke-width="1.1"/>
<text x="566.55" y="385.43" font-size="12.4" text-anchor="middle" font-weight="bold">***</text>
<line x1="605.7" y1="337.7" x2="628.7" y2="337.7" stroke="#000" stroke-width="1.1"/>
<text x="617.2" y="340.13" font-size="12.4" text-anchor="middle" font-weight="bold">****</text>
<line x1="605.3" y1="346.9" x2="616.8" y2="346.9" stroke="#000" stroke-width="1.1"/>
<text x="608" y="349.33" font-size="12.4" text-anchor="middle" font-weight="bold">****</text>
<line x1="618.3" y1="346.9" x2="629.8" y2="346.9" stroke="#000" stroke-width="1.1"/>
<text x="625" y="349.33" font-size="12.4" text-anchor="middle" font-weight="bold">**</text>
<text x="517.5" y="351" font-size="8.8" stroke="#000" stroke-width="0.22">Liver</text>
<line x1="508.5" y1="442.8" x2="508.5" y2="528.6" stroke="#000" stroke-width="1.2"/>
<line x1="506" y1="528.6" x2="508.5" y2="528.6" stroke="#000" stroke-width="1.2"/>
<text x="505.5" y="531.7" font-size="8.6" text-anchor="end" stroke="#000" stroke-width="0.22">0</text>
<line x1="506" y1="511.44" x2="508.5" y2="511.44" stroke="#000" stroke-width="1.2"/>
<text x="505.5" y="514.54" font-size="8.6" text-anchor="end" stroke="#000" stroke-width="0.22">20</text>
<line x1="506" y1="494.28" x2="508.5" y2="494.28" stroke="#000" stroke-width="1.2"/>
<text x="505.5" y="497.38" font-size="8.6" text-anchor="end" stroke="#000" stroke-width="0.22">40</text>
<line x1="506" y1="477.12" x2="508.5" y2="477.12" stroke="#000" stroke-width="1.2"/>
<text x="505.5" y="480.22" font-size="8.6" text-anchor="end" stroke="#000" stroke-width="0.22">60</text>
<line x1="506" y1="459.96" x2="508.5" y2="459.96" stroke="#000" stroke-width="1.2"/>
<text x="505.5" y="463.06" font-size="8.6" text-anchor="end" stroke="#000" stroke-width="0.22">80</text>
<line x1="506" y1="442.8" x2="508.5" y2="442.8" stroke="#000" stroke-width="1.2"/>
<text x="505.5" y="445.9" font-size="8.6" text-anchor="end" stroke="#000" stroke-width="0.22">100</text>
<line x1="508.5" y1="528.6" x2="637.5" y2="528.6" stroke="#000" stroke-width="1.2"/>
<rect x="513.3" y="503.72" width="8.8" height="24.88" fill="#66D2F4" stroke="#000" stroke-width="0.9"/>
<line x1="517.7" y1="503.72" x2="517.7" y2="500.29" stroke="#000" stroke-width="0.9"/>
<line x1="515.2" y1="500.29" x2="520.2" y2="500.29" stroke="#000" stroke-width="0.9"/>
<circle cx="515.2" cy="492.56" r="1.9" fill="#fff" stroke="#000" stroke-width="0.9"/>
<circle cx="520.2" cy="498.57" r="1.9" fill="#fff" stroke="#000" stroke-width="0.9"/>
<circle cx="514.7" cy="502.86" r="1.9" fill="#fff" stroke="#000" stroke-width="0.9"/>
<circle cx="520.7" cy="507.15" r="1.9" fill="#fff" stroke="#000" stroke-width="0.9"/>
<circle cx="514.2" cy="511.44" r="1.9" fill="#fff" stroke="#000" stroke-width="0.9"/>
<circle cx="521.2" cy="511.44" r="1.9" fill="#fff" stroke="#000" stroke-width="0.9"/>
<rect x="524.6" y="523.45" width="8.8" height="5.15" fill="#4A2CF8" stroke="#000" stroke-width="0.9"/>
<line x1="529" y1="523.45" x2="529" y2="521.74" stroke="#000" stroke-width="0.9"/>
<line x1="526.5" y1="521.74" x2="531.5" y2="521.74" stroke="#000" stroke-width="0.9"/>
<rect x="524.7" y="518.22" width="3.6" height="3.6" fill="#fff" stroke="#000" stroke-width="0.9"/>
<rect x="529.7" y="518.22" width="3.6" height="3.6" fill="#fff" stroke="#000" stroke-width="0.9"/>
<rect x="524.2" y="522.51" width="3.6" height="3.6" fill="#fff" stroke="#000" stroke-width="0.9"/>
<rect x="530.2" y="522.51" width="3.6" height="3.6" fill="#fff" stroke="#000" stroke-width="0.9"/>
<rect x="527.2" y="524.23" width="3.6" height="3.6" fill="#fff" stroke="#000" stroke-width="0.9"/>
<rect x="535.9" y="528.17" width="8.8" height="0.43" fill="#F0383C" stroke="#000" stroke-width="0.9"/>
<circle cx="537.3" cy="528.6" r="1.9" fill="#fff" stroke="#000" stroke-width="0.9"/>
<circle cx="540.3" cy="528.6" r="1.9" fill="#fff" stroke="#000" stroke-width="0.9"/>
<circle cx="543.3" cy="528.6" r="1.9" fill="#fff" stroke="#000" stroke-width="0.9"/>
<line x1="529" y1="528.6" x2="529" y2="531.1" stroke="#000" stroke-width="1.2"/>
<rect x="557.3" y="501.14" width="8.8" height="27.46" fill="#66D2F4" stroke="#000" stroke-width="0.9"/>
<line x1="561.7" y1="501.14" x2="561.7" y2="495.14" stroke="#000" stroke-width="0.9"/>
<line x1="559.2" y1="495.14" x2="564.2" y2="495.14" stroke="#000" stroke-width="0.9"/>
<circle cx="558.7" cy="488.27" r="1.9" fill="#fff" stroke="#000" stroke-width="0.9"/>
<circle cx="564.7" cy="489.99" r="1.9" fill="#fff" stroke="#000" stroke-width="0.9"/>
<circle cx="559.7" cy="502.86" r="1.9" fill="#fff" stroke="#000" stroke-width="0.9"/>
<circle cx="563.7" cy="511.44" r="1.9" fill="#fff" stroke="#000" stroke-width="0.9"/>
<circle cx="561.7" cy="518.3" r="1.9" fill="#fff" stroke="#000" stroke-width="0.9"/>
<rect x="568.6" y="524.31" width="8.8" height="4.29" fill="#4A2CF8" stroke="#000" stroke-width="0.9"/>
<line x1="573" y1="524.31" x2="573" y2="520.02" stroke="#000" stroke-width="0.9"/>
<line x1="570.5" y1="520.02" x2="575.5" y2="520.02" stroke="#000" stroke-width="0.9"/>
<rect x="568.2" y="516.5" width="3.6" height="3.6" fill="#fff" stroke="#000" stroke-width="0.9"/>
<rect x="573.7" y="516.5" width="3.6" height="3.6" fill="#fff" stroke="#000" stroke-width="0.9"/>
<rect x="568.2" y="519.94" width="3.6" height="3.6" fill="#fff" stroke="#000" stroke-width="0.9"/>
<rect x="574.2" y="522.51" width="3.6" height="3.6" fill="#fff" stroke="#000" stroke-width="0.9"/>
<rect x="571.2" y="524.23" width="3.6" height="3.6" fill="#fff" stroke="#000" stroke-width="0.9"/>
<rect x="579.9" y="528.17" width="8.8" height="0.43" fill="#F0383C" stroke="#000" stroke-width="0.9"/>
<circle cx="581.3" cy="528.6" r="1.9" fill="#fff" stroke="#000" stroke-width="0.9"/>
<circle cx="584.3" cy="528.6" r="1.9" fill="#fff" stroke="#000" stroke-width="0.9"/>
<circle cx="587.3" cy="528.6" r="1.9" fill="#fff" stroke="#000" stroke-width="0.9"/>
<line x1="573" y1="528.6" x2="573" y2="531.1" stroke="#000" stroke-width="1.2"/>
<rect x="601" y="475.4" width="8.8" height="53.2" fill="#66D2F4" stroke="#000" stroke-width="0.9"/>
<line x1="605.4" y1="475.4" x2="605.4" y2="468.54" stroke="#000" stroke-width="0.9"/>
<line x1="602.9" y1="468.54" x2="607.9" y2="468.54" stroke="#000" stroke-width="0.9"/>
<circle cx="603.9" cy="457.39" r="1.9" fill="#fff" stroke="#000" stroke-width="0.9"/>
<circle cx="602.4" cy="472.83" r="1.9" fill="#fff" stroke="#000" stroke-width="0.9"/>
<circle cx="608.4" cy="471.11" r="1.9" fill="#fff" stroke="#000" stroke-width="0.9"/>
<circle cx="602.4" cy="485.7" r="1.9" fill="#fff" stroke="#000" stroke-width="0.9"/>
<circle cx="608.4" cy="489.99" r="1.9" fill="#fff" stroke="#000" stroke-width="0.9"/>
<rect x="612.3" y="498.57" width="8.8" height="30.03" fill="#4A2CF8" stroke="#000" stroke-width="0.9"/>
<line x1="616.7" y1="498.57" x2="616.7" y2="491.71" stroke="#000" stroke-width="0.9"/>
<line x1="614.2" y1="491.71" x2="619.2" y2="491.71" stroke="#000" stroke-width="0.9"/>
<rect x="614.9" y="469.31" width="3.6" height="3.6" fill="#fff" stroke="#000" stroke-width="0.9"/>
<rect x="616.9" y="488.19" width="3.6" height="3.6" fill="#fff" stroke="#000" stroke-width="0.9"/>
<rect x="611.9" y="496.77" width="3.6" height="3.6" fill="#fff" stroke="#000" stroke-width="0.9"/>
<rect x="617.9" y="501.06" width="3.6" height="3.6" fill="#fff" stroke="#000" stroke-width="0.9"/>
<rect x="611.9" y="509.64" width="3.6" height="3.6" fill="#fff" stroke="#000" stroke-width="0.9"/>
<rect x="617.9" y="509.64" width="3.6" height="3.6" fill="#fff" stroke="#000" stroke-width="0.9"/>
<rect x="623.6" y="526.03" width="8.8" height="2.57" fill="#F0383C" stroke="#000" stroke-width="0.9"/>
<circle cx="625" cy="526.03" r="1.9" fill="#fff" stroke="#000" stroke-width="0.9"/>
<circle cx="628" cy="524.31" r="1.9" fill="#fff" stroke="#000" stroke-width="0.9"/>
<circle cx="631" cy="525.17" r="1.9" fill="#fff" stroke="#000" stroke-width="0.9"/>
<circle cx="629.5" cy="526.88" r="1.9" fill="#fff" stroke="#000" stroke-width="0.9"/>
<line x1="616.7" y1="528.6" x2="616.7" y2="531.1" stroke="#000" stroke-width="1.2"/>
<line x1="519" y1="479" x2="543" y2="479" stroke="#000" stroke-width="1.1"/>
<text x="531" y="481.43" font-size="12.4" text-anchor="middle" font-weight="bold">****</text>
<line x1="519" y1="488" x2="530.2" y2="488" stroke="#000" stroke-width="1.1"/>
<text x="524.6" y="490.43" font-size="12.4" text-anchor="middle" font-weight="bold">***</text>
<line x1="563" y1="473.2" x2="587" y2="473.2" stroke="#000" stroke-width="1.1"/>
<text x="575" y="475.63" font-size="12.4" text-anchor="middle" font-weight="bold">****</text>
<line x1="563" y1="482.6" x2="574" y2="482.6" stroke="#000" stroke-width="1.1"/>
<text x="568.5" y="485.03" font-size="12.4" text-anchor="middle" font-weight="bold">***</text>
<line x1="606" y1="443.3" x2="629.5" y2="443.3" stroke="#000" stroke-width="1.1"/>
<text x="617.75" y="445.73" font-size="12.4" text-anchor="middle" font-weight="bold">****</text>
<line x1="605" y1="453.4" x2="616.7" y2="453.4" stroke="#000" stroke-width="1.1"/>
<text x="606.5" y="455.83" font-size="12.4" text-anchor="middle" font-weight="bold">****</text>
<line x1="617.8" y1="453.4" x2="629.5" y2="453.4" stroke="#000" stroke-width="1.1"/>
<text x="627" y="455.83" font-size="12.4" text-anchor="middle" font-weight="bold">****</text>
<text x="517.5" y="453.4" font-size="8.8" stroke="#000" stroke-width="0.22">Lung</text>
<text x="530.2" y="541.2" font-size="8.8" text-anchor="middle" stroke="#000" stroke-width="0.22">Tsm</text>
<text x="573.4" y="541.2" font-size="8.8" text-anchor="middle" stroke="#000" stroke-width="0.22">Trmp</text>
<text x="617.8" y="541.2" font-size="8.8" text-anchor="middle" stroke="#000" stroke-width="0.22">Trm</text>
<text x="487.2" y="433.5" font-size="8.8" text-anchor="middle" transform="rotate(-90 487.2 433.5)" stroke="#000" stroke-width="0.22"># CD45.1<tspan font-size="5.5" dy="-3">+</tspan><tspan dy="3"> CD4</tspan><tspan font-size="5.5" dy="-3">+</tspan><tspan dy="3"> Tm (x10</tspan><tspan font-size="5.5" dy="-3">4</tspan><tspan dy="3">)</tspan></text>
<text x="656" y="363.8" font-size="8.8" text-anchor="middle" stroke="#000" stroke-width="0.22">Rag2<tspan font-size="5.5" dy="-3">-/-</tspan><tspan dy="3">-BM+</tspan></text>
<text x="656.5" y="373.9" font-size="8.8" text-anchor="middle" stroke="#000" stroke-width="0.22">CD8<tspan font-size="5.5" dy="-3">+</tspan><tspan dy="3">T+</tspan></text>
<line x1="634" y1="377.6" x2="680" y2="377.6" stroke="#000" stroke-width="0.9"/>
<rect x="640.4" y="382.9" width="9.2" height="5.2" fill="#66D2F4" stroke="#000" stroke-width="0.9"/>
<text x="652" y="388.7" font-size="8.8" stroke="#000" stroke-width="0.22">Tsm</text>
<rect x="640.4" y="394.8" width="9.2" height="5.2" fill="#4A2CF8" stroke="#000" stroke-width="0.9"/>
<text x="652" y="400.6" font-size="8.8" stroke="#000" stroke-width="0.22">Trmp</text>
<rect x="640.4" y="406.3" width="9.2" height="5.2" fill="#F0383C" stroke="#000" stroke-width="0.9"/>
<text x="652" y="412.1" font-size="8.8" stroke="#000" stroke-width="0.22">Trm</text>
<text x="1.2" y="577.3" font-size="19.5" font-weight="bold">h</text>
<text x="53.3" y="584.6" font-size="8.8" text-anchor="middle" stroke="#000" stroke-width="0.22">CD45.1-T</text>
<use href="#spleen" transform="translate(36.2 590.8)"/>
<line x1="75.9" y1="595.6" x2="91.8" y2="595.6" stroke="#111" stroke-width="1.4"/>
<use href="#rarrow" transform="translate(97.8 595.6)"/>
<use href="#bolt" transform="translate(107.3 597.2) scale(0.95)"/>
<use href="#mouse" transform="translate(104.3 590.5)"/>
<line x1="175" y1="598.4" x2="279" y2="598.4" stroke="#E8893A" stroke-width="1.9"/>
<path d="M286 598.4 L277 594.2 L278.6 598.4 L277 602.6Z" fill="#E8893A"/>
<line x1="210.8" y1="583.5" x2="210.8" y2="596.5" stroke="#E8893A" stroke-width="1.5"/>
<path d="M207.2 591.8 L210.8 596.8 L214.4 591.8" fill="none" stroke="#E8893A" stroke-width="1.6" stroke-linejoin="miter"/>
<line x1="224.8" y1="583.5" x2="224.8" y2="596.5" stroke="#E8893A" stroke-width="1.5"/>
<path d="M221.2 591.8 L224.8 596.8 L228.4 591.8" fill="none" stroke="#E8893A" stroke-width="1.6" stroke-linejoin="miter"/>
<line x1="238" y1="583.5" x2="238" y2="596.5" stroke="#E8893A" stroke-width="1.5"/>
<path d="M234.4 591.8 L238 596.8 L241.6 591.8" fill="none" stroke="#E8893A" stroke-width="1.6" stroke-linejoin="miter"/>
<line x1="252" y1="583.5" x2="252" y2="596.5" stroke="#E8893A" stroke-width="1.5"/>
<path d="M248.4 591.8 L252 596.8 L255.6 591.8" fill="none" stroke="#E8893A" stroke-width="1.6" stroke-linejoin="miter"/>
<text x="175.4" y="595.2" font-size="8.8" stroke="#000" stroke-width="0.22">HCT</text>
<text x="233.5" y="582" font-size="8.8" text-anchor="middle" stroke="#000" stroke-width="0.22">aCD4 mAbs</text>
<text x="177.2" y="607.6" font-size="8.8" text-anchor="middle" stroke="#000" stroke-width="0.22">0</text>
<text x="210" y="607.6" font-size="8.8" text-anchor="middle" stroke="#000" stroke-width="0.22">29</text>
<text x="224" y="607.6" font-size="8.8" text-anchor="middle" stroke="#000" stroke-width="0.22">36</text>
<text x="237.2" y="607.6" font-size="8.8" text-anchor="middle" stroke="#000" stroke-width="0.22">43</text>
<text x="251.7" y="607.6" font-size="8.8" text-anchor="middle" stroke="#000" stroke-width="0.22">50</text>
<line x1="33.9" y1="631" x2="33.9" y2="703.6" stroke="#000" stroke-width="1.2"/>
<line x1="31.4" y1="703.6" x2="33.9" y2="703.6" stroke="#000" stroke-width="1.2"/>
<text x="30.9" y="706.7" font-size="8.8" text-anchor="end" stroke="#000" stroke-width="0.22">50</text>
<line x1="31.4" y1="691.5" x2="33.9" y2="691.5" stroke="#000" stroke-width="1.2"/>
<text x="30.9" y="694.6" font-size="8.8" text-anchor="end" stroke="#000" stroke-width="0.22">60</text>
<line x1="31.4" y1="679.4" x2="33.9" y2="679.4" stroke="#000" stroke-width="1.2"/>
<text x="30.9" y="682.5" font-size="8.8" text-anchor="end" stroke="#000" stroke-width="0.22">70</text>
<line x1="31.4" y1="667.3" x2="33.9" y2="667.3" stroke="#000" stroke-width="1.2"/>
<text x="30.9" y="670.4" font-size="8.8" text-anchor="end" stroke="#000" stroke-width="0.22">80</text>
<line x1="31.4" y1="655.2" x2="33.9" y2="655.2" stroke="#000" stroke-width="1.2"/>
<text x="30.9" y="658.3" font-size="8.8" text-anchor="end" stroke="#000" stroke-width="0.22">90</text>
<line x1="31.4" y1="643.1" x2="33.9" y2="643.1" stroke="#000" stroke-width="1.2"/>
<text x="30.9" y="646.2" font-size="8.8" text-anchor="end" stroke="#000" stroke-width="0.22">100</text>
<line x1="31.4" y1="631" x2="33.9" y2="631" stroke="#000" stroke-width="1.2"/>
<text x="30.9" y="634.1" font-size="8.8" text-anchor="end" stroke="#000" stroke-width="0.22">110</text>
<line x1="33.9" y1="703.6" x2="143.4" y2="703.6" stroke="#000" stroke-width="1.2"/>
<line x1="33.9" y1="703.6" x2="33.9" y2="706.1" stroke="#000" stroke-width="1.2"/>
<text x="33.9" y="714" font-size="8.8" text-anchor="middle" stroke="#000" stroke-width="0.22">0</text>
<line x1="59.92" y1="703.6" x2="59.92" y2="706.1" stroke="#000" stroke-width="1.2"/>
<text x="59.92" y="714" font-size="8.8" text-anchor="middle" stroke="#000" stroke-width="0.22">20</text>
<line x1="85.95" y1="703.6" x2="85.95" y2="706.1" stroke="#000" stroke-width="1.2"/>
<text x="85.95" y="714" font-size="8.8" text-anchor="middle" stroke="#000" stroke-width="0.22">40</text>
<line x1="111.97" y1="703.6" x2="111.97" y2="706.1" stroke="#000" stroke-width="1.2"/>
<text x="111.97" y="714" font-size="8.8" text-anchor="middle" stroke="#000" stroke-width="0.22">60</text>
<line x1="138" y1="703.6" x2="138" y2="706.1" stroke="#000" stroke-width="1.2"/>
<text x="138" y="714" font-size="8.8" text-anchor="middle" stroke="#000" stroke-width="0.22">80</text>
<path d="M33.9 643.1 L40.41 662.46 L44.31 664.88 L49.52 667.3 L54.72 664.88 L59.92 662.46 L66.43 657.62 L72.94 643.1 L79.44 652.78 L85.95 643.1 L92.46 652.78 L98.96 643.1 L105.47 652.78 L111.97 647.94 L118.48 647.94 L124.99 661.25 L131.49 673.35 L134.1 681.82" fill="none" stroke="#F47A7A" stroke-width="0.6" stroke-linejoin="round"/>
<path d="M33.9 643.1 L40.41 664.88 L44.31 667.3 L49.52 663.67 L54.72 660.04 L59.92 657.62 L66.43 652.78 L72.94 647.94 L79.44 643.1 L85.95 647.94 L92.46 643.1 L98.96 643.1 L105.47 647.94 L111.97 647.94 L118.48 647.94 L124.99 657.62 L131.49 667.3 L138 663.67" fill="none" stroke="#F47A7A" stroke-width="0.6" stroke-linejoin="round"/>
<path d="M33.9 643.1 L40.41 661.25 L44.31 662.46 L49.52 660.04 L54.72 662.46 L59.92 661.25 L66.43 657.62 L72.94 652.78 L79.44 655.2 L85.95 652.78 L92.46 653.99 L98.96 652.78 L105.47 652.78 L111.97 649.15 L118.48 652.78 L124.99 667.3 L131.49 679.4" fill="none" stroke="#F47A7A" stroke-width="0.6" stroke-linejoin="round"/>
<path d="M33.9 643.1 L40.41 667.3 L44.31 663.67 L49.52 661.25 L54.72 657.62 L59.92 662.46 L66.43 652.78 L72.94 646.73 L79.44 655.2 L85.95 647.94 L92.46 656.41 L98.96 646.73 L105.47 655.2 L111.97 652.78 L118.48 655.2 L122.38 676.98 L127.59 669.72 L132.79 675.77" fill="none" stroke="#F47A7A" stroke-width="0.6" stroke-linejoin="round"/>
<path d="M33.9 643.1 L40.41 663.67 L44.31 667.3 L49.52 664.88 L54.72 667.3 L59.92 669.72 L66.43 664.88 L72.94 661.25 L79.44 657.62 L85.95 653.99 L92.46 660.04 L98.96 652.78 L105.47 660.04 L111.97 657.62 L118.48 676.98 L124.99 672.14" fill="none" stroke="#F47A7A" stroke-width="0.6" stroke-linejoin="round"/>
<path d="M33.9 643.1 L40.41 662.46 L44.31 660.04 L49.52 662.46 L54.72 664.88 L59.92 660.04 L66.43 655.2 L72.94 650.36 L79.44 647.94 L85.95 643.1 L92.46 643.1 L98.96 643.1 L105.47 647.94 L111.97 647.94 L118.48 643.1 L124.99 649.15 L131.49 655.2 L135.4 662.46" fill="none" stroke="#F47A7A" stroke-width="0.6" stroke-linejoin="round"/>
<path d="M33.9 643.1 L40.41 664.88 L44.31 662.46 L49.52 657.62 L54.72 660.04 L59.92 664.88 L66.43 660.04 L72.94 655.2 L79.44 652.78 L85.95 657.62 L92.46 650.36 L98.96 652.78 L105.47 652.78 L111.97 652.78 L118.48 657.62 L124.99 667.3 L131.49 672.14 L138 663.67" fill="none" stroke="#F47A7A" stroke-width="0.6" stroke-linejoin="round"/>
<path d="M33.9 643.1 L40.41 663.67 L44.31 666.09 L49.52 662.46 L54.72 660.04 L59.92 657.62 L66.43 661.25 L72.94 657.62 L79.44 647.94 L85.95 649.15 L92.46 645.52 L98.96 647.94 L105.47 647.94 L111.97 650.36 L118.48 652.78 L124.99 657.62 L131.49 664.88 L135.4 679.4" fill="none" stroke="#F47A7A" stroke-width="0.6" stroke-linejoin="round"/>
<path d="M33.9 643.1 L40.41 666.09 L44.31 668.51 L49.52 663.67 L54.72 661.25 L59.92 667.3 L66.43 662.46 L72.94 651.57 L79.44 644.31 L85.95 651.57 L92.46 647.94 L98.96 643.1 L105.47 643.1 L111.97 646.73 L118.48 646.73 L124.99 655.2 L131.49 662.46 L138 663.67" fill="none" stroke="#F47A7A" stroke-width="0.6" stroke-linejoin="round"/>
<path d="M33.9 643.1 L39.1 657.62 L44.31 674.56 L49.52 660.04 L54.72 652.78 L59.92 657.62 L65.13 662.46 L70.34 667.3 L75.54 675.77 L80.75 674.56 L85.95 679.4 L91.16 678.19 L96.36 681.82" fill="none" stroke="#111" stroke-width="1.05" stroke-linejoin="round"/>
<path d="M33.9 643.1 L40.41 664.88 L44.31 667.3 L49.52 667.3 L54.72 655.2 L59.92 649.15 L65.13 649.15 L70.34 655.2 L75.54 657.62 L80.75 653.99 L85.95 664.88 L89.85 679.4" fill="none" stroke="#111" stroke-width="1.05" stroke-linejoin="round"/>
<path d="M33.9 643.1 L40.41 662.46 L44.31 660.04 L49.52 660.04 L54.72 667.3 L59.92 652.78 L65.13 660.04 L70.34 662.46 L75.54 672.14 L80.75 670.93 L85.95 676.98 L91.16 676.98 L96.36 679.4" fill="none" stroke="#111" stroke-width="1.05" stroke-linejoin="round"/>
<path d="M33.9 643.1 L40.41 666.09 L44.31 672.14 L49.52 664.88 L54.72 657.62 L59.92 660.04 L65.13 663.67 L70.34 660.04 L75.54 660.04 L80.75 660.04 L85.95 660.04 L95.06 660.04" fill="none" stroke="#111" stroke-width="1.05" stroke-linejoin="round"/>
<path d="M33.9 643.1 L40.41 667.3 L44.31 667.3 L49.52 664.88 L54.72 658.83 L59.92 652.78 L65.13 657.62 L70.34 664.88 L72.94 666.09 L85.95 666.09 L98.96 666.09 L111.97 666.09 L118.48 661.25 L124.99 661.25 L132.79 652.78 L138 652.78" fill="none" stroke="#111" stroke-width="1.05" stroke-linejoin="round"/>
<path d="M33.9 643.1 L40.41 668.51 L44.31 676.98 L49.52 667.3 L54.72 655.2 L59.92 660.04 L65.13 664.88 L70.34 669.72 L75.54 674.56 L83.35 676.98 L88.55 678.19 L93.76 676.98 L98.96 672.14 L104.17 676.98 L111.97 676.98 L118.48 670.93 L122.38 676.98 L138 676.98" fill="none" stroke="#111" stroke-width="1.05" stroke-linejoin="round"/>
<path d="M33.9 643.1 L40.41 660.04 L44.31 669.72 L49.52 660.04 L54.72 664.88 L59.92 662.46 L65.13 669.72 L70.34 667.3 L75.54 676.98 L80.75 673.35 L85.95 681.82 L91.16 678.19 L96.36 680.61" fill="none" stroke="#111" stroke-width="1.05" stroke-linejoin="round"/>
<path d="M33.9 643.1 L40.41 664.88 L44.31 662.46 L49.52 667.3 L54.72 653.99 L59.92 657.62 L65.13 667.3 L70.34 672.14 L76.84 657.62 L82.05 669.72 L85.95 676.98 L91.16 679.4" fill="none" stroke="#111" stroke-width="1.05" stroke-linejoin="round"/>
<path d="M33.9 643.1 L40.41 667.3 L44.31 672.14 L49.52 662.46 L54.72 660.04 L59.92 656.41 L65.13 667.3 L70.34 662.46 L75.54 676.98 L80.75 672.14 L85.95 679.4 L92.46 680.61" fill="none" stroke="#111" stroke-width="1.05" stroke-linejoin="round"/>
<path d="M33.9 643.1 L40.41 668.51 L44.31 666.09 L49.52 657.62 L54.72 662.46 L59.92 655.2 L65.13 660.04 L70.34 664.88 L75.54 669.72 L80.75 672.14 L85.95 675.77 L91.16 676.98 L97.66 681.82" fill="none" stroke="#111" stroke-width="1.05" stroke-linejoin="round"/>
<line x1="40.5" y1="686.8" x2="47" y2="686.8" stroke="#111" stroke-width="1.1"/>
<text x="48.2" y="689.9" font-size="8.8" stroke="#000" stroke-width="0.22">IgG</text>
<line x1="40.5" y1="696.6" x2="47" y2="696.6" stroke="#F47A7A" stroke-width="0.8"/>
<text x="48.2" y="699.7" font-size="8.8" stroke="#000" stroke-width="0.22">aCD4 mAbs</text>
<line x1="98.5" y1="688.6" x2="98.5" y2="700.5" stroke="#000" stroke-width="1.2"/>
<text x="106.5" y="697.7" font-size="8.5" text-anchor="middle" font-weight="bold">***</text>
<text x="13.1" y="665.3" font-size="8.85" text-anchor="middle" transform="rotate(-90 13.1 665.3)" stroke="#000" stroke-width="0.22">% Body Weight</text>
<text x="92.8" y="724.7" font-size="8.9" text-anchor="middle" stroke="#000" stroke-width="0.22">Days after HCT</text>
<line x1="177.4" y1="630.5" x2="177.4" y2="703.6" stroke="#000" stroke-width="1.2"/>
<line x1="174.9" y1="703.6" x2="177.4" y2="703.6" stroke="#000" stroke-width="1.2"/>
<text x="174.4" y="706.7" font-size="8.8" text-anchor="end" stroke="#000" stroke-width="0.22">50</text>
<line x1="174.9" y1="691.42" x2="177.4" y2="691.42" stroke="#000" stroke-width="1.2"/>
<text x="174.4" y="694.52" font-size="8.8" text-anchor="end" stroke="#000" stroke-width="0.22">60</text>
<line x1="174.9" y1="679.23" x2="177.4" y2="679.23" stroke="#000" stroke-width="1.2"/>
<text x="174.4" y="682.33" font-size="8.8" text-anchor="end" stroke="#000" stroke-width="0.22">70</text>
<line x1="174.9" y1="667.05" x2="177.4" y2="667.05" stroke="#000" stroke-width="1.2"/>
<text x="174.4" y="670.15" font-size="8.8" text-anchor="end" stroke="#000" stroke-width="0.22">80</text>
<line x1="174.9" y1="654.87" x2="177.4" y2="654.87" stroke="#000" stroke-width="1.2"/>
<text x="174.4" y="657.97" font-size="8.8" text-anchor="end" stroke="#000" stroke-width="0.22">90</text>
<line x1="174.9" y1="642.68" x2="177.4" y2="642.68" stroke="#000" stroke-width="1.2"/>
<text x="174.4" y="645.78" font-size="8.8" text-anchor="end" stroke="#000" stroke-width="0.22">100</text>
<line x1="174.9" y1="630.5" x2="177.4" y2="630.5" stroke="#000" stroke-width="1.2"/>
<text x="174.4" y="633.6" font-size="8.8" text-anchor="end" stroke="#000" stroke-width="0.22">110</text>
<line x1="177.4" y1="703.6" x2="287" y2="703.6" stroke="#000" stroke-width="1.2"/>
<line x1="177.4" y1="703.6" x2="177.4" y2="706.1" stroke="#000" stroke-width="1.2"/>
<text x="177.4" y="714" font-size="8.8" text-anchor="middle" stroke="#000" stroke-width="0.22">0</text>
<line x1="203.4" y1="703.6" x2="203.4" y2="706.1" stroke="#000" stroke-width="1.2"/>
<text x="203.4" y="714" font-size="8.8" text-anchor="middle" stroke="#000" stroke-width="0.22">20</text>
<line x1="229.4" y1="703.6" x2="229.4" y2="706.1" stroke="#000" stroke-width="1.2"/>
<text x="229.4" y="714" font-size="8.8" text-anchor="middle" stroke="#000" stroke-width="0.22">40</text>
<line x1="255.4" y1="703.6" x2="255.4" y2="706.1" stroke="#000" stroke-width="1.2"/>
<text x="255.4" y="714" font-size="8.8" text-anchor="middle" stroke="#000" stroke-width="0.22">60</text>
<line x1="281.4" y1="703.6" x2="281.4" y2="706.1" stroke="#000" stroke-width="1.2"/>
<text x="281.4" y="714" font-size="8.8" text-anchor="middle" stroke="#000" stroke-width="0.22">80</text>
<path d="M177.4 642.68 L182.6 661.57 L186.5 668.27 L190.4 662.79 L196.9 664.61 L203.4 662.18 L209.9 660.96 L216.4 664.61 L219 656.09 L222.9 652.43 L228.1 650.6 L232 652.43 L237.2 648.77 L241.1 649.99 L247.6 649.99 L251.5 649.99 L256.7 651.82 L260.6 653.65 L265.8 656.69 L269.7 660.96 L273.6 670.71 L277.5 674.36 L282.7 663.39" fill="none" stroke="#F04040" stroke-width="0.8"/>
<rect x="175.5" y="640.78" width="3.8" height="3.8" fill="#F03A3A"/>
<rect x="180.7" y="659.67" width="3.8" height="3.8" fill="#F03A3A"/>
<rect x="184.6" y="666.37" width="3.8" height="3.8" fill="#F03A3A"/>
<rect x="188.5" y="660.89" width="3.8" height="3.8" fill="#F03A3A"/>
<rect x="195" y="662.71" width="3.8" height="3.8" fill="#F03A3A"/>
<rect x="201.5" y="660.28" width="3.8" height="3.8" fill="#F03A3A"/>
<rect x="208" y="659.06" width="3.8" height="3.8" fill="#F03A3A"/>
<rect x="214.5" y="662.71" width="3.8" height="3.8" fill="#F03A3A"/>
<rect x="217.1" y="654.19" width="3.8" height="3.8" fill="#F03A3A"/>
<rect x="221" y="650.53" width="3.8" height="3.8" fill="#F03A3A"/>
<rect x="226.2" y="648.7" width="3.8" height="3.8" fill="#F03A3A"/>
<rect x="230.1" y="650.53" width="3.8" height="3.8" fill="#F03A3A"/>
<rect x="235.3" y="646.88" width="3.8" height="3.8" fill="#F03A3A"/>
<rect x="239.2" y="648.09" width="3.8" height="3.8" fill="#F03A3A"/>
<rect x="245.7" y="648.09" width="3.8" height="3.8" fill="#F03A3A"/>
<rect x="249.6" y="648.09" width="3.8" height="3.8" fill="#F03A3A"/>
<line x1="256.7" y1="651.82" x2="256.7" y2="650.6" stroke="#F04040" stroke-width="0.8"/>
<line x1="254.7" y1="650.6" x2="258.7" y2="650.6" stroke="#F04040" stroke-width="0.8"/>
<rect x="254.8" y="649.92" width="3.8" height="3.8" fill="#F03A3A"/>
<line x1="260.6" y1="653.65" x2="260.6" y2="652.43" stroke="#F04040" stroke-width="0.8"/>
<line x1="258.6" y1="652.43" x2="262.6" y2="652.43" stroke="#F04040" stroke-width="0.8"/>
<rect x="258.7" y="651.75" width="3.8" height="3.8" fill="#F03A3A"/>
<line x1="265.8" y1="656.69" x2="265.8" y2="654.87" stroke="#F04040" stroke-width="0.8"/>
<line x1="263.8" y1="654.87" x2="267.8" y2="654.87" stroke="#F04040" stroke-width="0.8"/>
<rect x="263.9" y="654.79" width="3.8" height="3.8" fill="#F03A3A"/>
<line x1="269.7" y1="660.96" x2="269.7" y2="657.3" stroke="#F04040" stroke-width="0.8"/>
<line x1="267.7" y1="657.3" x2="271.7" y2="657.3" stroke="#F04040" stroke-width="0.8"/>
<rect x="267.8" y="659.06" width="3.8" height="3.8" fill="#F03A3A"/>
<line x1="273.6" y1="670.71" x2="273.6" y2="667.05" stroke="#F04040" stroke-width="0.8"/>
<line x1="271.6" y1="667.05" x2="275.6" y2="667.05" stroke="#F04040" stroke-width="0.8"/>
<rect x="271.7" y="668.81" width="3.8" height="3.8" fill="#F03A3A"/>
<rect x="275.6" y="672.46" width="3.8" height="3.8" fill="#F03A3A"/>
<rect x="280.8" y="661.5" width="3.8" height="3.8" fill="#F03A3A"/>
<path d="M177.4 642.68 L182.6 659.13 L186.5 668.27 L190.4 667.05 L196.9 658.52 L203.4 657.3 L209.9 662.18 L216.4 665.22 L220.3 668.27 L225.5 668.27 L229.4 670.1 L233.3 674.97 L238.5 673.14 L242.4 674.97 L247.6 670.1 L251.5 672.53 L256.7 670.71 L260.6 668.27 L265.8 665.83 L269.7 668.27 L273.6 665.83 L277.5 663.39 L282.7 664" fill="none" stroke="#111" stroke-width="1.1"/>
<circle cx="177.4" cy="642.68" r="2.4" fill="#111"/>
<circle cx="182.6" cy="659.13" r="2.4" fill="#111"/>
<circle cx="186.5" cy="668.27" r="2.4" fill="#111"/>
<circle cx="190.4" cy="667.05" r="2.4" fill="#111"/>
<circle cx="196.9" cy="658.52" r="2.4" fill="#111"/>
<circle cx="203.4" cy="657.3" r="2.4" fill="#111"/>
<circle cx="209.9" cy="662.18" r="2.4" fill="#111"/>
<circle cx="216.4" cy="665.22" r="2.4" fill="#111"/>
<circle cx="220.3" cy="668.27" r="2.4" fill="#111"/>
<circle cx="225.5" cy="668.27" r="2.4" fill="#111"/>
<circle cx="229.4" cy="670.1" r="2.4" fill="#111"/>
<line x1="233.3" y1="674.97" x2="233.3" y2="673.14" stroke="#000" stroke-width="1"/>
<line x1="231.1" y1="673.14" x2="235.5" y2="673.14" stroke="#000" stroke-width="1"/>
<circle cx="233.3" cy="674.97" r="2.4" fill="#111"/>
<line x1="238.5" y1="673.14" x2="238.5" y2="670.71" stroke="#000" stroke-width="1"/>
<line x1="236.3" y1="670.71" x2="240.7" y2="670.71" stroke="#000" stroke-width="1"/>
<circle cx="238.5" cy="673.14" r="2.4" fill="#111"/>
<circle cx="242.4" cy="674.97" r="2.4" fill="#111"/>
<circle cx="247.6" cy="670.1" r="2.4" fill="#111"/>
<line x1="251.5" y1="672.53" x2="251.5" y2="670.71" stroke="#000" stroke-width="1"/>
<line x1="249.3" y1="670.71" x2="253.7" y2="670.71" stroke="#000" stroke-width="1"/>
<circle cx="251.5" cy="672.53" r="2.4" fill="#111"/>
<line x1="256.7" y1="670.71" x2="256.7" y2="665.83" stroke="#000" stroke-width="1"/>
<line x1="254.5" y1="665.83" x2="258.9" y2="665.83" stroke="#000" stroke-width="1"/>
<circle cx="256.7" cy="670.71" r="2.4" fill="#111"/>
<line x1="260.6" y1="668.27" x2="260.6" y2="662.18" stroke="#000" stroke-width="1"/>
<line x1="258.4" y1="662.18" x2="262.8" y2="662.18" stroke="#000" stroke-width="1"/>
<circle cx="260.6" cy="668.27" r="2.4" fill="#111"/>
<line x1="265.8" y1="665.83" x2="265.8" y2="660.96" stroke="#000" stroke-width="1"/>
<line x1="263.6" y1="660.96" x2="268" y2="660.96" stroke="#000" stroke-width="1"/>
<circle cx="265.8" cy="665.83" r="2.4" fill="#111"/>
<line x1="269.7" y1="668.27" x2="269.7" y2="659.74" stroke="#000" stroke-width="1"/>
<line x1="267.5" y1="659.74" x2="271.9" y2="659.74" stroke="#000" stroke-width="1"/>
<circle cx="269.7" cy="668.27" r="2.4" fill="#111"/>
<line x1="273.6" y1="665.83" x2="273.6" y2="657.3" stroke="#000" stroke-width="1"/>
<line x1="271.4" y1="657.3" x2="275.8" y2="657.3" stroke="#000" stroke-width="1"/>
<circle cx="273.6" cy="665.83" r="2.4" fill="#111"/>
<line x1="277.5" y1="663.39" x2="277.5" y2="651.82" stroke="#000" stroke-width="1"/>
<line x1="275.3" y1="651.82" x2="279.7" y2="651.82" stroke="#000" stroke-width="1"/>
<circle cx="277.5" cy="663.39" r="2.4" fill="#111"/>
<line x1="282.7" y1="664" x2="282.7" y2="651.82" stroke="#000" stroke-width="1"/>
<line x1="280.5" y1="651.82" x2="284.9" y2="651.82" stroke="#000" stroke-width="1"/>
<circle cx="282.7" cy="664" r="2.4" fill="#111"/>
<line x1="186" y1="685.3" x2="195" y2="685.3" stroke="#000" stroke-width="1.1"/>
<circle cx="190.5" cy="685.3" r="2.4" fill="#111"/>
<text x="197.7" y="688.4" font-size="8.8" stroke="#000" stroke-width="0.22">IgG</text>
<line x1="186" y1="695.5" x2="195" y2="695.5" stroke="#F04040" stroke-width="0.8"/>
<rect x="188.6" y="693.6" width="3.8" height="3.8" fill="#F03A3A"/>
<text x="197.7" y="698.6" font-size="8.8" stroke="#000" stroke-width="0.22">aCD4 mAbs</text>
<line x1="247.4" y1="686.6" x2="247.4" y2="701" stroke="#000" stroke-width="1.2"/>
<text x="255.5" y="697.3" font-size="8.5" text-anchor="middle" font-weight="bold">***</text>
<text x="156.2" y="668.1" font-size="8.85" text-anchor="middle" transform="rotate(-90 156.2 668.1)" stroke="#000" stroke-width="0.22">% Body Weight</text>
<text x="238.2" y="724.2" font-size="8.9" text-anchor="middle" stroke="#000" stroke-width="0.22">Days after HCT</text>
<line x1="320" y1="628.8" x2="320" y2="703.2" stroke="#000" stroke-width="1.2"/>
<line x1="317.5" y1="703.2" x2="320" y2="703.2" stroke="#000" stroke-width="1.2"/>
<text x="317" y="706.3" font-size="8.8" text-anchor="end" stroke="#000" stroke-width="0.22">0</text>
<line x1="317.5" y1="689.62" x2="320" y2="689.62" stroke="#000" stroke-width="1.2"/>
<text x="317" y="692.72" font-size="8.8" text-anchor="end" stroke="#000" stroke-width="0.22">20</text>
<line x1="317.5" y1="676.04" x2="320" y2="676.04" stroke="#000" stroke-width="1.2"/>
<text x="317" y="679.14" font-size="8.8" text-anchor="end" stroke="#000" stroke-width="0.22">40</text>
<line x1="317.5" y1="662.46" x2="320" y2="662.46" stroke="#000" stroke-width="1.2"/>
<text x="317" y="665.56" font-size="8.8" text-anchor="end" stroke="#000" stroke-width="0.22">60</text>
<line x1="317.5" y1="648.88" x2="320" y2="648.88" stroke="#000" stroke-width="1.2"/>
<text x="317" y="651.98" font-size="8.8" text-anchor="end" stroke="#000" stroke-width="0.22">80</text>
<line x1="317.5" y1="635.3" x2="320" y2="635.3" stroke="#000" stroke-width="1.2"/>
<text x="317" y="638.4" font-size="8.8" text-anchor="end" stroke="#000" stroke-width="0.22">100</text>
<line x1="320" y1="703.2" x2="432.3" y2="703.2" stroke="#000" stroke-width="1.2"/>
<line x1="320" y1="703.2" x2="320" y2="705.7" stroke="#000" stroke-width="1.2"/>
<text x="320" y="713.7" font-size="8.8" text-anchor="middle" stroke="#000" stroke-width="0.22">0</text>
<line x1="342.46" y1="703.2" x2="342.46" y2="705.7" stroke="#000" stroke-width="1.2"/>
<text x="342.46" y="713.7" font-size="8.8" text-anchor="middle" stroke="#000" stroke-width="0.22">20</text>
<line x1="364.92" y1="703.2" x2="364.92" y2="705.7" stroke="#000" stroke-width="1.2"/>
<text x="364.92" y="713.7" font-size="8.8" text-anchor="middle" stroke="#000" stroke-width="0.22">40</text>
<line x1="387.38" y1="703.2" x2="387.38" y2="705.7" stroke="#000" stroke-width="1.2"/>
<text x="387.38" y="713.7" font-size="8.8" text-anchor="middle" stroke="#000" stroke-width="0.22">60</text>
<line x1="409.84" y1="703.2" x2="409.84" y2="705.7" stroke="#000" stroke-width="1.2"/>
<text x="409.84" y="713.7" font-size="8.8" text-anchor="middle" stroke="#000" stroke-width="0.22">80</text>
<line x1="432.3" y1="703.2" x2="432.3" y2="705.7" stroke="#000" stroke-width="1.2"/>
<text x="432.3" y="713.7" font-size="8.8" text-anchor="middle" stroke="#000" stroke-width="0.22">100</text>
<path d="M320 635.3 L379.52 635.3 L379.52 644.81 L399.73 644.81 L399.73 654.99 L403.1 654.99 L403.1 664.5 L410.96 664.5 L410.96 693.69 L419.95 693.69 L419.95 693.69" fill="none" stroke="#F47A7A" stroke-width="0.9"/>
<path d="M320 635.3 L364.92 635.3 L364.92 642.09 L372.78 642.09 L372.78 662.46 L376.15 662.46 L376.15 676.04 L379.52 676.04 L379.52 682.83 L388.5 682.83 L388.5 689.62 L419.95 689.62 L419.95 689.62" fill="none" stroke="#111" stroke-width="1.1"/>
<circle cx="419.95" cy="689.62" r="2.4" fill="#111"/>
<rect x="417.95" y="691.69" width="4" height="4" fill="#F03A3A"/>
<line x1="333.8" y1="675.8" x2="342" y2="675.8" stroke="#000" stroke-width="1.1"/>
<circle cx="337.7" cy="675.8" r="2.4" fill="#111"/>
<text x="343.6" y="678.9" font-size="8.8" stroke="#000" stroke-width="0.22">IgG</text>
<line x1="333.8" y1="685.3" x2="342" y2="685.3" stroke="#F47A7A" stroke-width="0.8"/>
<rect x="335.7" y="683.3" width="4" height="4" fill="#F03A3A"/>
<text x="343.6" y="688.4" font-size="8.8" stroke="#000" stroke-width="0.22">anti-CD4</text>
<text x="402.7" y="680.4" font-size="8.8" text-anchor="middle" stroke="#000" stroke-width="0.22">n.s.</text>
<text x="298.2" y="666.7" font-size="8.6" text-anchor="middle" transform="rotate(-90 298.2 666.7)" stroke="#000" stroke-width="0.22">%Survival</text>
<text x="380.8" y="724.2" font-size="8.9" text-anchor="middle" stroke="#000" stroke-width="0.22">Days after HCT</text>
<text x="455.2" y="574.7" font-size="19.5" font-weight="bold">j</text>
<line x1="505" y1="570.7" x2="505" y2="643.3" stroke="#000" stroke-width="1.2"/>
<line x1="502.5" y1="643.3" x2="505" y2="643.3" stroke="#000" stroke-width="1.2"/>
<text x="502" y="646.4" font-size="8.8" text-anchor="end" stroke="#000" stroke-width="0.22">0</text>
<line x1="502.5" y1="619.1" x2="505" y2="619.1" stroke="#000" stroke-width="1.2"/>
<text x="502" y="622.2" font-size="8.8" text-anchor="end" stroke="#000" stroke-width="0.22">10</text>
<line x1="502.5" y1="594.9" x2="505" y2="594.9" stroke="#000" stroke-width="1.2"/>
<text x="502" y="598" font-size="8.8" text-anchor="end" stroke="#000" stroke-width="0.22">20</text>
<line x1="502.5" y1="570.7" x2="505" y2="570.7" stroke="#000" stroke-width="1.2"/>
<text x="502" y="573.8" font-size="8.8" text-anchor="end" stroke="#000" stroke-width="0.22">30</text>
<line x1="505" y1="643.3" x2="614" y2="643.3" stroke="#000" stroke-width="1.1"/>
<rect x="508.6" y="625.15" width="5.6" height="18.15" fill="#55BBEE" stroke="#000" stroke-width="0.9"/>
<line x1="511.4" y1="625.15" x2="511.4" y2="620.79" stroke="#000" stroke-width="0.9"/>
<line x1="509.4" y1="620.79" x2="513.4" y2="620.79" stroke="#000" stroke-width="0.9"/>
<circle cx="511.4" cy="608.21" r="2.5" fill="#000"/>
<circle cx="511.4" cy="615.47" r="2.5" fill="#000"/>
<circle cx="510.4" cy="626.36" r="2.5" fill="#000"/>
<circle cx="512.4" cy="631.2" r="2.5" fill="#000"/>
<circle cx="510.4" cy="633.62" r="2.5" fill="#000"/>
<circle cx="512.4" cy="634.83" r="2.5" fill="#000"/>
<rect x="515.5" y="640.88" width="5.6" height="2.42" fill="#F87070"/>
<circle cx="517.3" cy="640.88" r="2.4" fill="#F23030"/>
<circle cx="519.3" cy="641.85" r="2.4" fill="#F23030"/>
<circle cx="518.3" cy="639.91" r="2.4" fill="#F23030"/>
<rect x="522.4" y="636.04" width="5.8" height="7.26" fill="#9494F8" stroke="#2A2AF0" stroke-width="0.9"/>
<rect x="523.3" y="629.2" width="4" height="4" fill="none" stroke="#2A2AF0" stroke-width="1.1"/>
<rect x="522.8" y="632.83" width="4" height="4" fill="none" stroke="#2A2AF0" stroke-width="1.1"/>
<rect x="523.8" y="636.46" width="4" height="4" fill="none" stroke="#2A2AF0" stroke-width="1.1"/>
<rect x="523.3" y="637.67" width="4" height="4" fill="none" stroke="#2A2AF0" stroke-width="1.1"/>
<line x1="518.3" y1="643.3" x2="518.3" y2="645.8" stroke="#000" stroke-width="1.2"/>
<rect x="536.2" y="623.94" width="5.6" height="19.36" fill="#55BBEE" stroke="#000" stroke-width="0.9"/>
<line x1="539" y1="623.94" x2="539" y2="617.89" stroke="#000" stroke-width="0.9"/>
<line x1="537" y1="617.89" x2="541" y2="617.89" stroke="#000" stroke-width="0.9"/>
<circle cx="539" cy="603.37" r="2.5" fill="#000"/>
<circle cx="539" cy="609.42" r="2.5" fill="#000"/>
<circle cx="538" cy="628.78" r="2.5" fill="#000"/>
<circle cx="540" cy="629.99" r="2.5" fill="#000"/>
<circle cx="539" cy="633.62" r="2.5" fill="#000"/>
<circle cx="539" cy="637.25" r="2.5" fill="#000"/>
<circle cx="544.9" cy="642.57" r="2.4" fill="#F23030"/>
<circle cx="546.9" cy="642.57" r="2.4" fill="#F23030"/>
<rect x="550" y="640.88" width="5.8" height="2.42" fill="#9494F8" stroke="#2A2AF0" stroke-width="0.9"/>
<rect x="550.9" y="637.67" width="4" height="4" fill="none" stroke="#2A2AF0" stroke-width="1.1"/>
<rect x="549.9" y="638.88" width="4" height="4" fill="none" stroke="#2A2AF0" stroke-width="1.1"/>
<rect x="551.9" y="639.85" width="4" height="4" fill="none" stroke="#2A2AF0" stroke-width="1.1"/>
<line x1="545.9" y1="643.3" x2="545.9" y2="645.8" stroke="#000" stroke-width="1.2"/>
<rect x="564.2" y="616.68" width="5.6" height="26.62" fill="#55BBEE" stroke="#000" stroke-width="0.9"/>
<line x1="567" y1="616.68" x2="567" y2="605.79" stroke="#000" stroke-width="0.9"/>
<line x1="565" y1="605.79" x2="569" y2="605.79" stroke="#000" stroke-width="0.9"/>
<circle cx="567" cy="579.17" r="2.5" fill="#000"/>
<circle cx="567" cy="596.11" r="2.5" fill="#000"/>
<circle cx="567" cy="620.31" r="2.5" fill="#000"/>
<circle cx="566" cy="631.2" r="2.5" fill="#000"/>
<circle cx="568" cy="634.83" r="2.5" fill="#000"/>
<circle cx="567" cy="638.46" r="2.5" fill="#000"/>
<circle cx="573.9" cy="642.33" r="2.4" fill="#F23030"/>
<circle cx="572.9" cy="642.57" r="2.4" fill="#F23030"/>
<rect x="578" y="638.46" width="5.8" height="4.84" fill="#9494F8" stroke="#2A2AF0" stroke-width="0.9"/>
<rect x="578.9" y="635.25" width="4" height="4" fill="none" stroke="#2A2AF0" stroke-width="1.1"/>
<rect x="578.9" y="637.67" width="4" height="4" fill="none" stroke="#2A2AF0" stroke-width="1.1"/>
<line x1="573.9" y1="643.3" x2="573.9" y2="645.8" stroke="#000" stroke-width="1.2"/>
<rect x="591.1" y="636.04" width="5.6" height="7.26" fill="#55BBEE" stroke="#000" stroke-width="0.9"/>
<line x1="593.9" y1="636.04" x2="593.9" y2="633.62" stroke="#000" stroke-width="0.9"/>
<line x1="591.9" y1="633.62" x2="595.9" y2="633.62" stroke="#000" stroke-width="0.9"/>
<circle cx="593.9" cy="632.41" r="2.5" fill="#000"/>
<circle cx="592.9" cy="633.62" r="2.5" fill="#000"/>
<circle cx="594.9" cy="636.04" r="2.5" fill="#000"/>
<circle cx="592.9" cy="638.46" r="2.5" fill="#000"/>
<circle cx="594.9" cy="639.67" r="2.5" fill="#000"/>
<circle cx="600.8" cy="642.09" r="2.4" fill="#F23030"/>
<circle cx="599.8" cy="642.33" r="2.4" fill="#F23030"/>
<rect x="604.9" y="637.25" width="5.8" height="6.05" fill="#9494F8" stroke="#2A2AF0" stroke-width="0.9"/>
<rect x="605.8" y="630.41" width="4" height="4" fill="none" stroke="#2A2AF0" stroke-width="1.1"/>
<rect x="605.3" y="634.04" width="4" height="4" fill="none" stroke="#2A2AF0" stroke-width="1.1"/>
<rect x="606.3" y="636.46" width="4" height="4" fill="none" stroke="#2A2AF0" stroke-width="1.1"/>
<rect x="605.8" y="638.88" width="4" height="4" fill="none" stroke="#2A2AF0" stroke-width="1.1"/>
<line x1="600.8" y1="643.3" x2="600.8" y2="645.8" stroke="#000" stroke-width="1.2"/>
<line x1="511.1" y1="602.4" x2="519.7" y2="602.4" stroke="#000" stroke-width="1.1"/>
<text x="515.4" y="604.05" font-size="10.6" text-anchor="middle" font-weight="bold">**</text>
<line x1="538.7" y1="598.1" x2="546.7" y2="598.1" stroke="#000" stroke-width="1.1"/>
<text x="542.7" y="599.75" font-size="10.6" text-anchor="middle" font-weight="bold">**</text>
<line x1="539.7" y1="616" x2="553.4" y2="616" stroke="#000" stroke-width="1.1"/>
<text x="546.55" y="617.65" font-size="10.6" text-anchor="middle" font-weight="bold">*</text>
<line x1="566" y1="574.3" x2="573.9" y2="574.3" stroke="#000" stroke-width="1.1"/>
<text x="569.95" y="575.95" font-size="10.6" text-anchor="middle" font-weight="bold">****</text>
<line x1="566" y1="588.9" x2="580.5" y2="588.9" stroke="#000" stroke-width="1.1"/>
<text x="573.25" y="590.55" font-size="10.6" text-anchor="middle" font-weight="bold">**</text>
<text x="486.5" y="603.4" font-size="8.7" text-anchor="middle" transform="rotate(-90 486.5 603.4)" stroke="#000" stroke-width="0.22"># Liver Tm(x10<tspan font-size="5.5" dy="-3">4</tspan><tspan dy="3">)</tspan></text>
<line x1="504.6" y1="654" x2="504.6" y2="726.4" stroke="#000" stroke-width="1.2"/>
<line x1="502.1" y1="726.4" x2="504.6" y2="726.4" stroke="#000" stroke-width="1.2"/>
<text x="501.6" y="729.5" font-size="8.8" text-anchor="end" stroke="#000" stroke-width="0.22">0</text>
<line x1="502.1" y1="711.92" x2="504.6" y2="711.92" stroke="#000" stroke-width="1.2"/>
<text x="501.6" y="715.02" font-size="8.8" text-anchor="end" stroke="#000" stroke-width="0.22">50</text>
<line x1="502.1" y1="697.44" x2="504.6" y2="697.44" stroke="#000" stroke-width="1.2"/>
<text x="501.6" y="700.54" font-size="8.8" text-anchor="end" stroke="#000" stroke-width="0.22">100</text>
<line x1="502.1" y1="682.96" x2="504.6" y2="682.96" stroke="#000" stroke-width="1.2"/>
<text x="501.6" y="686.06" font-size="8.8" text-anchor="end" stroke="#000" stroke-width="0.22">150</text>
<line x1="502.1" y1="668.48" x2="504.6" y2="668.48" stroke="#000" stroke-width="1.2"/>
<text x="501.6" y="671.58" font-size="8.8" text-anchor="end" stroke="#000" stroke-width="0.22">200</text>
<line x1="502.1" y1="654" x2="504.6" y2="654" stroke="#000" stroke-width="1.2"/>
<text x="501.6" y="657.1" font-size="8.8" text-anchor="end" stroke="#000" stroke-width="0.22">250</text>
<line x1="504.6" y1="726.4" x2="614" y2="726.4" stroke="#000" stroke-width="1.1"/>
<rect x="508.6" y="696.57" width="5.6" height="29.83" fill="#55BBEE" stroke="#000" stroke-width="0.9"/>
<line x1="511.4" y1="696.57" x2="511.4" y2="687.88" stroke="#000" stroke-width="0.9"/>
<line x1="509.4" y1="687.88" x2="513.4" y2="687.88" stroke="#000" stroke-width="0.9"/>
<circle cx="511.4" cy="665" r="2.5" fill="#000"/>
<circle cx="510.4" cy="678.62" r="2.5" fill="#000"/>
<circle cx="512.4" cy="680.06" r="2.5" fill="#000"/>
<circle cx="511.4" cy="700.34" r="2.5" fill="#000"/>
<circle cx="511.4" cy="706.13" r="2.5" fill="#000"/>
<circle cx="510.4" cy="720.61" r="2.5" fill="#000"/>
<circle cx="511.4" cy="722.06" r="2.5" fill="#000"/>
<circle cx="517.3" cy="724.95" r="2.4" fill="#F23030"/>
<circle cx="519.3" cy="725.24" r="2.4" fill="#F23030"/>
<circle cx="518.3" cy="725.53" r="2.4" fill="#F23030"/>
<rect x="522.4" y="720.61" width="5.8" height="5.79" fill="#9494F8" stroke="#2A2AF0" stroke-width="0.9"/>
<rect x="523.3" y="715.71" width="4" height="4" fill="none" stroke="#2A2AF0" stroke-width="1.1"/>
<rect x="522.3" y="718.61" width="4" height="4" fill="none" stroke="#2A2AF0" stroke-width="1.1"/>
<rect x="524.3" y="720.06" width="4" height="4" fill="none" stroke="#2A2AF0" stroke-width="1.1"/>
<rect x="523.3" y="721.5" width="4" height="4" fill="none" stroke="#2A2AF0" stroke-width="1.1"/>
<line x1="518.3" y1="726.4" x2="518.3" y2="728.9" stroke="#000" stroke-width="1.2"/>
<rect x="536.2" y="716.26" width="5.6" height="10.14" fill="#55BBEE" stroke="#000" stroke-width="0.9"/>
<line x1="539" y1="716.26" x2="539" y2="713.37" stroke="#000" stroke-width="0.9"/>
<line x1="537" y1="713.37" x2="541" y2="713.37" stroke="#000" stroke-width="0.9"/>
<circle cx="539" cy="701.78" r="2.5" fill="#000"/>
<circle cx="538" cy="710.47" r="2.5" fill="#000"/>
<circle cx="540" cy="713.37" r="2.5" fill="#000"/>
<circle cx="539" cy="714.82" r="2.5" fill="#000"/>
<circle cx="538" cy="716.26" r="2.5" fill="#000"/>
<circle cx="540" cy="719.16" r="2.5" fill="#000"/>
<circle cx="539" cy="722.06" r="2.5" fill="#000"/>
<rect x="543.1" y="724.08" width="5.6" height="2.32" fill="#F87070"/>
<circle cx="544.9" cy="724.08" r="2.4" fill="#F23030"/>
<circle cx="546.9" cy="724.66" r="2.4" fill="#F23030"/>
<circle cx="545.9" cy="725.24" r="2.4" fill="#F23030"/>
<rect x="550" y="719.16" width="5.8" height="7.24" fill="#9494F8" stroke="#2A2AF0" stroke-width="0.9"/>
<rect x="550.9" y="711.37" width="4" height="4" fill="none" stroke="#2A2AF0" stroke-width="1.1"/>
<rect x="549.9" y="712.82" width="4" height="4" fill="none" stroke="#2A2AF0" stroke-width="1.1"/>
<rect x="551.9" y="717.16" width="4" height="4" fill="none" stroke="#2A2AF0" stroke-width="1.1"/>
<rect x="550.9" y="720.06" width="4" height="4" fill="none" stroke="#2A2AF0" stroke-width="1.1"/>
<rect x="550.9" y="721.5" width="4" height="4" fill="none" stroke="#2A2AF0" stroke-width="1.1"/>
<line x1="545.9" y1="726.4" x2="545.9" y2="728.9" stroke="#000" stroke-width="1.2"/>
<rect x="564.2" y="706.13" width="5.6" height="20.27" fill="#55BBEE" stroke="#000" stroke-width="0.9"/>
<line x1="567" y1="706.13" x2="567" y2="703.23" stroke="#000" stroke-width="0.9"/>
<line x1="565" y1="703.23" x2="569" y2="703.23" stroke="#000" stroke-width="0.9"/>
<circle cx="567" cy="691.65" r="2.5" fill="#000"/>
<circle cx="566" cy="700.34" r="2.5" fill="#000"/>
<circle cx="568" cy="701.78" r="2.5" fill="#000"/>
<circle cx="567" cy="704.68" r="2.5" fill="#000"/>
<circle cx="566" cy="707.58" r="2.5" fill="#000"/>
<circle cx="568" cy="710.47" r="2.5" fill="#000"/>
<circle cx="567" cy="713.37" r="2.5" fill="#000"/>
<rect x="571.1" y="717.71" width="5.6" height="8.69" fill="#F87070"/>
<circle cx="572.9" cy="716.26" r="2.4" fill="#F23030"/>
<circle cx="574.9" cy="717.71" r="2.4" fill="#F23030"/>
<circle cx="573.9" cy="719.16" r="2.4" fill="#F23030"/>
<circle cx="573.9" cy="722.06" r="2.4" fill="#F23030"/>
<circle cx="574.9" cy="724.08" r="2.4" fill="#F23030"/>
<rect x="578" y="705.55" width="5.8" height="20.85" fill="#9494F8" stroke="#2A2AF0" stroke-width="0.9"/>
<rect x="578.9" y="693.99" width="4" height="4" fill="none" stroke="#2A2AF0" stroke-width="1.1"/>
<rect x="577.9" y="699.78" width="4" height="4" fill="none" stroke="#2A2AF0" stroke-width="1.1"/>
<rect x="579.9" y="701.23" width="4" height="4" fill="none" stroke="#2A2AF0" stroke-width="1.1"/>
<rect x="578.9" y="704.13" width="4" height="4" fill="none" stroke="#2A2AF0" stroke-width="1.1"/>
<rect x="578.9" y="709.92" width="4" height="4" fill="none" stroke="#2A2AF0" stroke-width="1.1"/>
<line x1="573.9" y1="726.4" x2="573.9" y2="728.9" stroke="#000" stroke-width="1.2"/>
<rect x="591.1" y="717.71" width="5.6" height="8.69" fill="#55BBEE" stroke="#000" stroke-width="0.9"/>
<line x1="593.9" y1="717.71" x2="593.9" y2="714.82" stroke="#000" stroke-width="0.9"/>
<line x1="591.9" y1="714.82" x2="595.9" y2="714.82" stroke="#000" stroke-width="0.9"/>
<circle cx="593.9" cy="705.55" r="2.5" fill="#000"/>
<circle cx="592.9" cy="714.82" r="2.5" fill="#000"/>
<circle cx="594.9" cy="716.26" r="2.5" fill="#000"/>
<circle cx="593.9" cy="719.16" r="2.5" fill="#000"/>
<circle cx="592.9" cy="722.06" r="2.5" fill="#000"/>
<circle cx="594.9" cy="723.5" r="2.5" fill="#000"/>
<rect x="598" y="723.5" width="5.6" height="2.9" fill="#F87070"/>
<circle cx="599.8" cy="723.5" r="2.4" fill="#F23030"/>
<circle cx="601.8" cy="724.08" r="2.4" fill="#F23030"/>
<circle cx="600.8" cy="724.95" r="2.4" fill="#F23030"/>
<rect x="604.9" y="714.82" width="5.8" height="11.58" fill="#9494F8" stroke="#2A2AF0" stroke-width="0.9"/>
<rect x="605.8" y="702.68" width="4" height="4" fill="none" stroke="#2A2AF0" stroke-width="1.1"/>
<rect x="604.8" y="711.37" width="4" height="4" fill="none" stroke="#2A2AF0" stroke-width="1.1"/>
<rect x="606.8" y="714.26" width="4" height="4" fill="none" stroke="#2A2AF0" stroke-width="1.1"/>
<rect x="605.8" y="717.16" width="4" height="4" fill="none" stroke="#2A2AF0" stroke-width="1.1"/>
<line x1="600.8" y1="726.4" x2="600.8" y2="728.9" stroke="#000" stroke-width="1.2"/>
<line x1="510.2" y1="660.6" x2="519.6" y2="660.6" stroke="#000" stroke-width="1.1"/>
<text x="514.9" y="662.25" font-size="10.6" text-anchor="middle" font-weight="bold">****</text>
<line x1="510.2" y1="673.9" x2="525" y2="673.9" stroke="#000" stroke-width="1.1"/>
<text x="517.6" y="675.55" font-size="10.6" text-anchor="middle" font-weight="bold">****</text>
<line x1="565.6" y1="682.5" x2="573.3" y2="682.5" stroke="#000" stroke-width="1.1"/>
<text x="569.45" y="684.15" font-size="10.6" text-anchor="middle" font-weight="bold">*</text>
<line x1="573.3" y1="692.6" x2="581.5" y2="692.6" stroke="#000" stroke-width="1.1"/>
<text x="577.4" y="694.25" font-size="10.6" text-anchor="middle" font-weight="bold">*</text>
<text x="480.3" y="690.6" font-size="8.7" text-anchor="middle" transform="rotate(-90 480.3 690.6)" stroke="#000" stroke-width="0.22"># Lung Tm(x10<tspan font-size="5.5" dy="-3">4</tspan><tspan dy="3">)</tspan></text>
<text x="517.2" y="737.6" font-size="9.6" text-anchor="middle" stroke="#000" stroke-width="0.22">Tsm</text>
<text x="548.8" y="737.6" font-size="9.6" text-anchor="middle" stroke="#000" stroke-width="0.22">Trmp</text>
<text x="577.5" y="737.6" font-size="9.6" text-anchor="middle" stroke="#000" stroke-width="0.22">Trm</text>
<text x="604.8" y="737.6" font-size="9.6" text-anchor="middle" stroke="#000" stroke-width="0.22">int</text>
<circle cx="603.8" cy="572.8" r="2.5" fill="#000"/>
<text x="610.1" y="576" font-size="8.8" stroke="#000" stroke-width="0.22">IgG</text>
<rect x="601.6" y="584" width="4.4" height="4.4" fill="#F23030"/>
<text x="610.1" y="589.4" font-size="8.8" stroke="#000" stroke-width="0.22">aCD4 mAbs</text>
<rect x="601.9" y="599.1" width="3.8" height="3.8" fill="none" stroke="#2A2AF0" stroke-width="1"/>
<text x="610.1" y="604" font-size="8.8" stroke="#000" stroke-width="0.22">cGVHD recurrence</text>
<text x="3" y="757.6" font-size="19.5" font-weight="bold">i</text>
<text x="60.7" y="768.9" font-size="8.8" text-anchor="middle" stroke="#000" stroke-width="0.22">IgG Control</text>
<text x="127.8" y="768.9" font-size="8.8" text-anchor="middle" stroke="#000" stroke-width="0.22">aCD4 mAbs</text>
<text x="195.4" y="761.3" font-size="8.8" text-anchor="middle" stroke="#000" stroke-width="0.22">cGVHD</text>
<text x="195.4" y="769.3" font-size="8.8" text-anchor="middle" stroke="#000" stroke-width="0.22">recurrence</text>
<text x="19.6" y="799.2" font-size="8.8" text-anchor="middle" transform="rotate(-90 19.6 799.2)" stroke="#000" stroke-width="0.22">Liver</text>
<text x="19.6" y="856.5" font-size="8.8" text-anchor="middle" transform="rotate(-90 19.6 856.5)" stroke="#000" stroke-width="0.22">Lung</text>
<g clip-path="url(#hc10)">
<rect x="23.6" y="772.7" width="68.1" height="53.8" filter="url(#tIliv)"/>
<g clip-path="url(#hc11)"><rect x="23.6" y="772.7" width="68.1" height="53.8" filter="url(#tIpur2)"/></g>
<path d="M44 787 C50 785 58 786 62 791 C67 796 71 801 67 807 C63 812 56 815 49 817 C43 817 38 814 37 807 C36 800 39 792 44 787Z" fill="none" stroke="#30307A" stroke-width="1" opacity="0.5"/>
<path d="M49 776 C52 775 54 778 54 781 C54 785 52 787 50 786 C48 784 48 779 49 776Z" fill="#FFFFFF"/>
<ellipse cx="39.8" cy="809" rx="4.2" ry="2.8" fill="#FFFFFF" transform="rotate(-15 39.8 809)"/>
<ellipse cx="60" cy="812.4" rx="3.8" ry="2.2" fill="#FFFFFF" transform="rotate(-30 60 812.4)"/>
<circle cx="49.4" cy="817" r="1.7" fill="#FFFFFF" stroke="#B02030" stroke-width="0.6"/>
<ellipse cx="27.5" cy="811.6" rx="1.8" ry="1.1" fill="#FFFFFF"/>
</g>
<g clip-path="url(#hc12)">
<rect x="93.8" y="772.7" width="67.5" height="53.8" filter="url(#tIliv2)"/>
<path d="M122 781.5 C126 783 128 790 127.5 797 C127 803 125 807 122.5 807.5 C119.5 806 118 800 118.3 794 C118.5 788 119.5 782 122 781.5Z" fill="#FFFFFF"/>
<path d="M124 806 L128.5 814 L127 814.5 L122.5 807Z" fill="#E8D8E0"/>
<path d="M121 783 L124 785 L122 788Z" fill="#D83040"/>
</g>
<g clip-path="url(#hc13)">
<rect x="163.1" y="772.7" width="67.7" height="53.8" filter="url(#tIliv)"/>
<g clip-path="url(#hc14)"><rect x="163.1" y="772.7" width="67.7" height="53.8" filter="url(#tIpur)"/></g>
<path d="M170 775 C185 784 200 792 228 806" fill="none" stroke="#C84050" stroke-width="1.6" opacity="0.7"/>
<path d="M168 786 C180 792 190 798 200 806" fill="none" stroke="#C84050" stroke-width="1.6" opacity="0.7"/>
<path d="M195 797 C200 795 206 796 212 798 C218 802 221 808 222 815 C221 818 218 818 216 816 C211 812 204 806 197 801 C194 799 193 798 195 797Z" fill="#F4D8D8" stroke="#FFFFFF" stroke-width="1"/>
<ellipse cx="201.5" cy="802" rx="3" ry="2" fill="#502040"/>
<path d="M186 799 L194 797.5 L193 799.5 L186 800.5Z" fill="#FFFFFF"/>
</g>
<g clip-path="url(#hc15)">
<rect x="23.6" y="829.3" width="68.1" height="54.1" filter="url(#tIlung)"/>
<rect x="23.6" y="829.3" width="68.1" height="54.1" filter="url(#hIlung1)"/>
<g clip-path="url(#hc16)"><rect x="23.6" y="829.3" width="68.1" height="54.1" filter="url(#tIblueL)"/></g>
<g clip-path="url(#hc17)"><rect x="23.6" y="829.3" width="68.1" height="54.1" filter="url(#tIblueL)"/></g>
<path d="M60 846 C66 843 73 840 84 838" fill="none" stroke="#C83848" stroke-width="2.4" opacity="0.8"/>
<ellipse cx="62" cy="834" rx="4" ry="3" fill="#C83848" opacity="0.8"/>
<g clip-path="url(#hc18)"><rect x="23.6" y="829.3" width="68.1" height="54.1" filter="url(#tIred)"/></g>
<ellipse cx="71" cy="868" rx="7" ry="5.5" fill="#FFFFFF"/>
</g>
<g clip-path="url(#hc19)">
<rect x="93.8" y="829.3" width="67.5" height="54.1" filter="url(#tIlung)"/>
<rect x="93.8" y="829.3" width="67.5" height="54.1" filter="url(#hIlung2)"/>
<ellipse cx="125" cy="853.5" rx="10" ry="5.5" fill="#FFFFFF"/>
<ellipse cx="123.6" cy="863.5" rx="3.5" ry="2.5" fill="#4A50C0" opacity="0.85"/>
</g>
<g clip-path="url(#hc20)">
<rect x="163.1" y="829.3" width="67.7" height="54.1" filter="url(#tIlung3)"/>
<rect x="163.1" y="829.3" width="67.7" height="54.1" filter="url(#hIlung3)"/>
<g clip-path="url(#hc21)"><rect x="163.1" y="829.3" width="67.7" height="54.1" filter="url(#tIred)"/></g>
<path d="M185 829 L201 829 C201 838 202 846 200 856 C197 860 192 858 190 852 C188 845 186 838 185 829Z" fill="#FFFFFF"/>
<g clip-path="url(#hc22)"><rect x="163.1" y="829.3" width="67.7" height="54.1" filter="url(#tIpur)"/></g>
</g>
<rect x="237.7" y="754.3" width="9.6" height="4.8" fill="#55BFEC" stroke="#000" stroke-width="0.9"/>
<text x="249.5" y="759.2" font-size="8.8" stroke="#000" stroke-width="0.22">IgG Control</text>
<rect x="297.2" y="754.3" width="9.6" height="4.8" fill="#1A10E8" stroke="#000" stroke-width="0.9"/>
<text x="310.6" y="759.2" font-size="8.8" stroke="#000" stroke-width="0.22">aCD4 mAbs</text>
<rect x="237.7" y="766.5" width="9.6" height="4.8" fill="#FA3B40" stroke="#000" stroke-width="0.9"/>
<text x="249.5" y="771.6" font-size="8.8" stroke="#000" stroke-width="0.22">cGVHD recurrence</text>
<line x1="248.4" y1="801.6" x2="339.5" y2="801.6" stroke="#000" stroke-width="1.2"/>
<line x1="248.4" y1="801.6" x2="248.4" y2="892.4" stroke="#000" stroke-width="1.2"/>
<line x1="248.4" y1="799.1" x2="248.4" y2="801.6" stroke="#000" stroke-width="1.2"/>
<text x="245.3" y="793.6" font-size="8.8" text-anchor="middle" transform="rotate(90 245.3 793.6)" stroke="#000" stroke-width="0.22">0</text>
<line x1="266.6" y1="799.1" x2="266.6" y2="801.6" stroke="#000" stroke-width="1.2"/>
<text x="263.5" y="793.6" font-size="8.8" text-anchor="middle" transform="rotate(90 263.5 793.6)" stroke="#000" stroke-width="0.22">2</text>
<line x1="284.8" y1="799.1" x2="284.8" y2="801.6" stroke="#000" stroke-width="1.2"/>
<text x="281.7" y="793.6" font-size="8.8" text-anchor="middle" transform="rotate(90 281.7 793.6)" stroke="#000" stroke-width="0.22">4</text>
<line x1="303" y1="799.1" x2="303" y2="801.6" stroke="#000" stroke-width="1.2"/>
<text x="299.9" y="793.6" font-size="8.8" text-anchor="middle" transform="rotate(90 299.9 793.6)" stroke="#000" stroke-width="0.22">6</text>
<line x1="321.2" y1="799.1" x2="321.2" y2="801.6" stroke="#000" stroke-width="1.2"/>
<text x="318.1" y="793.6" font-size="8.8" text-anchor="middle" transform="rotate(90 318.1 793.6)" stroke="#000" stroke-width="0.22">8</text>
<line x1="339.4" y1="799.1" x2="339.4" y2="801.6" stroke="#000" stroke-width="1.2"/>
<text x="336.3" y="793.6" font-size="8.8" text-anchor="middle" transform="rotate(90 336.3 793.6)" stroke="#000" stroke-width="0.22">10</text>
<text x="295.3" y="786.4" font-size="8.9" text-anchor="middle" stroke="#000" stroke-width="0.22">Pathology score</text>
<rect x="248.4" y="807.9" width="41.22" height="9.1" fill="#55BFEC" stroke="#000" stroke-width="0.9"/>
<line x1="289.62" y1="812.45" x2="292.81" y2="812.45" stroke="#000" stroke-width="0.9"/>
<line x1="292.81" y1="809.95" x2="292.81" y2="814.95" stroke="#000" stroke-width="0.9"/>
<line x1="286.44" y1="812.45" x2="289.62" y2="812.45" stroke="#000" stroke-width="0.9"/>
<line x1="286.44" y1="809.95" x2="286.44" y2="814.95" stroke="#000" stroke-width="0.9"/>
<circle cx="275.5" cy="812.45" r="2.3" fill="#fff" stroke="#000" stroke-width="1"/>
<circle cx="285.2" cy="809.95" r="2.3" fill="#fff" stroke="#000" stroke-width="1"/>
<circle cx="285.2" cy="814.95" r="2.3" fill="#fff" stroke="#000" stroke-width="1"/>
<circle cx="294" cy="812.45" r="2.3" fill="#fff" stroke="#000" stroke-width="1"/>
<circle cx="301.8" cy="809.95" r="2.3" fill="#fff" stroke="#000" stroke-width="1"/>
<circle cx="301.8" cy="814.95" r="2.3" fill="#fff" stroke="#000" stroke-width="1"/>
<rect x="248.4" y="819.3" width="10.46" height="9.5" fill="#1A10E8" stroke="#000" stroke-width="0.9"/>
<line x1="258.87" y1="824.05" x2="271.61" y2="824.05" stroke="#000" stroke-width="0.9"/>
<line x1="271.61" y1="821.55" x2="271.61" y2="826.55" stroke="#000" stroke-width="0.9"/>
<line x1="246.12" y1="824.05" x2="258.87" y2="824.05" stroke="#000" stroke-width="0.9"/>
<line x1="246.12" y1="821.55" x2="246.12" y2="826.55" stroke="#000" stroke-width="0.9"/>
<circle cx="248.4" cy="821.55" r="2.3" fill="#fff" stroke="#000" stroke-width="1"/>
<circle cx="248.4" cy="826.55" r="2.3" fill="#fff" stroke="#000" stroke-width="1"/>
<circle cx="265.9" cy="824.05" r="2.3" fill="#fff" stroke="#000" stroke-width="1"/>
<circle cx="275.9" cy="824.05" r="2.3" fill="#fff" stroke="#000" stroke-width="1"/>
<rect x="248.4" y="831.4" width="53.42" height="8.8" fill="#FA3B40" stroke="#000" stroke-width="0.9"/>
<circle cx="293.4" cy="835.8" r="2.3" fill="#fff" stroke="#000" stroke-width="1"/>
<circle cx="302.7" cy="833.3" r="2.3" fill="#fff" stroke="#000" stroke-width="1"/>
<circle cx="302.7" cy="835.8" r="2.3" fill="#fff" stroke="#000" stroke-width="1"/>
<circle cx="302.7" cy="838.3" r="2.3" fill="#fff" stroke="#000" stroke-width="1"/>
<circle cx="311.5" cy="835.8" r="2.3" fill="#fff" stroke="#000" stroke-width="1"/>
<rect x="248.4" y="853.8" width="65.7" height="8.8" fill="#55BFEC" stroke="#000" stroke-width="0.9"/>
<line x1="314.1" y1="858.2" x2="317.74" y2="858.2" stroke="#000" stroke-width="0.9"/>
<line x1="317.74" y1="855.7" x2="317.74" y2="860.7" stroke="#000" stroke-width="0.9"/>
<line x1="310.46" y1="858.2" x2="314.1" y2="858.2" stroke="#000" stroke-width="0.9"/>
<line x1="310.46" y1="855.7" x2="310.46" y2="860.7" stroke="#000" stroke-width="0.9"/>
<circle cx="302.7" cy="855.7" r="2.3" fill="#fff" stroke="#000" stroke-width="1"/>
<circle cx="302.7" cy="860.7" r="2.3" fill="#fff" stroke="#000" stroke-width="1"/>
<circle cx="311.5" cy="855.7" r="2.3" fill="#fff" stroke="#000" stroke-width="1"/>
<circle cx="311.5" cy="860.7" r="2.3" fill="#fff" stroke="#000" stroke-width="1"/>
<circle cx="320.7" cy="855.7" r="2.3" fill="#fff" stroke="#000" stroke-width="1"/>
<circle cx="320.7" cy="860.7" r="2.3" fill="#fff" stroke="#000" stroke-width="1"/>
<circle cx="329.9" cy="855.7" r="2.3" fill="#fff" stroke="#000" stroke-width="1"/>
<circle cx="329.9" cy="860.7" r="2.3" fill="#fff" stroke="#000" stroke-width="1"/>
<rect x="248.4" y="865.2" width="28.57" height="9.3" fill="#1A10E8" stroke="#000" stroke-width="0.9"/>
<line x1="276.97" y1="869.85" x2="282.43" y2="869.85" stroke="#000" stroke-width="0.9"/>
<line x1="282.43" y1="867.35" x2="282.43" y2="872.35" stroke="#000" stroke-width="0.9"/>
<line x1="271.51" y1="869.85" x2="276.97" y2="869.85" stroke="#000" stroke-width="0.9"/>
<line x1="271.51" y1="867.35" x2="271.51" y2="872.35" stroke="#000" stroke-width="0.9"/>
<circle cx="257.2" cy="869.85" r="2.3" fill="#fff" stroke="#000" stroke-width="1"/>
<circle cx="275.9" cy="869.85" r="2.3" fill="#fff" stroke="#000" stroke-width="1"/>
<circle cx="284.7" cy="869.85" r="2.3" fill="#fff" stroke="#000" stroke-width="1"/>
<circle cx="294" cy="869.85" r="2.3" fill="#fff" stroke="#000" stroke-width="1"/>
<rect x="248.4" y="877.5" width="49.87" height="8.7" fill="#FA3B40" stroke="#000" stroke-width="0.9"/>
<line x1="298.27" y1="881.85" x2="303.73" y2="881.85" stroke="#000" stroke-width="0.9"/>
<line x1="303.73" y1="879.35" x2="303.73" y2="884.35" stroke="#000" stroke-width="0.9"/>
<line x1="292.81" y1="881.85" x2="298.27" y2="881.85" stroke="#000" stroke-width="0.9"/>
<line x1="292.81" y1="879.35" x2="292.81" y2="884.35" stroke="#000" stroke-width="0.9"/>
<circle cx="275.9" cy="881.85" r="2.3" fill="#fff" stroke="#000" stroke-width="1"/>
<circle cx="294" cy="879.35" r="2.3" fill="#fff" stroke="#000" stroke-width="1"/>
<circle cx="294" cy="884.35" r="2.3" fill="#fff" stroke="#000" stroke-width="1"/>
<circle cx="302.7" cy="881.85" r="2.3" fill="#fff" stroke="#000" stroke-width="1"/>
<circle cx="329.9" cy="881.85" r="2.3" fill="#fff" stroke="#000" stroke-width="1"/>
<line x1="245.9" y1="824" x2="248.4" y2="824" stroke="#000" stroke-width="1.2"/>
<line x1="245.9" y1="869.9" x2="248.4" y2="869.9" stroke="#000" stroke-width="1.2"/>
<text x="236.9" y="824.4" font-size="9" text-anchor="middle" transform="rotate(90 236.9 824.4)" stroke="#000" stroke-width="0.22">Liver</text>
<text x="236.9" y="870.5" font-size="9" text-anchor="middle" transform="rotate(90 236.9 870.5)" stroke="#000" stroke-width="0.22">Lung</text>
<line x1="307" y1="811" x2="307" y2="823" stroke="#000" stroke-width="1.1"/>
<text x="308.4" y="817" font-size="13" text-anchor="middle" font-weight="bold" transform="rotate(90 308.4 817)">***</text>
<line x1="319.3" y1="825.8" x2="319.3" y2="836.3" stroke="#000" stroke-width="1.1"/>
<text x="319.1" y="831.05" font-size="13" text-anchor="middle" font-weight="bold" transform="rotate(90 319.1 831.05)">****</text>
<line x1="335" y1="857.3" x2="335" y2="867.9" stroke="#000" stroke-width="1.1"/>
<text x="333.1" y="862.6" font-size="13" text-anchor="middle" font-weight="bold" transform="rotate(90 333.1 862.6)">***</text>
<line x1="335" y1="872.2" x2="335" y2="882.7" stroke="#000" stroke-width="1.1"/>
<text x="333.1" y="877.45" font-size="13" text-anchor="middle" font-weight="bold" transform="rotate(90 333.1 877.45)">*</text>
<line x1="344.8" y1="855.6" x2="344.8" y2="883.6" stroke="#000" stroke-width="1.1"/>
<text x="341" y="869.6" font-size="13" text-anchor="middle" font-weight="bold" transform="rotate(90 341 869.6)">*</text>
<text x="372.6" y="756.4" font-size="19.5" font-weight="bold">k</text>
<text x="414.4" y="765.2" font-size="8.8" text-anchor="middle" stroke="#000" stroke-width="0.22">CD45.1-T</text>
<use href="#spleen" transform="translate(398 771.3)"/>
<line x1="437.3" y1="776" x2="453" y2="776" stroke="#111" stroke-width="1.4"/>
<use href="#rarrow" transform="translate(459 776)"/>
<use href="#bolt" transform="translate(468.2 778) scale(0.95)"/>
<use href="#mouse" transform="translate(468.2 772)"/>
<line x1="532.4" y1="778.7" x2="646" y2="778.7" stroke="#E8893A" stroke-width="1.9"/>
<path d="M653 778.7 L644 774.5 L645.6 778.7 L644 782.9Z" fill="#E8893A"/>
<line x1="562.2" y1="764" x2="562.2" y2="777" stroke="#E8893A" stroke-width="1.5"/>
<path d="M558.8 772.2 L562.2 777.2 L565.6 772.2" fill="none" stroke="#E8893A" stroke-width="1.6"/>
<line x1="569.6" y1="764" x2="569.6" y2="777" stroke="#E8893A" stroke-width="1.5"/>
<path d="M566.2 772.2 L569.6 777.2 L573 772.2" fill="none" stroke="#E8893A" stroke-width="1.6"/>
<line x1="592" y1="764" x2="592" y2="777" stroke="#E8893A" stroke-width="1.5"/>
<path d="M588.6 772.2 L592 777.2 L595.4 772.2" fill="none" stroke="#E8893A" stroke-width="1.6"/>
<line x1="600.5" y1="764" x2="600.5" y2="777" stroke="#E8893A" stroke-width="1.5"/>
<path d="M597.1 772.2 L600.5 777.2 L603.9 772.2" fill="none" stroke="#E8893A" stroke-width="1.6"/>
<line x1="625.5" y1="764" x2="625.5" y2="777" stroke="#E8893A" stroke-width="1.5"/>
<path d="M622.1 772.2 L625.5 777.2 L628.9 772.2" fill="none" stroke="#E8893A" stroke-width="1.6"/>
<line x1="634" y1="764" x2="634" y2="777" stroke="#E8893A" stroke-width="1.5"/>
<path d="M630.6 772.2 L634 777.2 L637.4 772.2" fill="none" stroke="#E8893A" stroke-width="1.6"/>
<text x="533.5" y="773.3" font-size="8.8" stroke="#000" stroke-width="0.22">HCT</text>
<text x="599.4" y="760.2" font-size="8.8" text-anchor="middle" stroke="#000" stroke-width="0.22">aCD4 mAbs</text>
<text x="537.2" y="788.3" font-size="8.8" text-anchor="middle" stroke="#000" stroke-width="0.22">0</text>
<text x="564" y="788.3" font-size="8.8" text-anchor="middle" stroke="#000" stroke-width="0.22">29 36</text>
<text x="626.8" y="788.3" font-size="8.8" text-anchor="middle" stroke="#000" stroke-width="0.22">92 99</text>
<line x1="590.5" y1="785.6" x2="604.5" y2="785.6" stroke="#111" stroke-width="1.6" stroke-dasharray="1.1 1"/>
<line x1="395.5" y1="805.5" x2="395.5" y2="877.5" stroke="#000" stroke-width="1.2"/>
<line x1="393" y1="877.5" x2="395.5" y2="877.5" stroke="#000" stroke-width="1.2"/>
<text x="392.5" y="880.6" font-size="8.8" text-anchor="end" stroke="#000" stroke-width="0.22">40</text>
<line x1="393" y1="859.5" x2="395.5" y2="859.5" stroke="#000" stroke-width="1.2"/>
<text x="392.5" y="862.6" font-size="8.8" text-anchor="end" stroke="#000" stroke-width="0.22">60</text>
<line x1="393" y1="841.5" x2="395.5" y2="841.5" stroke="#000" stroke-width="1.2"/>
<text x="392.5" y="844.6" font-size="8.8" text-anchor="end" stroke="#000" stroke-width="0.22">80</text>
<line x1="393" y1="823.5" x2="395.5" y2="823.5" stroke="#000" stroke-width="1.2"/>
<text x="392.5" y="826.6" font-size="8.8" text-anchor="end" stroke="#000" stroke-width="0.22">100</text>
<line x1="393" y1="805.5" x2="395.5" y2="805.5" stroke="#000" stroke-width="1.2"/>
<text x="392.5" y="808.6" font-size="8.8" text-anchor="end" stroke="#000" stroke-width="0.22">120</text>
<line x1="395.5" y1="877.5" x2="502.5" y2="877.5" stroke="#000" stroke-width="1.2"/>
<line x1="395.5" y1="877.5" x2="395.5" y2="880" stroke="#000" stroke-width="1.2"/>
<text x="395.5" y="888.3" font-size="8.8" text-anchor="middle" stroke="#000" stroke-width="0.22">0</text>
<line x1="416.9" y1="877.5" x2="416.9" y2="880" stroke="#000" stroke-width="1.2"/>
<text x="416.9" y="888.3" font-size="8.8" text-anchor="middle" stroke="#000" stroke-width="0.22">20</text>
<line x1="438.3" y1="877.5" x2="438.3" y2="880" stroke="#000" stroke-width="1.2"/>
<text x="438.3" y="888.3" font-size="8.8" text-anchor="middle" stroke="#000" stroke-width="0.22">40</text>
<line x1="459.7" y1="877.5" x2="459.7" y2="880" stroke="#000" stroke-width="1.2"/>
<text x="459.7" y="888.3" font-size="8.8" text-anchor="middle" stroke="#000" stroke-width="0.22">60</text>
<line x1="481.1" y1="877.5" x2="481.1" y2="880" stroke="#000" stroke-width="1.2"/>
<text x="481.1" y="888.3" font-size="8.8" text-anchor="middle" stroke="#000" stroke-width="0.22">80</text>
<line x1="502.5" y1="877.5" x2="502.5" y2="880" stroke="#000" stroke-width="1.2"/>
<text x="502.5" y="888.3" font-size="8.8" text-anchor="middle" stroke="#000" stroke-width="0.22">100</text>
<path d="M395.5 823.5 L400.85 841.79 L406.2 839.56 L411.55 844.62 L415.83 840.94 L419.04 844.4 L422.25 843.52 L426.53 848.75 L430.81 851.36" fill="none" stroke="#111" stroke-width="0.95" stroke-linejoin="round"/>
<path d="M395.5 823.5 L399.78 847.69 L404.06 848.7 L408.34 848.7 L411.55 848.7 L416.9 848.7 L420.11 846.91 L423.32 846.81 L426.53 852.79 L429.74 858.05 L434.02 858.8" fill="none" stroke="#111" stroke-width="0.95" stroke-linejoin="round"/>
<path d="M395.5 823.5 L399.78 843.43 L402.99 846.71 L408.34 848.7 L412.62 848.7 L416.9 848.7 L420.11 849.04 L424.39 849.68 L429.74 852.63 L435.09 856.32 L438.3 859.34" fill="none" stroke="#111" stroke-width="0.95" stroke-linejoin="round"/>
<path d="M395.5 823.5 L400.85 841.17 L405.13 844.41 L409.41 841.56 L412.62 843.97 L415.83 838.26 L420.11 843.3 L423.32 845.95 L427.6 847.12 L432.95 852.13 L437.23 850.71 L440.44 858.11 L443.65 860.83" fill="none" stroke="#111" stroke-width="0.95" stroke-linejoin="round"/>
<path d="M395.5 823.5 L399.78 840.27 L404.06 839.67 L409.41 842.14 L413.69 846.27 L419.04 850.8 L423.32 855.96 L426.53 857.67 L429.74 857.56 L435.09 860.71 L438.3 855.49 L443.65 854.38 L447.93 853.62 L451.14 856.36" fill="none" stroke="#111" stroke-width="0.95" stroke-linejoin="round"/>
<path d="M395.5 823.5 L399.78 842.72 L404.06 836.46 L407.27 833.44 L410.48 832.5 L415.83 832.5 L419.04 834.3 L424.39 835.29 L428.67 837.18 L432.95 836.56 L438.3 855.03 L442.58 853.4 L445.79 854.5 L451.14 852.16 L454.35 851.8 L458.63 854.63 L459.7 853.19" fill="none" stroke="#111" stroke-width="0.95" stroke-linejoin="round"/>
<path d="M395.5 823.5 L399.78 840.96 L404.06 835.57 L409.41 832.5 L414.76 832.59 L419.04 836.37 L423.32 838.45 L427.6 840.46 L430.81 839.57 L436.16 845.55 L441.51 853.22 L445.79 857.3 L450.07 856.81 L455.42 853.59 L459.7 857.94 L463.98 854.53 L469.33 858.09 L473.61 856.31 L478.96 854.67" fill="none" stroke="#111" stroke-width="0.95" stroke-linejoin="round"/>
<path d="M395.5 823.5 L400.85 845.65 L406.2 847.62 L410.48 845.42 L415.83 840.85 L420.11 843.48 L424.39 844.32 L428.67 846.27 L434.02 849.71 L438.3 851.46 L443.65 851.47 L447.93 851.45 L451.14 848.64 L456.49 850.91 L460.77 848.17 L466.12 852.57 L469.33 852.26 L473.61 848.28 L477.89 851.81 L481.1 849.45 L486.45 851.09 L491.8 849.12 L497.15 850.55 L501.43 851.7 L502.5 849.15" fill="none" stroke="#111" stroke-width="0.95" stroke-linejoin="round"/>
<path d="M395.5 823.5 L400.85 841.96 L404.06 840.5 L409.41 838.3 L412.62 834.82 L415.83 832.84 L419.04 839.03 L422.25 838.57 L425.46 837.67 L428.67 839.78 L434.02 838.26 L438.3 863.66 L443.65 862.25 L449 864.45 L454.35 860.67" fill="none" stroke="#111" stroke-width="0.95" stroke-linejoin="round"/>
<path d="M395.5 823.5 L399.78 844.96 L404.06 840.22 L409.41 835.9 L413.69 832.5 L419.04 835.67 L422.25 836.26 L427.6 837.21 L432.95 837.79 L437.23 842.62 L440.44 855.02" fill="none" stroke="#111" stroke-width="0.95" stroke-linejoin="round"/>
<path d="M395.5 823.5 L400.85 844.01 L405.13 842.82 L408.34 836.89 L413.69 841.23 L419.04 839.44 L422.25 840.28 L427.6 842.85 L431.88 846.14 L436.16 847.39" fill="none" stroke="#111" stroke-width="0.95" stroke-linejoin="round"/>
<path d="M395.5 823.5 L400.85 839.89 L405.13 833.91 L409.41 834.82 L412.62 833.25 L416.9 832.5 L421.18 834.72 L425.46 834.3 L429.74 836.48 L434.02 835.84 L437.23 835.03 L442.58 851.66 L445.79 855.26 L449 852.38 L452.21 854.25 L457.56 855.37 L461.84 852.63 L465.05 854.2 L468.26 852.95 L472.54 855.26 L477.89 851.49 L483.24 853.37 L488.59 852.09 L489.66 856.76" fill="none" stroke="#111" stroke-width="0.95" stroke-linejoin="round"/>
<path d="M395.5 823.5 L399.78 845.45 L405.13 842.95 L408.34 843.34 L413.69 841.38 L417.97 846.38 L423.32 845.81 L426.53 841.62 L430.81 862.92 L437.23 855.6 L443.65 834.11 L450.07 836.87 L454.35 833.82 L460.77 834.32 L463.98 838.11 L467.19 835.3 L473.61 836.11 L480.03 833.74 L484.31 839.11 L490.73 833.29 L495.01 837.23 L498.22 839.8 L502.5 838.37" fill="none" stroke="#F41E1E" stroke-width="0.95" stroke-linejoin="round"/>
<path d="M395.5 823.5 L399.78 840.15 L406.2 834.98 L412.62 832.81 L415.83 836.87 L419.04 839.91 L422.25 837.61 L426.53 832.28 L432.95 861.21 L437.23 857.88 L441.51 836.88 L445.79 837.06 L449 832.62 L452.21 835.35 L455.42 832.02 L459.7 837.3 L462.91 835.1 L469.33 833.84 L474.68 830.78 L478.96 832.35 L483.24 833.27 L488.59 830.81 L492.87 835.47 L497.15 835.54 L502.5 833.65" fill="none" stroke="#F41E1E" stroke-width="0.95" stroke-linejoin="round"/>
<path d="M395.5 823.5 L399.78 839.97 L406.2 843.44 L409.41 841.76 L412.62 840.97 L415.83 845.39 L419.04 845.32 L425.46 848.14 L431.88 846.55 L437.23 848.99 L440.44 828.97 L446.86 832.48 L451.14 826.07 L457.56 827.97 L461.84 827.47 L465.05 825.87 L471.47 826.96 L475.75 827.82 L482.17 830.32 L486.45 830.78 L491.8 827.14 L498.22 831.89 L502.5 828.21" fill="none" stroke="#F41E1E" stroke-width="0.95" stroke-linejoin="round"/>
<path d="M395.5 823.5 L400.85 838.32 L405.13 835.72 L411.55 840.44 L414.76 845.48 L419.04 848.77 L425.46 844.57 L431.88 854.77 L437.23 863.09 L443.65 841.99 L450.07 841.82 L456.49 843.43 L460.77 839.45 L463.98 841.45 L470.4 837.89 L476.82 843.05 L482.17 843.36 L486.45 838.75 L490.73 843.91 L493.94 841.67 L499.29 841.87 L502.5 839.2" fill="none" stroke="#F41E1E" stroke-width="0.95" stroke-linejoin="round"/>
<path d="M395.5 823.5 L400.85 843.61 L406.2 845.86 L410.48 843.38 L414.76 848.42 L417.97 847.62 L421.18 846.35 L426.53 844.4 L430.81 857.2 L436.16 862.26 L442.58 829.85 L446.86 829.76 L451.14 824.26 L457.56 825.8 L462.91 830.98 L466.12 827.77 L472.54 829.81 L475.75 827.08 L481.1 824.26 L484.31 829.32 L490.73 830.37 L497.15 830.64 L501.43 826.39 L502.5 828.17" fill="none" stroke="#F41E1E" stroke-width="0.95" stroke-linejoin="round"/>
<path d="M395.5 823.5 L399.78 848.18 L402.99 844.13 L407.27 847.59 L413.69 850.96 L417.97 852.3 L423.32 849.16 L426.53 848.71 L430.81 845.84 L435.09 842.7 L441.51 829.66 L447.93 830.5 L454.35 829.79 L458.63 828.32 L463.98 828.59 L468.26 829.56 L472.54 831.3 L475.75 827.93 L481.1 827.65 L486.45 832.59 L489.66 830.15 L492.87 827.8 L497.15 831.56 L502.5 828.5" fill="none" stroke="#F41E1E" stroke-width="0.95" stroke-linejoin="round"/>
<path d="M395.5 823.5 L399.78 841.1 L402.99 845.72 L408.34 847.02 L411.55 842.74 L415.83 841.94 L422.25 845.79 L425.46 843.33 L431.88 844.03 L438.3 841.57 L443.65 833.91 L447.93 833.4 L454.35 829.52 L459.7 834.14 L462.91 834.19 L466.12 827.41 L471.47 831.25 L476.82 827.55 L480.03 832.72 L486.45 833.48 L490.73 832.01 L493.94 833.21 L498.22 829.15 L501.43 832.46 L502.5 829.85" fill="none" stroke="#F41E1E" stroke-width="0.95" stroke-linejoin="round"/>
<path d="M395.5 823.5 L399.78 843.88 L402.99 845.68 L409.41 841.2 L415.83 840.16 L420.11 840.79 L424.39 840.44 L430.81 837.6 L434.02 839.83 L440.44 826.25 L444.72 824.14 L447.93 824.64 L452.21 827.71 L457.56 828.36 L461.84 829.73 L466.12 829 L471.47 825.68 L475.75 828.54 L480.03 825.32 L483.24 826.73 L489.66 828.67 L493.94 825.19 L500.36 828.44 L502.5 829.96" fill="none" stroke="#F41E1E" stroke-width="0.95" stroke-linejoin="round"/>
<path d="M395.5 823.5 L399.78 840.56 L405.13 840.81 L411.55 836.89 L414.76 833.64 L421.18 831.6 L424.39 831.48 L428.67 830.7 L431.88 830.87 L435.09 828 L441.51 842.36 L447.93 842.73 L451.14 842.1 L457.56 843.36 L460.77 841.08 L465.05 843.92 L468.26 845.77 L473.61 841.57 L480.03 843.76 L483.24 843.99 L487.52 845.45 L490.73 841.14 L496.08 839.51 L500.36 842.49 L502.5 839.52" fill="none" stroke="#F41E1E" stroke-width="0.95" stroke-linejoin="round"/>
<path d="M395.5 823.5 L399.78 845.01 L402.99 843.16 L409.41 846.63 L413.69 842.2 L419.04 843.43 L422.25 839.72 L427.6 842.43 L430.81 843.74 L436.16 838.72 L439.37 832.63 L443.65 834.07 L450.07 829.1 L454.35 829.9 L460.77 831.62 L467.19 831.14 L471.47 832.45 L476.82 834.01 L482.17 833.27 L485.38 833.55 L490.73 830.57 L495.01 831.5 L500.36 830.34 L502.5 829.37" fill="none" stroke="#F41E1E" stroke-width="0.95" stroke-linejoin="round"/>
<path d="M395.5 823.5 L399.78 838.42 L402.99 840.38 L409.41 838.81 L413.69 834.56 L420.11 830.89 L423.32 834.2 L427.6 838.39 L432.95 840.35 L436.16 837.74 L442.58 843.9 L446.86 844.07 L450.07 846.57 L453.28 847.79 L458.63 846.51 L465.05 842.79 L468.26 847.43 L474.68 846.5 L477.89 842.14 L483.24 848.25 L486.45 845.63 L491.8 842.4 L495.01 845.67 L500.36 849.09 L502.5 842.01" fill="none" stroke="#F41E1E" stroke-width="0.95" stroke-linejoin="round"/>
<path d="M395.5 823.5 L399.78 838.78 L406.2 837.24 L409.41 836.43 L414.76 837.42 L417.97 837.21 L421.18 840.23 L425.46 842.7 L428.67 846.53 L431.88 856.13 L438.3 850.69 L444.72 837.54 L449 843.04 L454.35 842.77 L457.56 843.67 L461.84 841.1 L465.05 843.55 L471.47 836.81 L474.68 843.32 L478.96 842.31 L485.38 843.62 L488.59 836.82 L495.01 840.05 L498.22 842.55 L502.5 837.51" fill="none" stroke="#F41E1E" stroke-width="0.95" stroke-linejoin="round"/>
<path d="M395.5 823.5 L399.78 846.37 L406.2 841.89 L412.62 847.12 L416.9 842.89 L421.18 845.02 L425.46 845.86 L428.67 840.53 L432.95 839.87 L437.23 840.55 L443.65 840.2 L446.86 838.01 L450.07 837.27 L456.49 842.26 L462.91 842.55 L469.33 836.44 L473.61 838.15 L480.03 835.9 L486.45 841.83 L490.73 842.26 L496.08 836.06 L499.29 842.71 L502.5 842.2" fill="none" stroke="#F41E1E" stroke-width="0.95" stroke-linejoin="round"/>
<path d="M395.5 823.5 L399.78 840.56 L404.06 842.79 L407.27 845.12 L410.48 843.57 L415.83 845.69 L422.25 845.18 L428.67 840.15 L432.95 833.33 L437.23 834.09 L440.44 838.64 L444.72 842.2 L447.93 843.85 L452.21 840.89 L456.49 838.2 L459.7 838.12 L463.98 843.63 L470.4 837.54 L473.61 839.89 L480.03 840.67 L483.24 837.25 L488.59 839.81 L493.94 838.77 L500.36 836.8 L502.5 837.81" fill="none" stroke="#F41E1E" stroke-width="0.95" stroke-linejoin="round"/>
<path d="M395.5 823.5 L399.78 841.74 L406.2 846.07 L411.55 842.65 L416.9 839.09 L421.18 839.56 L424.39 839.62 L428.67 838.9 L431.88 862.35 L435.09 861.63 L439.37 858.39 L444.72 849.16 L450.07 847.57 L454.35 845.72 L459.7 849.25 L462.91 846.55 L469.33 849.86 L473.61 846 L480.03 844.47 L484.31 846.78 L487.52 844.57 L492.87 847.02 L496.08 847.78 L502.5 846.2" fill="none" stroke="#F41E1E" stroke-width="0.95" stroke-linejoin="round"/>
<path d="M395.5 823.5 L399.78 848.42 L406.2 847.21 L410.48 846.82 L413.69 844.59 L416.9 849.53 L423.32 851.65 L426.53 846.72 L431.88 849.02 L437.23 849.83 L442.58 840.89 L447.93 839.33 L454.35 839.69 L458.63 838.32 L463.98 840.78 L468.26 839.75 L472.54 840.5 L475.75 838.44 L482.17 838.57 L488.59 841.78 L492.87 836.45 L497.15 838.1 L502.5 836.31" fill="none" stroke="#F41E1E" stroke-width="0.95" stroke-linejoin="round"/>
<path d="M395.5 823.5 L400.85 838.85 L407.27 838.82 L411.55 838.22 L415.83 839.09 L421.18 835.46 L426.53 834.2 L430.81 859.83 L436.16 852.44 L441.51 845.53 L444.72 842.15 L447.93 844.07 L451.14 846.61 L454.35 842.77 L459.7 842.96 L463.98 848.68 L470.4 847.8 L475.75 843.82 L481.1 848.32 L486.45 842.68 L491.8 848.57 L497.15 846.08 L502.5 848.58" fill="none" stroke="#F41E1E" stroke-width="0.95" stroke-linejoin="round"/>
<line x1="403.5" y1="801.4" x2="411.5" y2="801.4" stroke="#000" stroke-width="1.1"/>
<rect x="405.5" y="799.4" width="4" height="4" fill="#111"/>
<text x="416.5" y="804.4" font-size="8.8" stroke="#000" stroke-width="0.22">IgG</text>
<line x1="403.5" y1="813.4" x2="411.5" y2="813.4" stroke="#F22020" stroke-width="1"/>
<path d="M407.5 811 L409.9 813.4 L407.5 815.8 L405.1 813.4Z" fill="#F22020"/>
<text x="416.5" y="816.4" font-size="8.8" stroke="#000" stroke-width="0.22">aCD4 mAbs</text>
<line x1="466" y1="795.5" x2="466" y2="812.5" stroke="#000" stroke-width="1.2"/>
<text x="468.6" y="804" font-size="10.5" text-anchor="middle" font-weight="bold" transform="rotate(90 468.6 804)">****</text>
<text x="373.2" y="840.9" font-size="8.9" text-anchor="middle" transform="rotate(-90 373.2 840.9)" stroke="#000" stroke-width="0.22">% Body weight</text>
<text x="449.8" y="899.4" font-size="8.9" text-anchor="middle" stroke="#000" stroke-width="0.22">Days after HCT</text>
<line x1="541.2" y1="812.5" x2="541.2" y2="877" stroke="#000" stroke-width="1.2"/>
<line x1="538.7" y1="877" x2="541.2" y2="877" stroke="#000" stroke-width="1.2"/>
<text x="538.2" y="880.1" font-size="8.8" text-anchor="end" stroke="#000" stroke-width="0.22">0</text>
<line x1="538.7" y1="864.1" x2="541.2" y2="864.1" stroke="#000" stroke-width="1.2"/>
<text x="538.2" y="867.2" font-size="8.8" text-anchor="end" stroke="#000" stroke-width="0.22">20</text>
<line x1="538.7" y1="851.2" x2="541.2" y2="851.2" stroke="#000" stroke-width="1.2"/>
<text x="538.2" y="854.3" font-size="8.8" text-anchor="end" stroke="#000" stroke-width="0.22">40</text>
<line x1="538.7" y1="838.3" x2="541.2" y2="838.3" stroke="#000" stroke-width="1.2"/>
<text x="538.2" y="841.4" font-size="8.8" text-anchor="end" stroke="#000" stroke-width="0.22">60</text>
<line x1="538.7" y1="825.4" x2="541.2" y2="825.4" stroke="#000" stroke-width="1.2"/>
<text x="538.2" y="828.5" font-size="8.8" text-anchor="end" stroke="#000" stroke-width="0.22">80</text>
<line x1="538.7" y1="812.5" x2="541.2" y2="812.5" stroke="#000" stroke-width="1.2"/>
<text x="538.2" y="815.6" font-size="8.8" text-anchor="end" stroke="#000" stroke-width="0.22">100</text>
<line x1="541.2" y1="877" x2="647.1" y2="877" stroke="#000" stroke-width="1.2"/>
<line x1="541.2" y1="877" x2="541.2" y2="879.5" stroke="#000" stroke-width="1.2"/>
<text x="541.2" y="888.3" font-size="8.8" text-anchor="middle" stroke="#000" stroke-width="0.22">0</text>
<line x1="562.38" y1="877" x2="562.38" y2="879.5" stroke="#000" stroke-width="1.2"/>
<text x="562.38" y="888.3" font-size="8.8" text-anchor="middle" stroke="#000" stroke-width="0.22">20</text>
<line x1="583.56" y1="877" x2="583.56" y2="879.5" stroke="#000" stroke-width="1.2"/>
<text x="583.56" y="888.3" font-size="8.8" text-anchor="middle" stroke="#000" stroke-width="0.22">40</text>
<line x1="604.74" y1="877" x2="604.74" y2="879.5" stroke="#000" stroke-width="1.2"/>
<text x="604.74" y="888.3" font-size="8.8" text-anchor="middle" stroke="#000" stroke-width="0.22">60</text>
<line x1="625.92" y1="877" x2="625.92" y2="879.5" stroke="#000" stroke-width="1.2"/>
<text x="625.92" y="888.3" font-size="8.8" text-anchor="middle" stroke="#000" stroke-width="0.22">80</text>
<line x1="647.1" y1="877" x2="647.1" y2="879.5" stroke="#000" stroke-width="1.2"/>
<text x="647.1" y="888.3" font-size="8.8" text-anchor="middle" stroke="#000" stroke-width="0.22">100</text>
<path d="M541.2 812.5 L601.56 812.5 L601.56 817.01 L628.04 817.01 L628.04 821.53 L647.1 821.53 L647.1 821.53" fill="none" stroke="#F05050" stroke-width="0.8"/>
<circle cx="601.56" cy="817.01" r="2" fill="#F03030"/>
<circle cx="628.04" cy="821.53" r="2" fill="#F03030"/>
<circle cx="644.98" cy="821.53" r="2" fill="#F03030"/>
<path d="M541.2 812.5 L579.32 812.5 L579.32 822.17 L583.56 822.17 L583.56 827.34 L594.15 827.34 L594.15 832.5 L597.33 832.5 L597.33 847.33 L600.5 847.33 L600.5 852.49 L607.92 852.49 L607.92 862.16 L628.04 862.16 L628.04 867.33 L638.63 867.33 L638.63 871.84 L647.1 871.84 L647.1 871.84" fill="none" stroke="#111" stroke-width="1.1"/>
<rect x="577.12" y="819.97" width="4.4" height="4.4" fill="#111"/>
<rect x="581.36" y="825.13" width="4.4" height="4.4" fill="#111"/>
<rect x="591.95" y="830.29" width="4.4" height="4.4" fill="#111"/>
<rect x="595.13" y="845.13" width="4.4" height="4.4" fill="#111"/>
<rect x="598.3" y="850.29" width="4.4" height="4.4" fill="#111"/>
<rect x="605.72" y="859.96" width="4.4" height="4.4" fill="#111"/>
<rect x="625.84" y="865.12" width="4.4" height="4.4" fill="#111"/>
<rect x="636.43" y="869.64" width="4.4" height="4.4" fill="#111"/>
<rect x="642.78" y="869.64" width="4.4" height="4.4" fill="#111"/>
<text x="639.5" y="848" font-size="12" text-anchor="middle" font-weight="bold">****</text>
<text x="522" y="847.3" font-size="8.8" text-anchor="middle" transform="rotate(-90 522 847.3)" stroke="#000" stroke-width="0.22">% Survival</text>
<text x="589.2" y="899.4" font-size="8.9" text-anchor="middle" stroke="#000" stroke-width="0.22">Days after HCT</text>
</svg></body></html>
